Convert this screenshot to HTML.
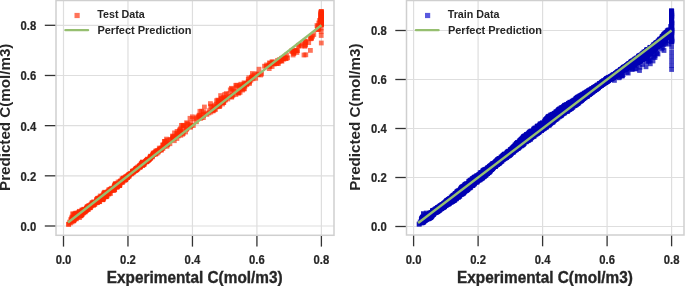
<!DOCTYPE html>
<html><head><meta charset="utf-8"><style>
html,body{margin:0;padding:0;background:#fff;width:685px;height:286px;overflow:hidden}
svg{display:block;will-change:transform}
text{font-family:"Liberation Sans", sans-serif;font-weight:bold;fill:#262626}
.tk{font-size:12.2px;stroke:#262626;stroke-width:0.2px}
.al{font-size:15.4px}
.lg{font-size:11px}
.sc rect{width:4.8px;height:4.8px}
</style></head><body>
<svg width="685" height="286" viewBox="0 0 685 286">
<rect width="685" height="286" fill="#fff"/>
<line x1="63.50" y1="0.50" x2="63.50" y2="235.30" stroke="#dedede" stroke-width="1.2"/>
<line x1="56.00" y1="226.00" x2="334.00" y2="226.00" stroke="#dedede" stroke-width="1.2"/>
<line x1="127.97" y1="0.50" x2="127.97" y2="235.30" stroke="#dedede" stroke-width="1.2"/>
<line x1="56.00" y1="175.82" x2="334.00" y2="175.82" stroke="#dedede" stroke-width="1.2"/>
<line x1="192.45" y1="0.50" x2="192.45" y2="235.30" stroke="#dedede" stroke-width="1.2"/>
<line x1="56.00" y1="125.65" x2="334.00" y2="125.65" stroke="#dedede" stroke-width="1.2"/>
<line x1="256.92" y1="0.50" x2="256.92" y2="235.30" stroke="#dedede" stroke-width="1.2"/>
<line x1="56.00" y1="75.48" x2="334.00" y2="75.48" stroke="#dedede" stroke-width="1.2"/>
<line x1="321.40" y1="0.50" x2="321.40" y2="235.30" stroke="#dedede" stroke-width="1.2"/>
<line x1="56.00" y1="25.30" x2="334.00" y2="25.30" stroke="#dedede" stroke-width="1.2"/>
<line x1="413.60" y1="0.50" x2="413.60" y2="235.00" stroke="#dedede" stroke-width="1.2"/>
<line x1="406.50" y1="226.50" x2="684.00" y2="226.50" stroke="#dedede" stroke-width="1.2"/>
<line x1="478.10" y1="0.50" x2="478.10" y2="235.00" stroke="#dedede" stroke-width="1.2"/>
<line x1="406.50" y1="177.50" x2="684.00" y2="177.50" stroke="#dedede" stroke-width="1.2"/>
<line x1="542.60" y1="0.50" x2="542.60" y2="235.00" stroke="#dedede" stroke-width="1.2"/>
<line x1="406.50" y1="128.50" x2="684.00" y2="128.50" stroke="#dedede" stroke-width="1.2"/>
<line x1="607.10" y1="0.50" x2="607.10" y2="235.00" stroke="#dedede" stroke-width="1.2"/>
<line x1="406.50" y1="79.50" x2="684.00" y2="79.50" stroke="#dedede" stroke-width="1.2"/>
<line x1="671.60" y1="0.50" x2="671.60" y2="235.00" stroke="#dedede" stroke-width="1.2"/>
<line x1="406.50" y1="30.50" x2="684.00" y2="30.50" stroke="#dedede" stroke-width="1.2"/>
<g class="sc" fill="rgb(255,40,0)" fill-opacity="0.65"><rect x="122.1" y="177.8" width="4.8" height="4.8"/><rect x="146.3" y="157.4" width="4.8" height="4.8"/><rect x="135.4" y="164.6" width="4.8" height="4.8"/><rect x="87.8" y="205.3" width="4.8" height="4.8"/><rect x="94.1" y="199.0" width="4.8" height="4.8"/><rect x="144.1" y="159.5" width="4.8" height="4.8"/><rect x="69.5" y="218.5" width="4.8" height="4.8"/><rect x="139.4" y="161.4" width="4.8" height="4.8"/><rect x="137.3" y="163.4" width="4.8" height="4.8"/><rect x="108.4" y="187.9" width="4.8" height="4.8"/><rect x="94.3" y="196.9" width="4.8" height="4.8"/><rect x="92.2" y="201.9" width="4.8" height="4.8"/><rect x="90.2" y="200.2" width="4.8" height="4.8"/><rect x="106.4" y="187.4" width="4.8" height="4.8"/><rect x="111.6" y="187.2" width="4.8" height="4.8"/><rect x="115.8" y="182.6" width="4.8" height="4.8"/><rect x="156.9" y="145.7" width="4.8" height="4.8"/><rect x="136.9" y="164.1" width="4.8" height="4.8"/><rect x="121.8" y="176.9" width="4.8" height="4.8"/><rect x="156.0" y="149.6" width="4.8" height="4.8"/><rect x="86.9" y="203.3" width="4.8" height="4.8"/><rect x="82.3" y="209.1" width="4.8" height="4.8"/><rect x="121.0" y="175.8" width="4.8" height="4.8"/><rect x="72.7" y="213.3" width="4.8" height="4.8"/><rect x="72.0" y="217.0" width="4.8" height="4.8"/><rect x="112.4" y="182.9" width="4.8" height="4.8"/><rect x="108.2" y="187.6" width="4.8" height="4.8"/><rect x="148.1" y="154.8" width="4.8" height="4.8"/><rect x="122.4" y="177.5" width="4.8" height="4.8"/><rect x="112.4" y="184.1" width="4.8" height="4.8"/><rect x="110.9" y="185.9" width="4.8" height="4.8"/><rect x="89.6" y="201.6" width="4.8" height="4.8"/><rect x="70.0" y="217.1" width="4.8" height="4.8"/><rect x="85.0" y="205.4" width="4.8" height="4.8"/><rect x="127.9" y="171.6" width="4.8" height="4.8"/><rect x="85.7" y="206.9" width="4.8" height="4.8"/><rect x="100.0" y="194.5" width="4.8" height="4.8"/><rect x="69.4" y="215.8" width="4.8" height="4.8"/><rect x="140.2" y="159.7" width="4.8" height="4.8"/><rect x="81.8" y="207.5" width="4.8" height="4.8"/><rect x="91.3" y="199.3" width="4.8" height="4.8"/><rect x="144.8" y="157.1" width="4.8" height="4.8"/><rect x="112.0" y="187.3" width="4.8" height="4.8"/><rect x="141.8" y="160.4" width="4.8" height="4.8"/><rect x="123.3" y="174.4" width="4.8" height="4.8"/><rect x="132.3" y="168.5" width="4.8" height="4.8"/><rect x="76.6" y="209.7" width="4.8" height="4.8"/><rect x="114.7" y="184.1" width="4.8" height="4.8"/><rect x="111.8" y="184.2" width="4.8" height="4.8"/><rect x="143.9" y="159.0" width="4.8" height="4.8"/><rect x="99.3" y="194.0" width="4.8" height="4.8"/><rect x="119.7" y="179.6" width="4.8" height="4.8"/><rect x="73.9" y="211.5" width="4.8" height="4.8"/><rect x="101.5" y="193.0" width="4.8" height="4.8"/><rect x="96.0" y="199.1" width="4.8" height="4.8"/><rect x="81.5" y="207.2" width="4.8" height="4.8"/><rect x="139.0" y="162.0" width="4.8" height="4.8"/><rect x="100.8" y="194.9" width="4.8" height="4.8"/><rect x="154.7" y="149.2" width="4.8" height="4.8"/><rect x="119.0" y="179.0" width="4.8" height="4.8"/><rect x="120.3" y="178.4" width="4.8" height="4.8"/><rect x="123.2" y="176.9" width="4.8" height="4.8"/><rect x="126.6" y="172.2" width="4.8" height="4.8"/><rect x="81.5" y="206.8" width="4.8" height="4.8"/><rect x="106.0" y="191.1" width="4.8" height="4.8"/><rect x="89.0" y="202.7" width="4.8" height="4.8"/><rect x="102.8" y="190.5" width="4.8" height="4.8"/><rect x="77.0" y="210.7" width="4.8" height="4.8"/><rect x="153.3" y="148.8" width="4.8" height="4.8"/><rect x="86.9" y="204.5" width="4.8" height="4.8"/><rect x="126.2" y="172.5" width="4.8" height="4.8"/><rect x="94.1" y="197.7" width="4.8" height="4.8"/><rect x="144.2" y="159.0" width="4.8" height="4.8"/><rect x="125.3" y="174.9" width="4.8" height="4.8"/><rect x="79.9" y="208.4" width="4.8" height="4.8"/><rect x="141.6" y="161.9" width="4.8" height="4.8"/><rect x="150.8" y="152.0" width="4.8" height="4.8"/><rect x="146.9" y="157.0" width="4.8" height="4.8"/><rect x="117.2" y="183.1" width="4.8" height="4.8"/><rect x="81.1" y="209.3" width="4.8" height="4.8"/><rect x="85.0" y="205.0" width="4.8" height="4.8"/><rect x="149.1" y="154.2" width="4.8" height="4.8"/><rect x="115.7" y="179.6" width="4.8" height="4.8"/><rect x="84.0" y="205.7" width="4.8" height="4.8"/><rect x="145.1" y="157.6" width="4.8" height="4.8"/><rect x="123.5" y="176.5" width="4.8" height="4.8"/><rect x="117.2" y="183.0" width="4.8" height="4.8"/><rect x="100.5" y="193.4" width="4.8" height="4.8"/><rect x="103.5" y="194.1" width="4.8" height="4.8"/><rect x="89.0" y="203.0" width="4.8" height="4.8"/><rect x="72.2" y="215.7" width="4.8" height="4.8"/><rect x="144.4" y="158.9" width="4.8" height="4.8"/><rect x="108.4" y="186.8" width="4.8" height="4.8"/><rect x="115.3" y="183.0" width="4.8" height="4.8"/><rect x="95.9" y="196.8" width="4.8" height="4.8"/><rect x="133.2" y="168.1" width="4.8" height="4.8"/><rect x="71.1" y="218.2" width="4.8" height="4.8"/><rect x="100.2" y="197.4" width="4.8" height="4.8"/><rect x="71.6" y="215.0" width="4.8" height="4.8"/><rect x="79.2" y="211.1" width="4.8" height="4.8"/><rect x="153.3" y="151.8" width="4.8" height="4.8"/><rect x="124.9" y="175.1" width="4.8" height="4.8"/><rect x="105.0" y="189.6" width="4.8" height="4.8"/><rect x="113.2" y="181.5" width="4.8" height="4.8"/><rect x="144.1" y="158.1" width="4.8" height="4.8"/><rect x="97.8" y="193.6" width="4.8" height="4.8"/><rect x="119.0" y="179.5" width="4.8" height="4.8"/><rect x="127.2" y="171.9" width="4.8" height="4.8"/><rect x="98.8" y="193.9" width="4.8" height="4.8"/><rect x="112.8" y="181.9" width="4.8" height="4.8"/><rect x="134.4" y="166.5" width="4.8" height="4.8"/><rect x="147.4" y="156.1" width="4.8" height="4.8"/><rect x="81.5" y="209.9" width="4.8" height="4.8"/><rect x="149.6" y="154.2" width="4.8" height="4.8"/><rect x="69.5" y="216.7" width="4.8" height="4.8"/><rect x="133.3" y="167.7" width="4.8" height="4.8"/><rect x="138.5" y="163.1" width="4.8" height="4.8"/><rect x="80.4" y="208.6" width="4.8" height="4.8"/><rect x="104.2" y="192.4" width="4.8" height="4.8"/><rect x="138.9" y="161.3" width="4.8" height="4.8"/><rect x="70.2" y="216.3" width="4.8" height="4.8"/><rect x="122.3" y="177.1" width="4.8" height="4.8"/><rect x="136.9" y="164.6" width="4.8" height="4.8"/><rect x="112.3" y="187.1" width="4.8" height="4.8"/><rect x="130.9" y="168.9" width="4.8" height="4.8"/><rect x="87.9" y="205.2" width="4.8" height="4.8"/><rect x="85.5" y="205.7" width="4.8" height="4.8"/><rect x="99.4" y="196.1" width="4.8" height="4.8"/><rect x="83.9" y="205.9" width="4.8" height="4.8"/><rect x="98.0" y="195.2" width="4.8" height="4.8"/><rect x="151.1" y="151.3" width="4.8" height="4.8"/><rect x="117.5" y="179.7" width="4.8" height="4.8"/><rect x="97.5" y="195.4" width="4.8" height="4.8"/><rect x="91.7" y="200.5" width="4.8" height="4.8"/><rect x="151.6" y="152.1" width="4.8" height="4.8"/><rect x="106.4" y="188.5" width="4.8" height="4.8"/><rect x="154.9" y="148.1" width="4.8" height="4.8"/><rect x="112.5" y="184.7" width="4.8" height="4.8"/><rect x="113.0" y="183.6" width="4.8" height="4.8"/><rect x="146.2" y="157.0" width="4.8" height="4.8"/><rect x="132.4" y="167.7" width="4.8" height="4.8"/><rect x="118.2" y="178.4" width="4.8" height="4.8"/><rect x="104.8" y="193.5" width="4.8" height="4.8"/><rect x="144.6" y="158.5" width="4.8" height="4.8"/><rect x="103.6" y="194.4" width="4.8" height="4.8"/><rect x="148.6" y="154.2" width="4.8" height="4.8"/><rect x="74.7" y="211.9" width="4.8" height="4.8"/><rect x="105.1" y="190.9" width="4.8" height="4.8"/><rect x="112.9" y="182.4" width="4.8" height="4.8"/><rect x="151.4" y="152.1" width="4.8" height="4.8"/><rect x="89.9" y="200.8" width="4.8" height="4.8"/><rect x="138.1" y="164.5" width="4.8" height="4.8"/><rect x="126.6" y="173.7" width="4.8" height="4.8"/><rect x="130.2" y="169.1" width="4.8" height="4.8"/><rect x="122.4" y="175.4" width="4.8" height="4.8"/><rect x="153.8" y="148.6" width="4.8" height="4.8"/><rect x="96.8" y="199.2" width="4.8" height="4.8"/><rect x="102.4" y="189.8" width="4.8" height="4.8"/><rect x="85.9" y="206.9" width="4.8" height="4.8"/><rect x="73.2" y="216.3" width="4.8" height="4.8"/><rect x="86.7" y="203.9" width="4.8" height="4.8"/><rect x="147.9" y="155.9" width="4.8" height="4.8"/><rect x="141.1" y="161.5" width="4.8" height="4.8"/><rect x="78.3" y="213.5" width="4.8" height="4.8"/><rect x="120.2" y="176.7" width="4.8" height="4.8"/><rect x="109.4" y="185.8" width="4.8" height="4.8"/><rect x="119.4" y="178.4" width="4.8" height="4.8"/><rect x="125.1" y="173.7" width="4.8" height="4.8"/><rect x="94.6" y="199.1" width="4.8" height="4.8"/><rect x="152.6" y="150.4" width="4.8" height="4.8"/><rect x="108.2" y="187.9" width="4.8" height="4.8"/><rect x="122.3" y="176.6" width="4.8" height="4.8"/><rect x="122.9" y="175.1" width="4.8" height="4.8"/><rect x="84.3" y="207.7" width="4.8" height="4.8"/><rect x="74.1" y="214.7" width="4.8" height="4.8"/><rect x="103.5" y="194.2" width="4.8" height="4.8"/><rect x="134.3" y="167.1" width="4.8" height="4.8"/><rect x="138.9" y="161.5" width="4.8" height="4.8"/><rect x="131.3" y="168.5" width="4.8" height="4.8"/><rect x="78.4" y="213.2" width="4.8" height="4.8"/><rect x="147.7" y="154.9" width="4.8" height="4.8"/><rect x="137.7" y="162.9" width="4.8" height="4.8"/><rect x="144.5" y="159.1" width="4.8" height="4.8"/><rect x="113.2" y="181.4" width="4.8" height="4.8"/><rect x="147.9" y="154.8" width="4.8" height="4.8"/><rect x="72.9" y="212.3" width="4.8" height="4.8"/><rect x="71.5" y="215.3" width="4.8" height="4.8"/><rect x="70.7" y="218.0" width="4.8" height="4.8"/><rect x="90.1" y="202.3" width="4.8" height="4.8"/><rect x="89.7" y="202.3" width="4.8" height="4.8"/><rect x="84.6" y="204.6" width="4.8" height="4.8"/><rect x="117.0" y="182.4" width="4.8" height="4.8"/><rect x="72.3" y="212.4" width="4.8" height="4.8"/><rect x="119.0" y="179.2" width="4.8" height="4.8"/><rect x="82.8" y="209.5" width="4.8" height="4.8"/><rect x="126.7" y="173.6" width="4.8" height="4.8"/><rect x="70.8" y="214.7" width="4.8" height="4.8"/><rect x="95.0" y="198.8" width="4.8" height="4.8"/><rect x="150.1" y="153.2" width="4.8" height="4.8"/><rect x="114.5" y="181.3" width="4.8" height="4.8"/><rect x="138.6" y="162.2" width="4.8" height="4.8"/><rect x="124.9" y="173.7" width="4.8" height="4.8"/><rect x="120.8" y="175.9" width="4.8" height="4.8"/><rect x="84.9" y="204.2" width="4.8" height="4.8"/><rect x="117.6" y="182.6" width="4.8" height="4.8"/><rect x="72.3" y="215.3" width="4.8" height="4.8"/><rect x="137.7" y="164.1" width="4.8" height="4.8"/><rect x="152.4" y="150.1" width="4.8" height="4.8"/><rect x="142.4" y="160.5" width="4.8" height="4.8"/><rect x="73.2" y="214.1" width="4.8" height="4.8"/><rect x="97.3" y="199.3" width="4.8" height="4.8"/><rect x="95.6" y="196.3" width="4.8" height="4.8"/><rect x="78.4" y="210.3" width="4.8" height="4.8"/><rect x="122.2" y="176.2" width="4.8" height="4.8"/><rect x="137.3" y="165.0" width="4.8" height="4.8"/><rect x="95.2" y="195.9" width="4.8" height="4.8"/><rect x="143.2" y="159.0" width="4.8" height="4.8"/><rect x="137.3" y="164.1" width="4.8" height="4.8"/><rect x="79.7" y="212.2" width="4.8" height="4.8"/><rect x="134.6" y="166.8" width="4.8" height="4.8"/><rect x="145.0" y="158.1" width="4.8" height="4.8"/><rect x="85.4" y="204.8" width="4.8" height="4.8"/><rect x="117.6" y="179.2" width="4.8" height="4.8"/><rect x="123.2" y="177.2" width="4.8" height="4.8"/><rect x="120.7" y="179.0" width="4.8" height="4.8"/><rect x="77.0" y="208.9" width="4.8" height="4.8"/><rect x="125.2" y="174.8" width="4.8" height="4.8"/><rect x="122.7" y="177.5" width="4.8" height="4.8"/><rect x="139.7" y="162.9" width="4.8" height="4.8"/><rect x="137.8" y="163.3" width="4.8" height="4.8"/><rect x="96.4" y="196.8" width="4.8" height="4.8"/><rect x="130.6" y="168.8" width="4.8" height="4.8"/><rect x="143.6" y="158.6" width="4.8" height="4.8"/><rect x="145.9" y="158.2" width="4.8" height="4.8"/><rect x="82.4" y="209.1" width="4.8" height="4.8"/><rect x="71.3" y="218.6" width="4.8" height="4.8"/><rect x="124.3" y="173.9" width="4.8" height="4.8"/><rect x="86.9" y="204.3" width="4.8" height="4.8"/><rect x="116.7" y="183.0" width="4.8" height="4.8"/><rect x="150.8" y="150.6" width="4.8" height="4.8"/><rect x="100.8" y="196.5" width="4.8" height="4.8"/><rect x="90.1" y="202.5" width="4.8" height="4.8"/><rect x="107.4" y="188.5" width="4.8" height="4.8"/><rect x="124.9" y="175.0" width="4.8" height="4.8"/><rect x="77.4" y="210.3" width="4.8" height="4.8"/><rect x="100.9" y="191.8" width="4.8" height="4.8"/><rect x="80.1" y="207.7" width="4.8" height="4.8"/><rect x="125.3" y="173.6" width="4.8" height="4.8"/><rect x="140.3" y="162.8" width="4.8" height="4.8"/><rect x="100.6" y="196.8" width="4.8" height="4.8"/><rect x="100.1" y="193.6" width="4.8" height="4.8"/><rect x="114.6" y="185.0" width="4.8" height="4.8"/><rect x="86.9" y="203.7" width="4.8" height="4.8"/><rect x="89.6" y="202.4" width="4.8" height="4.8"/><rect x="96.6" y="195.5" width="4.8" height="4.8"/><rect x="107.5" y="187.0" width="4.8" height="4.8"/><rect x="75.8" y="214.8" width="4.8" height="4.8"/><rect x="133.3" y="166.6" width="4.8" height="4.8"/><rect x="118.0" y="179.1" width="4.8" height="4.8"/><rect x="94.0" y="200.4" width="4.8" height="4.8"/><rect x="75.4" y="212.2" width="4.8" height="4.8"/><rect x="134.2" y="165.8" width="4.8" height="4.8"/><rect x="79.9" y="210.6" width="4.8" height="4.8"/><rect x="80.1" y="210.5" width="4.8" height="4.8"/><rect x="79.9" y="208.8" width="4.8" height="4.8"/><rect x="75.8" y="210.8" width="4.8" height="4.8"/><rect x="147.1" y="156.8" width="4.8" height="4.8"/><rect x="91.5" y="200.4" width="4.8" height="4.8"/><rect x="94.6" y="197.4" width="4.8" height="4.8"/><rect x="140.5" y="161.4" width="4.8" height="4.8"/><rect x="121.6" y="175.9" width="4.8" height="4.8"/><rect x="84.6" y="206.3" width="4.8" height="4.8"/><rect x="105.5" y="191.1" width="4.8" height="4.8"/><rect x="145.1" y="156.7" width="4.8" height="4.8"/><rect x="100.5" y="197.1" width="4.8" height="4.8"/><rect x="129.6" y="170.7" width="4.8" height="4.8"/><rect x="77.0" y="209.5" width="4.8" height="4.8"/><rect x="131.1" y="169.7" width="4.8" height="4.8"/><rect x="135.4" y="166.1" width="4.8" height="4.8"/><rect x="139.8" y="160.0" width="4.8" height="4.8"/><rect x="126.4" y="172.9" width="4.8" height="4.8"/><rect x="100.1" y="197.2" width="4.8" height="4.8"/><rect x="74.3" y="213.8" width="4.8" height="4.8"/><rect x="112.8" y="181.8" width="4.8" height="4.8"/><rect x="133.7" y="166.2" width="4.8" height="4.8"/><rect x="84.9" y="206.0" width="4.8" height="4.8"/><rect x="91.2" y="202.6" width="4.8" height="4.8"/><rect x="114.3" y="182.4" width="4.8" height="4.8"/><rect x="132.9" y="167.5" width="4.8" height="4.8"/><rect x="146.2" y="157.2" width="4.8" height="4.8"/><rect x="79.4" y="207.7" width="4.8" height="4.8"/><rect x="84.3" y="206.7" width="4.8" height="4.8"/><rect x="137.5" y="164.5" width="4.8" height="4.8"/><rect x="123.8" y="175.9" width="4.8" height="4.8"/><rect x="130.5" y="168.8" width="4.8" height="4.8"/><rect x="157.1" y="146.9" width="4.8" height="4.8"/><rect x="150.2" y="152.8" width="4.8" height="4.8"/><rect x="141.4" y="161.9" width="4.8" height="4.8"/><rect x="135.5" y="166.4" width="4.8" height="4.8"/><rect x="102.1" y="192.9" width="4.8" height="4.8"/><rect x="123.5" y="176.7" width="4.8" height="4.8"/><rect x="84.3" y="207.1" width="4.8" height="4.8"/><rect x="133.9" y="167.2" width="4.8" height="4.8"/><rect x="133.8" y="166.9" width="4.8" height="4.8"/><rect x="130.5" y="168.8" width="4.8" height="4.8"/><rect x="106.4" y="191.7" width="4.8" height="4.8"/><rect x="100.7" y="196.4" width="4.8" height="4.8"/><rect x="104.3" y="190.4" width="4.8" height="4.8"/><rect x="71.8" y="213.0" width="4.8" height="4.8"/><rect x="141.5" y="161.7" width="4.8" height="4.8"/><rect x="114.8" y="182.9" width="4.8" height="4.8"/><rect x="101.5" y="195.4" width="4.8" height="4.8"/><rect x="115.3" y="184.2" width="4.8" height="4.8"/><rect x="130.6" y="169.6" width="4.8" height="4.8"/><rect x="101.0" y="194.7" width="4.8" height="4.8"/><rect x="140.3" y="163.0" width="4.8" height="4.8"/><rect x="148.3" y="154.6" width="4.8" height="4.8"/><rect x="101.5" y="190.7" width="4.8" height="4.8"/><rect x="80.4" y="210.0" width="4.8" height="4.8"/><rect x="134.0" y="167.5" width="4.8" height="4.8"/><rect x="156.6" y="147.8" width="4.8" height="4.8"/><rect x="81.3" y="210.5" width="4.8" height="4.8"/><rect x="129.8" y="169.8" width="4.8" height="4.8"/><rect x="139.8" y="161.9" width="4.8" height="4.8"/><rect x="148.4" y="155.5" width="4.8" height="4.8"/><rect x="79.2" y="212.6" width="4.8" height="4.8"/><rect x="76.6" y="210.4" width="4.8" height="4.8"/><rect x="155.9" y="148.6" width="4.8" height="4.8"/><rect x="78.7" y="212.2" width="4.8" height="4.8"/><rect x="83.7" y="208.2" width="4.8" height="4.8"/><rect x="117.7" y="179.8" width="4.8" height="4.8"/><rect x="106.5" y="188.9" width="4.8" height="4.8"/><rect x="133.1" y="166.9" width="4.8" height="4.8"/><rect x="84.8" y="207.0" width="4.8" height="4.8"/><rect x="147.8" y="155.7" width="4.8" height="4.8"/><rect x="87.1" y="205.4" width="4.8" height="4.8"/><rect x="134.8" y="165.4" width="4.8" height="4.8"/><rect x="74.6" y="210.7" width="4.8" height="4.8"/><rect x="108.9" y="186.3" width="4.8" height="4.8"/><rect x="71.7" y="216.8" width="4.8" height="4.8"/><rect x="95.2" y="199.8" width="4.8" height="4.8"/><rect x="95.1" y="200.2" width="4.8" height="4.8"/><rect x="130.4" y="169.8" width="4.8" height="4.8"/><rect x="107.3" y="190.6" width="4.8" height="4.8"/><rect x="73.7" y="213.4" width="4.8" height="4.8"/><rect x="156.9" y="147.9" width="4.8" height="4.8"/><rect x="145.5" y="157.7" width="4.8" height="4.8"/><rect x="148.0" y="155.0" width="4.8" height="4.8"/><rect x="89.5" y="200.6" width="4.8" height="4.8"/><rect x="102.1" y="191.1" width="4.8" height="4.8"/><rect x="87.9" y="204.8" width="4.8" height="4.8"/><rect x="79.4" y="211.9" width="4.8" height="4.8"/><rect x="71.8" y="215.7" width="4.8" height="4.8"/><rect x="111.5" y="188.1" width="4.8" height="4.8"/><rect x="79.2" y="208.9" width="4.8" height="4.8"/><rect x="83.7" y="207.6" width="4.8" height="4.8"/><rect x="143.0" y="159.3" width="4.8" height="4.8"/><rect x="109.8" y="188.1" width="4.8" height="4.8"/><rect x="84.3" y="206.4" width="4.8" height="4.8"/><rect x="126.0" y="174.0" width="4.8" height="4.8"/><rect x="91.2" y="202.6" width="4.8" height="4.8"/><rect x="113.5" y="184.5" width="4.8" height="4.8"/><rect x="92.6" y="200.2" width="4.8" height="4.8"/><rect x="112.6" y="183.1" width="4.8" height="4.8"/><rect x="122.4" y="177.0" width="4.8" height="4.8"/><rect x="114.3" y="184.4" width="4.8" height="4.8"/><rect x="102.2" y="190.4" width="4.8" height="4.8"/><rect x="136.7" y="164.0" width="4.8" height="4.8"/><rect x="144.1" y="158.0" width="4.8" height="4.8"/><rect x="83.9" y="206.7" width="4.8" height="4.8"/><rect x="80.3" y="210.4" width="4.8" height="4.8"/><rect x="78.4" y="213.2" width="4.8" height="4.8"/><rect x="154.8" y="150.7" width="4.8" height="4.8"/><rect x="150.5" y="152.0" width="4.8" height="4.8"/><rect x="88.2" y="202.3" width="4.8" height="4.8"/><rect x="153.6" y="150.9" width="4.8" height="4.8"/><rect x="86.3" y="203.3" width="4.8" height="4.8"/><rect x="111.7" y="184.7" width="4.8" height="4.8"/><rect x="110.9" y="187.7" width="4.8" height="4.8"/><rect x="147.9" y="154.5" width="4.8" height="4.8"/><rect x="72.4" y="211.5" width="4.8" height="4.8"/><rect x="95.4" y="196.2" width="4.8" height="4.8"/><rect x="119.9" y="180.2" width="4.8" height="4.8"/><rect x="74.5" y="214.2" width="4.8" height="4.8"/><rect x="88.7" y="203.9" width="4.8" height="4.8"/><rect x="108.1" y="191.1" width="4.8" height="4.8"/><rect x="144.8" y="158.5" width="4.8" height="4.8"/><rect x="134.1" y="166.3" width="4.8" height="4.8"/><rect x="140.1" y="159.8" width="4.8" height="4.8"/><rect x="134.1" y="166.2" width="4.8" height="4.8"/><rect x="129.3" y="171.0" width="4.8" height="4.8"/><rect x="142.0" y="160.1" width="4.8" height="4.8"/><rect x="127.0" y="172.3" width="4.8" height="4.8"/><rect x="131.8" y="168.8" width="4.8" height="4.8"/><rect x="94.2" y="199.4" width="4.8" height="4.8"/><rect x="82.9" y="208.2" width="4.8" height="4.8"/><rect x="133.7" y="167.4" width="4.8" height="4.8"/><rect x="82.8" y="208.7" width="4.8" height="4.8"/><rect x="148.3" y="153.7" width="4.8" height="4.8"/><rect x="119.6" y="176.5" width="4.8" height="4.8"/><rect x="96.6" y="199.1" width="4.8" height="4.8"/><rect x="150.0" y="154.5" width="4.8" height="4.8"/><rect x="81.9" y="207.5" width="4.8" height="4.8"/><rect x="112.4" y="183.3" width="4.8" height="4.8"/><rect x="76.6" y="212.4" width="4.8" height="4.8"/><rect x="153.1" y="151.1" width="4.8" height="4.8"/><rect x="117.7" y="181.0" width="4.8" height="4.8"/><rect x="137.9" y="163.9" width="4.8" height="4.8"/><rect x="92.5" y="201.8" width="4.8" height="4.8"/><rect x="137.7" y="163.6" width="4.8" height="4.8"/><rect x="128.9" y="171.5" width="4.8" height="4.8"/><rect x="123.7" y="174.6" width="4.8" height="4.8"/><rect x="151.4" y="151.0" width="4.8" height="4.8"/><rect x="105.4" y="189.8" width="4.8" height="4.8"/><rect x="103.9" y="194.1" width="4.8" height="4.8"/><rect x="127.9" y="171.0" width="4.8" height="4.8"/><rect x="140.7" y="160.3" width="4.8" height="4.8"/><rect x="97.0" y="197.6" width="4.8" height="4.8"/><rect x="126.0" y="172.9" width="4.8" height="4.8"/><rect x="86.4" y="204.0" width="4.8" height="4.8"/><rect x="183.2" y="129.6" width="4.8" height="4.8"/><rect x="222.4" y="96.1" width="4.8" height="4.8"/><rect x="158.8" y="146.9" width="4.8" height="4.8"/><rect x="196.7" y="112.8" width="4.8" height="4.8"/><rect x="207.2" y="108.2" width="4.8" height="4.8"/><rect x="160.6" y="145.9" width="4.8" height="4.8"/><rect x="180.6" y="129.1" width="4.8" height="4.8"/><rect x="234.4" y="82.9" width="4.8" height="4.8"/><rect x="243.0" y="81.3" width="4.8" height="4.8"/><rect x="229.3" y="94.8" width="4.8" height="4.8"/><rect x="170.2" y="133.6" width="4.8" height="4.8"/><rect x="221.5" y="97.0" width="4.8" height="4.8"/><rect x="194.0" y="119.4" width="4.8" height="4.8"/><rect x="170.3" y="135.9" width="4.8" height="4.8"/><rect x="196.6" y="114.8" width="4.8" height="4.8"/><rect x="235.9" y="89.6" width="4.8" height="4.8"/><rect x="231.7" y="88.8" width="4.8" height="4.8"/><rect x="188.9" y="123.0" width="4.8" height="4.8"/><rect x="161.5" y="143.5" width="4.8" height="4.8"/><rect x="233.9" y="84.7" width="4.8" height="4.8"/><rect x="242.1" y="83.0" width="4.8" height="4.8"/><rect x="199.2" y="108.8" width="4.8" height="4.8"/><rect x="174.9" y="132.9" width="4.8" height="4.8"/><rect x="202.0" y="104.6" width="4.8" height="4.8"/><rect x="215.4" y="97.7" width="4.8" height="4.8"/><rect x="196.7" y="113.8" width="4.8" height="4.8"/><rect x="185.6" y="122.0" width="4.8" height="4.8"/><rect x="176.8" y="128.8" width="4.8" height="4.8"/><rect x="180.9" y="124.5" width="4.8" height="4.8"/><rect x="160.6" y="142.7" width="4.8" height="4.8"/><rect x="177.4" y="127.3" width="4.8" height="4.8"/><rect x="238.7" y="85.0" width="4.8" height="4.8"/><rect x="158.0" y="146.6" width="4.8" height="4.8"/><rect x="218.2" y="93.2" width="4.8" height="4.8"/><rect x="223.7" y="95.4" width="4.8" height="4.8"/><rect x="190.0" y="114.4" width="4.8" height="4.8"/><rect x="206.5" y="110.6" width="4.8" height="4.8"/><rect x="174.5" y="136.1" width="4.8" height="4.8"/><rect x="212.9" y="107.2" width="4.8" height="4.8"/><rect x="216.5" y="98.1" width="4.8" height="4.8"/><rect x="218.9" y="96.6" width="4.8" height="4.8"/><rect x="197.5" y="108.9" width="4.8" height="4.8"/><rect x="240.4" y="86.6" width="4.8" height="4.8"/><rect x="230.7" y="92.6" width="4.8" height="4.8"/><rect x="204.5" y="112.0" width="4.8" height="4.8"/><rect x="214.2" y="101.7" width="4.8" height="4.8"/><rect x="179.0" y="123.0" width="4.8" height="4.8"/><rect x="237.8" y="82.7" width="4.8" height="4.8"/><rect x="210.9" y="108.4" width="4.8" height="4.8"/><rect x="233.4" y="82.9" width="4.8" height="4.8"/><rect x="180.2" y="131.8" width="4.8" height="4.8"/><rect x="241.7" y="80.4" width="4.8" height="4.8"/><rect x="164.9" y="142.5" width="4.8" height="4.8"/><rect x="200.9" y="115.2" width="4.8" height="4.8"/><rect x="165.4" y="141.9" width="4.8" height="4.8"/><rect x="171.9" y="138.3" width="4.8" height="4.8"/><rect x="221.5" y="98.3" width="4.8" height="4.8"/><rect x="161.7" y="143.9" width="4.8" height="4.8"/><rect x="188.1" y="124.9" width="4.8" height="4.8"/><rect x="172.1" y="130.5" width="4.8" height="4.8"/><rect x="229.3" y="94.1" width="4.8" height="4.8"/><rect x="163.0" y="139.4" width="4.8" height="4.8"/><rect x="184.2" y="120.3" width="4.8" height="4.8"/><rect x="229.8" y="93.0" width="4.8" height="4.8"/><rect x="214.6" y="104.5" width="4.8" height="4.8"/><rect x="216.1" y="98.8" width="4.8" height="4.8"/><rect x="242.6" y="83.8" width="4.8" height="4.8"/><rect x="158.9" y="147.9" width="4.8" height="4.8"/><rect x="212.6" y="106.3" width="4.8" height="4.8"/><rect x="219.8" y="99.5" width="4.8" height="4.8"/><rect x="220.1" y="100.0" width="4.8" height="4.8"/><rect x="217.0" y="101.5" width="4.8" height="4.8"/><rect x="162.2" y="139.1" width="4.8" height="4.8"/><rect x="163.2" y="141.1" width="4.8" height="4.8"/><rect x="222.3" y="92.1" width="4.8" height="4.8"/><rect x="208.0" y="101.2" width="4.8" height="4.8"/><rect x="178.0" y="126.4" width="4.8" height="4.8"/><rect x="158.1" y="146.8" width="4.8" height="4.8"/><rect x="201.1" y="109.4" width="4.8" height="4.8"/><rect x="163.7" y="140.5" width="4.8" height="4.8"/><rect x="220.1" y="101.6" width="4.8" height="4.8"/><rect x="184.6" y="126.1" width="4.8" height="4.8"/><rect x="225.4" y="96.6" width="4.8" height="4.8"/><rect x="164.1" y="136.7" width="4.8" height="4.8"/><rect x="197.7" y="113.0" width="4.8" height="4.8"/><rect x="164.5" y="143.9" width="4.8" height="4.8"/><rect x="223.0" y="97.7" width="4.8" height="4.8"/><rect x="203.4" y="110.7" width="4.8" height="4.8"/><rect x="175.7" y="132.7" width="4.8" height="4.8"/><rect x="239.7" y="83.9" width="4.8" height="4.8"/><rect x="214.2" y="98.3" width="4.8" height="4.8"/><rect x="184.2" y="126.9" width="4.8" height="4.8"/><rect x="229.7" y="86.6" width="4.8" height="4.8"/><rect x="187.9" y="124.0" width="4.8" height="4.8"/><rect x="237.7" y="89.9" width="4.8" height="4.8"/><rect x="180.9" y="131.0" width="4.8" height="4.8"/><rect x="241.9" y="86.4" width="4.8" height="4.8"/><rect x="161.5" y="143.0" width="4.8" height="4.8"/><rect x="218.9" y="96.1" width="4.8" height="4.8"/><rect x="180.4" y="122.9" width="4.8" height="4.8"/><rect x="191.7" y="116.3" width="4.8" height="4.8"/><rect x="210.1" y="108.4" width="4.8" height="4.8"/><rect x="160.3" y="142.6" width="4.8" height="4.8"/><rect x="174.7" y="129.0" width="4.8" height="4.8"/><rect x="164.8" y="137.9" width="4.8" height="4.8"/><rect x="219.3" y="99.4" width="4.8" height="4.8"/><rect x="174.5" y="131.0" width="4.8" height="4.8"/><rect x="198.1" y="116.0" width="4.8" height="4.8"/><rect x="183.5" y="125.3" width="4.8" height="4.8"/><rect x="175.8" y="133.6" width="4.8" height="4.8"/><rect x="237.1" y="84.0" width="4.8" height="4.8"/><rect x="198.9" y="115.3" width="4.8" height="4.8"/><rect x="211.4" y="104.2" width="4.8" height="4.8"/><rect x="216.2" y="100.7" width="4.8" height="4.8"/><rect x="226.6" y="91.5" width="4.8" height="4.8"/><rect x="178.0" y="128.6" width="4.8" height="4.8"/><rect x="162.7" y="142.7" width="4.8" height="4.8"/><rect x="195.4" y="114.4" width="4.8" height="4.8"/><rect x="170.3" y="134.4" width="4.8" height="4.8"/><rect x="158.7" y="145.6" width="4.8" height="4.8"/><rect x="235.6" y="90.5" width="4.8" height="4.8"/><rect x="209.3" y="104.7" width="4.8" height="4.8"/><rect x="190.9" y="123.1" width="4.8" height="4.8"/><rect x="167.5" y="137.4" width="4.8" height="4.8"/><rect x="221.2" y="100.0" width="4.8" height="4.8"/><rect x="201.1" y="113.3" width="4.8" height="4.8"/><rect x="170.6" y="136.5" width="4.8" height="4.8"/><rect x="241.7" y="81.7" width="4.8" height="4.8"/><rect x="238.5" y="81.8" width="4.8" height="4.8"/><rect x="236.3" y="90.7" width="4.8" height="4.8"/><rect x="227.1" y="94.3" width="4.8" height="4.8"/><rect x="201.0" y="112.0" width="4.8" height="4.8"/><rect x="181.2" y="123.2" width="4.8" height="4.8"/><rect x="211.5" y="107.6" width="4.8" height="4.8"/><rect x="168.7" y="137.1" width="4.8" height="4.8"/><rect x="208.4" y="109.7" width="4.8" height="4.8"/><rect x="161.7" y="141.8" width="4.8" height="4.8"/><rect x="158.3" y="147.0" width="4.8" height="4.8"/><rect x="217.1" y="104.1" width="4.8" height="4.8"/><rect x="184.8" y="121.2" width="4.8" height="4.8"/><rect x="215.5" y="103.1" width="4.8" height="4.8"/><rect x="222.9" y="96.5" width="4.8" height="4.8"/><rect x="227.9" y="87.5" width="4.8" height="4.8"/><rect x="208.3" y="103.9" width="4.8" height="4.8"/><rect x="229.0" y="85.9" width="4.8" height="4.8"/><rect x="212.1" y="102.7" width="4.8" height="4.8"/><rect x="236.3" y="89.9" width="4.8" height="4.8"/><rect x="233.5" y="92.1" width="4.8" height="4.8"/><rect x="160.1" y="145.7" width="4.8" height="4.8"/><rect x="178.4" y="132.9" width="4.8" height="4.8"/><rect x="188.7" y="120.2" width="4.8" height="4.8"/><rect x="177.1" y="128.5" width="4.8" height="4.8"/><rect x="170.8" y="134.5" width="4.8" height="4.8"/><rect x="231.4" y="88.5" width="4.8" height="4.8"/><rect x="159.0" y="146.4" width="4.8" height="4.8"/><rect x="171.3" y="134.8" width="4.8" height="4.8"/><rect x="221.2" y="95.0" width="4.8" height="4.8"/><rect x="174.7" y="132.2" width="4.8" height="4.8"/><rect x="177.6" y="130.1" width="4.8" height="4.8"/><rect x="240.1" y="87.7" width="4.8" height="4.8"/><rect x="221.4" y="100.1" width="4.8" height="4.8"/><rect x="193.8" y="115.4" width="4.8" height="4.8"/><rect x="167.5" y="141.3" width="4.8" height="4.8"/><rect x="178.5" y="129.2" width="4.8" height="4.8"/><rect x="241.5" y="86.4" width="4.8" height="4.8"/><rect x="223.9" y="91.2" width="4.8" height="4.8"/><rect x="162.0" y="139.0" width="4.8" height="4.8"/><rect x="216.4" y="103.9" width="4.8" height="4.8"/><rect x="187.6" y="115.9" width="4.8" height="4.8"/><rect x="217.5" y="103.4" width="4.8" height="4.8"/><rect x="271.5" y="61.3" width="4.8" height="4.8"/><rect x="267.6" y="60.9" width="4.8" height="4.8"/><rect x="316.3" y="26.0" width="4.8" height="4.8"/><rect x="291.7" y="48.6" width="4.8" height="4.8"/><rect x="269.7" y="64.1" width="4.8" height="4.8"/><rect x="266.8" y="63.7" width="4.8" height="4.8"/><rect x="298.7" y="41.7" width="4.8" height="4.8"/><rect x="249.1" y="75.1" width="4.8" height="4.8"/><rect x="302.6" y="43.6" width="4.8" height="4.8"/><rect x="290.9" y="49.4" width="4.8" height="4.8"/><rect x="271.9" y="61.6" width="4.8" height="4.8"/><rect x="294.1" y="47.9" width="4.8" height="4.8"/><rect x="269.2" y="61.4" width="4.8" height="4.8"/><rect x="252.0" y="72.3" width="4.8" height="4.8"/><rect x="270.6" y="60.2" width="4.8" height="4.8"/><rect x="246.4" y="75.4" width="4.8" height="4.8"/><rect x="248.5" y="77.9" width="4.8" height="4.8"/><rect x="272.2" y="60.6" width="4.8" height="4.8"/><rect x="303.2" y="42.3" width="4.8" height="4.8"/><rect x="255.9" y="72.2" width="4.8" height="4.8"/><rect x="276.9" y="57.3" width="4.8" height="4.8"/><rect x="315.0" y="27.2" width="4.8" height="4.8"/><rect x="303.4" y="38.8" width="4.8" height="4.8"/><rect x="309.2" y="35.8" width="4.8" height="4.8"/><rect x="291.2" y="50.8" width="4.8" height="4.8"/><rect x="284.1" y="52.7" width="4.8" height="4.8"/><rect x="283.5" y="56.2" width="4.8" height="4.8"/><rect x="285.2" y="55.4" width="4.8" height="4.8"/><rect x="274.2" y="61.2" width="4.8" height="4.8"/><rect x="266.5" y="63.0" width="4.8" height="4.8"/><rect x="258.2" y="72.6" width="4.8" height="4.8"/><rect x="247.2" y="81.0" width="4.8" height="4.8"/><rect x="267.1" y="63.5" width="4.8" height="4.8"/><rect x="298.9" y="43.5" width="4.8" height="4.8"/><rect x="281.1" y="56.1" width="4.8" height="4.8"/><rect x="253.3" y="75.9" width="4.8" height="4.8"/><rect x="302.4" y="43.6" width="4.8" height="4.8"/><rect x="245.8" y="79.3" width="4.8" height="4.8"/><rect x="311.4" y="32.1" width="4.8" height="4.8"/><rect x="289.3" y="48.4" width="4.8" height="4.8"/><rect x="281.4" y="56.8" width="4.8" height="4.8"/><rect x="270.3" y="59.5" width="4.8" height="4.8"/><rect x="303.2" y="40.1" width="4.8" height="4.8"/><rect x="243.9" y="81.3" width="4.8" height="4.8"/><rect x="244.4" y="82.3" width="4.8" height="4.8"/><rect x="278.5" y="58.3" width="4.8" height="4.8"/><rect x="262.1" y="63.8" width="4.8" height="4.8"/><rect x="269.5" y="59.5" width="4.8" height="4.8"/><rect x="279.8" y="56.2" width="4.8" height="4.8"/><rect x="245.9" y="77.0" width="4.8" height="4.8"/><rect x="315.3" y="24.3" width="4.8" height="4.8"/><rect x="291.5" y="51.0" width="4.8" height="4.8"/><rect x="249.2" y="74.7" width="4.8" height="4.8"/><rect x="296.4" y="43.6" width="4.8" height="4.8"/><rect x="279.5" y="58.8" width="4.8" height="4.8"/><rect x="292.2" y="48.3" width="4.8" height="4.8"/><rect x="296.3" y="42.9" width="4.8" height="4.8"/><rect x="316.0" y="27.2" width="4.8" height="4.8"/><rect x="250.5" y="73.4" width="4.8" height="4.8"/><rect x="316.3" y="23.2" width="4.8" height="4.8"/><rect x="275.1" y="58.1" width="4.8" height="4.8"/><rect x="255.7" y="71.8" width="4.8" height="4.8"/><rect x="267.5" y="63.9" width="4.8" height="4.8"/><rect x="266.8" y="66.2" width="4.8" height="4.8"/><rect x="308.7" y="36.0" width="4.8" height="4.8"/><rect x="278.8" y="58.2" width="4.8" height="4.8"/><rect x="247.3" y="79.4" width="4.8" height="4.8"/><rect x="294.5" y="50.1" width="4.8" height="4.8"/><rect x="276.7" y="59.1" width="4.8" height="4.8"/><rect x="302.4" y="38.9" width="4.8" height="4.8"/><rect x="246.1" y="79.3" width="4.8" height="4.8"/><rect x="306.3" y="40.2" width="4.8" height="4.8"/><rect x="308.5" y="35.2" width="4.8" height="4.8"/><rect x="244.0" y="81.4" width="4.8" height="4.8"/><rect x="275.1" y="60.9" width="4.8" height="4.8"/><rect x="250.7" y="76.4" width="4.8" height="4.8"/><rect x="279.2" y="55.9" width="4.8" height="4.8"/><rect x="248.6" y="76.3" width="4.8" height="4.8"/><rect x="308.0" y="36.4" width="4.8" height="4.8"/><rect x="254.6" y="71.3" width="4.8" height="4.8"/><rect x="290.7" y="52.6" width="4.8" height="4.8"/><rect x="289.5" y="49.1" width="4.8" height="4.8"/><rect x="263.7" y="63.9" width="4.8" height="4.8"/><rect x="256.6" y="66.8" width="4.8" height="4.8"/><rect x="310.2" y="33.8" width="4.8" height="4.8"/><rect x="245.7" y="80.8" width="4.8" height="4.8"/><rect x="259.2" y="71.6" width="4.8" height="4.8"/><rect x="264.2" y="62.5" width="4.8" height="4.8"/><rect x="283.7" y="56.0" width="4.8" height="4.8"/><rect x="267.1" y="60.5" width="4.8" height="4.8"/><rect x="250.0" y="71.1" width="4.8" height="4.8"/><rect x="282.6" y="54.7" width="4.8" height="4.8"/><rect x="295.2" y="48.2" width="4.8" height="4.8"/><rect x="293.7" y="48.4" width="4.8" height="4.8"/><rect x="276.1" y="61.0" width="4.8" height="4.8"/><rect x="318.9" y="9.0" width="4.8" height="4.8"/><rect x="318.9" y="9.3" width="4.8" height="4.8"/><rect x="318.8" y="9.6" width="4.8" height="4.8"/><rect x="318.7" y="9.9" width="4.8" height="4.8"/><rect x="318.8" y="10.2" width="4.8" height="4.8"/><rect x="318.7" y="10.5" width="4.8" height="4.8"/><rect x="318.9" y="10.8" width="4.8" height="4.8"/><rect x="318.8" y="11.1" width="4.8" height="4.8"/><rect x="318.7" y="11.4" width="4.8" height="4.8"/><rect x="318.9" y="11.7" width="4.8" height="4.8"/><rect x="318.8" y="12.0" width="4.8" height="4.8"/><rect x="318.7" y="12.3" width="4.8" height="4.8"/><rect x="318.8" y="12.6" width="4.8" height="4.8"/><rect x="318.8" y="12.9" width="4.8" height="4.8"/><rect x="319.0" y="13.2" width="4.8" height="4.8"/><rect x="318.7" y="13.5" width="4.8" height="4.8"/><rect x="318.8" y="13.8" width="4.8" height="4.8"/><rect x="319.0" y="14.1" width="4.8" height="4.8"/><rect x="318.8" y="14.4" width="4.8" height="4.8"/><rect x="318.9" y="14.7" width="4.8" height="4.8"/><rect x="318.6" y="15.0" width="4.8" height="4.8"/><rect x="318.8" y="15.3" width="4.8" height="4.8"/><rect x="318.7" y="15.6" width="4.8" height="4.8"/><rect x="319.0" y="15.9" width="4.8" height="4.8"/><rect x="318.8" y="16.2" width="4.8" height="4.8"/><rect x="318.7" y="16.5" width="4.8" height="4.8"/><rect x="318.6" y="16.8" width="4.8" height="4.8"/><rect x="318.8" y="17.1" width="4.8" height="4.8"/><rect x="318.6" y="17.4" width="4.8" height="4.8"/><rect x="318.8" y="17.7" width="4.8" height="4.8"/><rect x="318.9" y="18.0" width="4.8" height="4.8"/><rect x="318.7" y="18.3" width="4.8" height="4.8"/><rect x="318.7" y="18.6" width="4.8" height="4.8"/><rect x="318.7" y="18.9" width="4.8" height="4.8"/><rect x="318.7" y="19.2" width="4.8" height="4.8"/><rect x="318.9" y="19.5" width="4.8" height="4.8"/><rect x="318.6" y="19.8" width="4.8" height="4.8"/><rect x="318.9" y="20.1" width="4.8" height="4.8"/><rect x="318.7" y="20.4" width="4.8" height="4.8"/><rect x="318.9" y="20.7" width="4.8" height="4.8"/><rect x="318.9" y="21.0" width="4.8" height="4.8"/><rect x="318.7" y="21.3" width="4.8" height="4.8"/><rect x="318.9" y="21.6" width="4.8" height="4.8"/><rect x="319.0" y="21.9" width="4.8" height="4.8"/><rect x="318.8" y="22.2" width="4.8" height="4.8"/><rect x="318.9" y="22.5" width="4.8" height="4.8"/><rect x="316.4" y="20.6" width="4.8" height="4.8"/><rect x="314.6" y="23.1" width="4.8" height="4.8"/><rect x="317.1" y="18.1" width="4.8" height="4.8"/><rect x="318.8" y="25.6" width="4.8" height="4.8"/><rect x="318.8" y="29.1" width="4.8" height="4.8"/><rect x="318.8" y="33.1" width="4.8" height="4.8"/><rect x="318.9" y="40.6" width="4.8" height="4.8"/><rect x="303.4" y="52.4" width="4.8" height="4.8"/><rect x="308.0" y="48.0" width="4.8" height="4.8"/><rect x="301.6" y="52.6" width="4.8" height="4.8"/><rect x="66.1" y="221.9" width="4.8" height="4.8"/><rect x="66.3" y="221.9" width="4.8" height="4.8"/><rect x="67.2" y="219.7" width="4.8" height="4.8"/><rect x="68.3" y="217.2" width="4.8" height="4.8"/><rect x="69.5" y="214.7" width="4.8" height="4.8"/><rect x="70.4" y="211.3" width="4.8" height="4.8"/><rect x="70.6" y="212.2" width="4.8" height="4.8"/><rect x="68.1" y="220.6" width="4.8" height="4.8"/><rect x="69.6" y="219.6" width="4.8" height="4.8"/><rect x="71.7" y="217.8" width="4.8" height="4.8"/><rect x="74.1" y="216.4" width="4.8" height="4.8"/><rect x="77.2" y="215.1" width="4.8" height="4.8"/><rect x="69.1" y="218.1" width="4.8" height="4.8"/><rect x="71.1" y="215.6" width="4.8" height="4.8"/><rect x="73.2" y="210.8" width="4.8" height="4.8"/><rect x="74.6" y="212.1" width="4.8" height="4.8"/><rect x="72.6" y="213.6" width="4.8" height="4.8"/></g>
<g class="sc" fill="rgb(0,0,180)" fill-opacity="0.72"><rect x="499.0" y="158.4" width="4.8" height="4.8"/><rect x="462.4" y="184.7" width="4.8" height="4.8"/><rect x="603.4" y="79.5" width="4.8" height="4.8"/><rect x="622.2" y="64.6" width="4.8" height="4.8"/><rect x="470.2" y="178.4" width="4.8" height="4.8"/><rect x="447.3" y="196.3" width="4.8" height="4.8"/><rect x="506.4" y="149.9" width="4.8" height="4.8"/><rect x="574.1" y="99.6" width="4.8" height="4.8"/><rect x="509.5" y="148.3" width="4.8" height="4.8"/><rect x="657.7" y="37.2" width="4.8" height="4.8"/><rect x="615.0" y="70.8" width="4.8" height="4.8"/><rect x="645.9" y="50.6" width="4.8" height="4.8"/><rect x="567.6" y="107.0" width="4.8" height="4.8"/><rect x="606.2" y="76.8" width="4.8" height="4.8"/><rect x="654.5" y="41.2" width="4.8" height="4.8"/><rect x="428.0" y="214.8" width="4.8" height="4.8"/><rect x="561.4" y="110.9" width="4.8" height="4.8"/><rect x="465.5" y="181.4" width="4.8" height="4.8"/><rect x="615.9" y="71.2" width="4.8" height="4.8"/><rect x="476.8" y="176.2" width="4.8" height="4.8"/><rect x="602.7" y="80.0" width="4.8" height="4.8"/><rect x="501.5" y="155.5" width="4.8" height="4.8"/><rect x="580.4" y="94.8" width="4.8" height="4.8"/><rect x="587.2" y="89.9" width="4.8" height="4.8"/><rect x="644.0" y="48.3" width="4.8" height="4.8"/><rect x="635.0" y="60.3" width="4.8" height="4.8"/><rect x="527.5" y="130.2" width="4.8" height="4.8"/><rect x="589.7" y="89.8" width="4.8" height="4.8"/><rect x="464.3" y="184.2" width="4.8" height="4.8"/><rect x="443.5" y="202.4" width="4.8" height="4.8"/><rect x="595.9" y="84.8" width="4.8" height="4.8"/><rect x="643.6" y="50.4" width="4.8" height="4.8"/><rect x="603.9" y="78.0" width="4.8" height="4.8"/><rect x="547.0" y="119.4" width="4.8" height="4.8"/><rect x="575.0" y="99.3" width="4.8" height="4.8"/><rect x="599.8" y="79.4" width="4.8" height="4.8"/><rect x="560.1" y="108.8" width="4.8" height="4.8"/><rect x="509.0" y="151.3" width="4.8" height="4.8"/><rect x="629.7" y="60.3" width="4.8" height="4.8"/><rect x="510.6" y="148.3" width="4.8" height="4.8"/><rect x="642.8" y="49.3" width="4.8" height="4.8"/><rect x="617.0" y="68.8" width="4.8" height="4.8"/><rect x="615.4" y="69.4" width="4.8" height="4.8"/><rect x="625.5" y="62.7" width="4.8" height="4.8"/><rect x="663.3" y="37.1" width="4.8" height="4.8"/><rect x="664.1" y="34.9" width="4.8" height="4.8"/><rect x="543.2" y="120.7" width="4.8" height="4.8"/><rect x="512.5" y="147.9" width="4.8" height="4.8"/><rect x="600.6" y="81.5" width="4.8" height="4.8"/><rect x="658.7" y="38.1" width="4.8" height="4.8"/><rect x="575.1" y="94.9" width="4.8" height="4.8"/><rect x="425.6" y="213.3" width="4.8" height="4.8"/><rect x="428.7" y="213.1" width="4.8" height="4.8"/><rect x="534.0" y="130.2" width="4.8" height="4.8"/><rect x="614.1" y="71.6" width="4.8" height="4.8"/><rect x="638.8" y="56.9" width="4.8" height="4.8"/><rect x="512.0" y="145.6" width="4.8" height="4.8"/><rect x="547.1" y="119.4" width="4.8" height="4.8"/><rect x="546.1" y="118.2" width="4.8" height="4.8"/><rect x="442.6" y="200.5" width="4.8" height="4.8"/><rect x="419.4" y="215.6" width="4.8" height="4.8"/><rect x="548.8" y="113.8" width="4.8" height="4.8"/><rect x="544.0" y="117.3" width="4.8" height="4.8"/><rect x="632.9" y="58.0" width="4.8" height="4.8"/><rect x="464.1" y="184.8" width="4.8" height="4.8"/><rect x="630.1" y="58.5" width="4.8" height="4.8"/><rect x="486.3" y="166.6" width="4.8" height="4.8"/><rect x="552.6" y="115.6" width="4.8" height="4.8"/><rect x="594.1" y="84.2" width="4.8" height="4.8"/><rect x="455.1" y="189.6" width="4.8" height="4.8"/><rect x="653.3" y="44.5" width="4.8" height="4.8"/><rect x="656.2" y="39.7" width="4.8" height="4.8"/><rect x="659.2" y="35.8" width="4.8" height="4.8"/><rect x="419.8" y="217.0" width="4.8" height="4.8"/><rect x="578.4" y="98.0" width="4.8" height="4.8"/><rect x="585.2" y="91.0" width="4.8" height="4.8"/><rect x="636.9" y="55.5" width="4.8" height="4.8"/><rect x="469.0" y="181.4" width="4.8" height="4.8"/><rect x="449.9" y="193.8" width="4.8" height="4.8"/><rect x="619.5" y="67.7" width="4.8" height="4.8"/><rect x="483.9" y="168.8" width="4.8" height="4.8"/><rect x="435.5" y="209.0" width="4.8" height="4.8"/><rect x="441.9" y="203.7" width="4.8" height="4.8"/><rect x="578.8" y="96.3" width="4.8" height="4.8"/><rect x="551.8" y="114.1" width="4.8" height="4.8"/><rect x="604.2" y="78.3" width="4.8" height="4.8"/><rect x="618.9" y="68.7" width="4.8" height="4.8"/><rect x="419.9" y="218.7" width="4.8" height="4.8"/><rect x="650.0" y="46.0" width="4.8" height="4.8"/><rect x="636.8" y="57.7" width="4.8" height="4.8"/><rect x="650.0" y="48.3" width="4.8" height="4.8"/><rect x="609.4" y="73.9" width="4.8" height="4.8"/><rect x="514.1" y="147.3" width="4.8" height="4.8"/><rect x="480.6" y="169.6" width="4.8" height="4.8"/><rect x="644.9" y="52.0" width="4.8" height="4.8"/><rect x="523.2" y="139.0" width="4.8" height="4.8"/><rect x="539.9" y="124.7" width="4.8" height="4.8"/><rect x="592.0" y="87.6" width="4.8" height="4.8"/><rect x="589.5" y="89.6" width="4.8" height="4.8"/><rect x="590.8" y="88.6" width="4.8" height="4.8"/><rect x="573.5" y="101.8" width="4.8" height="4.8"/><rect x="545.0" y="123.1" width="4.8" height="4.8"/><rect x="609.0" y="76.5" width="4.8" height="4.8"/><rect x="517.1" y="143.4" width="4.8" height="4.8"/><rect x="484.1" y="167.1" width="4.8" height="4.8"/><rect x="644.1" y="47.8" width="4.8" height="4.8"/><rect x="628.5" y="62.5" width="4.8" height="4.8"/><rect x="596.8" y="83.3" width="4.8" height="4.8"/><rect x="460.8" y="190.4" width="4.8" height="4.8"/><rect x="430.5" y="210.8" width="4.8" height="4.8"/><rect x="647.4" y="49.4" width="4.8" height="4.8"/><rect x="652.5" y="47.0" width="4.8" height="4.8"/><rect x="486.6" y="165.8" width="4.8" height="4.8"/><rect x="574.9" y="95.7" width="4.8" height="4.8"/><rect x="423.7" y="215.2" width="4.8" height="4.8"/><rect x="516.6" y="143.7" width="4.8" height="4.8"/><rect x="593.4" y="84.7" width="4.8" height="4.8"/><rect x="508.5" y="149.4" width="4.8" height="4.8"/><rect x="618.9" y="68.1" width="4.8" height="4.8"/><rect x="645.0" y="47.3" width="4.8" height="4.8"/><rect x="453.1" y="192.5" width="4.8" height="4.8"/><rect x="589.5" y="87.6" width="4.8" height="4.8"/><rect x="512.2" y="147.5" width="4.8" height="4.8"/><rect x="462.3" y="184.6" width="4.8" height="4.8"/><rect x="505.6" y="153.9" width="4.8" height="4.8"/><rect x="538.4" y="123.2" width="4.8" height="4.8"/><rect x="640.8" y="52.2" width="4.8" height="4.8"/><rect x="608.6" y="74.6" width="4.8" height="4.8"/><rect x="420.5" y="219.5" width="4.8" height="4.8"/><rect x="433.2" y="208.6" width="4.8" height="4.8"/><rect x="665.1" y="30.4" width="4.8" height="4.8"/><rect x="556.9" y="113.1" width="4.8" height="4.8"/><rect x="570.2" y="100.8" width="4.8" height="4.8"/><rect x="506.5" y="152.8" width="4.8" height="4.8"/><rect x="624.9" y="63.5" width="4.8" height="4.8"/><rect x="557.0" y="111.8" width="4.8" height="4.8"/><rect x="565.8" y="107.6" width="4.8" height="4.8"/><rect x="480.9" y="173.2" width="4.8" height="4.8"/><rect x="611.4" y="72.6" width="4.8" height="4.8"/><rect x="472.2" y="175.6" width="4.8" height="4.8"/><rect x="453.2" y="195.4" width="4.8" height="4.8"/><rect x="567.0" y="106.4" width="4.8" height="4.8"/><rect x="625.1" y="62.2" width="4.8" height="4.8"/><rect x="491.7" y="161.6" width="4.8" height="4.8"/><rect x="493.9" y="160.0" width="4.8" height="4.8"/><rect x="456.2" y="192.5" width="4.8" height="4.8"/><rect x="568.4" y="100.6" width="4.8" height="4.8"/><rect x="609.9" y="74.9" width="4.8" height="4.8"/><rect x="450.3" y="194.8" width="4.8" height="4.8"/><rect x="551.6" y="114.3" width="4.8" height="4.8"/><rect x="552.7" y="110.5" width="4.8" height="4.8"/><rect x="445.6" y="198.0" width="4.8" height="4.8"/><rect x="550.4" y="117.7" width="4.8" height="4.8"/><rect x="486.5" y="168.9" width="4.8" height="4.8"/><rect x="468.5" y="179.6" width="4.8" height="4.8"/><rect x="663.0" y="31.6" width="4.8" height="4.8"/><rect x="441.6" y="201.5" width="4.8" height="4.8"/><rect x="504.2" y="152.4" width="4.8" height="4.8"/><rect x="572.3" y="102.7" width="4.8" height="4.8"/><rect x="519.4" y="138.9" width="4.8" height="4.8"/><rect x="423.6" y="216.6" width="4.8" height="4.8"/><rect x="633.5" y="56.6" width="4.8" height="4.8"/><rect x="478.4" y="172.0" width="4.8" height="4.8"/><rect x="521.1" y="136.9" width="4.8" height="4.8"/><rect x="644.0" y="51.1" width="4.8" height="4.8"/><rect x="659.1" y="40.2" width="4.8" height="4.8"/><rect x="645.5" y="52.8" width="4.8" height="4.8"/><rect x="520.9" y="135.9" width="4.8" height="4.8"/><rect x="603.3" y="78.3" width="4.8" height="4.8"/><rect x="629.1" y="61.5" width="4.8" height="4.8"/><rect x="468.0" y="183.3" width="4.8" height="4.8"/><rect x="659.0" y="39.4" width="4.8" height="4.8"/><rect x="444.3" y="198.9" width="4.8" height="4.8"/><rect x="581.9" y="91.3" width="4.8" height="4.8"/><rect x="478.3" y="176.1" width="4.8" height="4.8"/><rect x="472.4" y="177.7" width="4.8" height="4.8"/><rect x="453.2" y="191.8" width="4.8" height="4.8"/><rect x="652.3" y="43.8" width="4.8" height="4.8"/><rect x="450.9" y="196.0" width="4.8" height="4.8"/><rect x="644.9" y="51.4" width="4.8" height="4.8"/><rect x="460.2" y="186.3" width="4.8" height="4.8"/><rect x="500.7" y="153.7" width="4.8" height="4.8"/><rect x="471.5" y="178.5" width="4.8" height="4.8"/><rect x="663.6" y="30.0" width="4.8" height="4.8"/><rect x="442.2" y="203.7" width="4.8" height="4.8"/><rect x="632.3" y="58.0" width="4.8" height="4.8"/><rect x="493.5" y="162.8" width="4.8" height="4.8"/><rect x="654.8" y="40.0" width="4.8" height="4.8"/><rect x="604.8" y="78.0" width="4.8" height="4.8"/><rect x="484.5" y="168.2" width="4.8" height="4.8"/><rect x="545.4" y="115.7" width="4.8" height="4.8"/><rect x="459.1" y="188.5" width="4.8" height="4.8"/><rect x="519.9" y="141.5" width="4.8" height="4.8"/><rect x="425.7" y="213.2" width="4.8" height="4.8"/><rect x="587.8" y="89.2" width="4.8" height="4.8"/><rect x="566.0" y="105.5" width="4.8" height="4.8"/><rect x="486.4" y="169.8" width="4.8" height="4.8"/><rect x="422.5" y="214.8" width="4.8" height="4.8"/><rect x="651.5" y="45.4" width="4.8" height="4.8"/><rect x="450.1" y="198.5" width="4.8" height="4.8"/><rect x="500.3" y="155.3" width="4.8" height="4.8"/><rect x="425.5" y="214.5" width="4.8" height="4.8"/><rect x="514.0" y="145.5" width="4.8" height="4.8"/><rect x="518.6" y="137.4" width="4.8" height="4.8"/><rect x="551.2" y="118.7" width="4.8" height="4.8"/><rect x="499.3" y="155.1" width="4.8" height="4.8"/><rect x="481.0" y="171.1" width="4.8" height="4.8"/><rect x="613.6" y="72.5" width="4.8" height="4.8"/><rect x="488.2" y="163.8" width="4.8" height="4.8"/><rect x="501.4" y="153.2" width="4.8" height="4.8"/><rect x="540.7" y="123.7" width="4.8" height="4.8"/><rect x="486.9" y="168.4" width="4.8" height="4.8"/><rect x="599.0" y="82.4" width="4.8" height="4.8"/><rect x="440.0" y="204.5" width="4.8" height="4.8"/><rect x="499.1" y="156.6" width="4.8" height="4.8"/><rect x="523.3" y="134.6" width="4.8" height="4.8"/><rect x="483.0" y="168.1" width="4.8" height="4.8"/><rect x="627.0" y="61.2" width="4.8" height="4.8"/><rect x="506.8" y="152.8" width="4.8" height="4.8"/><rect x="523.3" y="138.6" width="4.8" height="4.8"/><rect x="535.2" y="128.2" width="4.8" height="4.8"/><rect x="624.6" y="64.3" width="4.8" height="4.8"/><rect x="473.3" y="179.3" width="4.8" height="4.8"/><rect x="624.2" y="63.2" width="4.8" height="4.8"/><rect x="653.8" y="41.5" width="4.8" height="4.8"/><rect x="485.0" y="166.7" width="4.8" height="4.8"/><rect x="461.1" y="189.3" width="4.8" height="4.8"/><rect x="614.3" y="70.8" width="4.8" height="4.8"/><rect x="496.6" y="158.9" width="4.8" height="4.8"/><rect x="475.5" y="175.7" width="4.8" height="4.8"/><rect x="438.5" y="203.8" width="4.8" height="4.8"/><rect x="571.1" y="100.4" width="4.8" height="4.8"/><rect x="651.0" y="42.4" width="4.8" height="4.8"/><rect x="637.2" y="55.0" width="4.8" height="4.8"/><rect x="564.9" y="105.5" width="4.8" height="4.8"/><rect x="527.7" y="134.6" width="4.8" height="4.8"/><rect x="660.8" y="36.5" width="4.8" height="4.8"/><rect x="582.6" y="92.0" width="4.8" height="4.8"/><rect x="655.8" y="42.2" width="4.8" height="4.8"/><rect x="589.5" y="87.0" width="4.8" height="4.8"/><rect x="591.6" y="85.5" width="4.8" height="4.8"/><rect x="592.6" y="86.9" width="4.8" height="4.8"/><rect x="450.3" y="196.5" width="4.8" height="4.8"/><rect x="481.7" y="174.3" width="4.8" height="4.8"/><rect x="435.5" y="205.0" width="4.8" height="4.8"/><rect x="649.9" y="45.5" width="4.8" height="4.8"/><rect x="665.2" y="32.4" width="4.8" height="4.8"/><rect x="568.9" y="104.6" width="4.8" height="4.8"/><rect x="457.8" y="190.4" width="4.8" height="4.8"/><rect x="450.0" y="199.1" width="4.8" height="4.8"/><rect x="529.6" y="133.2" width="4.8" height="4.8"/><rect x="515.9" y="145.3" width="4.8" height="4.8"/><rect x="467.6" y="179.5" width="4.8" height="4.8"/><rect x="441.3" y="204.6" width="4.8" height="4.8"/><rect x="579.4" y="95.4" width="4.8" height="4.8"/><rect x="615.2" y="72.1" width="4.8" height="4.8"/><rect x="434.8" y="206.2" width="4.8" height="4.8"/><rect x="495.8" y="159.0" width="4.8" height="4.8"/><rect x="493.5" y="161.3" width="4.8" height="4.8"/><rect x="553.3" y="112.3" width="4.8" height="4.8"/><rect x="568.8" y="103.7" width="4.8" height="4.8"/><rect x="520.8" y="141.0" width="4.8" height="4.8"/><rect x="633.4" y="57.5" width="4.8" height="4.8"/><rect x="515.9" y="141.7" width="4.8" height="4.8"/><rect x="494.3" y="162.2" width="4.8" height="4.8"/><rect x="608.9" y="74.5" width="4.8" height="4.8"/><rect x="627.5" y="63.2" width="4.8" height="4.8"/><rect x="636.3" y="57.1" width="4.8" height="4.8"/><rect x="461.1" y="184.5" width="4.8" height="4.8"/><rect x="467.9" y="177.9" width="4.8" height="4.8"/><rect x="533.6" y="126.2" width="4.8" height="4.8"/><rect x="658.6" y="37.1" width="4.8" height="4.8"/><rect x="572.7" y="99.4" width="4.8" height="4.8"/><rect x="573.4" y="102.0" width="4.8" height="4.8"/><rect x="500.0" y="153.6" width="4.8" height="4.8"/><rect x="664.2" y="31.5" width="4.8" height="4.8"/><rect x="464.4" y="184.3" width="4.8" height="4.8"/><rect x="557.6" y="109.2" width="4.8" height="4.8"/><rect x="586.2" y="89.7" width="4.8" height="4.8"/><rect x="619.6" y="66.9" width="4.8" height="4.8"/><rect x="620.5" y="67.9" width="4.8" height="4.8"/><rect x="514.8" y="143.1" width="4.8" height="4.8"/><rect x="486.2" y="168.8" width="4.8" height="4.8"/><rect x="661.6" y="36.5" width="4.8" height="4.8"/><rect x="556.0" y="107.3" width="4.8" height="4.8"/><rect x="489.0" y="167.2" width="4.8" height="4.8"/><rect x="453.4" y="192.8" width="4.8" height="4.8"/><rect x="617.9" y="68.9" width="4.8" height="4.8"/><rect x="629.1" y="61.2" width="4.8" height="4.8"/><rect x="560.2" y="104.9" width="4.8" height="4.8"/><rect x="514.2" y="141.7" width="4.8" height="4.8"/><rect x="582.4" y="94.0" width="4.8" height="4.8"/><rect x="661.7" y="38.0" width="4.8" height="4.8"/><rect x="562.3" y="109.5" width="4.8" height="4.8"/><rect x="613.9" y="72.6" width="4.8" height="4.8"/><rect x="637.4" y="53.3" width="4.8" height="4.8"/><rect x="606.4" y="77.1" width="4.8" height="4.8"/><rect x="539.6" y="126.1" width="4.8" height="4.8"/><rect x="463.3" y="185.0" width="4.8" height="4.8"/><rect x="591.5" y="86.1" width="4.8" height="4.8"/><rect x="624.9" y="64.5" width="4.8" height="4.8"/><rect x="657.4" y="37.8" width="4.8" height="4.8"/><rect x="456.9" y="194.0" width="4.8" height="4.8"/><rect x="447.3" y="197.3" width="4.8" height="4.8"/><rect x="576.6" y="98.9" width="4.8" height="4.8"/><rect x="623.8" y="66.6" width="4.8" height="4.8"/><rect x="438.1" y="205.9" width="4.8" height="4.8"/><rect x="571.1" y="99.1" width="4.8" height="4.8"/><rect x="485.1" y="169.6" width="4.8" height="4.8"/><rect x="666.4" y="30.3" width="4.8" height="4.8"/><rect x="508.6" y="150.6" width="4.8" height="4.8"/><rect x="439.5" y="202.9" width="4.8" height="4.8"/><rect x="612.8" y="73.6" width="4.8" height="4.8"/><rect x="493.6" y="162.7" width="4.8" height="4.8"/><rect x="522.9" y="134.5" width="4.8" height="4.8"/><rect x="451.5" y="193.4" width="4.8" height="4.8"/><rect x="501.1" y="156.4" width="4.8" height="4.8"/><rect x="452.2" y="193.0" width="4.8" height="4.8"/><rect x="482.9" y="170.0" width="4.8" height="4.8"/><rect x="562.4" y="107.7" width="4.8" height="4.8"/><rect x="493.2" y="162.3" width="4.8" height="4.8"/><rect x="584.3" y="93.0" width="4.8" height="4.8"/><rect x="642.1" y="51.4" width="4.8" height="4.8"/><rect x="561.8" y="110.8" width="4.8" height="4.8"/><rect x="426.3" y="211.4" width="4.8" height="4.8"/><rect x="656.7" y="37.9" width="4.8" height="4.8"/><rect x="468.1" y="181.0" width="4.8" height="4.8"/><rect x="504.8" y="153.4" width="4.8" height="4.8"/><rect x="549.5" y="115.6" width="4.8" height="4.8"/><rect x="572.3" y="102.8" width="4.8" height="4.8"/><rect x="503.8" y="152.8" width="4.8" height="4.8"/><rect x="528.2" y="132.9" width="4.8" height="4.8"/><rect x="574.3" y="95.6" width="4.8" height="4.8"/><rect x="532.3" y="127.1" width="4.8" height="4.8"/><rect x="489.3" y="164.9" width="4.8" height="4.8"/><rect x="520.8" y="135.6" width="4.8" height="4.8"/><rect x="514.4" y="145.7" width="4.8" height="4.8"/><rect x="491.4" y="161.7" width="4.8" height="4.8"/><rect x="567.8" y="105.4" width="4.8" height="4.8"/><rect x="545.9" y="116.8" width="4.8" height="4.8"/><rect x="521.0" y="138.2" width="4.8" height="4.8"/><rect x="594.7" y="85.1" width="4.8" height="4.8"/><rect x="620.2" y="66.8" width="4.8" height="4.8"/><rect x="579.7" y="95.1" width="4.8" height="4.8"/><rect x="503.6" y="153.8" width="4.8" height="4.8"/><rect x="650.9" y="46.5" width="4.8" height="4.8"/><rect x="445.0" y="197.9" width="4.8" height="4.8"/><rect x="618.5" y="67.2" width="4.8" height="4.8"/><rect x="523.4" y="137.5" width="4.8" height="4.8"/><rect x="517.4" y="144.6" width="4.8" height="4.8"/><rect x="627.8" y="61.3" width="4.8" height="4.8"/><rect x="581.3" y="95.2" width="4.8" height="4.8"/><rect x="660.1" y="34.7" width="4.8" height="4.8"/><rect x="636.4" y="53.9" width="4.8" height="4.8"/><rect x="448.0" y="199.3" width="4.8" height="4.8"/><rect x="543.7" y="121.7" width="4.8" height="4.8"/><rect x="609.1" y="75.1" width="4.8" height="4.8"/><rect x="439.6" y="203.5" width="4.8" height="4.8"/><rect x="553.4" y="113.9" width="4.8" height="4.8"/><rect x="664.8" y="33.6" width="4.8" height="4.8"/><rect x="478.3" y="175.3" width="4.8" height="4.8"/><rect x="448.1" y="198.2" width="4.8" height="4.8"/><rect x="490.8" y="165.0" width="4.8" height="4.8"/><rect x="504.4" y="151.0" width="4.8" height="4.8"/><rect x="489.9" y="164.7" width="4.8" height="4.8"/><rect x="526.1" y="130.8" width="4.8" height="4.8"/><rect x="625.4" y="65.3" width="4.8" height="4.8"/><rect x="547.2" y="119.5" width="4.8" height="4.8"/><rect x="565.0" y="105.4" width="4.8" height="4.8"/><rect x="446.2" y="197.1" width="4.8" height="4.8"/><rect x="435.2" y="207.2" width="4.8" height="4.8"/><rect x="654.5" y="40.4" width="4.8" height="4.8"/><rect x="505.1" y="151.0" width="4.8" height="4.8"/><rect x="653.6" y="41.0" width="4.8" height="4.8"/><rect x="502.2" y="151.8" width="4.8" height="4.8"/><rect x="577.4" y="98.6" width="4.8" height="4.8"/><rect x="582.9" y="93.9" width="4.8" height="4.8"/><rect x="441.5" y="203.5" width="4.8" height="4.8"/><rect x="436.8" y="205.4" width="4.8" height="4.8"/><rect x="528.5" y="135.0" width="4.8" height="4.8"/><rect x="450.7" y="193.4" width="4.8" height="4.8"/><rect x="492.4" y="162.2" width="4.8" height="4.8"/><rect x="467.7" y="182.6" width="4.8" height="4.8"/><rect x="496.6" y="157.5" width="4.8" height="4.8"/><rect x="532.0" y="127.9" width="4.8" height="4.8"/><rect x="496.2" y="156.6" width="4.8" height="4.8"/><rect x="502.2" y="154.7" width="4.8" height="4.8"/><rect x="539.4" y="121.8" width="4.8" height="4.8"/><rect x="588.1" y="91.2" width="4.8" height="4.8"/><rect x="429.6" y="211.3" width="4.8" height="4.8"/><rect x="666.0" y="33.2" width="4.8" height="4.8"/><rect x="525.8" y="138.0" width="4.8" height="4.8"/><rect x="647.6" y="47.2" width="4.8" height="4.8"/><rect x="421.0" y="216.3" width="4.8" height="4.8"/><rect x="433.4" y="207.8" width="4.8" height="4.8"/><rect x="443.7" y="201.3" width="4.8" height="4.8"/><rect x="645.0" y="50.2" width="4.8" height="4.8"/><rect x="521.1" y="138.4" width="4.8" height="4.8"/><rect x="628.6" y="59.7" width="4.8" height="4.8"/><rect x="591.1" y="85.6" width="4.8" height="4.8"/><rect x="440.9" y="201.7" width="4.8" height="4.8"/><rect x="508.7" y="147.2" width="4.8" height="4.8"/><rect x="501.2" y="153.2" width="4.8" height="4.8"/><rect x="531.3" y="129.4" width="4.8" height="4.8"/><rect x="605.7" y="77.1" width="4.8" height="4.8"/><rect x="439.9" y="202.9" width="4.8" height="4.8"/><rect x="648.4" y="47.3" width="4.8" height="4.8"/><rect x="537.1" y="122.7" width="4.8" height="4.8"/><rect x="509.7" y="149.3" width="4.8" height="4.8"/><rect x="591.8" y="86.2" width="4.8" height="4.8"/><rect x="487.6" y="168.9" width="4.8" height="4.8"/><rect x="595.5" y="84.7" width="4.8" height="4.8"/><rect x="522.1" y="138.1" width="4.8" height="4.8"/><rect x="537.5" y="125.0" width="4.8" height="4.8"/><rect x="466.0" y="184.0" width="4.8" height="4.8"/><rect x="469.5" y="182.8" width="4.8" height="4.8"/><rect x="632.3" y="61.1" width="4.8" height="4.8"/><rect x="561.8" y="104.4" width="4.8" height="4.8"/><rect x="523.7" y="136.2" width="4.8" height="4.8"/><rect x="610.9" y="73.3" width="4.8" height="4.8"/><rect x="644.9" y="51.9" width="4.8" height="4.8"/><rect x="458.5" y="188.3" width="4.8" height="4.8"/><rect x="666.1" y="33.1" width="4.8" height="4.8"/><rect x="422.7" y="218.1" width="4.8" height="4.8"/><rect x="571.1" y="100.3" width="4.8" height="4.8"/><rect x="484.4" y="167.9" width="4.8" height="4.8"/><rect x="481.6" y="168.2" width="4.8" height="4.8"/><rect x="541.6" y="123.1" width="4.8" height="4.8"/><rect x="568.7" y="101.3" width="4.8" height="4.8"/><rect x="527.3" y="133.5" width="4.8" height="4.8"/><rect x="595.8" y="84.8" width="4.8" height="4.8"/><rect x="654.3" y="40.8" width="4.8" height="4.8"/><rect x="461.0" y="191.0" width="4.8" height="4.8"/><rect x="478.0" y="173.4" width="4.8" height="4.8"/><rect x="570.0" y="103.4" width="4.8" height="4.8"/><rect x="520.7" y="135.8" width="4.8" height="4.8"/><rect x="497.2" y="159.8" width="4.8" height="4.8"/><rect x="544.0" y="116.3" width="4.8" height="4.8"/><rect x="591.6" y="86.8" width="4.8" height="4.8"/><rect x="644.0" y="49.0" width="4.8" height="4.8"/><rect x="652.0" y="44.1" width="4.8" height="4.8"/><rect x="622.0" y="66.4" width="4.8" height="4.8"/><rect x="505.0" y="149.9" width="4.8" height="4.8"/><rect x="637.9" y="56.4" width="4.8" height="4.8"/><rect x="594.8" y="86.0" width="4.8" height="4.8"/><rect x="462.4" y="183.4" width="4.8" height="4.8"/><rect x="655.0" y="42.7" width="4.8" height="4.8"/><rect x="480.4" y="174.3" width="4.8" height="4.8"/><rect x="588.0" y="87.6" width="4.8" height="4.8"/><rect x="591.0" y="88.1" width="4.8" height="4.8"/><rect x="643.9" y="50.9" width="4.8" height="4.8"/><rect x="584.1" y="94.1" width="4.8" height="4.8"/><rect x="662.4" y="36.3" width="4.8" height="4.8"/><rect x="434.0" y="208.3" width="4.8" height="4.8"/><rect x="428.5" y="213.1" width="4.8" height="4.8"/><rect x="467.6" y="185.4" width="4.8" height="4.8"/><rect x="561.5" y="104.6" width="4.8" height="4.8"/><rect x="524.1" y="137.3" width="4.8" height="4.8"/><rect x="439.6" y="204.5" width="4.8" height="4.8"/><rect x="469.2" y="178.3" width="4.8" height="4.8"/><rect x="562.5" y="105.0" width="4.8" height="4.8"/><rect x="518.8" y="138.7" width="4.8" height="4.8"/><rect x="608.1" y="75.9" width="4.8" height="4.8"/><rect x="534.7" y="126.7" width="4.8" height="4.8"/><rect x="636.4" y="58.7" width="4.8" height="4.8"/><rect x="606.9" y="75.8" width="4.8" height="4.8"/><rect x="541.5" y="125.0" width="4.8" height="4.8"/><rect x="507.8" y="147.5" width="4.8" height="4.8"/><rect x="472.1" y="175.1" width="4.8" height="4.8"/><rect x="491.5" y="162.6" width="4.8" height="4.8"/><rect x="507.0" y="152.4" width="4.8" height="4.8"/><rect x="508.6" y="147.4" width="4.8" height="4.8"/><rect x="463.5" y="183.7" width="4.8" height="4.8"/><rect x="536.3" y="127.1" width="4.8" height="4.8"/><rect x="446.9" y="198.9" width="4.8" height="4.8"/><rect x="634.1" y="58.4" width="4.8" height="4.8"/><rect x="555.4" y="110.4" width="4.8" height="4.8"/><rect x="442.7" y="202.9" width="4.8" height="4.8"/><rect x="500.3" y="155.6" width="4.8" height="4.8"/><rect x="482.3" y="167.8" width="4.8" height="4.8"/><rect x="457.8" y="191.4" width="4.8" height="4.8"/><rect x="538.1" y="121.5" width="4.8" height="4.8"/><rect x="464.5" y="182.2" width="4.8" height="4.8"/><rect x="456.7" y="193.0" width="4.8" height="4.8"/><rect x="592.9" y="87.6" width="4.8" height="4.8"/><rect x="525.5" y="134.6" width="4.8" height="4.8"/><rect x="585.5" y="91.8" width="4.8" height="4.8"/><rect x="535.5" y="130.0" width="4.8" height="4.8"/><rect x="543.9" y="124.6" width="4.8" height="4.8"/><rect x="496.1" y="156.7" width="4.8" height="4.8"/><rect x="524.7" y="132.5" width="4.8" height="4.8"/><rect x="538.2" y="128.1" width="4.8" height="4.8"/><rect x="503.9" y="154.7" width="4.8" height="4.8"/><rect x="623.6" y="64.1" width="4.8" height="4.8"/><rect x="480.1" y="175.3" width="4.8" height="4.8"/><rect x="473.8" y="179.6" width="4.8" height="4.8"/><rect x="504.4" y="153.6" width="4.8" height="4.8"/><rect x="613.5" y="71.3" width="4.8" height="4.8"/><rect x="628.9" y="62.8" width="4.8" height="4.8"/><rect x="559.0" y="112.5" width="4.8" height="4.8"/><rect x="508.4" y="149.4" width="4.8" height="4.8"/><rect x="579.7" y="92.9" width="4.8" height="4.8"/><rect x="623.7" y="65.2" width="4.8" height="4.8"/><rect x="479.3" y="174.0" width="4.8" height="4.8"/><rect x="584.4" y="89.6" width="4.8" height="4.8"/><rect x="594.8" y="82.9" width="4.8" height="4.8"/><rect x="515.7" y="142.8" width="4.8" height="4.8"/><rect x="455.0" y="193.7" width="4.8" height="4.8"/><rect x="569.5" y="104.0" width="4.8" height="4.8"/><rect x="471.2" y="180.2" width="4.8" height="4.8"/><rect x="510.2" y="147.9" width="4.8" height="4.8"/><rect x="553.9" y="113.1" width="4.8" height="4.8"/><rect x="657.4" y="42.0" width="4.8" height="4.8"/><rect x="455.4" y="191.5" width="4.8" height="4.8"/><rect x="437.4" y="206.0" width="4.8" height="4.8"/><rect x="552.5" y="115.9" width="4.8" height="4.8"/><rect x="652.5" y="42.3" width="4.8" height="4.8"/><rect x="430.6" y="208.3" width="4.8" height="4.8"/><rect x="578.1" y="98.3" width="4.8" height="4.8"/><rect x="426.0" y="213.2" width="4.8" height="4.8"/><rect x="555.5" y="109.6" width="4.8" height="4.8"/><rect x="448.7" y="197.7" width="4.8" height="4.8"/><rect x="582.3" y="93.4" width="4.8" height="4.8"/><rect x="508.5" y="148.1" width="4.8" height="4.8"/><rect x="581.1" y="94.1" width="4.8" height="4.8"/><rect x="483.1" y="170.2" width="4.8" height="4.8"/><rect x="437.7" y="204.9" width="4.8" height="4.8"/><rect x="464.2" y="184.8" width="4.8" height="4.8"/><rect x="487.0" y="166.3" width="4.8" height="4.8"/><rect x="460.0" y="186.4" width="4.8" height="4.8"/><rect x="468.3" y="184.9" width="4.8" height="4.8"/><rect x="553.8" y="109.7" width="4.8" height="4.8"/><rect x="527.5" y="134.1" width="4.8" height="4.8"/><rect x="623.4" y="64.9" width="4.8" height="4.8"/><rect x="542.3" y="122.4" width="4.8" height="4.8"/><rect x="552.7" y="114.3" width="4.8" height="4.8"/><rect x="594.9" y="84.1" width="4.8" height="4.8"/><rect x="630.3" y="61.1" width="4.8" height="4.8"/><rect x="563.9" y="102.3" width="4.8" height="4.8"/><rect x="428.3" y="212.8" width="4.8" height="4.8"/><rect x="532.8" y="125.5" width="4.8" height="4.8"/><rect x="427.2" y="214.4" width="4.8" height="4.8"/><rect x="568.8" y="104.5" width="4.8" height="4.8"/><rect x="435.3" y="206.2" width="4.8" height="4.8"/><rect x="552.7" y="114.4" width="4.8" height="4.8"/><rect x="456.3" y="189.2" width="4.8" height="4.8"/><rect x="630.9" y="59.4" width="4.8" height="4.8"/><rect x="442.5" y="201.8" width="4.8" height="4.8"/><rect x="582.3" y="95.2" width="4.8" height="4.8"/><rect x="593.3" y="85.1" width="4.8" height="4.8"/><rect x="487.3" y="166.4" width="4.8" height="4.8"/><rect x="565.9" y="100.9" width="4.8" height="4.8"/><rect x="500.8" y="154.3" width="4.8" height="4.8"/><rect x="483.3" y="169.2" width="4.8" height="4.8"/><rect x="483.4" y="167.0" width="4.8" height="4.8"/><rect x="423.1" y="214.0" width="4.8" height="4.8"/><rect x="585.7" y="92.2" width="4.8" height="4.8"/><rect x="437.0" y="204.7" width="4.8" height="4.8"/><rect x="467.9" y="183.1" width="4.8" height="4.8"/><rect x="440.7" y="202.9" width="4.8" height="4.8"/><rect x="618.2" y="69.5" width="4.8" height="4.8"/><rect x="550.2" y="118.3" width="4.8" height="4.8"/><rect x="534.8" y="124.0" width="4.8" height="4.8"/><rect x="563.5" y="104.3" width="4.8" height="4.8"/><rect x="619.2" y="68.9" width="4.8" height="4.8"/><rect x="573.6" y="99.4" width="4.8" height="4.8"/><rect x="546.2" y="115.3" width="4.8" height="4.8"/><rect x="496.7" y="160.8" width="4.8" height="4.8"/><rect x="547.0" y="116.1" width="4.8" height="4.8"/><rect x="663.4" y="34.1" width="4.8" height="4.8"/><rect x="560.2" y="110.2" width="4.8" height="4.8"/><rect x="537.3" y="127.9" width="4.8" height="4.8"/><rect x="639.0" y="54.3" width="4.8" height="4.8"/><rect x="432.7" y="209.3" width="4.8" height="4.8"/><rect x="434.9" y="208.7" width="4.8" height="4.8"/><rect x="614.5" y="70.5" width="4.8" height="4.8"/><rect x="652.3" y="45.3" width="4.8" height="4.8"/><rect x="431.8" y="208.3" width="4.8" height="4.8"/><rect x="425.2" y="214.4" width="4.8" height="4.8"/><rect x="421.6" y="218.6" width="4.8" height="4.8"/><rect x="561.9" y="108.2" width="4.8" height="4.8"/><rect x="453.3" y="194.0" width="4.8" height="4.8"/><rect x="558.1" y="107.2" width="4.8" height="4.8"/><rect x="583.4" y="90.8" width="4.8" height="4.8"/><rect x="423.0" y="216.1" width="4.8" height="4.8"/><rect x="634.5" y="59.0" width="4.8" height="4.8"/><rect x="481.7" y="169.1" width="4.8" height="4.8"/><rect x="556.3" y="113.3" width="4.8" height="4.8"/><rect x="506.7" y="152.2" width="4.8" height="4.8"/><rect x="504.1" y="153.8" width="4.8" height="4.8"/><rect x="519.0" y="137.1" width="4.8" height="4.8"/><rect x="420.1" y="217.0" width="4.8" height="4.8"/><rect x="525.3" y="138.1" width="4.8" height="4.8"/><rect x="484.8" y="166.3" width="4.8" height="4.8"/><rect x="507.6" y="150.9" width="4.8" height="4.8"/><rect x="459.5" y="187.6" width="4.8" height="4.8"/><rect x="502.0" y="154.5" width="4.8" height="4.8"/><rect x="592.2" y="86.2" width="4.8" height="4.8"/><rect x="662.6" y="31.8" width="4.8" height="4.8"/><rect x="468.0" y="181.1" width="4.8" height="4.8"/><rect x="633.6" y="56.8" width="4.8" height="4.8"/><rect x="571.3" y="98.2" width="4.8" height="4.8"/><rect x="444.2" y="201.4" width="4.8" height="4.8"/><rect x="422.8" y="217.4" width="4.8" height="4.8"/><rect x="637.9" y="53.2" width="4.8" height="4.8"/><rect x="477.1" y="172.7" width="4.8" height="4.8"/><rect x="445.5" y="197.7" width="4.8" height="4.8"/><rect x="581.4" y="92.7" width="4.8" height="4.8"/><rect x="594.0" y="86.1" width="4.8" height="4.8"/><rect x="640.6" y="53.7" width="4.8" height="4.8"/><rect x="543.0" y="119.8" width="4.8" height="4.8"/><rect x="496.4" y="159.3" width="4.8" height="4.8"/><rect x="497.9" y="159.2" width="4.8" height="4.8"/><rect x="469.9" y="180.0" width="4.8" height="4.8"/><rect x="576.4" y="95.8" width="4.8" height="4.8"/><rect x="652.3" y="45.4" width="4.8" height="4.8"/><rect x="440.2" y="202.3" width="4.8" height="4.8"/><rect x="514.9" y="141.9" width="4.8" height="4.8"/><rect x="506.2" y="152.3" width="4.8" height="4.8"/><rect x="439.0" y="202.9" width="4.8" height="4.8"/><rect x="566.4" y="103.1" width="4.8" height="4.8"/><rect x="662.4" y="31.5" width="4.8" height="4.8"/><rect x="487.7" y="164.0" width="4.8" height="4.8"/><rect x="599.1" y="81.2" width="4.8" height="4.8"/><rect x="642.0" y="54.2" width="4.8" height="4.8"/><rect x="486.2" y="166.0" width="4.8" height="4.8"/><rect x="646.6" y="50.7" width="4.8" height="4.8"/><rect x="604.3" y="78.8" width="4.8" height="4.8"/><rect x="578.9" y="92.8" width="4.8" height="4.8"/><rect x="467.2" y="184.1" width="4.8" height="4.8"/><rect x="487.8" y="166.3" width="4.8" height="4.8"/><rect x="444.3" y="200.8" width="4.8" height="4.8"/><rect x="640.8" y="50.5" width="4.8" height="4.8"/><rect x="619.3" y="68.5" width="4.8" height="4.8"/><rect x="440.6" y="202.5" width="4.8" height="4.8"/><rect x="550.6" y="112.7" width="4.8" height="4.8"/><rect x="471.9" y="174.9" width="4.8" height="4.8"/><rect x="608.6" y="76.5" width="4.8" height="4.8"/><rect x="561.0" y="104.8" width="4.8" height="4.8"/><rect x="653.1" y="45.0" width="4.8" height="4.8"/><rect x="599.1" y="82.7" width="4.8" height="4.8"/><rect x="444.1" y="200.0" width="4.8" height="4.8"/><rect x="511.4" y="144.3" width="4.8" height="4.8"/><rect x="561.8" y="109.9" width="4.8" height="4.8"/><rect x="644.8" y="52.4" width="4.8" height="4.8"/><rect x="511.0" y="145.9" width="4.8" height="4.8"/><rect x="465.7" y="183.2" width="4.8" height="4.8"/><rect x="489.3" y="165.8" width="4.8" height="4.8"/><rect x="480.6" y="172.0" width="4.8" height="4.8"/><rect x="457.4" y="193.8" width="4.8" height="4.8"/><rect x="504.3" y="154.3" width="4.8" height="4.8"/><rect x="480.8" y="168.7" width="4.8" height="4.8"/><rect x="545.5" y="120.0" width="4.8" height="4.8"/><rect x="640.4" y="56.8" width="4.8" height="4.8"/><rect x="655.3" y="41.8" width="4.8" height="4.8"/><rect x="458.6" y="186.5" width="4.8" height="4.8"/><rect x="560.1" y="106.9" width="4.8" height="4.8"/><rect x="585.9" y="90.7" width="4.8" height="4.8"/><rect x="456.9" y="190.8" width="4.8" height="4.8"/><rect x="550.8" y="112.0" width="4.8" height="4.8"/><rect x="468.7" y="182.6" width="4.8" height="4.8"/><rect x="509.3" y="146.2" width="4.8" height="4.8"/><rect x="499.3" y="156.5" width="4.8" height="4.8"/><rect x="620.8" y="65.2" width="4.8" height="4.8"/><rect x="477.1" y="175.5" width="4.8" height="4.8"/><rect x="552.8" y="111.7" width="4.8" height="4.8"/><rect x="564.1" y="104.2" width="4.8" height="4.8"/><rect x="500.8" y="154.8" width="4.8" height="4.8"/><rect x="649.1" y="45.0" width="4.8" height="4.8"/><rect x="501.4" y="153.5" width="4.8" height="4.8"/><rect x="499.9" y="155.9" width="4.8" height="4.8"/><rect x="590.6" y="86.2" width="4.8" height="4.8"/><rect x="539.9" y="120.4" width="4.8" height="4.8"/><rect x="598.5" y="81.4" width="4.8" height="4.8"/><rect x="457.0" y="190.9" width="4.8" height="4.8"/><rect x="455.8" y="192.3" width="4.8" height="4.8"/><rect x="601.3" y="78.6" width="4.8" height="4.8"/><rect x="515.3" y="140.1" width="4.8" height="4.8"/><rect x="631.3" y="60.9" width="4.8" height="4.8"/><rect x="477.0" y="174.1" width="4.8" height="4.8"/><rect x="478.6" y="176.6" width="4.8" height="4.8"/><rect x="632.8" y="59.5" width="4.8" height="4.8"/><rect x="508.7" y="150.1" width="4.8" height="4.8"/><rect x="446.4" y="200.3" width="4.8" height="4.8"/><rect x="473.7" y="179.8" width="4.8" height="4.8"/><rect x="609.6" y="76.1" width="4.8" height="4.8"/><rect x="484.9" y="170.7" width="4.8" height="4.8"/><rect x="556.7" y="110.4" width="4.8" height="4.8"/><rect x="625.7" y="64.9" width="4.8" height="4.8"/><rect x="570.2" y="99.8" width="4.8" height="4.8"/><rect x="605.4" y="77.1" width="4.8" height="4.8"/><rect x="660.9" y="36.4" width="4.8" height="4.8"/><rect x="493.2" y="163.3" width="4.8" height="4.8"/><rect x="636.0" y="58.5" width="4.8" height="4.8"/><rect x="555.5" y="113.6" width="4.8" height="4.8"/><rect x="469.0" y="183.3" width="4.8" height="4.8"/><rect x="451.9" y="193.4" width="4.8" height="4.8"/><rect x="500.3" y="155.1" width="4.8" height="4.8"/><rect x="453.3" y="195.8" width="4.8" height="4.8"/><rect x="610.1" y="74.9" width="4.8" height="4.8"/><rect x="557.1" y="107.8" width="4.8" height="4.8"/><rect x="430.1" y="208.6" width="4.8" height="4.8"/><rect x="636.5" y="56.3" width="4.8" height="4.8"/><rect x="566.7" y="102.2" width="4.8" height="4.8"/><rect x="528.8" y="128.6" width="4.8" height="4.8"/><rect x="454.1" y="191.2" width="4.8" height="4.8"/><rect x="535.4" y="123.8" width="4.8" height="4.8"/><rect x="646.1" y="51.3" width="4.8" height="4.8"/><rect x="563.8" y="105.4" width="4.8" height="4.8"/><rect x="532.8" y="127.5" width="4.8" height="4.8"/><rect x="569.6" y="99.0" width="4.8" height="4.8"/><rect x="555.4" y="115.6" width="4.8" height="4.8"/><rect x="573.5" y="96.7" width="4.8" height="4.8"/><rect x="468.4" y="181.5" width="4.8" height="4.8"/><rect x="456.0" y="188.6" width="4.8" height="4.8"/><rect x="422.3" y="217.4" width="4.8" height="4.8"/><rect x="625.0" y="65.9" width="4.8" height="4.8"/><rect x="420.0" y="218.3" width="4.8" height="4.8"/><rect x="482.6" y="173.3" width="4.8" height="4.8"/><rect x="564.0" y="107.1" width="4.8" height="4.8"/><rect x="542.9" y="117.5" width="4.8" height="4.8"/><rect x="642.2" y="54.6" width="4.8" height="4.8"/><rect x="471.9" y="177.4" width="4.8" height="4.8"/><rect x="447.4" y="197.8" width="4.8" height="4.8"/><rect x="458.9" y="191.3" width="4.8" height="4.8"/><rect x="542.4" y="125.4" width="4.8" height="4.8"/><rect x="491.3" y="161.3" width="4.8" height="4.8"/><rect x="531.9" y="129.6" width="4.8" height="4.8"/><rect x="589.4" y="89.0" width="4.8" height="4.8"/><rect x="498.7" y="157.4" width="4.8" height="4.8"/><rect x="583.8" y="91.3" width="4.8" height="4.8"/><rect x="424.1" y="214.2" width="4.8" height="4.8"/><rect x="554.3" y="112.7" width="4.8" height="4.8"/><rect x="643.7" y="54.0" width="4.8" height="4.8"/><rect x="650.3" y="44.9" width="4.8" height="4.8"/><rect x="560.7" y="109.9" width="4.8" height="4.8"/><rect x="662.4" y="32.5" width="4.8" height="4.8"/><rect x="477.4" y="176.9" width="4.8" height="4.8"/><rect x="492.8" y="160.4" width="4.8" height="4.8"/><rect x="530.1" y="131.0" width="4.8" height="4.8"/><rect x="545.1" y="120.4" width="4.8" height="4.8"/><rect x="621.9" y="65.0" width="4.8" height="4.8"/><rect x="529.9" y="133.6" width="4.8" height="4.8"/><rect x="431.1" y="210.3" width="4.8" height="4.8"/><rect x="592.3" y="86.0" width="4.8" height="4.8"/><rect x="474.3" y="175.7" width="4.8" height="4.8"/><rect x="637.5" y="53.1" width="4.8" height="4.8"/><rect x="471.6" y="180.4" width="4.8" height="4.8"/><rect x="492.4" y="162.1" width="4.8" height="4.8"/><rect x="453.2" y="195.2" width="4.8" height="4.8"/><rect x="494.1" y="162.4" width="4.8" height="4.8"/><rect x="567.9" y="104.4" width="4.8" height="4.8"/><rect x="485.3" y="169.9" width="4.8" height="4.8"/><rect x="431.2" y="210.4" width="4.8" height="4.8"/><rect x="564.3" y="107.2" width="4.8" height="4.8"/><rect x="601.0" y="80.7" width="4.8" height="4.8"/><rect x="446.1" y="198.7" width="4.8" height="4.8"/><rect x="524.2" y="132.2" width="4.8" height="4.8"/><rect x="436.1" y="208.2" width="4.8" height="4.8"/><rect x="423.4" y="216.4" width="4.8" height="4.8"/><rect x="511.9" y="145.5" width="4.8" height="4.8"/><rect x="490.1" y="166.4" width="4.8" height="4.8"/><rect x="635.7" y="60.0" width="4.8" height="4.8"/><rect x="422.5" y="216.1" width="4.8" height="4.8"/><rect x="579.1" y="95.6" width="4.8" height="4.8"/><rect x="600.7" y="80.1" width="4.8" height="4.8"/><rect x="522.4" y="138.1" width="4.8" height="4.8"/><rect x="543.1" y="122.6" width="4.8" height="4.8"/><rect x="480.3" y="170.7" width="4.8" height="4.8"/><rect x="481.6" y="171.1" width="4.8" height="4.8"/><rect x="432.3" y="209.7" width="4.8" height="4.8"/><rect x="643.3" y="50.6" width="4.8" height="4.8"/><rect x="426.3" y="216.1" width="4.8" height="4.8"/><rect x="453.1" y="191.7" width="4.8" height="4.8"/><rect x="598.4" y="80.6" width="4.8" height="4.8"/><rect x="532.4" y="131.9" width="4.8" height="4.8"/><rect x="545.9" y="122.4" width="4.8" height="4.8"/><rect x="492.0" y="160.7" width="4.8" height="4.8"/><rect x="459.1" y="189.4" width="4.8" height="4.8"/><rect x="616.9" y="70.5" width="4.8" height="4.8"/><rect x="449.8" y="198.3" width="4.8" height="4.8"/><rect x="492.4" y="162.5" width="4.8" height="4.8"/><rect x="605.2" y="78.7" width="4.8" height="4.8"/><rect x="492.9" y="163.5" width="4.8" height="4.8"/><rect x="654.6" y="41.6" width="4.8" height="4.8"/><rect x="462.6" y="188.4" width="4.8" height="4.8"/><rect x="549.7" y="113.7" width="4.8" height="4.8"/><rect x="552.3" y="112.8" width="4.8" height="4.8"/><rect x="543.0" y="121.7" width="4.8" height="4.8"/><rect x="610.8" y="74.5" width="4.8" height="4.8"/><rect x="430.6" y="210.2" width="4.8" height="4.8"/><rect x="554.3" y="113.0" width="4.8" height="4.8"/><rect x="614.6" y="71.7" width="4.8" height="4.8"/><rect x="431.7" y="209.4" width="4.8" height="4.8"/><rect x="554.4" y="112.8" width="4.8" height="4.8"/><rect x="528.2" y="132.4" width="4.8" height="4.8"/><rect x="519.3" y="143.0" width="4.8" height="4.8"/><rect x="552.2" y="117.6" width="4.8" height="4.8"/><rect x="573.8" y="97.3" width="4.8" height="4.8"/><rect x="593.3" y="85.1" width="4.8" height="4.8"/><rect x="641.4" y="54.4" width="4.8" height="4.8"/><rect x="581.6" y="92.5" width="4.8" height="4.8"/><rect x="666.3" y="29.0" width="4.8" height="4.8"/><rect x="583.7" y="92.1" width="4.8" height="4.8"/><rect x="485.8" y="165.2" width="4.8" height="4.8"/><rect x="455.6" y="194.3" width="4.8" height="4.8"/><rect x="436.7" y="206.9" width="4.8" height="4.8"/><rect x="485.6" y="169.8" width="4.8" height="4.8"/><rect x="448.7" y="197.6" width="4.8" height="4.8"/><rect x="588.3" y="89.8" width="4.8" height="4.8"/><rect x="589.8" y="88.2" width="4.8" height="4.8"/><rect x="570.6" y="103.1" width="4.8" height="4.8"/><rect x="513.9" y="142.8" width="4.8" height="4.8"/><rect x="534.0" y="125.7" width="4.8" height="4.8"/><rect x="483.4" y="170.2" width="4.8" height="4.8"/><rect x="646.5" y="50.0" width="4.8" height="4.8"/><rect x="423.1" y="215.2" width="4.8" height="4.8"/><rect x="498.5" y="157.3" width="4.8" height="4.8"/><rect x="560.9" y="108.8" width="4.8" height="4.8"/><rect x="463.9" y="187.8" width="4.8" height="4.8"/><rect x="630.5" y="62.3" width="4.8" height="4.8"/><rect x="538.1" y="123.0" width="4.8" height="4.8"/><rect x="510.9" y="146.7" width="4.8" height="4.8"/><rect x="434.7" y="208.1" width="4.8" height="4.8"/><rect x="488.8" y="167.0" width="4.8" height="4.8"/><rect x="565.1" y="102.7" width="4.8" height="4.8"/><rect x="488.8" y="165.7" width="4.8" height="4.8"/><rect x="430.4" y="211.8" width="4.8" height="4.8"/><rect x="562.6" y="107.8" width="4.8" height="4.8"/><rect x="494.4" y="159.7" width="4.8" height="4.8"/><rect x="628.6" y="62.9" width="4.8" height="4.8"/><rect x="590.3" y="87.5" width="4.8" height="4.8"/><rect x="597.7" y="82.7" width="4.8" height="4.8"/><rect x="639.4" y="54.8" width="4.8" height="4.8"/><rect x="619.6" y="66.9" width="4.8" height="4.8"/><rect x="500.7" y="156.8" width="4.8" height="4.8"/><rect x="560.0" y="109.4" width="4.8" height="4.8"/><rect x="483.2" y="166.9" width="4.8" height="4.8"/><rect x="469.1" y="178.7" width="4.8" height="4.8"/><rect x="470.1" y="181.7" width="4.8" height="4.8"/><rect x="446.7" y="198.4" width="4.8" height="4.8"/><rect x="478.3" y="172.4" width="4.8" height="4.8"/><rect x="474.8" y="179.7" width="4.8" height="4.8"/><rect x="585.6" y="91.5" width="4.8" height="4.8"/><rect x="481.4" y="168.6" width="4.8" height="4.8"/><rect x="430.7" y="211.7" width="4.8" height="4.8"/><rect x="523.5" y="138.7" width="4.8" height="4.8"/><rect x="468.9" y="182.4" width="4.8" height="4.8"/><rect x="589.7" y="89.2" width="4.8" height="4.8"/><rect x="474.1" y="178.3" width="4.8" height="4.8"/><rect x="557.0" y="113.5" width="4.8" height="4.8"/><rect x="462.7" y="185.5" width="4.8" height="4.8"/><rect x="538.5" y="125.3" width="4.8" height="4.8"/><rect x="633.7" y="57.9" width="4.8" height="4.8"/><rect x="494.2" y="160.2" width="4.8" height="4.8"/><rect x="549.6" y="116.9" width="4.8" height="4.8"/><rect x="527.7" y="135.2" width="4.8" height="4.8"/><rect x="436.5" y="205.6" width="4.8" height="4.8"/><rect x="424.3" y="214.5" width="4.8" height="4.8"/><rect x="627.6" y="62.3" width="4.8" height="4.8"/><rect x="503.4" y="153.4" width="4.8" height="4.8"/><rect x="588.9" y="87.4" width="4.8" height="4.8"/><rect x="521.3" y="138.2" width="4.8" height="4.8"/><rect x="626.6" y="61.9" width="4.8" height="4.8"/><rect x="467.4" y="184.7" width="4.8" height="4.8"/><rect x="538.9" y="127.9" width="4.8" height="4.8"/><rect x="554.9" y="110.4" width="4.8" height="4.8"/><rect x="615.5" y="69.3" width="4.8" height="4.8"/><rect x="426.5" y="212.2" width="4.8" height="4.8"/><rect x="508.9" y="150.3" width="4.8" height="4.8"/><rect x="536.8" y="129.7" width="4.8" height="4.8"/><rect x="564.9" y="106.4" width="4.8" height="4.8"/><rect x="454.2" y="194.7" width="4.8" height="4.8"/><rect x="553.7" y="117.2" width="4.8" height="4.8"/><rect x="590.8" y="88.6" width="4.8" height="4.8"/><rect x="600.6" y="79.7" width="4.8" height="4.8"/><rect x="474.7" y="175.3" width="4.8" height="4.8"/><rect x="528.3" y="135.1" width="4.8" height="4.8"/><rect x="492.9" y="161.7" width="4.8" height="4.8"/><rect x="515.1" y="144.8" width="4.8" height="4.8"/><rect x="509.0" y="147.5" width="4.8" height="4.8"/><rect x="653.0" y="46.7" width="4.8" height="4.8"/><rect x="422.5" y="216.5" width="4.8" height="4.8"/><rect x="653.7" y="41.6" width="4.8" height="4.8"/><rect x="427.4" y="214.6" width="4.8" height="4.8"/><rect x="438.5" y="205.1" width="4.8" height="4.8"/><rect x="470.2" y="176.2" width="4.8" height="4.8"/><rect x="490.2" y="164.2" width="4.8" height="4.8"/><rect x="631.4" y="61.6" width="4.8" height="4.8"/><rect x="627.3" y="61.0" width="4.8" height="4.8"/><rect x="650.4" y="47.0" width="4.8" height="4.8"/><rect x="515.6" y="144.1" width="4.8" height="4.8"/><rect x="423.1" y="216.8" width="4.8" height="4.8"/><rect x="574.0" y="101.7" width="4.8" height="4.8"/><rect x="641.7" y="52.8" width="4.8" height="4.8"/><rect x="445.8" y="198.2" width="4.8" height="4.8"/><rect x="624.0" y="66.2" width="4.8" height="4.8"/><rect x="419.6" y="220.6" width="4.8" height="4.8"/><rect x="600.4" y="81.2" width="4.8" height="4.8"/><rect x="541.2" y="124.3" width="4.8" height="4.8"/><rect x="643.9" y="52.6" width="4.8" height="4.8"/><rect x="635.7" y="59.0" width="4.8" height="4.8"/><rect x="430.7" y="210.4" width="4.8" height="4.8"/><rect x="542.4" y="122.0" width="4.8" height="4.8"/><rect x="479.1" y="170.4" width="4.8" height="4.8"/><rect x="527.9" y="133.9" width="4.8" height="4.8"/><rect x="435.6" y="206.2" width="4.8" height="4.8"/><rect x="508.4" y="149.6" width="4.8" height="4.8"/><rect x="520.3" y="142.3" width="4.8" height="4.8"/><rect x="420.2" y="218.9" width="4.8" height="4.8"/><rect x="536.6" y="126.1" width="4.8" height="4.8"/><rect x="640.5" y="57.0" width="4.8" height="4.8"/><rect x="434.2" y="208.0" width="4.8" height="4.8"/><rect x="652.9" y="44.9" width="4.8" height="4.8"/><rect x="540.3" y="121.1" width="4.8" height="4.8"/><rect x="471.3" y="175.4" width="4.8" height="4.8"/><rect x="659.0" y="38.8" width="4.8" height="4.8"/><rect x="536.3" y="125.6" width="4.8" height="4.8"/><rect x="527.3" y="132.0" width="4.8" height="4.8"/><rect x="512.3" y="143.9" width="4.8" height="4.8"/><rect x="637.2" y="58.2" width="4.8" height="4.8"/><rect x="451.3" y="197.9" width="4.8" height="4.8"/><rect x="471.3" y="179.6" width="4.8" height="4.8"/><rect x="489.3" y="166.5" width="4.8" height="4.8"/><rect x="434.6" y="209.3" width="4.8" height="4.8"/><rect x="628.0" y="63.9" width="4.8" height="4.8"/><rect x="540.1" y="122.1" width="4.8" height="4.8"/><rect x="568.0" y="106.0" width="4.8" height="4.8"/><rect x="638.3" y="52.7" width="4.8" height="4.8"/><rect x="541.6" y="121.0" width="4.8" height="4.8"/><rect x="487.6" y="165.8" width="4.8" height="4.8"/><rect x="550.6" y="115.2" width="4.8" height="4.8"/><rect x="543.0" y="121.5" width="4.8" height="4.8"/><rect x="493.1" y="163.7" width="4.8" height="4.8"/><rect x="476.5" y="172.6" width="4.8" height="4.8"/><rect x="507.7" y="152.0" width="4.8" height="4.8"/><rect x="601.1" y="78.7" width="4.8" height="4.8"/><rect x="460.1" y="186.6" width="4.8" height="4.8"/><rect x="665.6" y="31.4" width="4.8" height="4.8"/><rect x="477.4" y="172.6" width="4.8" height="4.8"/><rect x="486.7" y="167.2" width="4.8" height="4.8"/><rect x="449.6" y="196.9" width="4.8" height="4.8"/><rect x="516.1" y="143.6" width="4.8" height="4.8"/><rect x="511.2" y="146.9" width="4.8" height="4.8"/><rect x="587.9" y="89.2" width="4.8" height="4.8"/><rect x="640.9" y="53.2" width="4.8" height="4.8"/><rect x="480.5" y="171.1" width="4.8" height="4.8"/><rect x="619.4" y="68.5" width="4.8" height="4.8"/><rect x="495.5" y="161.5" width="4.8" height="4.8"/><rect x="519.8" y="140.0" width="4.8" height="4.8"/><rect x="450.9" y="196.6" width="4.8" height="4.8"/><rect x="640.1" y="56.7" width="4.8" height="4.8"/><rect x="511.6" y="144.5" width="4.8" height="4.8"/><rect x="592.6" y="85.1" width="4.8" height="4.8"/><rect x="425.7" y="216.0" width="4.8" height="4.8"/><rect x="591.7" y="85.0" width="4.8" height="4.8"/><rect x="475.2" y="175.2" width="4.8" height="4.8"/><rect x="530.9" y="133.3" width="4.8" height="4.8"/><rect x="585.9" y="90.1" width="4.8" height="4.8"/><rect x="461.4" y="189.3" width="4.8" height="4.8"/><rect x="549.6" y="112.5" width="4.8" height="4.8"/><rect x="626.0" y="62.7" width="4.8" height="4.8"/><rect x="459.6" y="188.7" width="4.8" height="4.8"/><rect x="534.9" y="129.1" width="4.8" height="4.8"/><rect x="464.7" y="181.8" width="4.8" height="4.8"/><rect x="454.7" y="193.1" width="4.8" height="4.8"/><rect x="540.4" y="121.1" width="4.8" height="4.8"/><rect x="532.2" y="130.1" width="4.8" height="4.8"/><rect x="578.5" y="96.7" width="4.8" height="4.8"/><rect x="631.4" y="59.4" width="4.8" height="4.8"/><rect x="594.0" y="84.6" width="4.8" height="4.8"/><rect x="502.4" y="153.9" width="4.8" height="4.8"/><rect x="539.5" y="122.5" width="4.8" height="4.8"/><rect x="585.9" y="89.4" width="4.8" height="4.8"/><rect x="626.7" y="62.0" width="4.8" height="4.8"/><rect x="588.1" y="89.6" width="4.8" height="4.8"/><rect x="543.5" y="122.2" width="4.8" height="4.8"/><rect x="452.2" y="195.3" width="4.8" height="4.8"/><rect x="634.0" y="56.6" width="4.8" height="4.8"/><rect x="488.8" y="163.6" width="4.8" height="4.8"/><rect x="519.4" y="141.2" width="4.8" height="4.8"/><rect x="638.0" y="53.5" width="4.8" height="4.8"/><rect x="470.5" y="176.4" width="4.8" height="4.8"/><rect x="645.3" y="51.1" width="4.8" height="4.8"/><rect x="475.9" y="175.1" width="4.8" height="4.8"/><rect x="440.8" y="201.9" width="4.8" height="4.8"/><rect x="546.3" y="122.7" width="4.8" height="4.8"/><rect x="616.0" y="70.5" width="4.8" height="4.8"/><rect x="518.8" y="140.1" width="4.8" height="4.8"/><rect x="627.7" y="60.7" width="4.8" height="4.8"/><rect x="517.3" y="140.6" width="4.8" height="4.8"/><rect x="620.9" y="67.1" width="4.8" height="4.8"/><rect x="447.1" y="200.6" width="4.8" height="4.8"/><rect x="489.3" y="166.5" width="4.8" height="4.8"/><rect x="449.5" y="197.8" width="4.8" height="4.8"/><rect x="602.2" y="78.9" width="4.8" height="4.8"/><rect x="535.4" y="127.6" width="4.8" height="4.8"/><rect x="581.4" y="91.7" width="4.8" height="4.8"/><rect x="478.2" y="170.4" width="4.8" height="4.8"/><rect x="601.0" y="79.9" width="4.8" height="4.8"/><rect x="664.8" y="32.8" width="4.8" height="4.8"/><rect x="438.8" y="203.3" width="4.8" height="4.8"/><rect x="498.1" y="158.9" width="4.8" height="4.8"/><rect x="634.3" y="57.9" width="4.8" height="4.8"/><rect x="629.9" y="58.9" width="4.8" height="4.8"/><rect x="634.9" y="57.2" width="4.8" height="4.8"/><rect x="475.3" y="175.7" width="4.8" height="4.8"/><rect x="558.5" y="112.8" width="4.8" height="4.8"/><rect x="440.5" y="205.2" width="4.8" height="4.8"/><rect x="525.8" y="135.9" width="4.8" height="4.8"/><rect x="561.7" y="109.9" width="4.8" height="4.8"/><rect x="483.2" y="169.2" width="4.8" height="4.8"/><rect x="523.6" y="137.8" width="4.8" height="4.8"/><rect x="509.8" y="148.8" width="4.8" height="4.8"/><rect x="440.1" y="203.6" width="4.8" height="4.8"/><rect x="436.2" y="206.2" width="4.8" height="4.8"/><rect x="612.4" y="72.5" width="4.8" height="4.8"/><rect x="419.9" y="218.0" width="4.8" height="4.8"/><rect x="663.2" y="35.1" width="4.8" height="4.8"/><rect x="641.1" y="56.0" width="4.8" height="4.8"/><rect x="663.5" y="34.1" width="4.8" height="4.8"/><rect x="613.6" y="71.2" width="4.8" height="4.8"/><rect x="419.8" y="217.7" width="4.8" height="4.8"/><rect x="447.9" y="198.7" width="4.8" height="4.8"/><rect x="498.0" y="156.9" width="4.8" height="4.8"/><rect x="464.1" y="183.1" width="4.8" height="4.8"/><rect x="434.2" y="208.6" width="4.8" height="4.8"/><rect x="646.1" y="48.5" width="4.8" height="4.8"/><rect x="644.4" y="51.3" width="4.8" height="4.8"/><rect x="609.0" y="74.5" width="4.8" height="4.8"/><rect x="481.8" y="172.9" width="4.8" height="4.8"/><rect x="630.1" y="60.8" width="4.8" height="4.8"/><rect x="621.9" y="65.3" width="4.8" height="4.8"/><rect x="499.3" y="155.1" width="4.8" height="4.8"/><rect x="450.8" y="196.3" width="4.8" height="4.8"/><rect x="452.7" y="194.5" width="4.8" height="4.8"/><rect x="520.4" y="142.1" width="4.8" height="4.8"/><rect x="625.1" y="64.4" width="4.8" height="4.8"/><rect x="438.1" y="203.6" width="4.8" height="4.8"/><rect x="525.5" y="137.9" width="4.8" height="4.8"/><rect x="506.9" y="149.0" width="4.8" height="4.8"/><rect x="640.0" y="54.5" width="4.8" height="4.8"/><rect x="457.0" y="190.6" width="4.8" height="4.8"/><rect x="581.4" y="92.0" width="4.8" height="4.8"/><rect x="499.1" y="157.5" width="4.8" height="4.8"/><rect x="579.1" y="93.6" width="4.8" height="4.8"/><rect x="622.6" y="65.2" width="4.8" height="4.8"/><rect x="623.2" y="66.3" width="4.8" height="4.8"/><rect x="628.4" y="60.5" width="4.8" height="4.8"/><rect x="491.6" y="163.8" width="4.8" height="4.8"/><rect x="487.5" y="166.3" width="4.8" height="4.8"/><rect x="449.5" y="197.1" width="4.8" height="4.8"/><rect x="482.4" y="169.4" width="4.8" height="4.8"/><rect x="448.7" y="194.6" width="4.8" height="4.8"/><rect x="613.2" y="71.5" width="4.8" height="4.8"/><rect x="430.9" y="208.9" width="4.8" height="4.8"/><rect x="466.6" y="186.0" width="4.8" height="4.8"/><rect x="614.7" y="70.7" width="4.8" height="4.8"/><rect x="609.3" y="74.8" width="4.8" height="4.8"/><rect x="660.0" y="36.2" width="4.8" height="4.8"/><rect x="514.1" y="142.5" width="4.8" height="4.8"/><rect x="430.4" y="208.6" width="4.8" height="4.8"/><rect x="619.1" y="67.2" width="4.8" height="4.8"/><rect x="490.0" y="164.3" width="4.8" height="4.8"/><rect x="610.5" y="74.0" width="4.8" height="4.8"/><rect x="424.0" y="213.5" width="4.8" height="4.8"/><rect x="427.8" y="212.8" width="4.8" height="4.8"/><rect x="567.2" y="102.8" width="4.8" height="4.8"/><rect x="588.4" y="90.2" width="4.8" height="4.8"/><rect x="558.2" y="108.2" width="4.8" height="4.8"/><rect x="550.9" y="114.7" width="4.8" height="4.8"/><rect x="566.9" y="102.7" width="4.8" height="4.8"/><rect x="451.6" y="196.6" width="4.8" height="4.8"/><rect x="434.9" y="205.6" width="4.8" height="4.8"/><rect x="505.6" y="152.3" width="4.8" height="4.8"/><rect x="554.7" y="110.0" width="4.8" height="4.8"/><rect x="480.8" y="173.6" width="4.8" height="4.8"/><rect x="463.5" y="183.9" width="4.8" height="4.8"/><rect x="529.6" y="129.2" width="4.8" height="4.8"/><rect x="520.6" y="137.8" width="4.8" height="4.8"/><rect x="485.7" y="165.4" width="4.8" height="4.8"/><rect x="648.5" y="45.5" width="4.8" height="4.8"/><rect x="652.5" y="43.6" width="4.8" height="4.8"/><rect x="430.8" y="209.5" width="4.8" height="4.8"/><rect x="538.0" y="123.2" width="4.8" height="4.8"/><rect x="478.0" y="172.2" width="4.8" height="4.8"/><rect x="502.4" y="154.5" width="4.8" height="4.8"/><rect x="426.2" y="212.9" width="4.8" height="4.8"/><rect x="439.0" y="203.9" width="4.8" height="4.8"/><rect x="427.5" y="211.2" width="4.8" height="4.8"/><rect x="450.3" y="198.3" width="4.8" height="4.8"/><rect x="579.8" y="96.5" width="4.8" height="4.8"/><rect x="438.6" y="205.8" width="4.8" height="4.8"/><rect x="638.4" y="54.8" width="4.8" height="4.8"/><rect x="617.8" y="68.2" width="4.8" height="4.8"/><rect x="485.8" y="169.1" width="4.8" height="4.8"/><rect x="590.3" y="89.4" width="4.8" height="4.8"/><rect x="654.7" y="43.8" width="4.8" height="4.8"/><rect x="448.0" y="199.6" width="4.8" height="4.8"/><rect x="557.8" y="111.0" width="4.8" height="4.8"/><rect x="534.4" y="130.0" width="4.8" height="4.8"/><rect x="496.0" y="160.0" width="4.8" height="4.8"/><rect x="490.4" y="162.9" width="4.8" height="4.8"/><rect x="440.6" y="202.5" width="4.8" height="4.8"/><rect x="579.3" y="94.2" width="4.8" height="4.8"/><rect x="468.1" y="177.8" width="4.8" height="4.8"/><rect x="523.8" y="139.5" width="4.8" height="4.8"/><rect x="648.8" y="45.3" width="4.8" height="4.8"/><rect x="505.4" y="150.6" width="4.8" height="4.8"/><rect x="497.4" y="159.0" width="4.8" height="4.8"/><rect x="649.9" y="46.3" width="4.8" height="4.8"/><rect x="563.6" y="103.6" width="4.8" height="4.8"/><rect x="560.3" y="109.2" width="4.8" height="4.8"/><rect x="474.2" y="178.7" width="4.8" height="4.8"/><rect x="577.8" y="96.0" width="4.8" height="4.8"/><rect x="513.0" y="145.6" width="4.8" height="4.8"/><rect x="553.7" y="110.0" width="4.8" height="4.8"/><rect x="517.6" y="139.7" width="4.8" height="4.8"/><rect x="439.3" y="204.0" width="4.8" height="4.8"/><rect x="636.3" y="55.9" width="4.8" height="4.8"/><rect x="590.3" y="88.3" width="4.8" height="4.8"/><rect x="656.3" y="38.9" width="4.8" height="4.8"/><rect x="495.0" y="157.4" width="4.8" height="4.8"/><rect x="488.8" y="166.8" width="4.8" height="4.8"/><rect x="452.8" y="193.9" width="4.8" height="4.8"/><rect x="494.8" y="157.9" width="4.8" height="4.8"/><rect x="499.6" y="158.7" width="4.8" height="4.8"/><rect x="464.7" y="182.0" width="4.8" height="4.8"/><rect x="484.7" y="170.2" width="4.8" height="4.8"/><rect x="491.9" y="162.5" width="4.8" height="4.8"/><rect x="631.5" y="61.7" width="4.8" height="4.8"/><rect x="529.6" y="133.5" width="4.8" height="4.8"/><rect x="622.0" y="67.5" width="4.8" height="4.8"/><rect x="431.5" y="210.5" width="4.8" height="4.8"/><rect x="465.8" y="182.4" width="4.8" height="4.8"/><rect x="654.9" y="41.2" width="4.8" height="4.8"/><rect x="431.6" y="209.7" width="4.8" height="4.8"/><rect x="436.4" y="207.1" width="4.8" height="4.8"/><rect x="547.3" y="115.1" width="4.8" height="4.8"/><rect x="490.9" y="162.8" width="4.8" height="4.8"/><rect x="467.2" y="182.4" width="4.8" height="4.8"/><rect x="569.8" y="100.2" width="4.8" height="4.8"/><rect x="569.9" y="98.7" width="4.8" height="4.8"/><rect x="465.7" y="185.9" width="4.8" height="4.8"/><rect x="552.6" y="114.8" width="4.8" height="4.8"/><rect x="531.7" y="125.9" width="4.8" height="4.8"/><rect x="628.6" y="60.2" width="4.8" height="4.8"/><rect x="436.1" y="204.6" width="4.8" height="4.8"/><rect x="476.9" y="173.2" width="4.8" height="4.8"/><rect x="559.0" y="107.5" width="4.8" height="4.8"/><rect x="427.5" y="211.6" width="4.8" height="4.8"/><rect x="628.4" y="62.5" width="4.8" height="4.8"/><rect x="658.7" y="38.8" width="4.8" height="4.8"/><rect x="500.4" y="154.5" width="4.8" height="4.8"/><rect x="610.9" y="73.7" width="4.8" height="4.8"/><rect x="480.8" y="169.7" width="4.8" height="4.8"/><rect x="653.7" y="42.7" width="4.8" height="4.8"/><rect x="471.6" y="176.4" width="4.8" height="4.8"/><rect x="420.7" y="214.9" width="4.8" height="4.8"/><rect x="436.1" y="207.6" width="4.8" height="4.8"/><rect x="532.7" y="130.2" width="4.8" height="4.8"/><rect x="428.7" y="212.1" width="4.8" height="4.8"/><rect x="661.7" y="36.5" width="4.8" height="4.8"/><rect x="575.3" y="96.8" width="4.8" height="4.8"/><rect x="559.9" y="109.8" width="4.8" height="4.8"/><rect x="574.1" y="99.7" width="4.8" height="4.8"/><rect x="522.7" y="134.5" width="4.8" height="4.8"/><rect x="638.3" y="55.0" width="4.8" height="4.8"/><rect x="595.6" y="84.9" width="4.8" height="4.8"/><rect x="525.7" y="134.4" width="4.8" height="4.8"/><rect x="489.5" y="163.0" width="4.8" height="4.8"/><rect x="454.9" y="191.1" width="4.8" height="4.8"/><rect x="497.2" y="156.7" width="4.8" height="4.8"/><rect x="506.6" y="149.6" width="4.8" height="4.8"/><rect x="439.1" y="204.7" width="4.8" height="4.8"/><rect x="648.0" y="47.6" width="4.8" height="4.8"/><rect x="483.0" y="169.5" width="4.8" height="4.8"/><rect x="552.8" y="116.1" width="4.8" height="4.8"/><rect x="435.6" y="206.3" width="4.8" height="4.8"/><rect x="555.8" y="107.9" width="4.8" height="4.8"/><rect x="579.0" y="98.0" width="4.8" height="4.8"/><rect x="438.9" y="205.9" width="4.8" height="4.8"/><rect x="660.6" y="36.7" width="4.8" height="4.8"/><rect x="459.6" y="187.9" width="4.8" height="4.8"/><rect x="484.2" y="170.4" width="4.8" height="4.8"/><rect x="601.4" y="81.2" width="4.8" height="4.8"/><rect x="502.5" y="152.4" width="4.8" height="4.8"/><rect x="636.1" y="55.7" width="4.8" height="4.8"/><rect x="478.1" y="174.3" width="4.8" height="4.8"/><rect x="496.9" y="160.7" width="4.8" height="4.8"/><rect x="590.5" y="87.6" width="4.8" height="4.8"/><rect x="632.0" y="58.6" width="4.8" height="4.8"/><rect x="637.9" y="53.1" width="4.8" height="4.8"/><rect x="490.5" y="164.7" width="4.8" height="4.8"/><rect x="550.6" y="113.3" width="4.8" height="4.8"/><rect x="520.9" y="135.3" width="4.8" height="4.8"/><rect x="586.5" y="88.5" width="4.8" height="4.8"/><rect x="475.5" y="178.4" width="4.8" height="4.8"/><rect x="626.8" y="61.4" width="4.8" height="4.8"/><rect x="595.7" y="83.8" width="4.8" height="4.8"/><rect x="462.5" y="188.5" width="4.8" height="4.8"/><rect x="496.9" y="156.2" width="4.8" height="4.8"/><rect x="502.4" y="153.3" width="4.8" height="4.8"/><rect x="649.3" y="45.5" width="4.8" height="4.8"/><rect x="532.0" y="127.7" width="4.8" height="4.8"/><rect x="571.7" y="97.7" width="4.8" height="4.8"/><rect x="649.5" y="46.6" width="4.8" height="4.8"/><rect x="517.3" y="142.9" width="4.8" height="4.8"/><rect x="653.3" y="44.9" width="4.8" height="4.8"/><rect x="491.5" y="162.7" width="4.8" height="4.8"/><rect x="422.4" y="217.6" width="4.8" height="4.8"/><rect x="444.6" y="200.0" width="4.8" height="4.8"/><rect x="590.5" y="86.8" width="4.8" height="4.8"/><rect x="513.5" y="142.9" width="4.8" height="4.8"/><rect x="625.4" y="64.1" width="4.8" height="4.8"/><rect x="551.1" y="114.5" width="4.8" height="4.8"/><rect x="588.8" y="89.3" width="4.8" height="4.8"/><rect x="506.4" y="149.6" width="4.8" height="4.8"/><rect x="564.5" y="103.7" width="4.8" height="4.8"/><rect x="591.9" y="87.3" width="4.8" height="4.8"/><rect x="512.4" y="147.5" width="4.8" height="4.8"/><rect x="540.6" y="123.8" width="4.8" height="4.8"/><rect x="627.9" y="63.5" width="4.8" height="4.8"/><rect x="649.1" y="48.1" width="4.8" height="4.8"/><rect x="505.9" y="153.0" width="4.8" height="4.8"/><rect x="435.8" y="208.4" width="4.8" height="4.8"/><rect x="627.5" y="63.4" width="4.8" height="4.8"/><rect x="529.9" y="134.7" width="4.8" height="4.8"/><rect x="659.0" y="39.5" width="4.8" height="4.8"/><rect x="607.9" y="75.3" width="4.8" height="4.8"/><rect x="510.3" y="145.9" width="4.8" height="4.8"/><rect x="629.6" y="62.1" width="4.8" height="4.8"/><rect x="554.7" y="115.8" width="4.8" height="4.8"/><rect x="595.7" y="83.5" width="4.8" height="4.8"/><rect x="638.1" y="58.3" width="4.8" height="4.8"/><rect x="562.7" y="103.2" width="4.8" height="4.8"/><rect x="653.6" y="44.4" width="4.8" height="4.8"/><rect x="517.8" y="142.9" width="4.8" height="4.8"/><rect x="512.9" y="144.9" width="4.8" height="4.8"/><rect x="577.6" y="94.5" width="4.8" height="4.8"/><rect x="519.4" y="136.8" width="4.8" height="4.8"/><rect x="594.2" y="85.8" width="4.8" height="4.8"/><rect x="550.6" y="116.4" width="4.8" height="4.8"/><rect x="602.9" y="79.4" width="4.8" height="4.8"/><rect x="623.5" y="65.1" width="4.8" height="4.8"/><rect x="559.6" y="109.9" width="4.8" height="4.8"/><rect x="645.4" y="48.1" width="4.8" height="4.8"/><rect x="612.4" y="72.9" width="4.8" height="4.8"/><rect x="631.2" y="59.7" width="4.8" height="4.8"/><rect x="424.0" y="214.9" width="4.8" height="4.8"/><rect x="423.0" y="215.6" width="4.8" height="4.8"/><rect x="576.2" y="94.2" width="4.8" height="4.8"/><rect x="501.6" y="156.1" width="4.8" height="4.8"/><rect x="635.2" y="58.6" width="4.8" height="4.8"/><rect x="516.1" y="143.5" width="4.8" height="4.8"/><rect x="603.2" y="80.2" width="4.8" height="4.8"/><rect x="480.1" y="173.4" width="4.8" height="4.8"/><rect x="574.9" y="97.4" width="4.8" height="4.8"/><rect x="642.0" y="50.0" width="4.8" height="4.8"/><rect x="632.5" y="61.6" width="4.8" height="4.8"/><rect x="509.9" y="147.1" width="4.8" height="4.8"/><rect x="538.4" y="126.0" width="4.8" height="4.8"/><rect x="551.7" y="116.7" width="4.8" height="4.8"/><rect x="504.4" y="151.8" width="4.8" height="4.8"/><rect x="538.9" y="123.5" width="4.8" height="4.8"/><rect x="657.8" y="39.4" width="4.8" height="4.8"/><rect x="636.9" y="56.7" width="4.8" height="4.8"/><rect x="497.0" y="158.1" width="4.8" height="4.8"/><rect x="588.4" y="89.1" width="4.8" height="4.8"/><rect x="653.8" y="42.6" width="4.8" height="4.8"/><rect x="508.8" y="147.5" width="4.8" height="4.8"/><rect x="629.1" y="61.0" width="4.8" height="4.8"/><rect x="616.5" y="69.1" width="4.8" height="4.8"/><rect x="638.6" y="55.6" width="4.8" height="4.8"/><rect x="440.1" y="203.3" width="4.8" height="4.8"/><rect x="647.5" y="48.6" width="4.8" height="4.8"/><rect x="661.9" y="38.1" width="4.8" height="4.8"/><rect x="478.9" y="174.3" width="4.8" height="4.8"/><rect x="575.8" y="96.4" width="4.8" height="4.8"/><rect x="441.5" y="202.4" width="4.8" height="4.8"/><rect x="568.2" y="104.3" width="4.8" height="4.8"/><rect x="594.5" y="83.1" width="4.8" height="4.8"/><rect x="603.7" y="78.3" width="4.8" height="4.8"/><rect x="631.2" y="60.0" width="4.8" height="4.8"/><rect x="491.8" y="163.8" width="4.8" height="4.8"/><rect x="447.9" y="198.3" width="4.8" height="4.8"/><rect x="621.3" y="64.9" width="4.8" height="4.8"/><rect x="425.6" y="214.6" width="4.8" height="4.8"/><rect x="476.9" y="172.8" width="4.8" height="4.8"/><rect x="477.8" y="174.5" width="4.8" height="4.8"/><rect x="611.0" y="74.5" width="4.8" height="4.8"/><rect x="528.6" y="134.4" width="4.8" height="4.8"/><rect x="626.5" y="63.6" width="4.8" height="4.8"/><rect x="584.4" y="91.0" width="4.8" height="4.8"/><rect x="627.7" y="61.7" width="4.8" height="4.8"/><rect x="613.7" y="71.1" width="4.8" height="4.8"/><rect x="636.9" y="56.6" width="4.8" height="4.8"/><rect x="487.5" y="167.6" width="4.8" height="4.8"/><rect x="507.1" y="149.8" width="4.8" height="4.8"/><rect x="574.7" y="96.3" width="4.8" height="4.8"/><rect x="563.4" y="108.9" width="4.8" height="4.8"/><rect x="611.6" y="72.7" width="4.8" height="4.8"/><rect x="619.2" y="66.9" width="4.8" height="4.8"/><rect x="494.6" y="162.2" width="4.8" height="4.8"/><rect x="449.1" y="194.9" width="4.8" height="4.8"/><rect x="602.6" y="79.7" width="4.8" height="4.8"/><rect x="589.2" y="87.4" width="4.8" height="4.8"/><rect x="487.7" y="166.3" width="4.8" height="4.8"/><rect x="433.3" y="207.8" width="4.8" height="4.8"/><rect x="424.9" y="213.2" width="4.8" height="4.8"/><rect x="480.6" y="171.0" width="4.8" height="4.8"/><rect x="486.9" y="169.1" width="4.8" height="4.8"/><rect x="470.5" y="182.9" width="4.8" height="4.8"/><rect x="431.7" y="208.4" width="4.8" height="4.8"/><rect x="461.4" y="188.8" width="4.8" height="4.8"/><rect x="505.8" y="150.9" width="4.8" height="4.8"/><rect x="442.0" y="201.7" width="4.8" height="4.8"/><rect x="470.3" y="181.2" width="4.8" height="4.8"/><rect x="527.6" y="134.4" width="4.8" height="4.8"/><rect x="629.0" y="62.1" width="4.8" height="4.8"/><rect x="634.8" y="57.7" width="4.8" height="4.8"/><rect x="519.4" y="140.8" width="4.8" height="4.8"/><rect x="450.4" y="196.8" width="4.8" height="4.8"/><rect x="485.8" y="165.9" width="4.8" height="4.8"/><rect x="586.1" y="92.1" width="4.8" height="4.8"/><rect x="520.0" y="141.2" width="4.8" height="4.8"/><rect x="560.3" y="111.6" width="4.8" height="4.8"/><rect x="601.5" y="78.5" width="4.8" height="4.8"/><rect x="582.2" y="92.9" width="4.8" height="4.8"/><rect x="631.8" y="58.5" width="4.8" height="4.8"/><rect x="440.4" y="203.8" width="4.8" height="4.8"/><rect x="492.7" y="164.0" width="4.8" height="4.8"/><rect x="427.6" y="214.8" width="4.8" height="4.8"/><rect x="548.1" y="120.9" width="4.8" height="4.8"/><rect x="571.3" y="102.5" width="4.8" height="4.8"/><rect x="482.0" y="173.6" width="4.8" height="4.8"/><rect x="432.9" y="209.7" width="4.8" height="4.8"/><rect x="534.0" y="127.0" width="4.8" height="4.8"/><rect x="460.7" y="185.7" width="4.8" height="4.8"/><rect x="467.3" y="183.7" width="4.8" height="4.8"/><rect x="513.5" y="146.9" width="4.8" height="4.8"/><rect x="653.0" y="46.2" width="4.8" height="4.8"/><rect x="508.3" y="147.1" width="4.8" height="4.8"/><rect x="594.7" y="84.9" width="4.8" height="4.8"/><rect x="511.3" y="149.5" width="4.8" height="4.8"/><rect x="519.5" y="136.7" width="4.8" height="4.8"/><rect x="453.9" y="192.3" width="4.8" height="4.8"/><rect x="464.9" y="185.9" width="4.8" height="4.8"/><rect x="609.9" y="75.4" width="4.8" height="4.8"/><rect x="525.4" y="135.3" width="4.8" height="4.8"/><rect x="489.8" y="162.6" width="4.8" height="4.8"/><rect x="663.4" y="33.1" width="4.8" height="4.8"/><rect x="636.5" y="53.9" width="4.8" height="4.8"/><rect x="484.6" y="166.9" width="4.8" height="4.8"/><rect x="526.6" y="137.3" width="4.8" height="4.8"/><rect x="559.5" y="107.9" width="4.8" height="4.8"/><rect x="460.3" y="187.6" width="4.8" height="4.8"/><rect x="524.9" y="132.5" width="4.8" height="4.8"/><rect x="489.5" y="165.0" width="4.8" height="4.8"/><rect x="619.7" y="67.9" width="4.8" height="4.8"/><rect x="442.6" y="201.3" width="4.8" height="4.8"/><rect x="664.5" y="32.0" width="4.8" height="4.8"/><rect x="477.5" y="172.6" width="4.8" height="4.8"/><rect x="501.1" y="152.7" width="4.8" height="4.8"/><rect x="437.9" y="205.9" width="4.8" height="4.8"/><rect x="645.0" y="51.7" width="4.8" height="4.8"/><rect x="624.1" y="63.7" width="4.8" height="4.8"/><rect x="435.9" y="207.7" width="4.8" height="4.8"/><rect x="549.9" y="112.1" width="4.8" height="4.8"/><rect x="515.8" y="145.6" width="4.8" height="4.8"/><rect x="569.1" y="102.1" width="4.8" height="4.8"/><rect x="502.3" y="152.8" width="4.8" height="4.8"/><rect x="655.8" y="38.6" width="4.8" height="4.8"/><rect x="473.1" y="179.0" width="4.8" height="4.8"/><rect x="622.1" y="66.9" width="4.8" height="4.8"/><rect x="485.4" y="169.7" width="4.8" height="4.8"/><rect x="579.9" y="93.9" width="4.8" height="4.8"/><rect x="525.0" y="137.0" width="4.8" height="4.8"/><rect x="549.3" y="118.8" width="4.8" height="4.8"/><rect x="548.3" y="118.5" width="4.8" height="4.8"/><rect x="574.1" y="98.3" width="4.8" height="4.8"/><rect x="436.0" y="207.1" width="4.8" height="4.8"/><rect x="433.9" y="208.0" width="4.8" height="4.8"/><rect x="659.4" y="38.5" width="4.8" height="4.8"/><rect x="481.8" y="168.6" width="4.8" height="4.8"/><rect x="507.5" y="149.4" width="4.8" height="4.8"/><rect x="478.5" y="172.8" width="4.8" height="4.8"/><rect x="578.9" y="97.4" width="4.8" height="4.8"/><rect x="662.6" y="32.7" width="4.8" height="4.8"/><rect x="518.8" y="139.6" width="4.8" height="4.8"/><rect x="498.7" y="158.3" width="4.8" height="4.8"/><rect x="505.7" y="152.2" width="4.8" height="4.8"/><rect x="425.9" y="213.2" width="4.8" height="4.8"/><rect x="441.4" y="204.6" width="4.8" height="4.8"/><rect x="431.1" y="212.0" width="4.8" height="4.8"/><rect x="499.3" y="156.4" width="4.8" height="4.8"/><rect x="662.7" y="32.0" width="4.8" height="4.8"/><rect x="454.1" y="194.1" width="4.8" height="4.8"/><rect x="555.0" y="114.2" width="4.8" height="4.8"/><rect x="470.5" y="180.6" width="4.8" height="4.8"/><rect x="428.3" y="210.4" width="4.8" height="4.8"/><rect x="626.3" y="61.3" width="4.8" height="4.8"/><rect x="450.7" y="193.4" width="4.8" height="4.8"/><rect x="452.6" y="193.7" width="4.8" height="4.8"/><rect x="621.4" y="65.6" width="4.8" height="4.8"/><rect x="479.5" y="171.5" width="4.8" height="4.8"/><rect x="468.4" y="179.5" width="4.8" height="4.8"/><rect x="652.5" y="42.7" width="4.8" height="4.8"/><rect x="467.3" y="182.4" width="4.8" height="4.8"/><rect x="625.0" y="65.0" width="4.8" height="4.8"/><rect x="495.1" y="159.9" width="4.8" height="4.8"/><rect x="559.1" y="107.3" width="4.8" height="4.8"/><rect x="496.1" y="157.1" width="4.8" height="4.8"/><rect x="503.1" y="154.8" width="4.8" height="4.8"/><rect x="649.8" y="46.0" width="4.8" height="4.8"/><rect x="643.8" y="49.1" width="4.8" height="4.8"/><rect x="462.5" y="183.8" width="4.8" height="4.8"/><rect x="598.4" y="82.1" width="4.8" height="4.8"/><rect x="453.7" y="194.1" width="4.8" height="4.8"/><rect x="493.3" y="161.7" width="4.8" height="4.8"/><rect x="436.7" y="207.6" width="4.8" height="4.8"/><rect x="579.5" y="95.9" width="4.8" height="4.8"/><rect x="598.9" y="81.2" width="4.8" height="4.8"/><rect x="603.8" y="77.5" width="4.8" height="4.8"/><rect x="610.8" y="75.3" width="4.8" height="4.8"/><rect x="516.9" y="139.7" width="4.8" height="4.8"/><rect x="463.0" y="187.5" width="4.8" height="4.8"/><rect x="420.3" y="216.2" width="4.8" height="4.8"/><rect x="528.1" y="131.7" width="4.8" height="4.8"/><rect x="650.1" y="43.8" width="4.8" height="4.8"/><rect x="530.2" y="132.0" width="4.8" height="4.8"/><rect x="571.6" y="102.8" width="4.8" height="4.8"/><rect x="646.0" y="52.2" width="4.8" height="4.8"/><rect x="632.6" y="56.6" width="4.8" height="4.8"/><rect x="602.2" y="80.2" width="4.8" height="4.8"/><rect x="565.7" y="106.8" width="4.8" height="4.8"/><rect x="476.6" y="176.3" width="4.8" height="4.8"/><rect x="604.4" y="76.6" width="4.8" height="4.8"/><rect x="522.5" y="136.9" width="4.8" height="4.8"/><rect x="593.9" y="85.5" width="4.8" height="4.8"/><rect x="474.5" y="177.1" width="4.8" height="4.8"/><rect x="651.9" y="43.9" width="4.8" height="4.8"/><rect x="459.8" y="190.5" width="4.8" height="4.8"/><rect x="614.8" y="72.0" width="4.8" height="4.8"/><rect x="639.5" y="54.0" width="4.8" height="4.8"/><rect x="456.8" y="192.3" width="4.8" height="4.8"/><rect x="633.2" y="60.3" width="4.8" height="4.8"/><rect x="578.6" y="94.2" width="4.8" height="4.8"/><rect x="568.5" y="104.5" width="4.8" height="4.8"/><rect x="482.0" y="172.1" width="4.8" height="4.8"/><rect x="500.4" y="155.0" width="4.8" height="4.8"/><rect x="477.4" y="176.5" width="4.8" height="4.8"/><rect x="528.4" y="129.0" width="4.8" height="4.8"/><rect x="579.5" y="97.5" width="4.8" height="4.8"/><rect x="599.5" y="81.3" width="4.8" height="4.8"/><rect x="593.8" y="84.4" width="4.8" height="4.8"/><rect x="505.0" y="152.6" width="4.8" height="4.8"/><rect x="502.4" y="155.5" width="4.8" height="4.8"/><rect x="608.1" y="76.4" width="4.8" height="4.8"/><rect x="660.1" y="35.8" width="4.8" height="4.8"/><rect x="474.0" y="179.4" width="4.8" height="4.8"/><rect x="521.3" y="134.4" width="4.8" height="4.8"/><rect x="487.5" y="166.6" width="4.8" height="4.8"/><rect x="660.3" y="37.5" width="4.8" height="4.8"/><rect x="423.3" y="216.6" width="4.8" height="4.8"/><rect x="640.0" y="53.2" width="4.8" height="4.8"/><rect x="609.1" y="75.4" width="4.8" height="4.8"/><rect x="501.3" y="155.4" width="4.8" height="4.8"/><rect x="587.5" y="91.4" width="4.8" height="4.8"/><rect x="510.7" y="146.1" width="4.8" height="4.8"/><rect x="576.8" y="98.0" width="4.8" height="4.8"/><rect x="524.4" y="138.9" width="4.8" height="4.8"/><rect x="645.6" y="48.8" width="4.8" height="4.8"/><rect x="532.4" y="127.4" width="4.8" height="4.8"/><rect x="620.2" y="68.0" width="4.8" height="4.8"/><rect x="561.8" y="109.6" width="4.8" height="4.8"/><rect x="511.3" y="146.1" width="4.8" height="4.8"/><rect x="658.4" y="39.2" width="4.8" height="4.8"/><rect x="467.5" y="182.7" width="4.8" height="4.8"/><rect x="643.9" y="49.0" width="4.8" height="4.8"/><rect x="662.0" y="32.5" width="4.8" height="4.8"/><rect x="629.3" y="60.3" width="4.8" height="4.8"/><rect x="570.2" y="104.8" width="4.8" height="4.8"/><rect x="573.2" y="99.3" width="4.8" height="4.8"/><rect x="648.9" y="45.3" width="4.8" height="4.8"/><rect x="526.4" y="132.6" width="4.8" height="4.8"/><rect x="623.1" y="65.2" width="4.8" height="4.8"/><rect x="610.8" y="75.2" width="4.8" height="4.8"/><rect x="631.6" y="57.4" width="4.8" height="4.8"/><rect x="528.2" y="130.2" width="4.8" height="4.8"/><rect x="580.6" y="94.2" width="4.8" height="4.8"/><rect x="442.0" y="201.1" width="4.8" height="4.8"/><rect x="437.0" y="206.8" width="4.8" height="4.8"/><rect x="445.8" y="198.6" width="4.8" height="4.8"/><rect x="601.1" y="78.8" width="4.8" height="4.8"/><rect x="507.1" y="152.4" width="4.8" height="4.8"/><rect x="643.9" y="50.1" width="4.8" height="4.8"/><rect x="438.8" y="204.4" width="4.8" height="4.8"/><rect x="461.9" y="189.7" width="4.8" height="4.8"/><rect x="626.1" y="64.1" width="4.8" height="4.8"/><rect x="522.7" y="133.5" width="4.8" height="4.8"/><rect x="473.7" y="177.8" width="4.8" height="4.8"/><rect x="612.4" y="72.6" width="4.8" height="4.8"/><rect x="477.2" y="172.9" width="4.8" height="4.8"/><rect x="660.0" y="37.1" width="4.8" height="4.8"/><rect x="487.2" y="164.8" width="4.8" height="4.8"/><rect x="631.6" y="62.2" width="4.8" height="4.8"/><rect x="537.9" y="124.9" width="4.8" height="4.8"/><rect x="650.6" y="47.6" width="4.8" height="4.8"/><rect x="492.5" y="161.3" width="4.8" height="4.8"/><rect x="648.1" y="46.2" width="4.8" height="4.8"/><rect x="494.1" y="159.5" width="4.8" height="4.8"/><rect x="530.1" y="132.9" width="4.8" height="4.8"/><rect x="575.7" y="100.0" width="4.8" height="4.8"/><rect x="556.4" y="110.8" width="4.8" height="4.8"/><rect x="585.2" y="91.2" width="4.8" height="4.8"/><rect x="591.4" y="87.9" width="4.8" height="4.8"/><rect x="485.5" y="166.7" width="4.8" height="4.8"/><rect x="421.4" y="216.5" width="4.8" height="4.8"/><rect x="598.2" y="81.4" width="4.8" height="4.8"/><rect x="567.7" y="105.6" width="4.8" height="4.8"/><rect x="558.6" y="112.8" width="4.8" height="4.8"/><rect x="541.8" y="125.9" width="4.8" height="4.8"/><rect x="648.9" y="48.8" width="4.8" height="4.8"/><rect x="492.7" y="162.0" width="4.8" height="4.8"/><rect x="644.8" y="47.4" width="4.8" height="4.8"/><rect x="460.7" y="185.7" width="4.8" height="4.8"/><rect x="591.0" y="85.6" width="4.8" height="4.8"/><rect x="652.1" y="44.9" width="4.8" height="4.8"/><rect x="457.4" y="191.4" width="4.8" height="4.8"/><rect x="609.7" y="75.6" width="4.8" height="4.8"/><rect x="486.8" y="164.3" width="4.8" height="4.8"/><rect x="433.8" y="207.1" width="4.8" height="4.8"/><rect x="525.9" y="132.3" width="4.8" height="4.8"/><rect x="592.1" y="87.6" width="4.8" height="4.8"/><rect x="489.3" y="166.7" width="4.8" height="4.8"/><rect x="654.3" y="42.6" width="4.8" height="4.8"/><rect x="419.8" y="219.4" width="4.8" height="4.8"/><rect x="485.4" y="166.7" width="4.8" height="4.8"/><rect x="503.7" y="153.7" width="4.8" height="4.8"/><rect x="511.0" y="145.1" width="4.8" height="4.8"/><rect x="493.3" y="161.3" width="4.8" height="4.8"/><rect x="424.5" y="217.0" width="4.8" height="4.8"/><rect x="471.1" y="177.2" width="4.8" height="4.8"/><rect x="483.9" y="168.5" width="4.8" height="4.8"/><rect x="585.6" y="91.2" width="4.8" height="4.8"/><rect x="512.5" y="142.6" width="4.8" height="4.8"/><rect x="597.9" y="83.5" width="4.8" height="4.8"/><rect x="528.7" y="131.6" width="4.8" height="4.8"/><rect x="503.5" y="154.3" width="4.8" height="4.8"/><rect x="458.5" y="188.3" width="4.8" height="4.8"/><rect x="475.7" y="176.8" width="4.8" height="4.8"/><rect x="642.2" y="52.0" width="4.8" height="4.8"/><rect x="531.8" y="128.4" width="4.8" height="4.8"/><rect x="496.8" y="159.2" width="4.8" height="4.8"/><rect x="473.2" y="178.5" width="4.8" height="4.8"/><rect x="636.1" y="54.4" width="4.8" height="4.8"/><rect x="593.4" y="86.0" width="4.8" height="4.8"/><rect x="591.0" y="87.3" width="4.8" height="4.8"/><rect x="618.3" y="67.1" width="4.8" height="4.8"/><rect x="478.9" y="174.3" width="4.8" height="4.8"/><rect x="600.1" y="80.2" width="4.8" height="4.8"/><rect x="436.9" y="206.2" width="4.8" height="4.8"/><rect x="583.7" y="93.4" width="4.8" height="4.8"/><rect x="498.9" y="157.8" width="4.8" height="4.8"/><rect x="582.9" y="94.1" width="4.8" height="4.8"/><rect x="475.3" y="176.8" width="4.8" height="4.8"/><rect x="506.7" y="152.8" width="4.8" height="4.8"/><rect x="585.0" y="91.1" width="4.8" height="4.8"/><rect x="651.6" y="42.9" width="4.8" height="4.8"/><rect x="503.5" y="152.4" width="4.8" height="4.8"/><rect x="461.0" y="188.8" width="4.8" height="4.8"/><rect x="450.0" y="194.6" width="4.8" height="4.8"/><rect x="585.3" y="91.5" width="4.8" height="4.8"/><rect x="640.5" y="55.9" width="4.8" height="4.8"/><rect x="423.4" y="217.3" width="4.8" height="4.8"/><rect x="504.5" y="153.1" width="4.8" height="4.8"/><rect x="461.0" y="189.4" width="4.8" height="4.8"/><rect x="655.4" y="41.6" width="4.8" height="4.8"/><rect x="451.9" y="194.8" width="4.8" height="4.8"/><rect x="436.2" y="205.0" width="4.8" height="4.8"/><rect x="609.2" y="75.1" width="4.8" height="4.8"/><rect x="666.3" y="33.8" width="4.8" height="4.8"/><rect x="610.6" y="74.8" width="4.8" height="4.8"/><rect x="447.6" y="198.5" width="4.8" height="4.8"/><rect x="520.1" y="138.4" width="4.8" height="4.8"/><rect x="547.9" y="117.5" width="4.8" height="4.8"/><rect x="641.5" y="53.1" width="4.8" height="4.8"/><rect x="605.6" y="75.4" width="4.8" height="4.8"/><rect x="434.0" y="208.5" width="4.8" height="4.8"/><rect x="531.3" y="133.3" width="4.8" height="4.8"/><rect x="611.8" y="73.6" width="4.8" height="4.8"/><rect x="553.6" y="113.4" width="4.8" height="4.8"/><rect x="584.2" y="92.0" width="4.8" height="4.8"/><rect x="658.5" y="37.7" width="4.8" height="4.8"/><rect x="661.3" y="36.6" width="4.8" height="4.8"/><rect x="626.2" y="64.7" width="4.8" height="4.8"/><rect x="560.7" y="108.2" width="4.8" height="4.8"/><rect x="495.3" y="159.8" width="4.8" height="4.8"/><rect x="458.7" y="189.2" width="4.8" height="4.8"/><rect x="460.6" y="188.8" width="4.8" height="4.8"/><rect x="577.7" y="98.5" width="4.8" height="4.8"/><rect x="610.4" y="74.7" width="4.8" height="4.8"/><rect x="631.6" y="61.4" width="4.8" height="4.8"/><rect x="645.3" y="49.7" width="4.8" height="4.8"/><rect x="490.4" y="161.3" width="4.8" height="4.8"/><rect x="501.9" y="155.1" width="4.8" height="4.8"/><rect x="467.7" y="182.1" width="4.8" height="4.8"/><rect x="553.8" y="111.5" width="4.8" height="4.8"/><rect x="653.4" y="45.3" width="4.8" height="4.8"/><rect x="606.6" y="76.2" width="4.8" height="4.8"/><rect x="527.3" y="131.2" width="4.8" height="4.8"/><rect x="458.5" y="190.7" width="4.8" height="4.8"/><rect x="627.7" y="61.5" width="4.8" height="4.8"/><rect x="640.9" y="54.6" width="4.8" height="4.8"/><rect x="609.2" y="75.1" width="4.8" height="4.8"/><rect x="491.5" y="163.8" width="4.8" height="4.8"/><rect x="515.7" y="143.5" width="4.8" height="4.8"/><rect x="563.6" y="103.7" width="4.8" height="4.8"/><rect x="646.3" y="47.0" width="4.8" height="4.8"/><rect x="479.3" y="170.1" width="4.8" height="4.8"/><rect x="523.0" y="136.7" width="4.8" height="4.8"/><rect x="434.1" y="207.0" width="4.8" height="4.8"/><rect x="420.0" y="217.2" width="4.8" height="4.8"/><rect x="479.4" y="174.1" width="4.8" height="4.8"/><rect x="619.3" y="66.7" width="4.8" height="4.8"/><rect x="586.3" y="90.5" width="4.8" height="4.8"/><rect x="537.1" y="128.9" width="4.8" height="4.8"/><rect x="520.5" y="141.9" width="4.8" height="4.8"/><rect x="484.7" y="171.0" width="4.8" height="4.8"/><rect x="608.7" y="74.8" width="4.8" height="4.8"/><rect x="539.9" y="126.3" width="4.8" height="4.8"/><rect x="436.5" y="206.7" width="4.8" height="4.8"/><rect x="574.4" y="98.9" width="4.8" height="4.8"/><rect x="664.9" y="31.6" width="4.8" height="4.8"/><rect x="437.2" y="206.9" width="4.8" height="4.8"/><rect x="665.9" y="33.8" width="4.8" height="4.8"/><rect x="443.8" y="201.2" width="4.8" height="4.8"/><rect x="495.3" y="160.6" width="4.8" height="4.8"/><rect x="660.8" y="34.8" width="4.8" height="4.8"/><rect x="659.7" y="36.7" width="4.8" height="4.8"/><rect x="464.9" y="184.8" width="4.8" height="4.8"/><rect x="597.4" y="81.6" width="4.8" height="4.8"/><rect x="570.8" y="102.0" width="4.8" height="4.8"/><rect x="517.7" y="143.2" width="4.8" height="4.8"/><rect x="613.1" y="73.6" width="4.8" height="4.8"/><rect x="576.2" y="96.2" width="4.8" height="4.8"/><rect x="474.9" y="175.6" width="4.8" height="4.8"/><rect x="540.5" y="121.1" width="4.8" height="4.8"/><rect x="594.7" y="85.7" width="4.8" height="4.8"/><rect x="573.0" y="101.1" width="4.8" height="4.8"/><rect x="553.5" y="116.1" width="4.8" height="4.8"/><rect x="601.7" y="79.0" width="4.8" height="4.8"/><rect x="452.5" y="192.3" width="4.8" height="4.8"/><rect x="429.8" y="209.9" width="4.8" height="4.8"/><rect x="427.3" y="213.8" width="4.8" height="4.8"/><rect x="572.7" y="103.2" width="4.8" height="4.8"/><rect x="526.7" y="136.3" width="4.8" height="4.8"/><rect x="626.0" y="65.4" width="4.8" height="4.8"/><rect x="659.6" y="36.6" width="4.8" height="4.8"/><rect x="446.9" y="201.3" width="4.8" height="4.8"/><rect x="512.9" y="143.5" width="4.8" height="4.8"/><rect x="523.0" y="138.9" width="4.8" height="4.8"/><rect x="554.4" y="110.4" width="4.8" height="4.8"/><rect x="644.2" y="53.7" width="4.8" height="4.8"/><rect x="567.6" y="100.9" width="4.8" height="4.8"/><rect x="494.6" y="160.2" width="4.8" height="4.8"/><rect x="583.2" y="91.3" width="4.8" height="4.8"/><rect x="500.6" y="157.4" width="4.8" height="4.8"/><rect x="556.6" y="109.5" width="4.8" height="4.8"/><rect x="443.6" y="203.3" width="4.8" height="4.8"/><rect x="558.7" y="111.2" width="4.8" height="4.8"/><rect x="537.6" y="121.6" width="4.8" height="4.8"/><rect x="578.9" y="98.0" width="4.8" height="4.8"/><rect x="559.4" y="111.0" width="4.8" height="4.8"/><rect x="560.9" y="106.2" width="4.8" height="4.8"/><rect x="601.6" y="79.3" width="4.8" height="4.8"/><rect x="452.2" y="193.1" width="4.8" height="4.8"/><rect x="605.1" y="76.7" width="4.8" height="4.8"/><rect x="573.5" y="96.4" width="4.8" height="4.8"/><rect x="589.6" y="87.2" width="4.8" height="4.8"/><rect x="518.1" y="137.7" width="4.8" height="4.8"/><rect x="440.3" y="202.4" width="4.8" height="4.8"/><rect x="647.3" y="47.5" width="4.8" height="4.8"/><rect x="623.8" y="64.8" width="4.8" height="4.8"/><rect x="660.7" y="34.3" width="4.8" height="4.8"/><rect x="533.1" y="131.2" width="4.8" height="4.8"/><rect x="638.1" y="54.9" width="4.8" height="4.8"/><rect x="634.8" y="57.6" width="4.8" height="4.8"/><rect x="555.2" y="114.5" width="4.8" height="4.8"/><rect x="642.0" y="50.4" width="4.8" height="4.8"/><rect x="620.7" y="65.8" width="4.8" height="4.8"/><rect x="444.6" y="201.5" width="4.8" height="4.8"/><rect x="452.3" y="193.8" width="4.8" height="4.8"/><rect x="520.0" y="139.8" width="4.8" height="4.8"/><rect x="551.0" y="115.6" width="4.8" height="4.8"/><rect x="580.7" y="92.1" width="4.8" height="4.8"/><rect x="558.8" y="109.2" width="4.8" height="4.8"/><rect x="635.9" y="56.5" width="4.8" height="4.8"/><rect x="617.3" y="70.0" width="4.8" height="4.8"/><rect x="444.6" y="200.8" width="4.8" height="4.8"/><rect x="503.1" y="155.7" width="4.8" height="4.8"/><rect x="638.9" y="57.1" width="4.8" height="4.8"/><rect x="606.0" y="78.3" width="4.8" height="4.8"/><rect x="423.1" y="214.3" width="4.8" height="4.8"/><rect x="574.3" y="98.4" width="4.8" height="4.8"/><rect x="450.5" y="194.0" width="4.8" height="4.8"/><rect x="543.7" y="124.6" width="4.8" height="4.8"/><rect x="665.2" y="30.9" width="4.8" height="4.8"/><rect x="437.8" y="205.6" width="4.8" height="4.8"/><rect x="623.0" y="64.3" width="4.8" height="4.8"/><rect x="538.9" y="127.4" width="4.8" height="4.8"/><rect x="661.4" y="32.5" width="4.8" height="4.8"/><rect x="631.9" y="58.0" width="4.8" height="4.8"/><rect x="435.3" y="208.3" width="4.8" height="4.8"/><rect x="578.4" y="97.4" width="4.8" height="4.8"/><rect x="632.0" y="57.5" width="4.8" height="4.8"/><rect x="488.3" y="168.0" width="4.8" height="4.8"/><rect x="593.6" y="86.7" width="4.8" height="4.8"/><rect x="482.1" y="170.6" width="4.8" height="4.8"/><rect x="470.0" y="178.8" width="4.8" height="4.8"/><rect x="501.4" y="152.9" width="4.8" height="4.8"/><rect x="491.7" y="164.0" width="4.8" height="4.8"/><rect x="657.3" y="42.8" width="4.8" height="4.8"/><rect x="477.3" y="175.4" width="4.8" height="4.8"/><rect x="524.2" y="132.2" width="4.8" height="4.8"/><rect x="539.4" y="124.7" width="4.8" height="4.8"/><rect x="590.2" y="88.9" width="4.8" height="4.8"/><rect x="659.2" y="36.2" width="4.8" height="4.8"/><rect x="571.1" y="101.6" width="4.8" height="4.8"/><rect x="632.1" y="59.0" width="4.8" height="4.8"/><rect x="451.7" y="194.8" width="4.8" height="4.8"/><rect x="582.8" y="91.4" width="4.8" height="4.8"/><rect x="461.9" y="186.5" width="4.8" height="4.8"/><rect x="634.8" y="56.6" width="4.8" height="4.8"/><rect x="566.5" y="102.6" width="4.8" height="4.8"/><rect x="452.9" y="191.2" width="4.8" height="4.8"/><rect x="629.5" y="63.7" width="4.8" height="4.8"/><rect x="549.1" y="113.1" width="4.8" height="4.8"/><rect x="539.3" y="125.0" width="4.8" height="4.8"/><rect x="439.3" y="205.1" width="4.8" height="4.8"/><rect x="643.6" y="51.6" width="4.8" height="4.8"/><rect x="546.3" y="122.0" width="4.8" height="4.8"/><rect x="633.1" y="58.0" width="4.8" height="4.8"/><rect x="437.8" y="207.3" width="4.8" height="4.8"/><rect x="587.4" y="90.7" width="4.8" height="4.8"/><rect x="512.1" y="144.8" width="4.8" height="4.8"/><rect x="552.0" y="112.4" width="4.8" height="4.8"/><rect x="573.7" y="96.7" width="4.8" height="4.8"/><rect x="623.5" y="64.3" width="4.8" height="4.8"/><rect x="647.6" y="47.9" width="4.8" height="4.8"/><rect x="460.4" y="185.6" width="4.8" height="4.8"/><rect x="631.9" y="61.4" width="4.8" height="4.8"/><rect x="448.1" y="198.6" width="4.8" height="4.8"/><rect x="421.9" y="216.8" width="4.8" height="4.8"/><rect x="493.7" y="158.9" width="4.8" height="4.8"/><rect x="489.6" y="165.9" width="4.8" height="4.8"/><rect x="610.0" y="75.5" width="4.8" height="4.8"/><rect x="557.8" y="112.9" width="4.8" height="4.8"/><rect x="515.2" y="141.3" width="4.8" height="4.8"/><rect x="614.8" y="70.3" width="4.8" height="4.8"/><rect x="650.7" y="46.7" width="4.8" height="4.8"/><rect x="577.9" y="94.0" width="4.8" height="4.8"/><rect x="580.8" y="94.5" width="4.8" height="4.8"/><rect x="632.4" y="58.0" width="4.8" height="4.8"/><rect x="491.6" y="162.7" width="4.8" height="4.8"/><rect x="665.6" y="30.7" width="4.8" height="4.8"/><rect x="462.8" y="183.4" width="4.8" height="4.8"/><rect x="430.4" y="211.8" width="4.8" height="4.8"/><rect x="622.8" y="65.2" width="4.8" height="4.8"/><rect x="462.3" y="185.0" width="4.8" height="4.8"/><rect x="502.2" y="155.6" width="4.8" height="4.8"/><rect x="546.1" y="116.3" width="4.8" height="4.8"/><rect x="446.7" y="197.1" width="4.8" height="4.8"/><rect x="524.0" y="134.8" width="4.8" height="4.8"/><rect x="506.7" y="149.2" width="4.8" height="4.8"/><rect x="440.4" y="203.3" width="4.8" height="4.8"/><rect x="568.4" y="103.1" width="4.8" height="4.8"/><rect x="530.8" y="129.4" width="4.8" height="4.8"/><rect x="458.7" y="190.3" width="4.8" height="4.8"/><rect x="614.2" y="71.0" width="4.8" height="4.8"/><rect x="520.6" y="142.1" width="4.8" height="4.8"/><rect x="425.6" y="216.1" width="4.8" height="4.8"/><rect x="636.8" y="58.9" width="4.8" height="4.8"/><rect x="520.4" y="142.4" width="4.8" height="4.8"/><rect x="441.9" y="201.9" width="4.8" height="4.8"/><rect x="490.7" y="165.3" width="4.8" height="4.8"/><rect x="482.3" y="170.1" width="4.8" height="4.8"/><rect x="430.1" y="211.8" width="4.8" height="4.8"/><rect x="501.1" y="155.6" width="4.8" height="4.8"/><rect x="460.9" y="189.1" width="4.8" height="4.8"/><rect x="472.0" y="180.1" width="4.8" height="4.8"/><rect x="586.0" y="88.7" width="4.8" height="4.8"/><rect x="458.4" y="189.5" width="4.8" height="4.8"/><rect x="424.5" y="216.0" width="4.8" height="4.8"/><rect x="463.4" y="187.7" width="4.8" height="4.8"/><rect x="492.3" y="163.4" width="4.8" height="4.8"/><rect x="460.0" y="185.3" width="4.8" height="4.8"/><rect x="567.0" y="104.7" width="4.8" height="4.8"/><rect x="636.8" y="55.6" width="4.8" height="4.8"/><rect x="624.7" y="63.6" width="4.8" height="4.8"/><rect x="535.6" y="127.6" width="4.8" height="4.8"/><rect x="613.5" y="73.0" width="4.8" height="4.8"/><rect x="614.8" y="71.7" width="4.8" height="4.8"/><rect x="576.2" y="96.8" width="4.8" height="4.8"/><rect x="617.8" y="67.7" width="4.8" height="4.8"/><rect x="512.9" y="143.6" width="4.8" height="4.8"/><rect x="604.2" y="78.9" width="4.8" height="4.8"/><rect x="548.5" y="117.5" width="4.8" height="4.8"/><rect x="601.9" y="79.9" width="4.8" height="4.8"/><rect x="602.1" y="78.4" width="4.8" height="4.8"/><rect x="435.5" y="208.8" width="4.8" height="4.8"/><rect x="625.4" y="64.9" width="4.8" height="4.8"/><rect x="428.1" y="214.4" width="4.8" height="4.8"/><rect x="524.9" y="134.3" width="4.8" height="4.8"/><rect x="565.4" y="102.4" width="4.8" height="4.8"/><rect x="622.9" y="64.9" width="4.8" height="4.8"/><rect x="433.4" y="208.6" width="4.8" height="4.8"/><rect x="585.3" y="90.8" width="4.8" height="4.8"/><rect x="504.5" y="150.1" width="4.8" height="4.8"/><rect x="429.3" y="213.8" width="4.8" height="4.8"/><rect x="501.4" y="156.8" width="4.8" height="4.8"/><rect x="577.7" y="95.4" width="4.8" height="4.8"/><rect x="439.7" y="203.0" width="4.8" height="4.8"/><rect x="629.1" y="63.0" width="4.8" height="4.8"/><rect x="429.8" y="210.2" width="4.8" height="4.8"/><rect x="478.4" y="172.9" width="4.8" height="4.8"/><rect x="500.7" y="155.1" width="4.8" height="4.8"/><rect x="435.1" y="208.3" width="4.8" height="4.8"/><rect x="648.2" y="50.9" width="4.8" height="4.8"/><rect x="658.3" y="36.8" width="4.8" height="4.8"/><rect x="643.1" y="50.0" width="4.8" height="4.8"/><rect x="468.4" y="181.2" width="4.8" height="4.8"/><rect x="625.3" y="65.2" width="4.8" height="4.8"/><rect x="502.8" y="153.6" width="4.8" height="4.8"/><rect x="490.6" y="164.8" width="4.8" height="4.8"/><rect x="589.9" y="87.1" width="4.8" height="4.8"/><rect x="440.3" y="205.4" width="4.8" height="4.8"/><rect x="420.5" y="215.0" width="4.8" height="4.8"/><rect x="649.5" y="49.4" width="4.8" height="4.8"/><rect x="506.8" y="152.3" width="4.8" height="4.8"/><rect x="615.9" y="69.7" width="4.8" height="4.8"/><rect x="524.5" y="136.8" width="4.8" height="4.8"/><rect x="442.1" y="204.2" width="4.8" height="4.8"/><rect x="536.6" y="123.7" width="4.8" height="4.8"/><rect x="461.5" y="183.7" width="4.8" height="4.8"/><rect x="439.2" y="204.4" width="4.8" height="4.8"/><rect x="423.9" y="213.5" width="4.8" height="4.8"/><rect x="518.4" y="141.8" width="4.8" height="4.8"/><rect x="483.2" y="171.0" width="4.8" height="4.8"/><rect x="502.3" y="151.9" width="4.8" height="4.8"/><rect x="657.1" y="39.5" width="4.8" height="4.8"/><rect x="624.3" y="63.3" width="4.8" height="4.8"/><rect x="593.8" y="86.3" width="4.8" height="4.8"/><rect x="479.6" y="171.5" width="4.8" height="4.8"/><rect x="604.7" y="76.6" width="4.8" height="4.8"/><rect x="591.9" y="86.1" width="4.8" height="4.8"/><rect x="549.8" y="115.5" width="4.8" height="4.8"/><rect x="478.3" y="172.9" width="4.8" height="4.8"/><rect x="470.6" y="176.8" width="4.8" height="4.8"/><rect x="523.0" y="138.7" width="4.8" height="4.8"/><rect x="487.6" y="165.8" width="4.8" height="4.8"/><rect x="638.1" y="54.9" width="4.8" height="4.8"/><rect x="534.4" y="128.3" width="4.8" height="4.8"/><rect x="586.9" y="90.4" width="4.8" height="4.8"/><rect x="641.1" y="53.0" width="4.8" height="4.8"/><rect x="572.9" y="101.3" width="4.8" height="4.8"/><rect x="459.0" y="191.9" width="4.8" height="4.8"/><rect x="498.2" y="157.0" width="4.8" height="4.8"/><rect x="647.5" y="48.8" width="4.8" height="4.8"/><rect x="430.6" y="210.4" width="4.8" height="4.8"/><rect x="474.0" y="179.1" width="4.8" height="4.8"/><rect x="572.1" y="100.3" width="4.8" height="4.8"/><rect x="630.5" y="58.7" width="4.8" height="4.8"/><rect x="622.2" y="65.8" width="4.8" height="4.8"/><rect x="600.0" y="82.0" width="4.8" height="4.8"/><rect x="592.9" y="85.1" width="4.8" height="4.8"/><rect x="511.6" y="145.2" width="4.8" height="4.8"/><rect x="434.4" y="206.5" width="4.8" height="4.8"/><rect x="576.5" y="100.4" width="4.8" height="4.8"/><rect x="437.2" y="206.9" width="4.8" height="4.8"/><rect x="616.7" y="70.9" width="4.8" height="4.8"/><rect x="451.6" y="197.3" width="4.8" height="4.8"/><rect x="425.3" y="213.3" width="4.8" height="4.8"/><rect x="666.4" y="29.1" width="4.8" height="4.8"/><rect x="460.6" y="188.2" width="4.8" height="4.8"/><rect x="563.2" y="107.3" width="4.8" height="4.8"/><rect x="434.4" y="209.5" width="4.8" height="4.8"/><rect x="661.8" y="31.9" width="4.8" height="4.8"/><rect x="423.3" y="216.5" width="4.8" height="4.8"/><rect x="589.4" y="86.4" width="4.8" height="4.8"/><rect x="627.9" y="62.9" width="4.8" height="4.8"/><rect x="492.5" y="161.5" width="4.8" height="4.8"/><rect x="421.2" y="218.6" width="4.8" height="4.8"/><rect x="428.4" y="212.0" width="4.8" height="4.8"/><rect x="434.3" y="209.3" width="4.8" height="4.8"/><rect x="605.8" y="78.0" width="4.8" height="4.8"/><rect x="549.9" y="114.9" width="4.8" height="4.8"/><rect x="641.0" y="54.9" width="4.8" height="4.8"/><rect x="575.7" y="98.8" width="4.8" height="4.8"/><rect x="566.2" y="101.8" width="4.8" height="4.8"/><rect x="469.1" y="182.9" width="4.8" height="4.8"/><rect x="474.5" y="174.5" width="4.8" height="4.8"/><rect x="661.3" y="33.3" width="4.8" height="4.8"/><rect x="654.8" y="41.7" width="4.8" height="4.8"/><rect x="527.5" y="133.6" width="4.8" height="4.8"/><rect x="615.9" y="70.3" width="4.8" height="4.8"/><rect x="597.4" y="83.9" width="4.8" height="4.8"/><rect x="487.9" y="166.5" width="4.8" height="4.8"/><rect x="468.7" y="183.4" width="4.8" height="4.8"/><rect x="604.5" y="76.8" width="4.8" height="4.8"/><rect x="657.4" y="42.2" width="4.8" height="4.8"/><rect x="662.6" y="31.3" width="4.8" height="4.8"/><rect x="507.6" y="151.5" width="4.8" height="4.8"/><rect x="435.4" y="205.4" width="4.8" height="4.8"/><rect x="498.2" y="156.7" width="4.8" height="4.8"/><rect x="436.5" y="205.3" width="4.8" height="4.8"/><rect x="663.6" y="30.4" width="4.8" height="4.8"/><rect x="495.2" y="160.1" width="4.8" height="4.8"/><rect x="628.9" y="61.6" width="4.8" height="4.8"/><rect x="480.2" y="175.5" width="4.8" height="4.8"/><rect x="656.7" y="39.8" width="4.8" height="4.8"/><rect x="540.2" y="124.8" width="4.8" height="4.8"/><rect x="625.5" y="62.5" width="4.8" height="4.8"/><rect x="567.5" y="104.1" width="4.8" height="4.8"/><rect x="608.7" y="75.8" width="4.8" height="4.8"/><rect x="437.2" y="206.8" width="4.8" height="4.8"/><rect x="440.9" y="203.6" width="4.8" height="4.8"/><rect x="507.6" y="152.4" width="4.8" height="4.8"/><rect x="636.3" y="55.2" width="4.8" height="4.8"/><rect x="644.2" y="49.3" width="4.8" height="4.8"/><rect x="595.0" y="83.1" width="4.8" height="4.8"/><rect x="567.3" y="102.0" width="4.8" height="4.8"/><rect x="431.4" y="211.6" width="4.8" height="4.8"/><rect x="648.8" y="46.8" width="4.8" height="4.8"/><rect x="582.5" y="93.1" width="4.8" height="4.8"/><rect x="571.6" y="101.6" width="4.8" height="4.8"/><rect x="627.5" y="61.8" width="4.8" height="4.8"/><rect x="477.7" y="170.5" width="4.8" height="4.8"/><rect x="572.6" y="102.1" width="4.8" height="4.8"/><rect x="588.1" y="89.9" width="4.8" height="4.8"/><rect x="606.3" y="77.5" width="4.8" height="4.8"/><rect x="442.6" y="201.4" width="4.8" height="4.8"/><rect x="599.4" y="80.1" width="4.8" height="4.8"/><rect x="642.5" y="50.8" width="4.8" height="4.8"/><rect x="574.7" y="97.3" width="4.8" height="4.8"/><rect x="461.2" y="185.0" width="4.8" height="4.8"/><rect x="646.5" y="49.3" width="4.8" height="4.8"/><rect x="444.5" y="202.4" width="4.8" height="4.8"/><rect x="476.2" y="173.8" width="4.8" height="4.8"/><rect x="630.7" y="61.3" width="4.8" height="4.8"/><rect x="564.9" y="108.5" width="4.8" height="4.8"/><rect x="502.2" y="154.6" width="4.8" height="4.8"/><rect x="618.0" y="68.9" width="4.8" height="4.8"/><rect x="579.4" y="93.6" width="4.8" height="4.8"/><rect x="448.4" y="198.8" width="4.8" height="4.8"/><rect x="476.6" y="177.2" width="4.8" height="4.8"/><rect x="619.7" y="67.7" width="4.8" height="4.8"/><rect x="619.9" y="66.4" width="4.8" height="4.8"/><rect x="437.6" y="205.7" width="4.8" height="4.8"/><rect x="548.2" y="121.4" width="4.8" height="4.8"/><rect x="595.6" y="84.6" width="4.8" height="4.8"/><rect x="499.7" y="155.7" width="4.8" height="4.8"/><rect x="434.7" y="207.3" width="4.8" height="4.8"/><rect x="522.4" y="134.6" width="4.8" height="4.8"/><rect x="650.5" y="46.7" width="4.8" height="4.8"/><rect x="599.9" y="80.3" width="4.8" height="4.8"/><rect x="472.0" y="181.5" width="4.8" height="4.8"/><rect x="628.2" y="61.6" width="4.8" height="4.8"/><rect x="584.4" y="93.1" width="4.8" height="4.8"/><rect x="491.0" y="163.6" width="4.8" height="4.8"/><rect x="485.7" y="169.5" width="4.8" height="4.8"/><rect x="463.0" y="185.4" width="4.8" height="4.8"/><rect x="519.3" y="139.8" width="4.8" height="4.8"/><rect x="508.3" y="150.7" width="4.8" height="4.8"/><rect x="489.8" y="163.8" width="4.8" height="4.8"/><rect x="635.4" y="57.5" width="4.8" height="4.8"/><rect x="607.4" y="76.7" width="4.8" height="4.8"/><rect x="541.1" y="123.3" width="4.8" height="4.8"/><rect x="657.4" y="39.1" width="4.8" height="4.8"/><rect x="585.9" y="88.4" width="4.8" height="4.8"/><rect x="654.7" y="40.4" width="4.8" height="4.8"/><rect x="623.2" y="64.1" width="4.8" height="4.8"/><rect x="576.1" y="98.2" width="4.8" height="4.8"/><rect x="590.8" y="86.6" width="4.8" height="4.8"/><rect x="610.9" y="75.0" width="4.8" height="4.8"/><rect x="606.5" y="77.3" width="4.8" height="4.8"/><rect x="635.3" y="57.9" width="4.8" height="4.8"/><rect x="503.3" y="151.9" width="4.8" height="4.8"/><rect x="509.1" y="149.3" width="4.8" height="4.8"/><rect x="480.3" y="174.8" width="4.8" height="4.8"/><rect x="647.3" y="45.3" width="4.8" height="4.8"/><rect x="642.8" y="50.6" width="4.8" height="4.8"/><rect x="528.6" y="135.0" width="4.8" height="4.8"/><rect x="518.5" y="139.1" width="4.8" height="4.8"/><rect x="452.0" y="192.7" width="4.8" height="4.8"/><rect x="660.5" y="37.3" width="4.8" height="4.8"/><rect x="585.4" y="91.0" width="4.8" height="4.8"/><rect x="657.6" y="38.0" width="4.8" height="4.8"/><rect x="575.6" y="100.8" width="4.8" height="4.8"/><rect x="546.3" y="114.5" width="4.8" height="4.8"/><rect x="604.5" y="77.7" width="4.8" height="4.8"/><rect x="638.6" y="55.4" width="4.8" height="4.8"/><rect x="628.2" y="62.3" width="4.8" height="4.8"/><rect x="504.8" y="152.7" width="4.8" height="4.8"/><rect x="544.6" y="123.4" width="4.8" height="4.8"/><rect x="652.9" y="44.4" width="4.8" height="4.8"/><rect x="544.5" y="118.8" width="4.8" height="4.8"/><rect x="617.6" y="70.0" width="4.8" height="4.8"/><rect x="549.0" y="114.9" width="4.8" height="4.8"/><rect x="625.2" y="64.5" width="4.8" height="4.8"/><rect x="436.1" y="207.7" width="4.8" height="4.8"/><rect x="419.5" y="216.2" width="4.8" height="4.8"/><rect x="441.6" y="203.3" width="4.8" height="4.8"/><rect x="527.1" y="135.7" width="4.8" height="4.8"/><rect x="510.1" y="147.8" width="4.8" height="4.8"/><rect x="656.5" y="39.9" width="4.8" height="4.8"/><rect x="665.9" y="27.6" width="4.8" height="4.8"/><rect x="452.5" y="192.6" width="4.8" height="4.8"/><rect x="625.6" y="65.0" width="4.8" height="4.8"/><rect x="545.2" y="118.1" width="4.8" height="4.8"/><rect x="627.3" y="64.6" width="4.8" height="4.8"/><rect x="510.5" y="149.7" width="4.8" height="4.8"/><rect x="610.4" y="74.8" width="4.8" height="4.8"/><rect x="420.3" y="219.5" width="4.8" height="4.8"/><rect x="534.9" y="123.7" width="4.8" height="4.8"/><rect x="501.5" y="153.9" width="4.8" height="4.8"/><rect x="481.5" y="170.4" width="4.8" height="4.8"/><rect x="493.5" y="161.9" width="4.8" height="4.8"/><rect x="522.9" y="136.1" width="4.8" height="4.8"/><rect x="541.9" y="118.9" width="4.8" height="4.8"/><rect x="549.1" y="116.7" width="4.8" height="4.8"/><rect x="600.9" y="79.9" width="4.8" height="4.8"/><rect x="623.8" y="65.7" width="4.8" height="4.8"/><rect x="657.1" y="37.9" width="4.8" height="4.8"/><rect x="584.7" y="91.6" width="4.8" height="4.8"/><rect x="482.7" y="173.1" width="4.8" height="4.8"/><rect x="562.4" y="108.9" width="4.8" height="4.8"/><rect x="527.7" y="135.9" width="4.8" height="4.8"/><rect x="477.4" y="173.2" width="4.8" height="4.8"/><rect x="501.4" y="154.1" width="4.8" height="4.8"/><rect x="475.9" y="174.7" width="4.8" height="4.8"/><rect x="552.5" y="114.2" width="4.8" height="4.8"/><rect x="435.6" y="207.6" width="4.8" height="4.8"/><rect x="553.6" y="115.3" width="4.8" height="4.8"/><rect x="521.1" y="140.6" width="4.8" height="4.8"/><rect x="420.8" y="219.6" width="4.8" height="4.8"/><rect x="487.4" y="164.8" width="4.8" height="4.8"/><rect x="659.4" y="38.5" width="4.8" height="4.8"/><rect x="562.6" y="102.8" width="4.8" height="4.8"/><rect x="435.2" y="206.3" width="4.8" height="4.8"/><rect x="562.1" y="108.1" width="4.8" height="4.8"/><rect x="593.4" y="84.3" width="4.8" height="4.8"/><rect x="452.5" y="197.5" width="4.8" height="4.8"/><rect x="518.8" y="141.1" width="4.8" height="4.8"/><rect x="472.1" y="180.7" width="4.8" height="4.8"/><rect x="553.4" y="115.3" width="4.8" height="4.8"/><rect x="622.7" y="65.6" width="4.8" height="4.8"/><rect x="478.5" y="170.9" width="4.8" height="4.8"/><rect x="453.7" y="194.9" width="4.8" height="4.8"/><rect x="453.6" y="191.5" width="4.8" height="4.8"/><rect x="571.2" y="100.1" width="4.8" height="4.8"/><rect x="436.4" y="207.9" width="4.8" height="4.8"/><rect x="549.4" y="119.8" width="4.8" height="4.8"/><rect x="619.6" y="68.3" width="4.8" height="4.8"/><rect x="608.8" y="73.9" width="4.8" height="4.8"/><rect x="585.0" y="93.4" width="4.8" height="4.8"/><rect x="421.9" y="218.4" width="4.8" height="4.8"/><rect x="526.0" y="133.8" width="4.8" height="4.8"/><rect x="479.4" y="176.1" width="4.8" height="4.8"/><rect x="546.7" y="119.1" width="4.8" height="4.8"/><rect x="456.8" y="193.2" width="4.8" height="4.8"/><rect x="452.7" y="193.9" width="4.8" height="4.8"/><rect x="654.6" y="43.2" width="4.8" height="4.8"/><rect x="637.1" y="55.2" width="4.8" height="4.8"/><rect x="443.4" y="202.6" width="4.8" height="4.8"/><rect x="624.0" y="65.6" width="4.8" height="4.8"/><rect x="435.5" y="206.1" width="4.8" height="4.8"/><rect x="503.1" y="153.0" width="4.8" height="4.8"/><rect x="665.1" y="30.4" width="4.8" height="4.8"/><rect x="651.9" y="46.3" width="4.8" height="4.8"/><rect x="534.9" y="131.2" width="4.8" height="4.8"/><rect x="592.9" y="86.8" width="4.8" height="4.8"/><rect x="513.9" y="143.5" width="4.8" height="4.8"/><rect x="629.2" y="62.4" width="4.8" height="4.8"/><rect x="497.4" y="157.8" width="4.8" height="4.8"/><rect x="470.2" y="183.1" width="4.8" height="4.8"/><rect x="454.9" y="193.4" width="4.8" height="4.8"/><rect x="575.2" y="97.9" width="4.8" height="4.8"/><rect x="557.2" y="111.9" width="4.8" height="4.8"/><rect x="642.5" y="50.8" width="4.8" height="4.8"/><rect x="455.5" y="190.3" width="4.8" height="4.8"/><rect x="618.2" y="67.6" width="4.8" height="4.8"/><rect x="652.7" y="45.2" width="4.8" height="4.8"/><rect x="604.0" y="77.7" width="4.8" height="4.8"/><rect x="447.7" y="200.2" width="4.8" height="4.8"/><rect x="457.2" y="190.7" width="4.8" height="4.8"/><rect x="440.9" y="202.4" width="4.8" height="4.8"/><rect x="501.8" y="155.5" width="4.8" height="4.8"/><rect x="607.0" y="77.4" width="4.8" height="4.8"/><rect x="455.0" y="192.8" width="4.8" height="4.8"/><rect x="530.3" y="132.2" width="4.8" height="4.8"/><rect x="430.2" y="212.4" width="4.8" height="4.8"/><rect x="587.0" y="91.8" width="4.8" height="4.8"/><rect x="443.6" y="200.3" width="4.8" height="4.8"/><rect x="615.4" y="71.4" width="4.8" height="4.8"/><rect x="570.8" y="103.2" width="4.8" height="4.8"/><rect x="466.3" y="183.2" width="4.8" height="4.8"/><rect x="592.0" y="87.1" width="4.8" height="4.8"/><rect x="505.6" y="153.5" width="4.8" height="4.8"/><rect x="548.8" y="117.8" width="4.8" height="4.8"/><rect x="556.9" y="107.0" width="4.8" height="4.8"/><rect x="486.4" y="167.3" width="4.8" height="4.8"/><rect x="522.4" y="137.3" width="4.8" height="4.8"/><rect x="613.7" y="72.5" width="4.8" height="4.8"/><rect x="633.1" y="57.1" width="4.8" height="4.8"/><rect x="629.2" y="59.5" width="4.8" height="4.8"/><rect x="559.8" y="108.4" width="4.8" height="4.8"/><rect x="635.0" y="60.5" width="4.8" height="4.8"/><rect x="453.9" y="195.4" width="4.8" height="4.8"/><rect x="662.6" y="31.9" width="4.8" height="4.8"/><rect x="430.3" y="210.0" width="4.8" height="4.8"/><rect x="641.7" y="55.8" width="4.8" height="4.8"/><rect x="615.1" y="70.1" width="4.8" height="4.8"/><rect x="515.7" y="143.4" width="4.8" height="4.8"/><rect x="614.7" y="71.6" width="4.8" height="4.8"/><rect x="656.1" y="41.7" width="4.8" height="4.8"/><rect x="459.8" y="191.6" width="4.8" height="4.8"/><rect x="579.9" y="97.0" width="4.8" height="4.8"/><rect x="420.3" y="216.1" width="4.8" height="4.8"/><rect x="583.6" y="93.2" width="4.8" height="4.8"/><rect x="434.4" y="206.7" width="4.8" height="4.8"/><rect x="584.4" y="93.0" width="4.8" height="4.8"/><rect x="425.9" y="212.2" width="4.8" height="4.8"/><rect x="519.0" y="140.5" width="4.8" height="4.8"/><rect x="633.6" y="59.8" width="4.8" height="4.8"/><rect x="495.0" y="159.6" width="4.8" height="4.8"/><rect x="659.0" y="39.3" width="4.8" height="4.8"/><rect x="535.8" y="127.2" width="4.8" height="4.8"/><rect x="464.2" y="186.3" width="4.8" height="4.8"/><rect x="650.8" y="45.0" width="4.8" height="4.8"/><rect x="457.7" y="187.2" width="4.8" height="4.8"/><rect x="566.2" y="103.9" width="4.8" height="4.8"/><rect x="652.4" y="43.6" width="4.8" height="4.8"/><rect x="651.9" y="42.5" width="4.8" height="4.8"/><rect x="556.7" y="108.1" width="4.8" height="4.8"/><rect x="471.7" y="181.2" width="4.8" height="4.8"/><rect x="543.0" y="118.8" width="4.8" height="4.8"/><rect x="491.4" y="163.0" width="4.8" height="4.8"/><rect x="497.0" y="158.4" width="4.8" height="4.8"/><rect x="497.8" y="159.2" width="4.8" height="4.8"/><rect x="469.1" y="180.6" width="4.8" height="4.8"/><rect x="428.8" y="212.3" width="4.8" height="4.8"/><rect x="604.9" y="79.0" width="4.8" height="4.8"/><rect x="422.4" y="216.3" width="4.8" height="4.8"/><rect x="561.0" y="109.2" width="4.8" height="4.8"/><rect x="510.0" y="146.2" width="4.8" height="4.8"/><rect x="580.0" y="93.8" width="4.8" height="4.8"/><rect x="562.8" y="104.0" width="4.8" height="4.8"/><rect x="537.7" y="125.5" width="4.8" height="4.8"/><rect x="611.5" y="72.1" width="4.8" height="4.8"/><rect x="560.7" y="106.5" width="4.8" height="4.8"/><rect x="641.5" y="53.4" width="4.8" height="4.8"/><rect x="564.0" y="108.9" width="4.8" height="4.8"/><rect x="636.0" y="54.9" width="4.8" height="4.8"/><rect x="633.0" y="59.3" width="4.8" height="4.8"/><rect x="594.0" y="85.2" width="4.8" height="4.8"/><rect x="500.7" y="155.3" width="4.8" height="4.8"/><rect x="539.6" y="122.9" width="4.8" height="4.8"/><rect x="438.7" y="205.1" width="4.8" height="4.8"/><rect x="598.6" y="82.9" width="4.8" height="4.8"/><rect x="579.1" y="96.8" width="4.8" height="4.8"/><rect x="621.7" y="66.2" width="4.8" height="4.8"/><rect x="440.1" y="204.0" width="4.8" height="4.8"/><rect x="451.0" y="198.2" width="4.8" height="4.8"/><rect x="579.1" y="97.2" width="4.8" height="4.8"/><rect x="600.3" y="81.9" width="4.8" height="4.8"/><rect x="437.4" y="203.9" width="4.8" height="4.8"/><rect x="426.8" y="215.7" width="4.8" height="4.8"/><rect x="499.5" y="157.6" width="4.8" height="4.8"/><rect x="503.2" y="153.1" width="4.8" height="4.8"/><rect x="432.1" y="208.6" width="4.8" height="4.8"/><rect x="443.3" y="200.3" width="4.8" height="4.8"/><rect x="469.7" y="181.0" width="4.8" height="4.8"/><rect x="422.7" y="216.6" width="4.8" height="4.8"/><rect x="455.8" y="189.6" width="4.8" height="4.8"/><rect x="425.5" y="215.5" width="4.8" height="4.8"/><rect x="510.7" y="146.4" width="4.8" height="4.8"/><rect x="604.4" y="78.0" width="4.8" height="4.8"/><rect x="582.8" y="91.0" width="4.8" height="4.8"/><rect x="568.7" y="101.7" width="4.8" height="4.8"/><rect x="534.9" y="124.0" width="4.8" height="4.8"/><rect x="465.6" y="182.1" width="4.8" height="4.8"/><rect x="431.1" y="209.5" width="4.8" height="4.8"/><rect x="465.1" y="187.1" width="4.8" height="4.8"/><rect x="653.5" y="40.6" width="4.8" height="4.8"/><rect x="620.6" y="67.0" width="4.8" height="4.8"/><rect x="560.2" y="108.8" width="4.8" height="4.8"/><rect x="570.9" y="103.0" width="4.8" height="4.8"/><rect x="603.6" y="79.0" width="4.8" height="4.8"/><rect x="622.5" y="65.7" width="4.8" height="4.8"/><rect x="478.9" y="173.6" width="4.8" height="4.8"/><rect x="617.7" y="68.6" width="4.8" height="4.8"/><rect x="579.6" y="92.6" width="4.8" height="4.8"/><rect x="488.0" y="164.2" width="4.8" height="4.8"/><rect x="490.4" y="161.5" width="4.8" height="4.8"/><rect x="461.6" y="188.7" width="4.8" height="4.8"/><rect x="554.6" y="111.8" width="4.8" height="4.8"/><rect x="658.8" y="38.1" width="4.8" height="4.8"/><rect x="614.6" y="71.7" width="4.8" height="4.8"/><rect x="460.4" y="191.3" width="4.8" height="4.8"/><rect x="448.8" y="197.5" width="4.8" height="4.8"/><rect x="488.9" y="163.1" width="4.8" height="4.8"/><rect x="459.9" y="189.7" width="4.8" height="4.8"/><rect x="454.4" y="195.3" width="4.8" height="4.8"/><rect x="600.3" y="81.4" width="4.8" height="4.8"/><rect x="497.0" y="156.3" width="4.8" height="4.8"/><rect x="559.1" y="110.8" width="4.8" height="4.8"/><rect x="497.2" y="159.3" width="4.8" height="4.8"/><rect x="662.8" y="32.9" width="4.8" height="4.8"/><rect x="565.7" y="105.6" width="4.8" height="4.8"/><rect x="453.7" y="193.8" width="4.8" height="4.8"/><rect x="611.5" y="72.4" width="4.8" height="4.8"/><rect x="490.9" y="161.9" width="4.8" height="4.8"/><rect x="531.8" y="131.7" width="4.8" height="4.8"/><rect x="490.3" y="163.3" width="4.8" height="4.8"/><rect x="540.3" y="124.5" width="4.8" height="4.8"/><rect x="495.2" y="158.8" width="4.8" height="4.8"/><rect x="498.5" y="157.4" width="4.8" height="4.8"/><rect x="458.2" y="188.5" width="4.8" height="4.8"/><rect x="656.7" y="42.0" width="4.8" height="4.8"/><rect x="470.5" y="176.3" width="4.8" height="4.8"/><rect x="489.1" y="162.3" width="4.8" height="4.8"/><rect x="520.7" y="135.4" width="4.8" height="4.8"/><rect x="448.4" y="196.0" width="4.8" height="4.8"/><rect x="475.9" y="173.7" width="4.8" height="4.8"/><rect x="520.0" y="136.4" width="4.8" height="4.8"/><rect x="563.6" y="103.2" width="4.8" height="4.8"/><rect x="551.9" y="111.1" width="4.8" height="4.8"/><rect x="510.4" y="147.7" width="4.8" height="4.8"/><rect x="586.6" y="88.7" width="4.8" height="4.8"/><rect x="603.7" y="77.3" width="4.8" height="4.8"/><rect x="484.8" y="170.8" width="4.8" height="4.8"/><rect x="478.5" y="171.3" width="4.8" height="4.8"/><rect x="573.9" y="96.7" width="4.8" height="4.8"/><rect x="521.0" y="141.4" width="4.8" height="4.8"/><rect x="624.6" y="65.5" width="4.8" height="4.8"/><rect x="421.6" y="217.7" width="4.8" height="4.8"/><rect x="553.2" y="113.4" width="4.8" height="4.8"/><rect x="505.5" y="150.6" width="4.8" height="4.8"/><rect x="471.7" y="177.6" width="4.8" height="4.8"/><rect x="633.9" y="55.7" width="4.8" height="4.8"/><rect x="472.9" y="177.6" width="4.8" height="4.8"/><rect x="614.3" y="70.4" width="4.8" height="4.8"/><rect x="630.5" y="62.4" width="4.8" height="4.8"/><rect x="658.5" y="39.6" width="4.8" height="4.8"/><rect x="448.0" y="198.0" width="4.8" height="4.8"/><rect x="457.8" y="188.3" width="4.8" height="4.8"/><rect x="440.0" y="204.4" width="4.8" height="4.8"/><rect x="498.5" y="157.0" width="4.8" height="4.8"/><rect x="643.5" y="49.4" width="4.8" height="4.8"/><rect x="578.4" y="93.2" width="4.8" height="4.8"/><rect x="457.5" y="190.4" width="4.8" height="4.8"/><rect x="445.3" y="200.4" width="4.8" height="4.8"/><rect x="604.6" y="78.6" width="4.8" height="4.8"/><rect x="573.4" y="101.0" width="4.8" height="4.8"/><rect x="419.8" y="216.5" width="4.8" height="4.8"/><rect x="564.5" y="107.8" width="4.8" height="4.8"/><rect x="466.2" y="179.2" width="4.8" height="4.8"/><rect x="491.8" y="161.2" width="4.8" height="4.8"/><rect x="444.2" y="198.4" width="4.8" height="4.8"/><rect x="664.5" y="33.1" width="4.8" height="4.8"/><rect x="532.2" y="128.4" width="4.8" height="4.8"/><rect x="571.8" y="102.2" width="4.8" height="4.8"/><rect x="469.7" y="181.3" width="4.8" height="4.8"/><rect x="512.0" y="145.5" width="4.8" height="4.8"/><rect x="579.3" y="95.6" width="4.8" height="4.8"/><rect x="603.9" y="77.1" width="4.8" height="4.8"/><rect x="643.6" y="49.5" width="4.8" height="4.8"/><rect x="480.5" y="174.4" width="4.8" height="4.8"/><rect x="478.5" y="175.5" width="4.8" height="4.8"/><rect x="518.9" y="140.7" width="4.8" height="4.8"/><rect x="495.5" y="159.9" width="4.8" height="4.8"/><rect x="621.9" y="66.8" width="4.8" height="4.8"/><rect x="511.1" y="148.9" width="4.8" height="4.8"/><rect x="511.6" y="147.2" width="4.8" height="4.8"/><rect x="543.5" y="117.7" width="4.8" height="4.8"/><rect x="558.7" y="111.7" width="4.8" height="4.8"/><rect x="506.6" y="151.3" width="4.8" height="4.8"/><rect x="421.4" y="219.3" width="4.8" height="4.8"/><rect x="601.1" y="78.8" width="4.8" height="4.8"/><rect x="447.6" y="197.5" width="4.8" height="4.8"/><rect x="630.5" y="61.8" width="4.8" height="4.8"/><rect x="480.3" y="174.8" width="4.8" height="4.8"/><rect x="482.4" y="169.4" width="4.8" height="4.8"/><rect x="551.6" y="115.6" width="4.8" height="4.8"/><rect x="643.7" y="51.4" width="4.8" height="4.8"/><rect x="513.4" y="142.6" width="4.8" height="4.8"/><rect x="538.1" y="122.0" width="4.8" height="4.8"/><rect x="521.8" y="134.8" width="4.8" height="4.8"/><rect x="446.9" y="196.4" width="4.8" height="4.8"/><rect x="490.5" y="161.2" width="4.8" height="4.8"/><rect x="646.0" y="47.1" width="4.8" height="4.8"/><rect x="651.6" y="44.3" width="4.8" height="4.8"/><rect x="482.3" y="169.1" width="4.8" height="4.8"/><rect x="646.8" y="48.4" width="4.8" height="4.8"/><rect x="423.1" y="213.4" width="4.8" height="4.8"/><rect x="597.0" y="81.7" width="4.8" height="4.8"/><rect x="425.5" y="214.1" width="4.8" height="4.8"/><rect x="524.6" y="136.7" width="4.8" height="4.8"/><rect x="521.3" y="137.7" width="4.8" height="4.8"/><rect x="526.8" y="130.4" width="4.8" height="4.8"/><rect x="652.0" y="43.3" width="4.8" height="4.8"/><rect x="506.3" y="150.2" width="4.8" height="4.8"/><rect x="423.7" y="214.1" width="4.8" height="4.8"/><rect x="446.5" y="198.1" width="4.8" height="4.8"/><rect x="604.6" y="76.2" width="4.8" height="4.8"/><rect x="451.0" y="195.1" width="4.8" height="4.8"/><rect x="433.7" y="206.5" width="4.8" height="4.8"/><rect x="467.5" y="180.1" width="4.8" height="4.8"/><rect x="661.1" y="35.7" width="4.8" height="4.8"/><rect x="529.2" y="130.8" width="4.8" height="4.8"/><rect x="455.8" y="190.0" width="4.8" height="4.8"/><rect x="582.1" y="94.5" width="4.8" height="4.8"/><rect x="512.6" y="144.2" width="4.8" height="4.8"/><rect x="556.0" y="108.2" width="4.8" height="4.8"/><rect x="665.6" y="28.3" width="4.8" height="4.8"/><rect x="592.2" y="87.6" width="4.8" height="4.8"/><rect x="551.5" y="117.5" width="4.8" height="4.8"/><rect x="666.2" y="28.2" width="4.8" height="4.8"/><rect x="544.3" y="123.9" width="4.8" height="4.8"/><rect x="531.2" y="127.0" width="4.8" height="4.8"/><rect x="629.6" y="60.6" width="4.8" height="4.8"/><rect x="656.2" y="43.6" width="4.8" height="4.8"/><rect x="597.2" y="83.2" width="4.8" height="4.8"/><rect x="509.6" y="147.7" width="4.8" height="4.8"/><rect x="518.8" y="138.1" width="4.8" height="4.8"/><rect x="421.4" y="217.0" width="4.8" height="4.8"/><rect x="478.5" y="173.3" width="4.8" height="4.8"/><rect x="611.4" y="74.1" width="4.8" height="4.8"/><rect x="540.2" y="126.1" width="4.8" height="4.8"/><rect x="631.1" y="60.3" width="4.8" height="4.8"/><rect x="585.0" y="90.4" width="4.8" height="4.8"/><rect x="559.3" y="108.6" width="4.8" height="4.8"/><rect x="618.6" y="68.5" width="4.8" height="4.8"/><rect x="542.4" y="118.7" width="4.8" height="4.8"/><rect x="584.3" y="89.7" width="4.8" height="4.8"/><rect x="540.4" y="126.9" width="4.8" height="4.8"/><rect x="506.4" y="151.8" width="4.8" height="4.8"/><rect x="608.5" y="74.0" width="4.8" height="4.8"/><rect x="436.8" y="205.1" width="4.8" height="4.8"/><rect x="661.0" y="37.4" width="4.8" height="4.8"/><rect x="656.9" y="39.7" width="4.8" height="4.8"/><rect x="624.6" y="65.5" width="4.8" height="4.8"/><rect x="534.9" y="129.5" width="4.8" height="4.8"/><rect x="530.5" y="131.1" width="4.8" height="4.8"/><rect x="518.8" y="137.6" width="4.8" height="4.8"/><rect x="532.8" y="129.2" width="4.8" height="4.8"/><rect x="474.1" y="178.7" width="4.8" height="4.8"/><rect x="616.9" y="70.6" width="4.8" height="4.8"/><rect x="637.2" y="55.6" width="4.8" height="4.8"/><rect x="543.1" y="124.9" width="4.8" height="4.8"/><rect x="630.2" y="62.9" width="4.8" height="4.8"/><rect x="491.4" y="163.4" width="4.8" height="4.8"/><rect x="631.9" y="61.7" width="4.8" height="4.8"/><rect x="660.0" y="34.5" width="4.8" height="4.8"/><rect x="585.1" y="91.5" width="4.8" height="4.8"/><rect x="657.4" y="38.4" width="4.8" height="4.8"/><rect x="598.8" y="80.9" width="4.8" height="4.8"/><rect x="590.8" y="86.9" width="4.8" height="4.8"/><rect x="536.2" y="125.1" width="4.8" height="4.8"/><rect x="434.0" y="207.0" width="4.8" height="4.8"/><rect x="450.2" y="197.2" width="4.8" height="4.8"/><rect x="624.0" y="63.4" width="4.8" height="4.8"/><rect x="464.1" y="182.8" width="4.8" height="4.8"/><rect x="589.0" y="87.3" width="4.8" height="4.8"/><rect x="458.8" y="191.7" width="4.8" height="4.8"/><rect x="606.0" y="78.0" width="4.8" height="4.8"/><rect x="655.6" y="40.3" width="4.8" height="4.8"/><rect x="572.2" y="102.0" width="4.8" height="4.8"/><rect x="428.8" y="211.6" width="4.8" height="4.8"/><rect x="601.5" y="80.1" width="4.8" height="4.8"/><rect x="536.9" y="129.3" width="4.8" height="4.8"/><rect x="633.4" y="57.8" width="4.8" height="4.8"/><rect x="456.1" y="194.0" width="4.8" height="4.8"/><rect x="488.6" y="165.2" width="4.8" height="4.8"/><rect x="646.6" y="49.8" width="4.8" height="4.8"/><rect x="626.3" y="63.7" width="4.8" height="4.8"/><rect x="644.1" y="49.7" width="4.8" height="4.8"/><rect x="548.0" y="116.2" width="4.8" height="4.8"/><rect x="586.0" y="91.4" width="4.8" height="4.8"/><rect x="650.0" y="45.1" width="4.8" height="4.8"/><rect x="582.5" y="92.3" width="4.8" height="4.8"/><rect x="440.8" y="204.4" width="4.8" height="4.8"/><rect x="457.5" y="189.0" width="4.8" height="4.8"/><rect x="419.9" y="218.9" width="4.8" height="4.8"/><rect x="446.8" y="198.6" width="4.8" height="4.8"/><rect x="425.9" y="215.7" width="4.8" height="4.8"/><rect x="514.4" y="142.4" width="4.8" height="4.8"/><rect x="571.8" y="100.9" width="4.8" height="4.8"/><rect x="632.2" y="61.5" width="4.8" height="4.8"/><rect x="520.3" y="137.6" width="4.8" height="4.8"/><rect x="459.0" y="185.4" width="4.8" height="4.8"/><rect x="644.1" y="53.3" width="4.8" height="4.8"/><rect x="646.0" y="49.5" width="4.8" height="4.8"/><rect x="661.0" y="36.2" width="4.8" height="4.8"/><rect x="425.0" y="213.9" width="4.8" height="4.8"/><rect x="565.4" y="103.6" width="4.8" height="4.8"/><rect x="575.2" y="101.0" width="4.8" height="4.8"/><rect x="551.4" y="113.7" width="4.8" height="4.8"/><rect x="465.7" y="180.8" width="4.8" height="4.8"/><rect x="647.0" y="46.7" width="4.8" height="4.8"/><rect x="552.0" y="116.2" width="4.8" height="4.8"/><rect x="428.4" y="210.5" width="4.8" height="4.8"/><rect x="504.9" y="149.8" width="4.8" height="4.8"/><rect x="599.1" y="82.6" width="4.8" height="4.8"/><rect x="469.4" y="182.8" width="4.8" height="4.8"/><rect x="611.3" y="74.1" width="4.8" height="4.8"/><rect x="471.2" y="177.7" width="4.8" height="4.8"/><rect x="526.2" y="136.4" width="4.8" height="4.8"/><rect x="491.5" y="161.6" width="4.8" height="4.8"/><rect x="450.8" y="195.9" width="4.8" height="4.8"/><rect x="637.9" y="57.0" width="4.8" height="4.8"/><rect x="503.4" y="155.2" width="4.8" height="4.8"/><rect x="605.1" y="77.0" width="4.8" height="4.8"/><rect x="639.7" y="52.0" width="4.8" height="4.8"/><rect x="489.2" y="165.3" width="4.8" height="4.8"/><rect x="420.6" y="215.4" width="4.8" height="4.8"/><rect x="549.1" y="114.2" width="4.8" height="4.8"/><rect x="477.5" y="171.8" width="4.8" height="4.8"/><rect x="635.4" y="57.7" width="4.8" height="4.8"/><rect x="460.0" y="184.4" width="4.8" height="4.8"/><rect x="597.7" y="83.3" width="4.8" height="4.8"/><rect x="425.6" y="212.3" width="4.8" height="4.8"/><rect x="486.3" y="169.7" width="4.8" height="4.8"/><rect x="467.9" y="183.6" width="4.8" height="4.8"/><rect x="630.0" y="61.3" width="4.8" height="4.8"/><rect x="567.4" y="100.8" width="4.8" height="4.8"/><rect x="582.4" y="90.6" width="4.8" height="4.8"/><rect x="439.6" y="204.4" width="4.8" height="4.8"/><rect x="495.6" y="157.5" width="4.8" height="4.8"/><rect x="640.0" y="52.8" width="4.8" height="4.8"/><rect x="570.9" y="99.6" width="4.8" height="4.8"/><rect x="606.6" y="76.6" width="4.8" height="4.8"/><rect x="543.3" y="119.8" width="4.8" height="4.8"/><rect x="470.0" y="179.5" width="4.8" height="4.8"/><rect x="645.3" y="47.3" width="4.8" height="4.8"/><rect x="484.5" y="166.7" width="4.8" height="4.8"/><rect x="461.3" y="184.0" width="4.8" height="4.8"/><rect x="579.7" y="93.4" width="4.8" height="4.8"/><rect x="440.5" y="204.8" width="4.8" height="4.8"/><rect x="608.4" y="76.3" width="4.8" height="4.8"/><rect x="595.4" y="85.0" width="4.8" height="4.8"/><rect x="514.0" y="141.8" width="4.8" height="4.8"/><rect x="546.6" y="119.7" width="4.8" height="4.8"/><rect x="539.7" y="125.7" width="4.8" height="4.8"/><rect x="437.7" y="203.4" width="4.8" height="4.8"/><rect x="438.9" y="203.8" width="4.8" height="4.8"/><rect x="506.4" y="148.7" width="4.8" height="4.8"/><rect x="420.8" y="217.0" width="4.8" height="4.8"/><rect x="465.1" y="183.1" width="4.8" height="4.8"/><rect x="509.6" y="149.1" width="4.8" height="4.8"/><rect x="574.4" y="96.7" width="4.8" height="4.8"/><rect x="546.8" y="122.9" width="4.8" height="4.8"/><rect x="462.2" y="184.8" width="4.8" height="4.8"/><rect x="607.1" y="75.2" width="4.8" height="4.8"/><rect x="615.7" y="70.7" width="4.8" height="4.8"/><rect x="583.2" y="93.5" width="4.8" height="4.8"/><rect x="589.4" y="89.6" width="4.8" height="4.8"/><rect x="481.9" y="167.4" width="4.8" height="4.8"/><rect x="626.6" y="62.7" width="4.8" height="4.8"/><rect x="564.0" y="105.6" width="4.8" height="4.8"/><rect x="463.1" y="182.0" width="4.8" height="4.8"/><rect x="588.5" y="88.4" width="4.8" height="4.8"/><rect x="574.4" y="97.4" width="4.8" height="4.8"/><rect x="559.9" y="109.7" width="4.8" height="4.8"/><rect x="535.7" y="123.8" width="4.8" height="4.8"/><rect x="608.9" y="75.0" width="4.8" height="4.8"/><rect x="599.8" y="80.1" width="4.8" height="4.8"/><rect x="564.9" y="103.3" width="4.8" height="4.8"/><rect x="435.8" y="207.9" width="4.8" height="4.8"/><rect x="476.6" y="176.5" width="4.8" height="4.8"/><rect x="661.4" y="36.4" width="4.8" height="4.8"/><rect x="518.8" y="140.6" width="4.8" height="4.8"/><rect x="575.8" y="100.1" width="4.8" height="4.8"/><rect x="451.8" y="194.3" width="4.8" height="4.8"/><rect x="560.6" y="107.9" width="4.8" height="4.8"/><rect x="569.8" y="100.6" width="4.8" height="4.8"/><rect x="607.7" y="75.2" width="4.8" height="4.8"/><rect x="658.9" y="38.7" width="4.8" height="4.8"/><rect x="532.0" y="132.0" width="4.8" height="4.8"/><rect x="496.6" y="157.0" width="4.8" height="4.8"/><rect x="458.7" y="188.9" width="4.8" height="4.8"/><rect x="501.9" y="152.2" width="4.8" height="4.8"/><rect x="528.9" y="131.1" width="4.8" height="4.8"/><rect x="657.7" y="38.7" width="4.8" height="4.8"/><rect x="545.7" y="118.1" width="4.8" height="4.8"/><rect x="586.2" y="89.6" width="4.8" height="4.8"/><rect x="600.7" y="80.2" width="4.8" height="4.8"/><rect x="422.6" y="216.9" width="4.8" height="4.8"/><rect x="476.8" y="172.9" width="4.8" height="4.8"/><rect x="552.9" y="111.1" width="4.8" height="4.8"/><rect x="433.4" y="207.6" width="4.8" height="4.8"/><rect x="456.5" y="188.3" width="4.8" height="4.8"/><rect x="605.4" y="78.4" width="4.8" height="4.8"/><rect x="586.0" y="90.1" width="4.8" height="4.8"/><rect x="453.5" y="193.3" width="4.8" height="4.8"/><rect x="448.4" y="198.3" width="4.8" height="4.8"/><rect x="627.8" y="61.9" width="4.8" height="4.8"/><rect x="536.1" y="126.4" width="4.8" height="4.8"/><rect x="497.4" y="156.1" width="4.8" height="4.8"/><rect x="597.1" y="82.1" width="4.8" height="4.8"/><rect x="584.7" y="91.5" width="4.8" height="4.8"/><rect x="665.2" y="29.3" width="4.8" height="4.8"/><rect x="444.8" y="201.8" width="4.8" height="4.8"/><rect x="609.3" y="74.1" width="4.8" height="4.8"/><rect x="533.0" y="130.4" width="4.8" height="4.8"/><rect x="480.6" y="170.5" width="4.8" height="4.8"/><rect x="542.5" y="124.1" width="4.8" height="4.8"/><rect x="424.3" y="213.6" width="4.8" height="4.8"/><rect x="450.0" y="195.5" width="4.8" height="4.8"/><rect x="446.1" y="201.4" width="4.8" height="4.8"/><rect x="590.5" y="87.1" width="4.8" height="4.8"/><rect x="594.4" y="83.9" width="4.8" height="4.8"/><rect x="479.5" y="171.7" width="4.8" height="4.8"/><rect x="495.2" y="161.2" width="4.8" height="4.8"/><rect x="610.3" y="72.8" width="4.8" height="4.8"/><rect x="515.1" y="140.4" width="4.8" height="4.8"/><rect x="505.4" y="150.6" width="4.8" height="4.8"/><rect x="653.1" y="41.1" width="4.8" height="4.8"/><rect x="553.9" y="115.9" width="4.8" height="4.8"/><rect x="552.3" y="111.0" width="4.8" height="4.8"/><rect x="570.3" y="102.3" width="4.8" height="4.8"/><rect x="429.4" y="210.3" width="4.8" height="4.8"/><rect x="517.9" y="142.8" width="4.8" height="4.8"/><rect x="614.3" y="72.5" width="4.8" height="4.8"/><rect x="580.3" y="96.7" width="4.8" height="4.8"/><rect x="639.4" y="55.8" width="4.8" height="4.8"/><rect x="496.0" y="160.0" width="4.8" height="4.8"/><rect x="536.9" y="127.3" width="4.8" height="4.8"/><rect x="477.3" y="172.4" width="4.8" height="4.8"/><rect x="465.1" y="185.0" width="4.8" height="4.8"/><rect x="441.7" y="203.3" width="4.8" height="4.8"/><rect x="468.4" y="182.4" width="4.8" height="4.8"/><rect x="459.7" y="188.3" width="4.8" height="4.8"/><rect x="527.8" y="129.8" width="4.8" height="4.8"/><rect x="520.9" y="139.2" width="4.8" height="4.8"/><rect x="608.2" y="74.0" width="4.8" height="4.8"/><rect x="611.7" y="73.2" width="4.8" height="4.8"/><rect x="553.0" y="115.2" width="4.8" height="4.8"/><rect x="581.7" y="92.8" width="4.8" height="4.8"/><rect x="535.1" y="126.9" width="4.8" height="4.8"/><rect x="496.0" y="160.8" width="4.8" height="4.8"/><rect x="543.8" y="118.5" width="4.8" height="4.8"/><rect x="575.3" y="99.9" width="4.8" height="4.8"/><rect x="655.4" y="41.9" width="4.8" height="4.8"/><rect x="621.2" y="66.5" width="4.8" height="4.8"/><rect x="435.7" y="205.4" width="4.8" height="4.8"/><rect x="577.5" y="94.8" width="4.8" height="4.8"/><rect x="441.7" y="202.9" width="4.8" height="4.8"/><rect x="573.1" y="100.8" width="4.8" height="4.8"/><rect x="629.3" y="60.9" width="4.8" height="4.8"/><rect x="592.2" y="88.0" width="4.8" height="4.8"/><rect x="448.8" y="196.5" width="4.8" height="4.8"/><rect x="524.0" y="135.9" width="4.8" height="4.8"/><rect x="467.5" y="179.9" width="4.8" height="4.8"/><rect x="582.7" y="94.3" width="4.8" height="4.8"/><rect x="595.0" y="86.1" width="4.8" height="4.8"/><rect x="601.5" y="79.6" width="4.8" height="4.8"/><rect x="507.4" y="150.2" width="4.8" height="4.8"/><rect x="567.1" y="106.9" width="4.8" height="4.8"/><rect x="470.7" y="181.5" width="4.8" height="4.8"/><rect x="649.2" y="47.2" width="4.8" height="4.8"/><rect x="651.3" y="45.4" width="4.8" height="4.8"/><rect x="426.7" y="213.0" width="4.8" height="4.8"/><rect x="558.7" y="108.6" width="4.8" height="4.8"/><rect x="596.8" y="82.9" width="4.8" height="4.8"/><rect x="476.3" y="174.8" width="4.8" height="4.8"/><rect x="427.4" y="212.0" width="4.8" height="4.8"/><rect x="419.7" y="216.0" width="4.8" height="4.8"/><rect x="594.1" y="85.9" width="4.8" height="4.8"/><rect x="422.2" y="216.6" width="4.8" height="4.8"/><rect x="514.8" y="143.9" width="4.8" height="4.8"/><rect x="616.7" y="69.1" width="4.8" height="4.8"/><rect x="432.2" y="207.6" width="4.8" height="4.8"/><rect x="594.0" y="86.6" width="4.8" height="4.8"/><rect x="525.9" y="131.5" width="4.8" height="4.8"/><rect x="515.6" y="144.0" width="4.8" height="4.8"/><rect x="538.9" y="122.6" width="4.8" height="4.8"/><rect x="506.3" y="152.1" width="4.8" height="4.8"/><rect x="632.4" y="58.3" width="4.8" height="4.8"/><rect x="585.0" y="93.6" width="4.8" height="4.8"/><rect x="515.1" y="141.3" width="4.8" height="4.8"/><rect x="449.0" y="197.4" width="4.8" height="4.8"/><rect x="544.0" y="122.5" width="4.8" height="4.8"/><rect x="666.4" y="28.8" width="4.8" height="4.8"/><rect x="639.8" y="57.4" width="4.8" height="4.8"/><rect x="436.0" y="207.9" width="4.8" height="4.8"/><rect x="507.3" y="149.8" width="4.8" height="4.8"/><rect x="535.4" y="130.6" width="4.8" height="4.8"/><rect x="519.5" y="141.7" width="4.8" height="4.8"/><rect x="446.9" y="196.8" width="4.8" height="4.8"/><rect x="465.3" y="186.7" width="4.8" height="4.8"/><rect x="551.5" y="111.5" width="4.8" height="4.8"/><rect x="597.6" y="81.2" width="4.8" height="4.8"/><rect x="596.4" y="83.8" width="4.8" height="4.8"/><rect x="585.5" y="92.7" width="4.8" height="4.8"/><rect x="585.9" y="90.4" width="4.8" height="4.8"/><rect x="421.3" y="217.5" width="4.8" height="4.8"/><rect x="473.2" y="177.2" width="4.8" height="4.8"/><rect x="502.5" y="154.8" width="4.8" height="4.8"/><rect x="482.6" y="172.6" width="4.8" height="4.8"/><rect x="515.2" y="145.5" width="4.8" height="4.8"/><rect x="518.0" y="139.9" width="4.8" height="4.8"/><rect x="503.3" y="155.4" width="4.8" height="4.8"/><rect x="421.8" y="215.0" width="4.8" height="4.8"/><rect x="633.2" y="60.1" width="4.8" height="4.8"/><rect x="655.9" y="40.3" width="4.8" height="4.8"/><rect x="571.5" y="103.0" width="4.8" height="4.8"/><rect x="486.7" y="170.2" width="4.8" height="4.8"/><rect x="530.6" y="130.4" width="4.8" height="4.8"/><rect x="644.9" y="52.3" width="4.8" height="4.8"/><rect x="567.6" y="105.9" width="4.8" height="4.8"/><rect x="591.6" y="87.2" width="4.8" height="4.8"/><rect x="592.4" y="86.5" width="4.8" height="4.8"/><rect x="661.9" y="34.4" width="4.8" height="4.8"/><rect x="581.3" y="93.9" width="4.8" height="4.8"/><rect x="446.0" y="197.6" width="4.8" height="4.8"/><rect x="544.3" y="117.5" width="4.8" height="4.8"/><rect x="647.4" y="49.5" width="4.8" height="4.8"/><rect x="451.2" y="197.9" width="4.8" height="4.8"/><rect x="431.8" y="209.5" width="4.8" height="4.8"/><rect x="431.7" y="208.1" width="4.8" height="4.8"/><rect x="436.5" y="208.0" width="4.8" height="4.8"/><rect x="459.7" y="184.6" width="4.8" height="4.8"/><rect x="609.9" y="75.0" width="4.8" height="4.8"/><rect x="567.5" y="99.9" width="4.8" height="4.8"/><rect x="600.2" y="79.7" width="4.8" height="4.8"/><rect x="556.9" y="112.6" width="4.8" height="4.8"/><rect x="506.8" y="149.6" width="4.8" height="4.8"/><rect x="613.8" y="72.4" width="4.8" height="4.8"/><rect x="461.2" y="188.6" width="4.8" height="4.8"/><rect x="508.2" y="150.1" width="4.8" height="4.8"/><rect x="522.0" y="133.7" width="4.8" height="4.8"/><rect x="587.5" y="89.6" width="4.8" height="4.8"/><rect x="607.5" y="75.7" width="4.8" height="4.8"/><rect x="559.4" y="107.5" width="4.8" height="4.8"/><rect x="569.6" y="102.1" width="4.8" height="4.8"/><rect x="488.7" y="166.6" width="4.8" height="4.8"/><rect x="566.0" y="107.8" width="4.8" height="4.8"/><rect x="627.8" y="62.4" width="4.8" height="4.8"/><rect x="527.9" y="130.3" width="4.8" height="4.8"/><rect x="605.2" y="76.6" width="4.8" height="4.8"/><rect x="544.9" y="116.0" width="4.8" height="4.8"/><rect x="546.1" y="116.2" width="4.8" height="4.8"/><rect x="569.6" y="103.0" width="4.8" height="4.8"/><rect x="453.8" y="192.1" width="4.8" height="4.8"/><rect x="472.5" y="176.8" width="4.8" height="4.8"/><rect x="462.6" y="183.3" width="4.8" height="4.8"/><rect x="551.6" y="117.5" width="4.8" height="4.8"/><rect x="584.8" y="89.7" width="4.8" height="4.8"/><rect x="594.2" y="86.2" width="4.8" height="4.8"/><rect x="470.8" y="182.6" width="4.8" height="4.8"/><rect x="501.8" y="152.9" width="4.8" height="4.8"/><rect x="455.3" y="194.4" width="4.8" height="4.8"/><rect x="581.0" y="93.6" width="4.8" height="4.8"/><rect x="523.2" y="136.5" width="4.8" height="4.8"/><rect x="486.7" y="167.8" width="4.8" height="4.8"/><rect x="474.8" y="175.5" width="4.8" height="4.8"/><rect x="654.0" y="44.0" width="4.8" height="4.8"/><rect x="538.4" y="124.9" width="4.8" height="4.8"/><rect x="664.4" y="29.8" width="4.8" height="4.8"/><rect x="498.7" y="154.5" width="4.8" height="4.8"/><rect x="472.5" y="178.1" width="4.8" height="4.8"/><rect x="596.3" y="84.6" width="4.8" height="4.8"/><rect x="644.9" y="49.8" width="4.8" height="4.8"/><rect x="459.7" y="189.7" width="4.8" height="4.8"/><rect x="632.4" y="59.2" width="4.8" height="4.8"/><rect x="564.5" y="104.5" width="4.8" height="4.8"/><rect x="642.9" y="53.8" width="4.8" height="4.8"/><rect x="653.3" y="43.2" width="4.8" height="4.8"/><rect x="524.8" y="138.3" width="4.8" height="4.8"/><rect x="652.0" y="43.6" width="4.8" height="4.8"/><rect x="463.8" y="187.7" width="4.8" height="4.8"/><rect x="529.0" y="130.3" width="4.8" height="4.8"/><rect x="528.9" y="133.6" width="4.8" height="4.8"/><rect x="479.8" y="172.2" width="4.8" height="4.8"/><rect x="538.9" y="121.4" width="4.8" height="4.8"/><rect x="605.4" y="75.6" width="4.8" height="4.8"/><rect x="446.0" y="201.0" width="4.8" height="4.8"/><rect x="538.2" y="126.6" width="4.8" height="4.8"/><rect x="549.2" y="113.6" width="4.8" height="4.8"/><rect x="467.8" y="179.1" width="4.8" height="4.8"/><rect x="578.1" y="97.5" width="4.8" height="4.8"/><rect x="481.7" y="173.6" width="4.8" height="4.8"/><rect x="560.4" y="108.6" width="4.8" height="4.8"/><rect x="560.6" y="106.3" width="4.8" height="4.8"/><rect x="604.5" y="76.2" width="4.8" height="4.8"/><rect x="650.5" y="44.1" width="4.8" height="4.8"/><rect x="648.3" y="47.3" width="4.8" height="4.8"/><rect x="543.4" y="118.5" width="4.8" height="4.8"/><rect x="484.2" y="168.2" width="4.8" height="4.8"/><rect x="479.1" y="170.2" width="4.8" height="4.8"/><rect x="613.8" y="71.7" width="4.8" height="4.8"/><rect x="607.3" y="76.0" width="4.8" height="4.8"/><rect x="615.6" y="70.3" width="4.8" height="4.8"/><rect x="625.4" y="62.8" width="4.8" height="4.8"/><rect x="559.0" y="112.5" width="4.8" height="4.8"/><rect x="641.2" y="55.9" width="4.8" height="4.8"/><rect x="581.8" y="93.8" width="4.8" height="4.8"/><rect x="575.4" y="101.2" width="4.8" height="4.8"/><rect x="626.3" y="64.5" width="4.8" height="4.8"/><rect x="580.5" y="93.6" width="4.8" height="4.8"/><rect x="609.2" y="75.0" width="4.8" height="4.8"/><rect x="649.2" y="45.3" width="4.8" height="4.8"/><rect x="517.0" y="144.1" width="4.8" height="4.8"/><rect x="605.0" y="78.0" width="4.8" height="4.8"/><rect x="493.0" y="163.6" width="4.8" height="4.8"/><rect x="539.6" y="122.3" width="4.8" height="4.8"/><rect x="635.3" y="58.3" width="4.8" height="4.8"/><rect x="660.1" y="35.5" width="4.8" height="4.8"/><rect x="653.6" y="43.7" width="4.8" height="4.8"/><rect x="606.6" y="75.5" width="4.8" height="4.8"/><rect x="629.1" y="59.5" width="4.8" height="4.8"/><rect x="638.0" y="55.6" width="4.8" height="4.8"/><rect x="570.1" y="103.6" width="4.8" height="4.8"/><rect x="479.4" y="174.9" width="4.8" height="4.8"/><rect x="423.6" y="216.6" width="4.8" height="4.8"/><rect x="607.5" y="75.3" width="4.8" height="4.8"/><rect x="607.3" y="75.0" width="4.8" height="4.8"/><rect x="600.1" y="81.3" width="4.8" height="4.8"/><rect x="562.7" y="109.6" width="4.8" height="4.8"/><rect x="582.0" y="94.7" width="4.8" height="4.8"/><rect x="596.9" y="83.8" width="4.8" height="4.8"/><rect x="550.7" y="115.4" width="4.8" height="4.8"/><rect x="582.1" y="94.5" width="4.8" height="4.8"/><rect x="474.7" y="173.4" width="4.8" height="4.8"/><rect x="551.4" y="117.8" width="4.8" height="4.8"/><rect x="574.7" y="100.0" width="4.8" height="4.8"/><rect x="559.9" y="109.3" width="4.8" height="4.8"/><rect x="482.8" y="171.7" width="4.8" height="4.8"/><rect x="450.6" y="198.8" width="4.8" height="4.8"/><rect x="581.1" y="94.6" width="4.8" height="4.8"/><rect x="447.1" y="198.6" width="4.8" height="4.8"/><rect x="615.7" y="69.6" width="4.8" height="4.8"/><rect x="464.2" y="185.4" width="4.8" height="4.8"/><rect x="610.2" y="74.1" width="4.8" height="4.8"/><rect x="507.2" y="151.3" width="4.8" height="4.8"/><rect x="642.2" y="52.4" width="4.8" height="4.8"/><rect x="475.0" y="179.0" width="4.8" height="4.8"/><rect x="458.2" y="187.2" width="4.8" height="4.8"/><rect x="586.2" y="90.6" width="4.8" height="4.8"/><rect x="610.6" y="73.6" width="4.8" height="4.8"/><rect x="505.7" y="153.4" width="4.8" height="4.8"/><rect x="536.0" y="124.5" width="4.8" height="4.8"/><rect x="582.9" y="93.0" width="4.8" height="4.8"/><rect x="492.2" y="163.5" width="4.8" height="4.8"/><rect x="515.4" y="141.5" width="4.8" height="4.8"/><rect x="559.2" y="106.7" width="4.8" height="4.8"/><rect x="494.1" y="158.5" width="4.8" height="4.8"/><rect x="455.3" y="191.3" width="4.8" height="4.8"/><rect x="644.0" y="50.8" width="4.8" height="4.8"/><rect x="449.5" y="199.0" width="4.8" height="4.8"/><rect x="663.4" y="31.8" width="4.8" height="4.8"/><rect x="628.1" y="64.2" width="4.8" height="4.8"/><rect x="529.8" y="128.9" width="4.8" height="4.8"/><rect x="632.1" y="60.1" width="4.8" height="4.8"/><rect x="435.1" y="205.6" width="4.8" height="4.8"/><rect x="558.4" y="110.1" width="4.8" height="4.8"/><rect x="506.7" y="150.9" width="4.8" height="4.8"/><rect x="493.6" y="161.1" width="4.8" height="4.8"/><rect x="640.6" y="56.3" width="4.8" height="4.8"/><rect x="428.7" y="210.7" width="4.8" height="4.8"/><rect x="632.5" y="57.5" width="4.8" height="4.8"/><rect x="438.7" y="205.0" width="4.8" height="4.8"/><rect x="586.8" y="89.5" width="4.8" height="4.8"/><rect x="489.9" y="163.8" width="4.8" height="4.8"/><rect x="549.6" y="115.6" width="4.8" height="4.8"/><rect x="648.1" y="50.3" width="4.8" height="4.8"/><rect x="616.5" y="68.8" width="4.8" height="4.8"/><rect x="443.7" y="202.3" width="4.8" height="4.8"/><rect x="494.7" y="161.6" width="4.8" height="4.8"/><rect x="539.9" y="122.1" width="4.8" height="4.8"/><rect x="596.5" y="83.4" width="4.8" height="4.8"/><rect x="420.6" y="219.8" width="4.8" height="4.8"/><rect x="632.9" y="59.3" width="4.8" height="4.8"/><rect x="627.5" y="61.5" width="4.8" height="4.8"/><rect x="655.8" y="38.9" width="4.8" height="4.8"/><rect x="469.3" y="178.3" width="4.8" height="4.8"/><rect x="472.0" y="179.7" width="4.8" height="4.8"/><rect x="625.2" y="65.2" width="4.8" height="4.8"/><rect x="546.5" y="119.4" width="4.8" height="4.8"/><rect x="479.9" y="175.3" width="4.8" height="4.8"/><rect x="423.4" y="215.9" width="4.8" height="4.8"/><rect x="472.8" y="174.5" width="4.8" height="4.8"/><rect x="586.2" y="89.9" width="4.8" height="4.8"/><rect x="600.5" y="79.9" width="4.8" height="4.8"/><rect x="506.8" y="149.6" width="4.8" height="4.8"/><rect x="646.2" y="47.1" width="4.8" height="4.8"/><rect x="545.3" y="117.7" width="4.8" height="4.8"/><rect x="547.2" y="122.1" width="4.8" height="4.8"/><rect x="516.8" y="143.7" width="4.8" height="4.8"/><rect x="519.0" y="141.4" width="4.8" height="4.8"/><rect x="508.0" y="152.1" width="4.8" height="4.8"/><rect x="623.2" y="66.6" width="4.8" height="4.8"/><rect x="528.1" y="130.7" width="4.8" height="4.8"/><rect x="476.4" y="172.2" width="4.8" height="4.8"/><rect x="526.9" y="130.7" width="4.8" height="4.8"/><rect x="648.2" y="45.4" width="4.8" height="4.8"/><rect x="577.3" y="98.3" width="4.8" height="4.8"/><rect x="445.2" y="199.6" width="4.8" height="4.8"/><rect x="522.9" y="133.8" width="4.8" height="4.8"/><rect x="534.6" y="131.1" width="4.8" height="4.8"/><rect x="422.6" y="216.4" width="4.8" height="4.8"/><rect x="657.1" y="38.6" width="4.8" height="4.8"/><rect x="645.9" y="48.5" width="4.8" height="4.8"/><rect x="444.3" y="200.3" width="4.8" height="4.8"/><rect x="555.8" y="108.1" width="4.8" height="4.8"/><rect x="496.5" y="159.6" width="4.8" height="4.8"/><rect x="471.6" y="177.6" width="4.8" height="4.8"/><rect x="487.0" y="163.9" width="4.8" height="4.8"/><rect x="432.4" y="209.3" width="4.8" height="4.8"/><rect x="589.5" y="88.4" width="4.8" height="4.8"/><rect x="509.9" y="147.9" width="4.8" height="4.8"/><rect x="592.3" y="86.7" width="4.8" height="4.8"/><rect x="620.9" y="66.1" width="4.8" height="4.8"/><rect x="560.9" y="107.4" width="4.8" height="4.8"/><rect x="504.2" y="154.7" width="4.8" height="4.8"/><rect x="453.8" y="192.7" width="4.8" height="4.8"/><rect x="580.4" y="96.0" width="4.8" height="4.8"/><rect x="586.1" y="91.9" width="4.8" height="4.8"/><rect x="612.5" y="72.1" width="4.8" height="4.8"/><rect x="453.3" y="193.3" width="4.8" height="4.8"/><rect x="430.6" y="211.3" width="4.8" height="4.8"/><rect x="636.7" y="56.9" width="4.8" height="4.8"/><rect x="569.2" y="101.1" width="4.8" height="4.8"/><rect x="442.5" y="202.4" width="4.8" height="4.8"/><rect x="594.6" y="86.3" width="4.8" height="4.8"/><rect x="433.1" y="210.3" width="4.8" height="4.8"/><rect x="575.6" y="98.8" width="4.8" height="4.8"/><rect x="556.5" y="110.6" width="4.8" height="4.8"/><rect x="596.2" y="82.6" width="4.8" height="4.8"/><rect x="442.5" y="201.7" width="4.8" height="4.8"/><rect x="644.0" y="54.1" width="4.8" height="4.8"/><rect x="651.8" y="45.8" width="4.8" height="4.8"/><rect x="662.8" y="37.8" width="4.8" height="4.8"/><rect x="608.7" y="74.8" width="4.8" height="4.8"/><rect x="496.3" y="161.0" width="4.8" height="4.8"/><rect x="661.3" y="36.1" width="4.8" height="4.8"/><rect x="571.2" y="101.3" width="4.8" height="4.8"/><rect x="596.9" y="83.5" width="4.8" height="4.8"/><rect x="582.8" y="92.0" width="4.8" height="4.8"/><rect x="470.3" y="178.4" width="4.8" height="4.8"/><rect x="630.3" y="59.2" width="4.8" height="4.8"/><rect x="579.2" y="95.6" width="4.8" height="4.8"/><rect x="473.8" y="176.3" width="4.8" height="4.8"/><rect x="512.7" y="145.2" width="4.8" height="4.8"/><rect x="454.7" y="189.2" width="4.8" height="4.8"/><rect x="526.3" y="133.0" width="4.8" height="4.8"/><rect x="664.0" y="31.0" width="4.8" height="4.8"/><rect x="514.1" y="144.6" width="4.8" height="4.8"/><rect x="517.0" y="142.5" width="4.8" height="4.8"/><rect x="617.9" y="69.9" width="4.8" height="4.8"/><rect x="439.7" y="203.0" width="4.8" height="4.8"/><rect x="448.8" y="196.9" width="4.8" height="4.8"/><rect x="603.7" y="78.4" width="4.8" height="4.8"/><rect x="451.4" y="196.7" width="4.8" height="4.8"/><rect x="570.4" y="100.7" width="4.8" height="4.8"/><rect x="621.3" y="66.6" width="4.8" height="4.8"/><rect x="558.5" y="111.6" width="4.8" height="4.8"/><rect x="439.0" y="203.6" width="4.8" height="4.8"/><rect x="470.3" y="177.7" width="4.8" height="4.8"/><rect x="552.9" y="111.6" width="4.8" height="4.8"/><rect x="655.2" y="44.0" width="4.8" height="4.8"/><rect x="581.0" y="92.8" width="4.8" height="4.8"/><rect x="591.6" y="88.3" width="4.8" height="4.8"/><rect x="566.5" y="101.2" width="4.8" height="4.8"/><rect x="499.8" y="155.9" width="4.8" height="4.8"/><rect x="569.5" y="102.3" width="4.8" height="4.8"/><rect x="421.6" y="214.9" width="4.8" height="4.8"/><rect x="521.7" y="138.1" width="4.8" height="4.8"/><rect x="620.1" y="67.1" width="4.8" height="4.8"/><rect x="469.8" y="178.4" width="4.8" height="4.8"/><rect x="579.6" y="92.9" width="4.8" height="4.8"/><rect x="597.4" y="82.0" width="4.8" height="4.8"/><rect x="457.9" y="192.3" width="4.8" height="4.8"/><rect x="631.4" y="61.9" width="4.8" height="4.8"/><rect x="479.5" y="173.5" width="4.8" height="4.8"/><rect x="657.4" y="42.6" width="4.8" height="4.8"/><rect x="504.4" y="151.7" width="4.8" height="4.8"/><rect x="570.5" y="102.3" width="4.8" height="4.8"/><rect x="653.9" y="42.1" width="4.8" height="4.8"/><rect x="622.1" y="66.1" width="4.8" height="4.8"/><rect x="539.4" y="123.8" width="4.8" height="4.8"/><rect x="467.3" y="183.5" width="4.8" height="4.8"/><rect x="571.3" y="101.9" width="4.8" height="4.8"/><rect x="564.6" y="105.7" width="4.8" height="4.8"/><rect x="435.0" y="207.3" width="4.8" height="4.8"/><rect x="513.8" y="143.1" width="4.8" height="4.8"/><rect x="647.0" y="47.6" width="4.8" height="4.8"/><rect x="549.3" y="115.6" width="4.8" height="4.8"/><rect x="464.0" y="185.2" width="4.8" height="4.8"/><rect x="578.5" y="97.5" width="4.8" height="4.8"/><rect x="531.5" y="132.6" width="4.8" height="4.8"/><rect x="645.3" y="48.5" width="4.8" height="4.8"/><rect x="540.4" y="126.9" width="4.8" height="4.8"/><rect x="425.7" y="216.5" width="4.8" height="4.8"/><rect x="459.1" y="185.9" width="4.8" height="4.8"/><rect x="462.6" y="184.0" width="4.8" height="4.8"/><rect x="654.5" y="43.7" width="4.8" height="4.8"/><rect x="508.1" y="149.3" width="4.8" height="4.8"/><rect x="505.5" y="149.3" width="4.8" height="4.8"/><rect x="660.7" y="34.5" width="4.8" height="4.8"/><rect x="470.2" y="180.2" width="4.8" height="4.8"/><rect x="573.1" y="100.8" width="4.8" height="4.8"/><rect x="653.7" y="42.3" width="4.8" height="4.8"/><rect x="644.3" y="50.5" width="4.8" height="4.8"/><rect x="458.9" y="187.3" width="4.8" height="4.8"/><rect x="535.7" y="128.0" width="4.8" height="4.8"/><rect x="481.6" y="167.6" width="4.8" height="4.8"/><rect x="592.4" y="87.0" width="4.8" height="4.8"/><rect x="480.1" y="173.1" width="4.8" height="4.8"/><rect x="463.0" y="184.2" width="4.8" height="4.8"/><rect x="486.5" y="167.3" width="4.8" height="4.8"/><rect x="451.5" y="194.7" width="4.8" height="4.8"/><rect x="596.4" y="83.9" width="4.8" height="4.8"/><rect x="488.3" y="167.1" width="4.8" height="4.8"/><rect x="518.2" y="143.2" width="4.8" height="4.8"/><rect x="487.3" y="166.6" width="4.8" height="4.8"/><rect x="513.3" y="143.9" width="4.8" height="4.8"/><rect x="494.7" y="160.9" width="4.8" height="4.8"/><rect x="506.7" y="152.0" width="4.8" height="4.8"/><rect x="594.6" y="85.0" width="4.8" height="4.8"/><rect x="462.2" y="186.4" width="4.8" height="4.8"/><rect x="589.1" y="90.5" width="4.8" height="4.8"/><rect x="505.1" y="153.2" width="4.8" height="4.8"/><rect x="442.3" y="201.9" width="4.8" height="4.8"/><rect x="448.8" y="198.1" width="4.8" height="4.8"/><rect x="642.0" y="51.1" width="4.8" height="4.8"/><rect x="429.6" y="212.8" width="4.8" height="4.8"/><rect x="487.5" y="166.8" width="4.8" height="4.8"/><rect x="632.8" y="60.9" width="4.8" height="4.8"/><rect x="438.9" y="203.6" width="4.8" height="4.8"/><rect x="471.4" y="177.9" width="4.8" height="4.8"/><rect x="485.7" y="166.5" width="4.8" height="4.8"/><rect x="626.0" y="65.0" width="4.8" height="4.8"/><rect x="447.8" y="196.2" width="4.8" height="4.8"/><rect x="653.1" y="43.6" width="4.8" height="4.8"/><rect x="448.9" y="199.7" width="4.8" height="4.8"/><rect x="559.1" y="111.9" width="4.8" height="4.8"/><rect x="610.5" y="74.3" width="4.8" height="4.8"/><rect x="557.4" y="107.9" width="4.8" height="4.8"/><rect x="544.7" y="117.7" width="4.8" height="4.8"/><rect x="527.5" y="136.8" width="4.8" height="4.8"/><rect x="481.7" y="168.8" width="4.8" height="4.8"/><rect x="664.8" y="28.6" width="4.8" height="4.8"/><rect x="519.1" y="140.6" width="4.8" height="4.8"/><rect x="577.4" y="95.2" width="4.8" height="4.8"/><rect x="563.3" y="106.0" width="4.8" height="4.8"/><rect x="657.2" y="39.6" width="4.8" height="4.8"/><rect x="479.6" y="170.4" width="4.8" height="4.8"/><rect x="457.5" y="190.2" width="4.8" height="4.8"/><rect x="641.6" y="49.5" width="4.8" height="4.8"/><rect x="545.1" y="118.0" width="4.8" height="4.8"/><rect x="577.8" y="98.7" width="4.8" height="4.8"/><rect x="573.9" y="96.9" width="4.8" height="4.8"/><rect x="612.8" y="72.3" width="4.8" height="4.8"/><rect x="626.5" y="64.6" width="4.8" height="4.8"/><rect x="592.7" y="86.7" width="4.8" height="4.8"/><rect x="420.4" y="215.1" width="4.8" height="4.8"/><rect x="626.3" y="61.6" width="4.8" height="4.8"/><rect x="429.7" y="210.4" width="4.8" height="4.8"/><rect x="631.4" y="60.9" width="4.8" height="4.8"/><rect x="419.5" y="220.1" width="4.8" height="4.8"/><rect x="610.8" y="74.9" width="4.8" height="4.8"/><rect x="577.2" y="96.7" width="4.8" height="4.8"/><rect x="425.6" y="213.3" width="4.8" height="4.8"/><rect x="605.7" y="77.6" width="4.8" height="4.8"/><rect x="562.6" y="107.1" width="4.8" height="4.8"/><rect x="449.1" y="198.8" width="4.8" height="4.8"/><rect x="636.1" y="54.8" width="4.8" height="4.8"/><rect x="565.5" y="104.9" width="4.8" height="4.8"/><rect x="533.7" y="128.3" width="4.8" height="4.8"/><rect x="653.1" y="43.4" width="4.8" height="4.8"/><rect x="469.5" y="182.2" width="4.8" height="4.8"/><rect x="462.8" y="188.4" width="4.8" height="4.8"/><rect x="640.0" y="55.8" width="4.8" height="4.8"/><rect x="458.9" y="185.4" width="4.8" height="4.8"/><rect x="621.5" y="64.8" width="4.8" height="4.8"/><rect x="471.1" y="179.9" width="4.8" height="4.8"/><rect x="620.6" y="65.8" width="4.8" height="4.8"/><rect x="520.2" y="141.4" width="4.8" height="4.8"/><rect x="571.9" y="98.4" width="4.8" height="4.8"/><rect x="569.4" y="104.5" width="4.8" height="4.8"/><rect x="516.9" y="140.3" width="4.8" height="4.8"/><rect x="547.5" y="115.2" width="4.8" height="4.8"/><rect x="579.9" y="94.5" width="4.8" height="4.8"/><rect x="452.9" y="195.8" width="4.8" height="4.8"/><rect x="645.8" y="49.8" width="4.8" height="4.8"/><rect x="622.9" y="65.1" width="4.8" height="4.8"/><rect x="470.7" y="179.1" width="4.8" height="4.8"/><rect x="474.9" y="176.0" width="4.8" height="4.8"/><rect x="516.8" y="144.6" width="4.8" height="4.8"/><rect x="610.1" y="73.6" width="4.8" height="4.8"/><rect x="547.1" y="118.6" width="4.8" height="4.8"/><rect x="497.1" y="157.8" width="4.8" height="4.8"/><rect x="609.3" y="74.6" width="4.8" height="4.8"/><rect x="467.6" y="180.8" width="4.8" height="4.8"/><rect x="594.5" y="85.2" width="4.8" height="4.8"/><rect x="605.6" y="77.1" width="4.8" height="4.8"/><rect x="444.4" y="201.2" width="4.8" height="4.8"/><rect x="560.2" y="108.4" width="4.8" height="4.8"/><rect x="566.1" y="101.4" width="4.8" height="4.8"/><rect x="659.5" y="37.1" width="4.8" height="4.8"/><rect x="493.1" y="160.8" width="4.8" height="4.8"/><rect x="533.0" y="131.5" width="4.8" height="4.8"/><rect x="650.8" y="47.5" width="4.8" height="4.8"/><rect x="451.5" y="196.7" width="4.8" height="4.8"/><rect x="641.1" y="54.5" width="4.8" height="4.8"/><rect x="509.6" y="148.6" width="4.8" height="4.8"/><rect x="504.2" y="152.2" width="4.8" height="4.8"/><rect x="665.4" y="28.5" width="4.8" height="4.8"/><rect x="515.8" y="144.0" width="4.8" height="4.8"/><rect x="480.4" y="171.1" width="4.8" height="4.8"/><rect x="470.5" y="177.7" width="4.8" height="4.8"/><rect x="591.3" y="87.9" width="4.8" height="4.8"/><rect x="576.5" y="97.4" width="4.8" height="4.8"/><rect x="478.3" y="173.5" width="4.8" height="4.8"/><rect x="541.7" y="126.3" width="4.8" height="4.8"/><rect x="490.1" y="164.0" width="4.8" height="4.8"/><rect x="626.3" y="64.1" width="4.8" height="4.8"/><rect x="507.7" y="148.7" width="4.8" height="4.8"/><rect x="571.5" y="100.4" width="4.8" height="4.8"/><rect x="645.2" y="48.3" width="4.8" height="4.8"/><rect x="478.3" y="174.8" width="4.8" height="4.8"/><rect x="654.8" y="41.3" width="4.8" height="4.8"/><rect x="539.3" y="127.9" width="4.8" height="4.8"/><rect x="577.6" y="95.8" width="4.8" height="4.8"/><rect x="486.5" y="169.2" width="4.8" height="4.8"/><rect x="591.0" y="86.9" width="4.8" height="4.8"/><rect x="598.3" y="82.1" width="4.8" height="4.8"/><rect x="565.7" y="102.3" width="4.8" height="4.8"/><rect x="632.6" y="58.2" width="4.8" height="4.8"/><rect x="535.9" y="125.5" width="4.8" height="4.8"/><rect x="422.9" y="217.1" width="4.8" height="4.8"/><rect x="645.2" y="51.4" width="4.8" height="4.8"/><rect x="559.7" y="110.4" width="4.8" height="4.8"/><rect x="571.4" y="98.4" width="4.8" height="4.8"/><rect x="567.3" y="105.2" width="4.8" height="4.8"/><rect x="429.4" y="212.1" width="4.8" height="4.8"/><rect x="490.3" y="166.0" width="4.8" height="4.8"/><rect x="441.4" y="204.1" width="4.8" height="4.8"/><rect x="580.0" y="95.1" width="4.8" height="4.8"/><rect x="630.7" y="59.5" width="4.8" height="4.8"/><rect x="582.6" y="91.5" width="4.8" height="4.8"/><rect x="620.5" y="66.3" width="4.8" height="4.8"/><rect x="501.5" y="153.2" width="4.8" height="4.8"/><rect x="427.0" y="212.4" width="4.8" height="4.8"/><rect x="520.5" y="140.2" width="4.8" height="4.8"/><rect x="461.0" y="186.8" width="4.8" height="4.8"/><rect x="494.7" y="160.0" width="4.8" height="4.8"/><rect x="478.3" y="175.6" width="4.8" height="4.8"/><rect x="463.9" y="183.4" width="4.8" height="4.8"/><rect x="589.3" y="88.6" width="4.8" height="4.8"/><rect x="567.1" y="106.1" width="4.8" height="4.8"/><rect x="622.7" y="65.7" width="4.8" height="4.8"/><rect x="662.7" y="31.8" width="4.8" height="4.8"/><rect x="478.0" y="174.7" width="4.8" height="4.8"/><rect x="651.3" y="47.1" width="4.8" height="4.8"/><rect x="609.1" y="76.1" width="4.8" height="4.8"/><rect x="558.4" y="105.8" width="4.8" height="4.8"/><rect x="659.8" y="38.9" width="4.8" height="4.8"/><rect x="546.0" y="117.6" width="4.8" height="4.8"/><rect x="426.2" y="213.0" width="4.8" height="4.8"/><rect x="450.1" y="195.2" width="4.8" height="4.8"/><rect x="496.6" y="159.6" width="4.8" height="4.8"/><rect x="591.5" y="86.6" width="4.8" height="4.8"/><rect x="559.3" y="106.4" width="4.8" height="4.8"/><rect x="588.2" y="88.9" width="4.8" height="4.8"/><rect x="423.8" y="215.9" width="4.8" height="4.8"/><rect x="480.5" y="168.5" width="4.8" height="4.8"/><rect x="556.4" y="110.1" width="4.8" height="4.8"/><rect x="581.1" y="95.9" width="4.8" height="4.8"/><rect x="526.1" y="136.7" width="4.8" height="4.8"/><rect x="473.2" y="176.4" width="4.8" height="4.8"/><rect x="495.8" y="161.2" width="4.8" height="4.8"/><rect x="607.5" y="76.3" width="4.8" height="4.8"/><rect x="596.7" y="81.6" width="4.8" height="4.8"/><rect x="480.4" y="174.7" width="4.8" height="4.8"/><rect x="654.4" y="42.1" width="4.8" height="4.8"/><rect x="430.1" y="212.0" width="4.8" height="4.8"/><rect x="477.2" y="173.0" width="4.8" height="4.8"/><rect x="527.6" y="130.8" width="4.8" height="4.8"/><rect x="618.2" y="68.5" width="4.8" height="4.8"/><rect x="559.0" y="110.4" width="4.8" height="4.8"/><rect x="586.3" y="92.2" width="4.8" height="4.8"/><rect x="654.5" y="42.2" width="4.8" height="4.8"/><rect x="510.0" y="147.2" width="4.8" height="4.8"/><rect x="464.1" y="186.1" width="4.8" height="4.8"/><rect x="520.5" y="138.6" width="4.8" height="4.8"/><rect x="558.6" y="110.0" width="4.8" height="4.8"/><rect x="452.5" y="193.7" width="4.8" height="4.8"/><rect x="428.8" y="214.2" width="4.8" height="4.8"/><rect x="598.8" y="81.3" width="4.8" height="4.8"/><rect x="663.8" y="32.6" width="4.8" height="4.8"/><rect x="649.6" y="48.3" width="4.8" height="4.8"/><rect x="512.3" y="145.3" width="4.8" height="4.8"/><rect x="531.6" y="134.2" width="4.8" height="4.8"/><rect x="624.3" y="64.5" width="4.8" height="4.8"/><rect x="662.9" y="35.9" width="4.8" height="4.8"/><rect x="507.3" y="150.6" width="4.8" height="4.8"/><rect x="654.7" y="44.8" width="4.8" height="4.8"/><rect x="592.1" y="85.3" width="4.8" height="4.8"/><rect x="455.6" y="194.8" width="4.8" height="4.8"/><rect x="530.6" y="133.5" width="4.8" height="4.8"/><rect x="420.0" y="218.1" width="4.8" height="4.8"/><rect x="520.0" y="142.5" width="4.8" height="4.8"/><rect x="548.6" y="118.2" width="4.8" height="4.8"/><rect x="616.6" y="70.8" width="4.8" height="4.8"/><rect x="501.0" y="154.4" width="4.8" height="4.8"/><rect x="579.9" y="96.2" width="4.8" height="4.8"/><rect x="583.3" y="93.2" width="4.8" height="4.8"/><rect x="548.8" y="115.0" width="4.8" height="4.8"/><rect x="570.9" y="99.4" width="4.8" height="4.8"/><rect x="533.0" y="130.9" width="4.8" height="4.8"/><rect x="570.2" y="101.8" width="4.8" height="4.8"/><rect x="533.2" y="126.9" width="4.8" height="4.8"/><rect x="644.8" y="52.8" width="4.8" height="4.8"/><rect x="447.2" y="198.5" width="4.8" height="4.8"/><rect x="632.9" y="59.2" width="4.8" height="4.8"/><rect x="603.5" y="77.1" width="4.8" height="4.8"/><rect x="422.0" y="218.0" width="4.8" height="4.8"/><rect x="597.1" y="81.4" width="4.8" height="4.8"/><rect x="509.0" y="147.6" width="4.8" height="4.8"/><rect x="544.7" y="116.3" width="4.8" height="4.8"/><rect x="547.3" y="114.9" width="4.8" height="4.8"/><rect x="601.1" y="80.1" width="4.8" height="4.8"/><rect x="539.5" y="125.7" width="4.8" height="4.8"/><rect x="576.5" y="96.5" width="4.8" height="4.8"/><rect x="473.4" y="178.0" width="4.8" height="4.8"/><rect x="436.7" y="207.5" width="4.8" height="4.8"/><rect x="584.5" y="90.4" width="4.8" height="4.8"/><rect x="663.8" y="35.0" width="4.8" height="4.8"/><rect x="438.4" y="203.7" width="4.8" height="4.8"/><rect x="644.5" y="48.4" width="4.8" height="4.8"/><rect x="514.3" y="144.3" width="4.8" height="4.8"/><rect x="580.8" y="93.3" width="4.8" height="4.8"/><rect x="485.0" y="165.7" width="4.8" height="4.8"/><rect x="590.2" y="87.5" width="4.8" height="4.8"/><rect x="527.0" y="131.6" width="4.8" height="4.8"/><rect x="615.9" y="70.0" width="4.8" height="4.8"/><rect x="487.7" y="164.3" width="4.8" height="4.8"/><rect x="501.6" y="152.7" width="4.8" height="4.8"/><rect x="573.9" y="98.2" width="4.8" height="4.8"/><rect x="445.3" y="199.4" width="4.8" height="4.8"/><rect x="660.5" y="37.6" width="4.8" height="4.8"/><rect x="569.5" y="103.9" width="4.8" height="4.8"/><rect x="659.8" y="35.7" width="4.8" height="4.8"/><rect x="463.3" y="185.7" width="4.8" height="4.8"/><rect x="594.6" y="83.4" width="4.8" height="4.8"/><rect x="469.1" y="178.2" width="4.8" height="4.8"/><rect x="439.7" y="203.4" width="4.8" height="4.8"/><rect x="528.8" y="130.9" width="4.8" height="4.8"/><rect x="535.8" y="126.9" width="4.8" height="4.8"/><rect x="557.3" y="111.3" width="4.8" height="4.8"/><rect x="534.6" y="127.6" width="4.8" height="4.8"/><rect x="467.6" y="181.4" width="4.8" height="4.8"/><rect x="588.0" y="90.1" width="4.8" height="4.8"/><rect x="485.0" y="165.9" width="4.8" height="4.8"/><rect x="491.0" y="164.4" width="4.8" height="4.8"/><rect x="612.5" y="73.8" width="4.8" height="4.8"/><rect x="587.9" y="89.0" width="4.8" height="4.8"/><rect x="599.1" y="81.8" width="4.8" height="4.8"/><rect x="647.3" y="50.3" width="4.8" height="4.8"/><rect x="630.1" y="61.4" width="4.8" height="4.8"/><rect x="473.5" y="176.2" width="4.8" height="4.8"/><rect x="660.7" y="37.0" width="4.8" height="4.8"/><rect x="547.8" y="114.5" width="4.8" height="4.8"/><rect x="557.4" y="109.1" width="4.8" height="4.8"/><rect x="488.1" y="165.1" width="4.8" height="4.8"/><rect x="515.1" y="142.7" width="4.8" height="4.8"/><rect x="557.1" y="106.4" width="4.8" height="4.8"/><rect x="427.5" y="213.1" width="4.8" height="4.8"/><rect x="597.4" y="82.5" width="4.8" height="4.8"/><rect x="505.5" y="150.1" width="4.8" height="4.8"/><rect x="590.4" y="89.1" width="4.8" height="4.8"/><rect x="600.3" y="79.2" width="4.8" height="4.8"/><rect x="572.2" y="100.3" width="4.8" height="4.8"/><rect x="437.7" y="206.9" width="4.8" height="4.8"/><rect x="558.5" y="113.3" width="4.8" height="4.8"/><rect x="506.9" y="152.4" width="4.8" height="4.8"/><rect x="596.0" y="83.2" width="4.8" height="4.8"/><rect x="595.1" y="82.7" width="4.8" height="4.8"/><rect x="543.5" y="117.0" width="4.8" height="4.8"/><rect x="600.1" y="81.3" width="4.8" height="4.8"/><rect x="454.7" y="191.8" width="4.8" height="4.8"/><rect x="621.1" y="65.2" width="4.8" height="4.8"/><rect x="659.0" y="40.6" width="4.8" height="4.8"/><rect x="642.0" y="53.2" width="4.8" height="4.8"/><rect x="620.1" y="67.5" width="4.8" height="4.8"/><rect x="519.4" y="142.0" width="4.8" height="4.8"/><rect x="649.9" y="48.4" width="4.8" height="4.8"/><rect x="558.3" y="108.8" width="4.8" height="4.8"/><rect x="472.4" y="175.5" width="4.8" height="4.8"/><rect x="553.4" y="115.0" width="4.8" height="4.8"/><rect x="629.7" y="59.2" width="4.8" height="4.8"/><rect x="587.0" y="91.8" width="4.8" height="4.8"/><rect x="625.3" y="64.4" width="4.8" height="4.8"/><rect x="427.9" y="214.4" width="4.8" height="4.8"/><rect x="659.1" y="37.7" width="4.8" height="4.8"/><rect x="647.5" y="50.2" width="4.8" height="4.8"/><rect x="543.6" y="122.9" width="4.8" height="4.8"/><rect x="647.6" y="49.5" width="4.8" height="4.8"/><rect x="464.2" y="183.4" width="4.8" height="4.8"/><rect x="509.5" y="146.9" width="4.8" height="4.8"/><rect x="461.0" y="190.2" width="4.8" height="4.8"/><rect x="584.9" y="90.0" width="4.8" height="4.8"/><rect x="646.2" y="47.9" width="4.8" height="4.8"/><rect x="649.6" y="46.9" width="4.8" height="4.8"/><rect x="439.0" y="204.1" width="4.8" height="4.8"/><rect x="609.3" y="75.0" width="4.8" height="4.8"/><rect x="557.5" y="114.0" width="4.8" height="4.8"/><rect x="473.9" y="174.7" width="4.8" height="4.8"/><rect x="640.6" y="51.2" width="4.8" height="4.8"/><rect x="550.0" y="114.4" width="4.8" height="4.8"/><rect x="429.6" y="213.6" width="4.8" height="4.8"/><rect x="512.2" y="147.5" width="4.8" height="4.8"/><rect x="588.0" y="90.0" width="4.8" height="4.8"/><rect x="629.7" y="58.8" width="4.8" height="4.8"/><rect x="468.4" y="180.1" width="4.8" height="4.8"/><rect x="565.6" y="105.4" width="4.8" height="4.8"/><rect x="440.6" y="204.6" width="4.8" height="4.8"/><rect x="644.8" y="49.8" width="4.8" height="4.8"/><rect x="421.6" y="217.4" width="4.8" height="4.8"/><rect x="659.4" y="37.2" width="4.8" height="4.8"/><rect x="559.1" y="107.9" width="4.8" height="4.8"/><rect x="605.2" y="76.2" width="4.8" height="4.8"/><rect x="584.8" y="93.1" width="4.8" height="4.8"/><rect x="544.3" y="119.4" width="4.8" height="4.8"/><rect x="527.6" y="136.1" width="4.8" height="4.8"/><rect x="470.6" y="180.4" width="4.8" height="4.8"/><rect x="490.1" y="165.4" width="4.8" height="4.8"/><rect x="442.5" y="202.5" width="4.8" height="4.8"/><rect x="485.6" y="170.5" width="4.8" height="4.8"/><rect x="581.0" y="95.9" width="4.8" height="4.8"/><rect x="555.7" y="111.5" width="4.8" height="4.8"/><rect x="559.6" y="105.0" width="4.8" height="4.8"/><rect x="550.0" y="114.1" width="4.8" height="4.8"/><rect x="653.2" y="44.5" width="4.8" height="4.8"/><rect x="629.5" y="60.6" width="4.8" height="4.8"/><rect x="484.5" y="170.0" width="4.8" height="4.8"/><rect x="557.0" y="109.2" width="4.8" height="4.8"/><rect x="658.9" y="36.9" width="4.8" height="4.8"/><rect x="485.4" y="167.8" width="4.8" height="4.8"/><rect x="592.7" y="85.9" width="4.8" height="4.8"/><rect x="579.4" y="95.3" width="4.8" height="4.8"/><rect x="584.8" y="90.5" width="4.8" height="4.8"/><rect x="556.8" y="113.4" width="4.8" height="4.8"/><rect x="602.4" y="80.3" width="4.8" height="4.8"/><rect x="512.1" y="144.5" width="4.8" height="4.8"/><rect x="651.0" y="45.4" width="4.8" height="4.8"/><rect x="559.5" y="111.6" width="4.8" height="4.8"/><rect x="502.8" y="154.1" width="4.8" height="4.8"/><rect x="577.3" y="97.8" width="4.8" height="4.8"/><rect x="588.8" y="87.5" width="4.8" height="4.8"/><rect x="646.6" y="49.2" width="4.8" height="4.8"/><rect x="576.5" y="97.5" width="4.8" height="4.8"/><rect x="548.5" y="119.3" width="4.8" height="4.8"/><rect x="506.5" y="153.1" width="4.8" height="4.8"/><rect x="524.5" y="133.1" width="4.8" height="4.8"/><rect x="490.1" y="162.1" width="4.8" height="4.8"/><rect x="572.6" y="97.6" width="4.8" height="4.8"/><rect x="632.3" y="61.2" width="4.8" height="4.8"/><rect x="565.9" y="106.4" width="4.8" height="4.8"/><rect x="469.4" y="183.1" width="4.8" height="4.8"/><rect x="428.2" y="213.9" width="4.8" height="4.8"/><rect x="636.4" y="54.6" width="4.8" height="4.8"/><rect x="492.2" y="163.4" width="4.8" height="4.8"/><rect x="589.6" y="89.2" width="4.8" height="4.8"/><rect x="653.1" y="46.1" width="4.8" height="4.8"/><rect x="651.7" y="45.3" width="4.8" height="4.8"/><rect x="556.5" y="114.6" width="4.8" height="4.8"/><rect x="645.1" y="51.2" width="4.8" height="4.8"/><rect x="518.8" y="143.2" width="4.8" height="4.8"/><rect x="651.9" y="43.9" width="4.8" height="4.8"/><rect x="587.1" y="91.2" width="4.8" height="4.8"/><rect x="439.1" y="202.8" width="4.8" height="4.8"/><rect x="620.1" y="66.6" width="4.8" height="4.8"/><rect x="458.9" y="188.3" width="4.8" height="4.8"/><rect x="665.9" y="31.0" width="4.8" height="4.8"/><rect x="431.4" y="209.4" width="4.8" height="4.8"/><rect x="606.5" y="77.0" width="4.8" height="4.8"/><rect x="456.9" y="188.4" width="4.8" height="4.8"/><rect x="552.8" y="117.0" width="4.8" height="4.8"/><rect x="511.3" y="145.2" width="4.8" height="4.8"/><rect x="635.7" y="55.4" width="4.8" height="4.8"/><rect x="487.0" y="168.3" width="4.8" height="4.8"/><rect x="597.3" y="83.0" width="4.8" height="4.8"/><rect x="651.8" y="47.6" width="4.8" height="4.8"/><rect x="435.1" y="207.0" width="4.8" height="4.8"/><rect x="595.9" y="84.4" width="4.8" height="4.8"/><rect x="440.0" y="204.0" width="4.8" height="4.8"/><rect x="611.9" y="72.4" width="4.8" height="4.8"/><rect x="631.2" y="60.7" width="4.8" height="4.8"/><rect x="453.6" y="196.7" width="4.8" height="4.8"/><rect x="638.0" y="55.7" width="4.8" height="4.8"/><rect x="527.6" y="131.5" width="4.8" height="4.8"/><rect x="495.5" y="161.5" width="4.8" height="4.8"/><rect x="658.1" y="40.7" width="4.8" height="4.8"/><rect x="514.3" y="142.4" width="4.8" height="4.8"/><rect x="471.1" y="178.7" width="4.8" height="4.8"/><rect x="500.8" y="154.1" width="4.8" height="4.8"/><rect x="643.0" y="52.8" width="4.8" height="4.8"/><rect x="662.7" y="35.0" width="4.8" height="4.8"/><rect x="531.8" y="131.9" width="4.8" height="4.8"/><rect x="541.4" y="122.8" width="4.8" height="4.8"/><rect x="567.2" y="103.6" width="4.8" height="4.8"/><rect x="626.9" y="64.4" width="4.8" height="4.8"/><rect x="421.4" y="216.1" width="4.8" height="4.8"/><rect x="616.0" y="71.1" width="4.8" height="4.8"/><rect x="659.8" y="35.6" width="4.8" height="4.8"/><rect x="519.5" y="140.3" width="4.8" height="4.8"/><rect x="527.5" y="134.6" width="4.8" height="4.8"/><rect x="656.1" y="40.1" width="4.8" height="4.8"/><rect x="519.9" y="137.6" width="4.8" height="4.8"/><rect x="512.4" y="147.7" width="4.8" height="4.8"/><rect x="631.8" y="60.6" width="4.8" height="4.8"/><rect x="536.3" y="127.8" width="4.8" height="4.8"/><rect x="579.3" y="94.3" width="4.8" height="4.8"/><rect x="490.1" y="164.2" width="4.8" height="4.8"/><rect x="587.5" y="87.7" width="4.8" height="4.8"/><rect x="510.2" y="148.9" width="4.8" height="4.8"/><rect x="613.0" y="71.8" width="4.8" height="4.8"/><rect x="541.1" y="125.7" width="4.8" height="4.8"/><rect x="646.6" y="47.8" width="4.8" height="4.8"/><rect x="554.6" y="113.0" width="4.8" height="4.8"/><rect x="631.3" y="59.6" width="4.8" height="4.8"/><rect x="528.2" y="136.9" width="4.8" height="4.8"/><rect x="584.8" y="93.3" width="4.8" height="4.8"/><rect x="485.3" y="165.9" width="4.8" height="4.8"/><rect x="564.3" y="106.7" width="4.8" height="4.8"/><rect x="583.2" y="92.2" width="4.8" height="4.8"/><rect x="466.4" y="181.4" width="4.8" height="4.8"/><rect x="553.7" y="109.2" width="4.8" height="4.8"/><rect x="647.2" y="48.9" width="4.8" height="4.8"/><rect x="469.1" y="179.0" width="4.8" height="4.8"/><rect x="540.0" y="124.7" width="4.8" height="4.8"/><rect x="626.4" y="65.3" width="4.8" height="4.8"/><rect x="524.6" y="135.1" width="4.8" height="4.8"/><rect x="426.6" y="213.7" width="4.8" height="4.8"/><rect x="549.2" y="113.9" width="4.8" height="4.8"/><rect x="533.6" y="130.9" width="4.8" height="4.8"/><rect x="648.7" y="49.7" width="4.8" height="4.8"/><rect x="583.5" y="92.8" width="4.8" height="4.8"/><rect x="611.3" y="72.9" width="4.8" height="4.8"/><rect x="510.2" y="148.0" width="4.8" height="4.8"/><rect x="640.9" y="53.1" width="4.8" height="4.8"/><rect x="624.2" y="63.4" width="4.8" height="4.8"/><rect x="441.7" y="204.3" width="4.8" height="4.8"/><rect x="582.7" y="95.3" width="4.8" height="4.8"/><rect x="643.0" y="51.2" width="4.8" height="4.8"/><rect x="580.1" y="95.9" width="4.8" height="4.8"/><rect x="659.5" y="38.8" width="4.8" height="4.8"/><rect x="483.8" y="166.8" width="4.8" height="4.8"/><rect x="564.6" y="107.0" width="4.8" height="4.8"/><rect x="551.2" y="115.2" width="4.8" height="4.8"/><rect x="492.3" y="161.7" width="4.8" height="4.8"/><rect x="612.5" y="73.3" width="4.8" height="4.8"/><rect x="525.9" y="131.8" width="4.8" height="4.8"/><rect x="579.9" y="95.5" width="4.8" height="4.8"/><rect x="612.7" y="72.5" width="4.8" height="4.8"/><rect x="599.1" y="82.4" width="4.8" height="4.8"/><rect x="444.0" y="198.6" width="4.8" height="4.8"/><rect x="432.9" y="209.9" width="4.8" height="4.8"/><rect x="622.1" y="67.2" width="4.8" height="4.8"/><rect x="580.1" y="94.9" width="4.8" height="4.8"/><rect x="455.8" y="192.4" width="4.8" height="4.8"/><rect x="451.4" y="193.0" width="4.8" height="4.8"/><rect x="542.3" y="122.6" width="4.8" height="4.8"/><rect x="463.2" y="182.1" width="4.8" height="4.8"/><rect x="649.4" y="48.4" width="4.8" height="4.8"/><rect x="474.6" y="177.4" width="4.8" height="4.8"/><rect x="652.7" y="44.1" width="4.8" height="4.8"/><rect x="596.3" y="83.2" width="4.8" height="4.8"/><rect x="556.7" y="111.3" width="4.8" height="4.8"/><rect x="585.2" y="91.6" width="4.8" height="4.8"/><rect x="590.4" y="89.1" width="4.8" height="4.8"/><rect x="489.8" y="164.1" width="4.8" height="4.8"/><rect x="540.0" y="125.2" width="4.8" height="4.8"/><rect x="435.6" y="208.0" width="4.8" height="4.8"/><rect x="431.1" y="208.5" width="4.8" height="4.8"/><rect x="652.6" y="43.4" width="4.8" height="4.8"/><rect x="629.6" y="62.2" width="4.8" height="4.8"/><rect x="605.6" y="76.3" width="4.8" height="4.8"/><rect x="444.9" y="198.6" width="4.8" height="4.8"/><rect x="573.5" y="101.3" width="4.8" height="4.8"/><rect x="596.1" y="84.6" width="4.8" height="4.8"/><rect x="525.7" y="136.8" width="4.8" height="4.8"/><rect x="512.7" y="147.1" width="4.8" height="4.8"/><rect x="598.9" y="81.3" width="4.8" height="4.8"/><rect x="421.8" y="216.8" width="4.8" height="4.8"/><rect x="535.6" y="125.0" width="4.8" height="4.8"/><rect x="482.7" y="168.1" width="4.8" height="4.8"/><rect x="529.0" y="132.0" width="4.8" height="4.8"/><rect x="555.9" y="111.1" width="4.8" height="4.8"/><rect x="523.2" y="133.4" width="4.8" height="4.8"/><rect x="636.1" y="59.0" width="4.8" height="4.8"/><rect x="637.4" y="58.4" width="4.8" height="4.8"/><rect x="607.1" y="76.4" width="4.8" height="4.8"/><rect x="615.8" y="69.8" width="4.8" height="4.8"/><rect x="543.1" y="118.8" width="4.8" height="4.8"/><rect x="486.3" y="166.9" width="4.8" height="4.8"/><rect x="621.0" y="67.2" width="4.8" height="4.8"/><rect x="448.0" y="197.2" width="4.8" height="4.8"/><rect x="566.2" y="107.2" width="4.8" height="4.8"/><rect x="575.9" y="97.4" width="4.8" height="4.8"/><rect x="446.2" y="200.0" width="4.8" height="4.8"/><rect x="469.7" y="178.2" width="4.8" height="4.8"/><rect x="585.5" y="91.2" width="4.8" height="4.8"/><rect x="631.4" y="58.4" width="4.8" height="4.8"/><rect x="515.9" y="144.7" width="4.8" height="4.8"/><rect x="550.6" y="114.0" width="4.8" height="4.8"/><rect x="594.4" y="85.7" width="4.8" height="4.8"/><rect x="563.1" y="108.4" width="4.8" height="4.8"/><rect x="533.7" y="132.3" width="4.8" height="4.8"/><rect x="577.1" y="98.6" width="4.8" height="4.8"/><rect x="594.9" y="83.2" width="4.8" height="4.8"/><rect x="617.4" y="69.2" width="4.8" height="4.8"/><rect x="558.0" y="111.7" width="4.8" height="4.8"/><rect x="582.7" y="90.9" width="4.8" height="4.8"/><rect x="467.5" y="180.3" width="4.8" height="4.8"/><rect x="459.2" y="185.6" width="4.8" height="4.8"/><rect x="619.5" y="68.2" width="4.8" height="4.8"/><rect x="474.5" y="174.7" width="4.8" height="4.8"/><rect x="527.3" y="132.3" width="4.8" height="4.8"/><rect x="638.1" y="58.5" width="4.8" height="4.8"/><rect x="455.5" y="192.9" width="4.8" height="4.8"/><rect x="587.1" y="91.6" width="4.8" height="4.8"/><rect x="480.7" y="173.3" width="4.8" height="4.8"/><rect x="574.1" y="97.4" width="4.8" height="4.8"/><rect x="621.2" y="66.1" width="4.8" height="4.8"/><rect x="622.2" y="65.7" width="4.8" height="4.8"/><rect x="611.6" y="72.0" width="4.8" height="4.8"/><rect x="547.3" y="121.5" width="4.8" height="4.8"/><rect x="553.7" y="112.4" width="4.8" height="4.8"/><rect x="461.7" y="187.8" width="4.8" height="4.8"/><rect x="448.1" y="198.7" width="4.8" height="4.8"/><rect x="604.2" y="78.7" width="4.8" height="4.8"/><rect x="432.1" y="209.8" width="4.8" height="4.8"/><rect x="650.0" y="45.9" width="4.8" height="4.8"/><rect x="465.2" y="186.4" width="4.8" height="4.8"/><rect x="597.3" y="82.6" width="4.8" height="4.8"/><rect x="529.9" y="128.9" width="4.8" height="4.8"/><rect x="570.8" y="103.1" width="4.8" height="4.8"/><rect x="606.4" y="74.8" width="4.8" height="4.8"/><rect x="492.5" y="164.0" width="4.8" height="4.8"/><rect x="623.4" y="64.3" width="4.8" height="4.8"/><rect x="606.1" y="76.2" width="4.8" height="4.8"/><rect x="562.8" y="108.1" width="4.8" height="4.8"/><rect x="561.3" y="108.8" width="4.8" height="4.8"/><rect x="514.2" y="141.5" width="4.8" height="4.8"/><rect x="659.0" y="39.6" width="4.8" height="4.8"/><rect x="515.1" y="143.8" width="4.8" height="4.8"/><rect x="478.8" y="171.5" width="4.8" height="4.8"/><rect x="557.3" y="111.9" width="4.8" height="4.8"/><rect x="647.1" y="51.8" width="4.8" height="4.8"/><rect x="648.3" y="50.0" width="4.8" height="4.8"/><rect x="562.2" y="104.6" width="4.8" height="4.8"/><rect x="516.2" y="143.6" width="4.8" height="4.8"/><rect x="604.0" y="77.0" width="4.8" height="4.8"/><rect x="557.5" y="107.7" width="4.8" height="4.8"/><rect x="622.8" y="64.3" width="4.8" height="4.8"/><rect x="625.3" y="65.0" width="4.8" height="4.8"/><rect x="593.0" y="86.5" width="4.8" height="4.8"/><rect x="659.9" y="34.1" width="4.8" height="4.8"/><rect x="579.7" y="96.8" width="4.8" height="4.8"/><rect x="660.4" y="35.9" width="4.8" height="4.8"/><rect x="580.5" y="95.9" width="4.8" height="4.8"/><rect x="473.2" y="175.2" width="4.8" height="4.8"/><rect x="574.5" y="99.2" width="4.8" height="4.8"/><rect x="609.1" y="75.4" width="4.8" height="4.8"/><rect x="523.9" y="134.9" width="4.8" height="4.8"/><rect x="460.7" y="187.6" width="4.8" height="4.8"/><rect x="506.2" y="152.0" width="4.8" height="4.8"/><rect x="612.6" y="72.1" width="4.8" height="4.8"/><rect x="470.6" y="180.0" width="4.8" height="4.8"/><rect x="422.0" y="217.9" width="4.8" height="4.8"/><rect x="636.7" y="56.3" width="4.8" height="4.8"/><rect x="659.6" y="35.9" width="4.8" height="4.8"/><rect x="634.2" y="59.9" width="4.8" height="4.8"/><rect x="617.4" y="69.2" width="4.8" height="4.8"/><rect x="599.7" y="80.5" width="4.8" height="4.8"/><rect x="555.6" y="112.5" width="4.8" height="4.8"/><rect x="580.5" y="91.7" width="4.8" height="4.8"/><rect x="603.9" y="76.6" width="4.8" height="4.8"/><rect x="500.5" y="154.7" width="4.8" height="4.8"/><rect x="470.0" y="177.3" width="4.8" height="4.8"/><rect x="590.9" y="87.5" width="4.8" height="4.8"/><rect x="568.5" y="100.0" width="4.8" height="4.8"/><rect x="664.2" y="30.3" width="4.8" height="4.8"/><rect x="521.8" y="137.5" width="4.8" height="4.8"/><rect x="521.6" y="134.0" width="4.8" height="4.8"/><rect x="449.4" y="197.6" width="4.8" height="4.8"/><rect x="422.9" y="217.7" width="4.8" height="4.8"/><rect x="453.7" y="195.3" width="4.8" height="4.8"/><rect x="565.7" y="105.5" width="4.8" height="4.8"/><rect x="657.6" y="42.6" width="4.8" height="4.8"/><rect x="447.2" y="197.9" width="4.8" height="4.8"/><rect x="458.8" y="191.3" width="4.8" height="4.8"/><rect x="587.9" y="90.6" width="4.8" height="4.8"/><rect x="493.9" y="159.2" width="4.8" height="4.8"/><rect x="430.5" y="208.2" width="4.8" height="4.8"/><rect x="638.8" y="56.6" width="4.8" height="4.8"/><rect x="456.1" y="194.9" width="4.8" height="4.8"/><rect x="527.2" y="135.0" width="4.8" height="4.8"/><rect x="605.9" y="78.1" width="4.8" height="4.8"/><rect x="612.2" y="72.2" width="4.8" height="4.8"/><rect x="655.7" y="42.6" width="4.8" height="4.8"/><rect x="565.8" y="105.0" width="4.8" height="4.8"/><rect x="455.8" y="191.4" width="4.8" height="4.8"/><rect x="439.1" y="205.5" width="4.8" height="4.8"/><rect x="578.3" y="96.7" width="4.8" height="4.8"/><rect x="551.6" y="114.7" width="4.8" height="4.8"/><rect x="480.9" y="169.6" width="4.8" height="4.8"/><rect x="460.0" y="187.7" width="4.8" height="4.8"/><rect x="505.9" y="152.3" width="4.8" height="4.8"/><rect x="490.4" y="165.5" width="4.8" height="4.8"/><rect x="506.9" y="149.8" width="4.8" height="4.8"/><rect x="506.1" y="152.5" width="4.8" height="4.8"/><rect x="605.4" y="77.9" width="4.8" height="4.8"/><rect x="533.4" y="126.0" width="4.8" height="4.8"/><rect x="629.0" y="63.9" width="4.8" height="4.8"/><rect x="543.4" y="120.3" width="4.8" height="4.8"/><rect x="491.1" y="162.1" width="4.8" height="4.8"/><rect x="647.9" y="46.0" width="4.8" height="4.8"/><rect x="580.4" y="93.2" width="4.8" height="4.8"/><rect x="627.8" y="62.1" width="4.8" height="4.8"/><rect x="476.8" y="175.8" width="4.8" height="4.8"/><rect x="660.0" y="38.8" width="4.8" height="4.8"/><rect x="576.3" y="95.2" width="4.8" height="4.8"/><rect x="511.9" y="146.6" width="4.8" height="4.8"/><rect x="481.3" y="172.3" width="4.8" height="4.8"/><rect x="443.7" y="199.4" width="4.8" height="4.8"/><rect x="427.3" y="214.3" width="4.8" height="4.8"/><rect x="467.7" y="179.2" width="4.8" height="4.8"/><rect x="495.9" y="157.9" width="4.8" height="4.8"/><rect x="550.5" y="111.8" width="4.8" height="4.8"/><rect x="517.7" y="138.7" width="4.8" height="4.8"/><rect x="430.4" y="212.2" width="4.8" height="4.8"/><rect x="454.9" y="192.8" width="4.8" height="4.8"/><rect x="423.8" y="215.3" width="4.8" height="4.8"/><rect x="429.2" y="212.1" width="4.8" height="4.8"/><rect x="492.8" y="160.3" width="4.8" height="4.8"/><rect x="577.2" y="96.1" width="4.8" height="4.8"/><rect x="457.1" y="188.8" width="4.8" height="4.8"/><rect x="637.8" y="57.6" width="4.8" height="4.8"/><rect x="663.5" y="36.8" width="4.8" height="4.8"/><rect x="571.4" y="103.7" width="4.8" height="4.8"/><rect x="431.2" y="210.8" width="4.8" height="4.8"/><rect x="464.1" y="184.6" width="4.8" height="4.8"/><rect x="545.6" y="122.5" width="4.8" height="4.8"/><rect x="650.5" y="48.3" width="4.8" height="4.8"/><rect x="662.1" y="37.3" width="4.8" height="4.8"/><rect x="601.5" y="80.4" width="4.8" height="4.8"/><rect x="639.5" y="52.6" width="4.8" height="4.8"/><rect x="443.2" y="202.2" width="4.8" height="4.8"/><rect x="544.7" y="118.1" width="4.8" height="4.8"/><rect x="537.5" y="124.3" width="4.8" height="4.8"/><rect x="472.8" y="178.0" width="4.8" height="4.8"/><rect x="558.8" y="105.7" width="4.8" height="4.8"/><rect x="558.5" y="108.6" width="4.8" height="4.8"/><rect x="659.6" y="35.9" width="4.8" height="4.8"/><rect x="435.8" y="207.6" width="4.8" height="4.8"/><rect x="493.2" y="159.1" width="4.8" height="4.8"/><rect x="461.5" y="188.5" width="4.8" height="4.8"/><rect x="474.4" y="173.1" width="4.8" height="4.8"/><rect x="498.0" y="158.9" width="4.8" height="4.8"/><rect x="510.5" y="146.1" width="4.8" height="4.8"/><rect x="656.1" y="40.1" width="4.8" height="4.8"/><rect x="500.4" y="155.9" width="4.8" height="4.8"/><rect x="538.9" y="128.2" width="4.8" height="4.8"/><rect x="460.2" y="188.5" width="4.8" height="4.8"/><rect x="473.8" y="176.3" width="4.8" height="4.8"/><rect x="472.8" y="176.4" width="4.8" height="4.8"/><rect x="559.9" y="108.2" width="4.8" height="4.8"/><rect x="493.6" y="162.7" width="4.8" height="4.8"/><rect x="487.9" y="163.6" width="4.8" height="4.8"/><rect x="548.7" y="113.2" width="4.8" height="4.8"/><rect x="423.3" y="214.6" width="4.8" height="4.8"/><rect x="632.8" y="60.2" width="4.8" height="4.8"/><rect x="431.9" y="211.0" width="4.8" height="4.8"/><rect x="521.0" y="135.2" width="4.8" height="4.8"/><rect x="663.8" y="32.7" width="4.8" height="4.8"/><rect x="460.8" y="186.5" width="4.8" height="4.8"/><rect x="430.3" y="212.8" width="4.8" height="4.8"/><rect x="539.4" y="125.6" width="4.8" height="4.8"/><rect x="575.2" y="99.6" width="4.8" height="4.8"/><rect x="513.8" y="146.7" width="4.8" height="4.8"/><rect x="473.7" y="174.5" width="4.8" height="4.8"/><rect x="590.2" y="88.6" width="4.8" height="4.8"/><rect x="565.1" y="102.8" width="4.8" height="4.8"/><rect x="505.1" y="150.8" width="4.8" height="4.8"/><rect x="571.5" y="100.5" width="4.8" height="4.8"/><rect x="627.0" y="64.0" width="4.8" height="4.8"/><rect x="546.5" y="118.9" width="4.8" height="4.8"/><rect x="515.1" y="145.1" width="4.8" height="4.8"/><rect x="571.5" y="102.0" width="4.8" height="4.8"/><rect x="544.1" y="121.8" width="4.8" height="4.8"/><rect x="443.6" y="200.8" width="4.8" height="4.8"/><rect x="642.6" y="50.6" width="4.8" height="4.8"/><rect x="449.9" y="196.7" width="4.8" height="4.8"/><rect x="602.9" y="77.5" width="4.8" height="4.8"/><rect x="526.4" y="136.3" width="4.8" height="4.8"/><rect x="613.0" y="73.6" width="4.8" height="4.8"/><rect x="548.6" y="115.6" width="4.8" height="4.8"/><rect x="622.2" y="65.0" width="4.8" height="4.8"/><rect x="535.5" y="124.7" width="4.8" height="4.8"/><rect x="480.3" y="174.5" width="4.8" height="4.8"/><rect x="609.8" y="74.5" width="4.8" height="4.8"/><rect x="623.9" y="66.3" width="4.8" height="4.8"/><rect x="543.5" y="120.9" width="4.8" height="4.8"/><rect x="649.1" y="48.4" width="4.8" height="4.8"/><rect x="594.2" y="86.5" width="4.8" height="4.8"/><rect x="649.9" y="45.7" width="4.8" height="4.8"/><rect x="467.6" y="183.5" width="4.8" height="4.8"/><rect x="652.6" y="43.4" width="4.8" height="4.8"/><rect x="609.1" y="75.2" width="4.8" height="4.8"/><rect x="652.4" y="41.7" width="4.8" height="4.8"/><rect x="505.8" y="152.1" width="4.8" height="4.8"/><rect x="556.8" y="108.6" width="4.8" height="4.8"/><rect x="640.5" y="52.5" width="4.8" height="4.8"/><rect x="585.6" y="92.9" width="4.8" height="4.8"/><rect x="490.7" y="163.6" width="4.8" height="4.8"/><rect x="490.7" y="163.8" width="4.8" height="4.8"/><rect x="653.3" y="43.2" width="4.8" height="4.8"/><rect x="585.3" y="89.7" width="4.8" height="4.8"/><rect x="432.3" y="208.1" width="4.8" height="4.8"/><rect x="483.2" y="170.6" width="4.8" height="4.8"/><rect x="557.0" y="109.3" width="4.8" height="4.8"/><rect x="466.1" y="181.0" width="4.8" height="4.8"/><rect x="534.4" y="126.2" width="4.8" height="4.8"/><rect x="584.4" y="91.6" width="4.8" height="4.8"/><rect x="440.0" y="202.5" width="4.8" height="4.8"/><rect x="482.0" y="173.5" width="4.8" height="4.8"/><rect x="637.1" y="57.3" width="4.8" height="4.8"/><rect x="429.3" y="212.2" width="4.8" height="4.8"/><rect x="446.8" y="198.5" width="4.8" height="4.8"/><rect x="622.1" y="66.8" width="4.8" height="4.8"/><rect x="586.5" y="91.1" width="4.8" height="4.8"/><rect x="535.8" y="130.2" width="4.8" height="4.8"/><rect x="631.7" y="58.5" width="4.8" height="4.8"/><rect x="470.8" y="178.5" width="4.8" height="4.8"/><rect x="420.6" y="219.3" width="4.8" height="4.8"/><rect x="620.2" y="67.4" width="4.8" height="4.8"/><rect x="577.0" y="97.2" width="4.8" height="4.8"/><rect x="502.5" y="153.6" width="4.8" height="4.8"/><rect x="562.5" y="103.7" width="4.8" height="4.8"/><rect x="439.3" y="204.2" width="4.8" height="4.8"/><rect x="496.6" y="159.1" width="4.8" height="4.8"/><rect x="559.8" y="106.0" width="4.8" height="4.8"/><rect x="628.1" y="63.8" width="4.8" height="4.8"/><rect x="497.5" y="157.0" width="4.8" height="4.8"/><rect x="434.3" y="209.7" width="4.8" height="4.8"/><rect x="441.0" y="204.5" width="4.8" height="4.8"/><rect x="495.0" y="161.9" width="4.8" height="4.8"/><rect x="574.1" y="96.7" width="4.8" height="4.8"/><rect x="593.7" y="84.1" width="4.8" height="4.8"/><rect x="591.1" y="87.4" width="4.8" height="4.8"/><rect x="635.7" y="60.1" width="4.8" height="4.8"/><rect x="587.9" y="90.5" width="4.8" height="4.8"/><rect x="585.1" y="92.4" width="4.8" height="4.8"/><rect x="566.2" y="105.2" width="4.8" height="4.8"/><rect x="584.1" y="93.4" width="4.8" height="4.8"/><rect x="599.9" y="81.2" width="4.8" height="4.8"/><rect x="660.7" y="36.3" width="4.8" height="4.8"/><rect x="463.6" y="188.3" width="4.8" height="4.8"/><rect x="578.3" y="96.2" width="4.8" height="4.8"/><rect x="450.0" y="197.2" width="4.8" height="4.8"/><rect x="470.2" y="182.5" width="4.8" height="4.8"/><rect x="648.5" y="45.7" width="4.8" height="4.8"/><rect x="519.3" y="140.8" width="4.8" height="4.8"/><rect x="559.5" y="109.9" width="4.8" height="4.8"/><rect x="471.6" y="177.1" width="4.8" height="4.8"/><rect x="545.4" y="116.8" width="4.8" height="4.8"/><rect x="425.2" y="213.0" width="4.8" height="4.8"/><rect x="562.9" y="103.0" width="4.8" height="4.8"/><rect x="655.3" y="39.6" width="4.8" height="4.8"/><rect x="589.2" y="86.4" width="4.8" height="4.8"/><rect x="583.8" y="90.8" width="4.8" height="4.8"/><rect x="556.5" y="108.5" width="4.8" height="4.8"/><rect x="498.5" y="159.1" width="4.8" height="4.8"/><rect x="610.6" y="74.1" width="4.8" height="4.8"/><rect x="515.3" y="143.8" width="4.8" height="4.8"/><rect x="502.5" y="152.0" width="4.8" height="4.8"/><rect x="554.6" y="114.0" width="4.8" height="4.8"/><rect x="660.4" y="35.1" width="4.8" height="4.8"/><rect x="600.8" y="81.4" width="4.8" height="4.8"/><rect x="586.1" y="91.3" width="4.8" height="4.8"/><rect x="450.9" y="193.0" width="4.8" height="4.8"/><rect x="619.1" y="68.9" width="4.8" height="4.8"/><rect x="523.8" y="134.4" width="4.8" height="4.8"/><rect x="574.7" y="97.4" width="4.8" height="4.8"/><rect x="558.0" y="112.7" width="4.8" height="4.8"/><rect x="613.5" y="71.4" width="4.8" height="4.8"/><rect x="427.1" y="216.0" width="4.8" height="4.8"/><rect x="443.3" y="203.0" width="4.8" height="4.8"/><rect x="488.8" y="163.5" width="4.8" height="4.8"/><rect x="469.3" y="176.8" width="4.8" height="4.8"/><rect x="587.8" y="91.0" width="4.8" height="4.8"/><rect x="448.1" y="199.1" width="4.8" height="4.8"/><rect x="442.1" y="202.1" width="4.8" height="4.8"/><rect x="550.3" y="114.2" width="4.8" height="4.8"/><rect x="435.6" y="207.0" width="4.8" height="4.8"/><rect x="615.7" y="69.7" width="4.8" height="4.8"/><rect x="500.8" y="155.5" width="4.8" height="4.8"/><rect x="494.0" y="162.5" width="4.8" height="4.8"/><rect x="567.0" y="106.9" width="4.8" height="4.8"/><rect x="660.7" y="35.5" width="4.8" height="4.8"/><rect x="489.2" y="162.6" width="4.8" height="4.8"/><rect x="475.1" y="177.9" width="4.8" height="4.8"/><rect x="510.3" y="147.5" width="4.8" height="4.8"/><rect x="612.0" y="73.2" width="4.8" height="4.8"/><rect x="650.1" y="46.5" width="4.8" height="4.8"/><rect x="457.3" y="189.9" width="4.8" height="4.8"/><rect x="426.6" y="215.0" width="4.8" height="4.8"/><rect x="494.8" y="158.0" width="4.8" height="4.8"/><rect x="498.6" y="158.6" width="4.8" height="4.8"/><rect x="604.1" y="79.1" width="4.8" height="4.8"/><rect x="587.6" y="89.2" width="4.8" height="4.8"/><rect x="604.1" y="77.8" width="4.8" height="4.8"/><rect x="516.4" y="143.1" width="4.8" height="4.8"/><rect x="525.2" y="131.7" width="4.8" height="4.8"/><rect x="652.2" y="46.4" width="4.8" height="4.8"/><rect x="431.2" y="209.7" width="4.8" height="4.8"/><rect x="424.5" y="215.3" width="4.8" height="4.8"/><rect x="423.4" y="216.3" width="4.8" height="4.8"/><rect x="621.3" y="67.4" width="4.8" height="4.8"/><rect x="547.3" y="118.1" width="4.8" height="4.8"/><rect x="591.1" y="86.7" width="4.8" height="4.8"/><rect x="580.9" y="92.1" width="4.8" height="4.8"/><rect x="620.3" y="66.9" width="4.8" height="4.8"/><rect x="550.3" y="119.8" width="4.8" height="4.8"/><rect x="500.5" y="154.4" width="4.8" height="4.8"/><rect x="446.9" y="199.2" width="4.8" height="4.8"/><rect x="520.9" y="139.2" width="4.8" height="4.8"/><rect x="467.5" y="183.9" width="4.8" height="4.8"/><rect x="648.4" y="49.5" width="4.8" height="4.8"/><rect x="608.0" y="76.1" width="4.8" height="4.8"/><rect x="489.6" y="166.2" width="4.8" height="4.8"/><rect x="545.7" y="120.9" width="4.8" height="4.8"/><rect x="535.3" y="126.3" width="4.8" height="4.8"/><rect x="568.7" y="103.6" width="4.8" height="4.8"/><rect x="653.5" y="45.1" width="4.8" height="4.8"/><rect x="487.4" y="166.9" width="4.8" height="4.8"/><rect x="571.2" y="100.3" width="4.8" height="4.8"/><rect x="544.0" y="119.1" width="4.8" height="4.8"/><rect x="655.4" y="43.1" width="4.8" height="4.8"/><rect x="473.2" y="179.7" width="4.8" height="4.8"/><rect x="579.5" y="97.0" width="4.8" height="4.8"/><rect x="441.7" y="202.8" width="4.8" height="4.8"/><rect x="553.7" y="115.6" width="4.8" height="4.8"/><rect x="656.6" y="43.0" width="4.8" height="4.8"/><rect x="597.2" y="82.7" width="4.8" height="4.8"/><rect x="427.0" y="211.0" width="4.8" height="4.8"/><rect x="662.6" y="35.3" width="4.8" height="4.8"/><rect x="552.7" y="111.8" width="4.8" height="4.8"/><rect x="562.6" y="103.4" width="4.8" height="4.8"/><rect x="653.1" y="43.4" width="4.8" height="4.8"/><rect x="563.9" y="107.7" width="4.8" height="4.8"/><rect x="473.8" y="176.4" width="4.8" height="4.8"/><rect x="525.4" y="134.0" width="4.8" height="4.8"/><rect x="604.6" y="76.5" width="4.8" height="4.8"/><rect x="517.3" y="141.4" width="4.8" height="4.8"/><rect x="460.9" y="187.1" width="4.8" height="4.8"/><rect x="515.5" y="142.4" width="4.8" height="4.8"/><rect x="444.7" y="200.9" width="4.8" height="4.8"/><rect x="443.9" y="199.6" width="4.8" height="4.8"/><rect x="449.2" y="196.5" width="4.8" height="4.8"/><rect x="545.2" y="119.6" width="4.8" height="4.8"/><rect x="498.7" y="156.8" width="4.8" height="4.8"/><rect x="463.7" y="184.7" width="4.8" height="4.8"/><rect x="602.0" y="79.9" width="4.8" height="4.8"/><rect x="570.5" y="100.1" width="4.8" height="4.8"/><rect x="622.0" y="67.0" width="4.8" height="4.8"/><rect x="459.0" y="186.2" width="4.8" height="4.8"/><rect x="572.7" y="101.7" width="4.8" height="4.8"/><rect x="484.3" y="170.1" width="4.8" height="4.8"/><rect x="541.7" y="123.7" width="4.8" height="4.8"/><rect x="529.6" y="133.3" width="4.8" height="4.8"/><rect x="563.5" y="108.0" width="4.8" height="4.8"/><rect x="560.3" y="106.2" width="4.8" height="4.8"/><rect x="646.4" y="47.8" width="4.8" height="4.8"/><rect x="573.7" y="102.4" width="4.8" height="4.8"/><rect x="506.2" y="153.2" width="4.8" height="4.8"/><rect x="615.7" y="71.0" width="4.8" height="4.8"/><rect x="459.1" y="191.3" width="4.8" height="4.8"/><rect x="611.0" y="73.6" width="4.8" height="4.8"/><rect x="561.9" y="105.5" width="4.8" height="4.8"/><rect x="483.6" y="172.7" width="4.8" height="4.8"/><rect x="605.3" y="78.3" width="4.8" height="4.8"/><rect x="447.4" y="196.7" width="4.8" height="4.8"/><rect x="428.0" y="213.2" width="4.8" height="4.8"/><rect x="486.4" y="168.2" width="4.8" height="4.8"/><rect x="544.1" y="123.9" width="4.8" height="4.8"/><rect x="575.3" y="98.1" width="4.8" height="4.8"/><rect x="497.0" y="158.2" width="4.8" height="4.8"/><rect x="562.4" y="103.0" width="4.8" height="4.8"/><rect x="661.8" y="35.7" width="4.8" height="4.8"/><rect x="666.2" y="33.6" width="4.8" height="4.8"/><rect x="597.6" y="81.4" width="4.8" height="4.8"/><rect x="494.0" y="161.5" width="4.8" height="4.8"/><rect x="537.1" y="124.9" width="4.8" height="4.8"/><rect x="619.1" y="67.1" width="4.8" height="4.8"/><rect x="638.7" y="54.7" width="4.8" height="4.8"/><rect x="654.6" y="40.3" width="4.8" height="4.8"/><rect x="515.1" y="145.1" width="4.8" height="4.8"/><rect x="502.8" y="152.3" width="4.8" height="4.8"/><rect x="502.3" y="154.4" width="4.8" height="4.8"/><rect x="613.4" y="71.7" width="4.8" height="4.8"/><rect x="656.0" y="40.9" width="4.8" height="4.8"/><rect x="558.5" y="111.4" width="4.8" height="4.8"/><rect x="528.8" y="128.9" width="4.8" height="4.8"/><rect x="584.0" y="90.4" width="4.8" height="4.8"/><rect x="523.5" y="135.8" width="4.8" height="4.8"/><rect x="560.2" y="111.1" width="4.8" height="4.8"/><rect x="465.7" y="186.8" width="4.8" height="4.8"/><rect x="443.7" y="199.5" width="4.8" height="4.8"/><rect x="519.5" y="138.0" width="4.8" height="4.8"/><rect x="485.6" y="167.2" width="4.8" height="4.8"/><rect x="456.8" y="190.5" width="4.8" height="4.8"/><rect x="657.9" y="37.6" width="4.8" height="4.8"/><rect x="591.5" y="86.4" width="4.8" height="4.8"/><rect x="515.2" y="145.7" width="4.8" height="4.8"/><rect x="664.5" y="30.6" width="4.8" height="4.8"/><rect x="445.7" y="198.8" width="4.8" height="4.8"/><rect x="505.5" y="151.6" width="4.8" height="4.8"/><rect x="637.9" y="56.2" width="4.8" height="4.8"/><rect x="658.7" y="38.8" width="4.8" height="4.8"/><rect x="615.3" y="69.9" width="4.8" height="4.8"/><rect x="465.3" y="183.2" width="4.8" height="4.8"/><rect x="559.3" y="105.4" width="4.8" height="4.8"/><rect x="436.8" y="208.0" width="4.8" height="4.8"/><rect x="434.9" y="208.3" width="4.8" height="4.8"/><rect x="632.8" y="60.5" width="4.8" height="4.8"/><rect x="419.8" y="219.7" width="4.8" height="4.8"/><rect x="443.2" y="199.4" width="4.8" height="4.8"/><rect x="445.4" y="201.6" width="4.8" height="4.8"/><rect x="595.2" y="84.6" width="4.8" height="4.8"/><rect x="574.7" y="95.6" width="4.8" height="4.8"/><rect x="472.6" y="178.7" width="4.8" height="4.8"/><rect x="520.7" y="139.3" width="4.8" height="4.8"/><rect x="654.6" y="41.6" width="4.8" height="4.8"/><rect x="471.3" y="179.5" width="4.8" height="4.8"/><rect x="436.0" y="205.2" width="4.8" height="4.8"/><rect x="579.2" y="95.0" width="4.8" height="4.8"/><rect x="445.9" y="199.0" width="4.8" height="4.8"/><rect x="556.9" y="111.1" width="4.8" height="4.8"/><rect x="482.3" y="171.4" width="4.8" height="4.8"/><rect x="427.3" y="211.4" width="4.8" height="4.8"/><rect x="582.1" y="92.0" width="4.8" height="4.8"/><rect x="605.2" y="76.5" width="4.8" height="4.8"/><rect x="496.9" y="158.8" width="4.8" height="4.8"/><rect x="458.4" y="187.0" width="4.8" height="4.8"/><rect x="660.8" y="35.6" width="4.8" height="4.8"/><rect x="479.8" y="174.3" width="4.8" height="4.8"/><rect x="480.1" y="172.4" width="4.8" height="4.8"/><rect x="509.7" y="147.5" width="4.8" height="4.8"/><rect x="478.6" y="173.1" width="4.8" height="4.8"/><rect x="480.0" y="172.4" width="4.8" height="4.8"/><rect x="647.9" y="46.9" width="4.8" height="4.8"/><rect x="439.5" y="205.9" width="4.8" height="4.8"/><rect x="625.7" y="62.9" width="4.8" height="4.8"/><rect x="551.5" y="117.2" width="4.8" height="4.8"/><rect x="427.9" y="215.4" width="4.8" height="4.8"/><rect x="456.6" y="192.2" width="4.8" height="4.8"/><rect x="581.4" y="93.8" width="4.8" height="4.8"/><rect x="557.8" y="111.2" width="4.8" height="4.8"/><rect x="479.1" y="173.9" width="4.8" height="4.8"/><rect x="491.3" y="162.5" width="4.8" height="4.8"/><rect x="648.6" y="50.4" width="4.8" height="4.8"/><rect x="601.6" y="79.9" width="4.8" height="4.8"/><rect x="583.0" y="93.7" width="4.8" height="4.8"/><rect x="647.8" y="44.9" width="4.8" height="4.8"/><rect x="476.5" y="177.9" width="4.8" height="4.8"/><rect x="500.8" y="154.4" width="4.8" height="4.8"/><rect x="626.6" y="64.3" width="4.8" height="4.8"/><rect x="528.1" y="129.8" width="4.8" height="4.8"/><rect x="529.7" y="128.8" width="4.8" height="4.8"/><rect x="619.4" y="67.7" width="4.8" height="4.8"/><rect x="666.5" y="30.3" width="4.8" height="4.8"/><rect x="638.8" y="57.0" width="4.8" height="4.8"/><rect x="610.0" y="75.3" width="4.8" height="4.8"/><rect x="529.7" y="132.1" width="4.8" height="4.8"/><rect x="593.9" y="86.3" width="4.8" height="4.8"/><rect x="475.0" y="174.7" width="4.8" height="4.8"/><rect x="482.0" y="169.3" width="4.8" height="4.8"/><rect x="469.7" y="177.7" width="4.8" height="4.8"/><rect x="587.9" y="90.5" width="4.8" height="4.8"/><rect x="653.7" y="44.2" width="4.8" height="4.8"/><rect x="606.1" y="77.2" width="4.8" height="4.8"/><rect x="485.2" y="171.3" width="4.8" height="4.8"/><rect x="582.6" y="93.9" width="4.8" height="4.8"/><rect x="505.9" y="149.4" width="4.8" height="4.8"/><rect x="623.1" y="66.4" width="4.8" height="4.8"/><rect x="539.3" y="125.0" width="4.8" height="4.8"/><rect x="481.0" y="170.7" width="4.8" height="4.8"/><rect x="491.1" y="162.3" width="4.8" height="4.8"/><rect x="440.3" y="203.3" width="4.8" height="4.8"/><rect x="508.6" y="147.9" width="4.8" height="4.8"/><rect x="503.2" y="152.0" width="4.8" height="4.8"/><rect x="532.5" y="127.0" width="4.8" height="4.8"/><rect x="581.9" y="95.3" width="4.8" height="4.8"/><rect x="648.9" y="48.9" width="4.8" height="4.8"/><rect x="621.4" y="66.7" width="4.8" height="4.8"/><rect x="561.1" y="104.0" width="4.8" height="4.8"/><rect x="508.6" y="150.7" width="4.8" height="4.8"/><rect x="461.4" y="185.3" width="4.8" height="4.8"/><rect x="565.4" y="103.8" width="4.8" height="4.8"/><rect x="435.0" y="208.9" width="4.8" height="4.8"/><rect x="432.4" y="209.7" width="4.8" height="4.8"/><rect x="578.1" y="98.5" width="4.8" height="4.8"/><rect x="459.8" y="184.8" width="4.8" height="4.8"/><rect x="629.1" y="63.7" width="4.8" height="4.8"/><rect x="584.9" y="89.4" width="4.8" height="4.8"/><rect x="549.0" y="120.5" width="4.8" height="4.8"/><rect x="650.8" y="45.1" width="4.8" height="4.8"/><rect x="451.8" y="196.6" width="4.8" height="4.8"/><rect x="495.9" y="157.3" width="4.8" height="4.8"/><rect x="544.8" y="121.0" width="4.8" height="4.8"/><rect x="658.0" y="38.5" width="4.8" height="4.8"/><rect x="438.7" y="203.0" width="4.8" height="4.8"/><rect x="568.1" y="100.3" width="4.8" height="4.8"/><rect x="646.7" y="50.1" width="4.8" height="4.8"/><rect x="455.0" y="191.7" width="4.8" height="4.8"/><rect x="593.4" y="85.2" width="4.8" height="4.8"/><rect x="590.1" y="88.7" width="4.8" height="4.8"/><rect x="508.3" y="151.3" width="4.8" height="4.8"/><rect x="551.7" y="118.2" width="4.8" height="4.8"/><rect x="650.6" y="44.2" width="4.8" height="4.8"/><rect x="535.0" y="126.6" width="4.8" height="4.8"/><rect x="532.1" y="128.4" width="4.8" height="4.8"/><rect x="558.8" y="112.1" width="4.8" height="4.8"/><rect x="427.1" y="211.4" width="4.8" height="4.8"/><rect x="619.5" y="67.5" width="4.8" height="4.8"/><rect x="431.9" y="207.9" width="4.8" height="4.8"/><rect x="661.3" y="35.5" width="4.8" height="4.8"/><rect x="659.3" y="39.8" width="4.8" height="4.8"/><rect x="621.7" y="66.3" width="4.8" height="4.8"/><rect x="640.7" y="54.4" width="4.8" height="4.8"/><rect x="571.5" y="101.9" width="4.8" height="4.8"/><rect x="494.8" y="162.1" width="4.8" height="4.8"/><rect x="568.6" y="105.6" width="4.8" height="4.8"/><rect x="587.1" y="91.8" width="4.8" height="4.8"/><rect x="454.2" y="190.2" width="4.8" height="4.8"/><rect x="610.9" y="73.0" width="4.8" height="4.8"/><rect x="494.4" y="160.3" width="4.8" height="4.8"/><rect x="546.0" y="121.3" width="4.8" height="4.8"/><rect x="485.1" y="169.2" width="4.8" height="4.8"/><rect x="489.0" y="163.6" width="4.8" height="4.8"/><rect x="636.1" y="59.6" width="4.8" height="4.8"/><rect x="609.7" y="74.1" width="4.8" height="4.8"/><rect x="434.7" y="207.9" width="4.8" height="4.8"/><rect x="610.0" y="72.9" width="4.8" height="4.8"/><rect x="648.0" y="50.3" width="4.8" height="4.8"/><rect x="593.3" y="86.0" width="4.8" height="4.8"/><rect x="590.5" y="89.2" width="4.8" height="4.8"/><rect x="484.5" y="169.1" width="4.8" height="4.8"/><rect x="592.1" y="87.1" width="4.8" height="4.8"/><rect x="513.0" y="147.6" width="4.8" height="4.8"/><rect x="647.5" y="50.6" width="4.8" height="4.8"/><rect x="593.5" y="86.8" width="4.8" height="4.8"/><rect x="499.0" y="155.8" width="4.8" height="4.8"/><rect x="637.8" y="58.8" width="4.8" height="4.8"/><rect x="610.7" y="74.2" width="4.8" height="4.8"/><rect x="468.9" y="178.0" width="4.8" height="4.8"/><rect x="472.3" y="174.9" width="4.8" height="4.8"/><rect x="422.4" y="216.7" width="4.8" height="4.8"/><rect x="609.7" y="73.6" width="4.8" height="4.8"/><rect x="440.5" y="202.4" width="4.8" height="4.8"/><rect x="487.3" y="168.5" width="4.8" height="4.8"/><rect x="601.4" y="80.7" width="4.8" height="4.8"/><rect x="494.8" y="161.3" width="4.8" height="4.8"/><rect x="489.9" y="164.4" width="4.8" height="4.8"/><rect x="435.6" y="207.6" width="4.8" height="4.8"/><rect x="431.7" y="209.3" width="4.8" height="4.8"/><rect x="560.7" y="106.6" width="4.8" height="4.8"/><rect x="453.5" y="194.4" width="4.8" height="4.8"/><rect x="657.6" y="38.7" width="4.8" height="4.8"/><rect x="425.6" y="213.1" width="4.8" height="4.8"/><rect x="497.3" y="158.2" width="4.8" height="4.8"/><rect x="464.7" y="185.2" width="4.8" height="4.8"/><rect x="641.7" y="55.4" width="4.8" height="4.8"/><rect x="604.9" y="77.0" width="4.8" height="4.8"/><rect x="446.8" y="199.7" width="4.8" height="4.8"/><rect x="433.0" y="209.7" width="4.8" height="4.8"/><rect x="439.8" y="205.2" width="4.8" height="4.8"/><rect x="602.2" y="80.4" width="4.8" height="4.8"/><rect x="604.1" y="78.2" width="4.8" height="4.8"/><rect x="575.7" y="97.3" width="4.8" height="4.8"/><rect x="540.2" y="126.4" width="4.8" height="4.8"/><rect x="533.8" y="129.0" width="4.8" height="4.8"/><rect x="566.5" y="102.1" width="4.8" height="4.8"/><rect x="446.0" y="197.1" width="4.8" height="4.8"/><rect x="615.8" y="69.4" width="4.8" height="4.8"/><rect x="611.6" y="73.7" width="4.8" height="4.8"/><rect x="587.6" y="89.9" width="4.8" height="4.8"/><rect x="477.5" y="177.6" width="4.8" height="4.8"/><rect x="472.3" y="174.9" width="4.8" height="4.8"/><rect x="661.7" y="37.6" width="4.8" height="4.8"/><rect x="653.9" y="44.7" width="4.8" height="4.8"/><rect x="604.3" y="77.6" width="4.8" height="4.8"/><rect x="613.5" y="73.2" width="4.8" height="4.8"/><rect x="532.5" y="132.7" width="4.8" height="4.8"/><rect x="636.2" y="54.5" width="4.8" height="4.8"/><rect x="590.0" y="87.6" width="4.8" height="4.8"/><rect x="527.5" y="130.0" width="4.8" height="4.8"/><rect x="587.8" y="88.1" width="4.8" height="4.8"/><rect x="438.9" y="204.5" width="4.8" height="4.8"/><rect x="516.8" y="138.9" width="4.8" height="4.8"/><rect x="628.0" y="62.9" width="4.8" height="4.8"/><rect x="537.9" y="123.4" width="4.8" height="4.8"/><rect x="556.8" y="107.2" width="4.8" height="4.8"/><rect x="557.9" y="110.4" width="4.8" height="4.8"/><rect x="652.5" y="42.2" width="4.8" height="4.8"/><rect x="468.9" y="181.2" width="4.8" height="4.8"/><rect x="587.8" y="90.9" width="4.8" height="4.8"/><rect x="530.3" y="133.8" width="4.8" height="4.8"/><rect x="477.4" y="175.0" width="4.8" height="4.8"/><rect x="431.2" y="211.3" width="4.8" height="4.8"/><rect x="570.2" y="100.7" width="4.8" height="4.8"/><rect x="464.6" y="187.8" width="4.8" height="4.8"/><rect x="563.3" y="106.6" width="4.8" height="4.8"/><rect x="525.6" y="134.0" width="4.8" height="4.8"/><rect x="519.5" y="139.6" width="4.8" height="4.8"/><rect x="638.9" y="52.5" width="4.8" height="4.8"/><rect x="441.5" y="201.5" width="4.8" height="4.8"/><rect x="558.0" y="113.2" width="4.8" height="4.8"/><rect x="521.7" y="138.9" width="4.8" height="4.8"/><rect x="456.7" y="192.5" width="4.8" height="4.8"/><rect x="517.0" y="141.5" width="4.8" height="4.8"/><rect x="633.6" y="57.5" width="4.8" height="4.8"/><rect x="468.2" y="180.9" width="4.8" height="4.8"/><rect x="587.3" y="87.6" width="4.8" height="4.8"/><rect x="485.6" y="168.4" width="4.8" height="4.8"/><rect x="547.7" y="118.8" width="4.8" height="4.8"/><rect x="555.5" y="108.2" width="4.8" height="4.8"/><rect x="436.9" y="204.1" width="4.8" height="4.8"/><rect x="619.1" y="67.4" width="4.8" height="4.8"/><rect x="512.9" y="143.1" width="4.8" height="4.8"/><rect x="471.1" y="178.8" width="4.8" height="4.8"/><rect x="470.6" y="180.7" width="4.8" height="4.8"/><rect x="662.9" y="34.5" width="4.8" height="4.8"/><rect x="652.5" y="45.3" width="4.8" height="4.8"/><rect x="535.3" y="125.5" width="4.8" height="4.8"/><rect x="486.2" y="169.7" width="4.8" height="4.8"/><rect x="594.4" y="84.3" width="4.8" height="4.8"/><rect x="432.3" y="207.8" width="4.8" height="4.8"/><rect x="631.7" y="58.7" width="4.8" height="4.8"/><rect x="420.6" y="219.3" width="4.8" height="4.8"/><rect x="431.4" y="209.0" width="4.8" height="4.8"/><rect x="501.9" y="155.8" width="4.8" height="4.8"/><rect x="532.0" y="130.4" width="4.8" height="4.8"/><rect x="420.5" y="217.3" width="4.8" height="4.8"/><rect x="489.9" y="165.9" width="4.8" height="4.8"/><rect x="662.6" y="32.8" width="4.8" height="4.8"/><rect x="610.6" y="74.9" width="4.8" height="4.8"/><rect x="433.7" y="207.6" width="4.8" height="4.8"/><rect x="636.1" y="59.1" width="4.8" height="4.8"/><rect x="534.4" y="127.1" width="4.8" height="4.8"/><rect x="664.0" y="31.6" width="4.8" height="4.8"/><rect x="498.6" y="156.8" width="4.8" height="4.8"/><rect x="495.8" y="157.7" width="4.8" height="4.8"/><rect x="587.2" y="91.3" width="4.8" height="4.8"/><rect x="540.0" y="120.7" width="4.8" height="4.8"/><rect x="487.6" y="167.1" width="4.8" height="4.8"/><rect x="549.0" y="118.5" width="4.8" height="4.8"/><rect x="576.8" y="94.5" width="4.8" height="4.8"/><rect x="496.5" y="160.5" width="4.8" height="4.8"/><rect x="623.1" y="67.0" width="4.8" height="4.8"/><rect x="604.4" y="76.7" width="4.8" height="4.8"/><rect x="605.5" y="76.2" width="4.8" height="4.8"/><rect x="582.5" y="91.5" width="4.8" height="4.8"/><rect x="476.1" y="173.9" width="4.8" height="4.8"/><rect x="593.8" y="84.4" width="4.8" height="4.8"/><rect x="462.4" y="188.8" width="4.8" height="4.8"/><rect x="454.3" y="190.8" width="4.8" height="4.8"/><rect x="543.8" y="119.9" width="4.8" height="4.8"/><rect x="461.8" y="189.4" width="4.8" height="4.8"/><rect x="450.7" y="198.2" width="4.8" height="4.8"/><rect x="565.7" y="101.9" width="4.8" height="4.8"/><rect x="660.5" y="33.9" width="4.8" height="4.8"/><rect x="432.9" y="207.8" width="4.8" height="4.8"/><rect x="529.1" y="133.8" width="4.8" height="4.8"/><rect x="441.5" y="200.9" width="4.8" height="4.8"/><rect x="552.5" y="115.8" width="4.8" height="4.8"/><rect x="561.4" y="105.3" width="4.8" height="4.8"/><rect x="540.6" y="122.8" width="4.8" height="4.8"/><rect x="428.9" y="213.0" width="4.8" height="4.8"/><rect x="592.6" y="86.6" width="4.8" height="4.8"/><rect x="544.9" y="120.9" width="4.8" height="4.8"/><rect x="561.0" y="107.4" width="4.8" height="4.8"/><rect x="584.5" y="93.5" width="4.8" height="4.8"/><rect x="643.4" y="52.6" width="4.8" height="4.8"/><rect x="526.7" y="132.7" width="4.8" height="4.8"/><rect x="645.1" y="48.0" width="4.8" height="4.8"/><rect x="462.7" y="184.9" width="4.8" height="4.8"/><rect x="531.5" y="128.0" width="4.8" height="4.8"/><rect x="463.0" y="187.3" width="4.8" height="4.8"/><rect x="511.3" y="146.3" width="4.8" height="4.8"/><rect x="642.7" y="49.9" width="4.8" height="4.8"/><rect x="660.4" y="39.1" width="4.8" height="4.8"/><rect x="536.1" y="130.1" width="4.8" height="4.8"/><rect x="487.6" y="164.7" width="4.8" height="4.8"/><rect x="499.0" y="158.6" width="4.8" height="4.8"/><rect x="642.3" y="50.8" width="4.8" height="4.8"/><rect x="527.7" y="132.0" width="4.8" height="4.8"/><rect x="468.3" y="183.5" width="4.8" height="4.8"/><rect x="625.8" y="64.0" width="4.8" height="4.8"/><rect x="545.4" y="120.3" width="4.8" height="4.8"/><rect x="524.9" y="135.9" width="4.8" height="4.8"/><rect x="642.7" y="52.9" width="4.8" height="4.8"/><rect x="603.8" y="79.8" width="4.8" height="4.8"/><rect x="422.7" y="213.5" width="4.8" height="4.8"/><rect x="658.3" y="38.8" width="4.8" height="4.8"/><rect x="531.7" y="132.3" width="4.8" height="4.8"/><rect x="463.7" y="188.0" width="4.8" height="4.8"/><rect x="644.4" y="51.7" width="4.8" height="4.8"/><rect x="523.0" y="137.7" width="4.8" height="4.8"/><rect x="588.6" y="90.1" width="4.8" height="4.8"/><rect x="604.9" y="77.6" width="4.8" height="4.8"/><rect x="467.3" y="180.6" width="4.8" height="4.8"/><rect x="662.5" y="31.7" width="4.8" height="4.8"/><rect x="558.5" y="110.1" width="4.8" height="4.8"/><rect x="433.3" y="208.7" width="4.8" height="4.8"/><rect x="552.0" y="111.3" width="4.8" height="4.8"/><rect x="423.8" y="215.2" width="4.8" height="4.8"/><rect x="661.5" y="35.9" width="4.8" height="4.8"/><rect x="584.0" y="90.0" width="4.8" height="4.8"/><rect x="513.1" y="146.4" width="4.8" height="4.8"/><rect x="616.9" y="69.4" width="4.8" height="4.8"/><rect x="615.7" y="71.3" width="4.8" height="4.8"/><rect x="592.5" y="84.7" width="4.8" height="4.8"/><rect x="477.4" y="173.5" width="4.8" height="4.8"/><rect x="442.3" y="201.2" width="4.8" height="4.8"/><rect x="631.0" y="61.8" width="4.8" height="4.8"/><rect x="639.0" y="54.9" width="4.8" height="4.8"/><rect x="504.7" y="151.2" width="4.8" height="4.8"/><rect x="514.8" y="140.6" width="4.8" height="4.8"/><rect x="518.9" y="136.8" width="4.8" height="4.8"/><rect x="487.7" y="166.3" width="4.8" height="4.8"/><rect x="651.3" y="43.8" width="4.8" height="4.8"/><rect x="550.7" y="118.8" width="4.8" height="4.8"/><rect x="594.7" y="83.9" width="4.8" height="4.8"/><rect x="568.9" y="104.5" width="4.8" height="4.8"/><rect x="441.4" y="201.5" width="4.8" height="4.8"/><rect x="437.1" y="205.5" width="4.8" height="4.8"/><rect x="455.7" y="188.8" width="4.8" height="4.8"/><rect x="542.1" y="124.8" width="4.8" height="4.8"/><rect x="574.5" y="99.4" width="4.8" height="4.8"/><rect x="665.6" y="31.6" width="4.8" height="4.8"/><rect x="642.0" y="53.8" width="4.8" height="4.8"/><rect x="602.0" y="79.5" width="4.8" height="4.8"/><rect x="514.1" y="144.7" width="4.8" height="4.8"/><rect x="504.5" y="153.7" width="4.8" height="4.8"/><rect x="591.7" y="86.0" width="4.8" height="4.8"/><rect x="504.7" y="153.7" width="4.8" height="4.8"/><rect x="608.6" y="76.8" width="4.8" height="4.8"/><rect x="599.4" y="80.8" width="4.8" height="4.8"/><rect x="448.9" y="195.9" width="4.8" height="4.8"/><rect x="618.1" y="69.3" width="4.8" height="4.8"/><rect x="442.3" y="200.8" width="4.8" height="4.8"/><rect x="497.8" y="160.0" width="4.8" height="4.8"/><rect x="660.4" y="34.8" width="4.8" height="4.8"/><rect x="580.3" y="95.0" width="4.8" height="4.8"/><rect x="631.1" y="59.5" width="4.8" height="4.8"/><rect x="648.5" y="47.9" width="4.8" height="4.8"/><rect x="484.7" y="169.5" width="4.8" height="4.8"/><rect x="616.1" y="69.7" width="4.8" height="4.8"/><rect x="511.3" y="144.6" width="4.8" height="4.8"/><rect x="435.2" y="206.0" width="4.8" height="4.8"/><rect x="445.6" y="198.2" width="4.8" height="4.8"/><rect x="450.4" y="195.1" width="4.8" height="4.8"/><rect x="575.4" y="99.4" width="4.8" height="4.8"/><rect x="577.9" y="95.0" width="4.8" height="4.8"/><rect x="628.9" y="63.7" width="4.8" height="4.8"/><rect x="492.2" y="162.4" width="4.8" height="4.8"/><rect x="607.9" y="76.1" width="4.8" height="4.8"/><rect x="485.2" y="168.5" width="4.8" height="4.8"/><rect x="496.8" y="158.8" width="4.8" height="4.8"/><rect x="581.4" y="95.4" width="4.8" height="4.8"/><rect x="516.3" y="144.8" width="4.8" height="4.8"/><rect x="666.1" y="30.2" width="4.8" height="4.8"/><rect x="497.5" y="159.0" width="4.8" height="4.8"/><rect x="477.9" y="172.3" width="4.8" height="4.8"/><rect x="636.7" y="59.4" width="4.8" height="4.8"/><rect x="635.2" y="59.9" width="4.8" height="4.8"/><rect x="459.5" y="190.9" width="4.8" height="4.8"/><rect x="502.7" y="152.9" width="4.8" height="4.8"/><rect x="545.4" y="119.4" width="4.8" height="4.8"/><rect x="435.6" y="205.1" width="4.8" height="4.8"/><rect x="510.9" y="145.2" width="4.8" height="4.8"/><rect x="609.8" y="74.6" width="4.8" height="4.8"/><rect x="609.3" y="74.7" width="4.8" height="4.8"/><rect x="456.0" y="193.1" width="4.8" height="4.8"/><rect x="494.3" y="161.0" width="4.8" height="4.8"/><rect x="485.6" y="168.6" width="4.8" height="4.8"/><rect x="588.6" y="88.5" width="4.8" height="4.8"/><rect x="451.8" y="193.4" width="4.8" height="4.8"/><rect x="663.1" y="34.0" width="4.8" height="4.8"/><rect x="447.9" y="199.5" width="4.8" height="4.8"/><rect x="550.0" y="118.5" width="4.8" height="4.8"/><rect x="593.2" y="86.6" width="4.8" height="4.8"/><rect x="653.8" y="40.5" width="4.8" height="4.8"/><rect x="571.1" y="102.5" width="4.8" height="4.8"/><rect x="630.8" y="59.7" width="4.8" height="4.8"/><rect x="550.6" y="119.6" width="4.8" height="4.8"/><rect x="473.9" y="179.0" width="4.8" height="4.8"/><rect x="523.3" y="137.5" width="4.8" height="4.8"/><rect x="569.4" y="103.5" width="4.8" height="4.8"/><rect x="550.6" y="112.7" width="4.8" height="4.8"/><rect x="612.8" y="71.6" width="4.8" height="4.8"/><rect x="552.7" y="113.5" width="4.8" height="4.8"/><rect x="514.0" y="141.2" width="4.8" height="4.8"/><rect x="546.7" y="113.8" width="4.8" height="4.8"/><rect x="547.7" y="113.6" width="4.8" height="4.8"/><rect x="421.7" y="214.2" width="4.8" height="4.8"/><rect x="500.4" y="155.4" width="4.8" height="4.8"/><rect x="560.9" y="105.6" width="4.8" height="4.8"/><rect x="595.5" y="84.2" width="4.8" height="4.8"/><rect x="525.0" y="136.9" width="4.8" height="4.8"/><rect x="603.8" y="77.8" width="4.8" height="4.8"/><rect x="543.7" y="117.6" width="4.8" height="4.8"/><rect x="510.6" y="148.0" width="4.8" height="4.8"/><rect x="479.2" y="172.7" width="4.8" height="4.8"/><rect x="616.5" y="69.5" width="4.8" height="4.8"/><rect x="647.3" y="49.9" width="4.8" height="4.8"/><rect x="599.6" y="79.7" width="4.8" height="4.8"/><rect x="473.8" y="176.7" width="4.8" height="4.8"/><rect x="593.8" y="84.5" width="4.8" height="4.8"/><rect x="544.2" y="120.2" width="4.8" height="4.8"/><rect x="648.0" y="48.4" width="4.8" height="4.8"/><rect x="420.7" y="215.6" width="4.8" height="4.8"/><rect x="610.4" y="74.6" width="4.8" height="4.8"/><rect x="534.6" y="130.6" width="4.8" height="4.8"/><rect x="630.9" y="61.5" width="4.8" height="4.8"/><rect x="569.1" y="104.5" width="4.8" height="4.8"/><rect x="421.1" y="215.8" width="4.8" height="4.8"/><rect x="590.3" y="87.7" width="4.8" height="4.8"/><rect x="551.1" y="112.3" width="4.8" height="4.8"/><rect x="478.4" y="175.2" width="4.8" height="4.8"/><rect x="449.4" y="198.4" width="4.8" height="4.8"/><rect x="517.7" y="140.2" width="4.8" height="4.8"/><rect x="558.0" y="108.5" width="4.8" height="4.8"/><rect x="537.5" y="125.6" width="4.8" height="4.8"/><rect x="423.4" y="216.7" width="4.8" height="4.8"/><rect x="455.8" y="190.8" width="4.8" height="4.8"/><rect x="587.6" y="88.9" width="4.8" height="4.8"/><rect x="554.2" y="114.2" width="4.8" height="4.8"/><rect x="603.0" y="78.2" width="4.8" height="4.8"/><rect x="521.8" y="141.1" width="4.8" height="4.8"/><rect x="482.8" y="172.7" width="4.8" height="4.8"/><rect x="616.7" y="70.4" width="4.8" height="4.8"/><rect x="473.2" y="175.6" width="4.8" height="4.8"/><rect x="434.2" y="209.1" width="4.8" height="4.8"/><rect x="510.4" y="150.1" width="4.8" height="4.8"/><rect x="530.8" y="132.7" width="4.8" height="4.8"/><rect x="470.9" y="180.0" width="4.8" height="4.8"/><rect x="655.6" y="43.5" width="4.8" height="4.8"/><rect x="476.5" y="172.7" width="4.8" height="4.8"/><rect x="449.4" y="195.4" width="4.8" height="4.8"/><rect x="582.9" y="90.5" width="4.8" height="4.8"/><rect x="454.6" y="192.2" width="4.8" height="4.8"/><rect x="488.4" y="164.8" width="4.8" height="4.8"/><rect x="521.6" y="136.3" width="4.8" height="4.8"/><rect x="487.0" y="167.3" width="4.8" height="4.8"/><rect x="580.9" y="95.6" width="4.8" height="4.8"/><rect x="453.8" y="195.9" width="4.8" height="4.8"/><rect x="578.6" y="98.4" width="4.8" height="4.8"/><rect x="447.9" y="196.7" width="4.8" height="4.8"/><rect x="562.7" y="103.1" width="4.8" height="4.8"/><rect x="661.3" y="37.7" width="4.8" height="4.8"/><rect x="613.9" y="71.4" width="4.8" height="4.8"/><rect x="653.3" y="44.6" width="4.8" height="4.8"/><rect x="554.3" y="110.3" width="4.8" height="4.8"/><rect x="458.4" y="192.0" width="4.8" height="4.8"/><rect x="510.8" y="146.3" width="4.8" height="4.8"/><rect x="611.3" y="72.8" width="4.8" height="4.8"/><rect x="451.8" y="194.9" width="4.8" height="4.8"/><rect x="583.5" y="91.8" width="4.8" height="4.8"/><rect x="499.0" y="158.2" width="4.8" height="4.8"/><rect x="646.2" y="49.1" width="4.8" height="4.8"/><rect x="505.9" y="152.7" width="4.8" height="4.8"/><rect x="499.0" y="157.8" width="4.8" height="4.8"/><rect x="486.5" y="166.9" width="4.8" height="4.8"/><rect x="552.8" y="112.5" width="4.8" height="4.8"/><rect x="654.9" y="43.9" width="4.8" height="4.8"/><rect x="552.9" y="115.0" width="4.8" height="4.8"/><rect x="602.6" y="80.1" width="4.8" height="4.8"/><rect x="548.0" y="114.0" width="4.8" height="4.8"/><rect x="439.7" y="203.0" width="4.8" height="4.8"/><rect x="564.3" y="102.2" width="4.8" height="4.8"/><rect x="566.2" y="106.1" width="4.8" height="4.8"/><rect x="566.7" y="101.8" width="4.8" height="4.8"/><rect x="493.0" y="163.0" width="4.8" height="4.8"/><rect x="485.2" y="170.6" width="4.8" height="4.8"/><rect x="500.7" y="153.2" width="4.8" height="4.8"/><rect x="426.8" y="214.7" width="4.8" height="4.8"/><rect x="459.1" y="191.1" width="4.8" height="4.8"/><rect x="490.2" y="163.4" width="4.8" height="4.8"/><rect x="545.9" y="114.2" width="4.8" height="4.8"/><rect x="644.7" y="51.6" width="4.8" height="4.8"/><rect x="592.6" y="84.4" width="4.8" height="4.8"/><rect x="546.9" y="116.1" width="4.8" height="4.8"/><rect x="596.5" y="83.4" width="4.8" height="4.8"/><rect x="529.2" y="135.4" width="4.8" height="4.8"/><rect x="430.9" y="209.1" width="4.8" height="4.8"/><rect x="589.0" y="88.0" width="4.8" height="4.8"/><rect x="593.7" y="86.3" width="4.8" height="4.8"/><rect x="581.3" y="96.1" width="4.8" height="4.8"/><rect x="630.1" y="63.4" width="4.8" height="4.8"/><rect x="612.6" y="71.9" width="4.8" height="4.8"/><rect x="624.3" y="64.0" width="4.8" height="4.8"/><rect x="430.6" y="208.4" width="4.8" height="4.8"/><rect x="666.6" y="31.6" width="4.8" height="4.8"/><rect x="564.7" y="105.2" width="4.8" height="4.8"/><rect x="565.9" y="102.1" width="4.8" height="4.8"/><rect x="570.9" y="101.4" width="4.8" height="4.8"/><rect x="486.0" y="166.7" width="4.8" height="4.8"/><rect x="494.2" y="159.5" width="4.8" height="4.8"/><rect x="636.1" y="56.2" width="4.8" height="4.8"/><rect x="567.7" y="99.9" width="4.8" height="4.8"/><rect x="656.8" y="43.3" width="4.8" height="4.8"/><rect x="470.8" y="181.0" width="4.8" height="4.8"/><rect x="564.0" y="104.7" width="4.8" height="4.8"/><rect x="567.6" y="104.4" width="4.8" height="4.8"/><rect x="428.4" y="214.3" width="4.8" height="4.8"/><rect x="574.1" y="98.6" width="4.8" height="4.8"/><rect x="514.3" y="144.8" width="4.8" height="4.8"/><rect x="525.6" y="134.7" width="4.8" height="4.8"/><rect x="465.1" y="182.5" width="4.8" height="4.8"/><rect x="566.3" y="101.2" width="4.8" height="4.8"/><rect x="585.8" y="91.0" width="4.8" height="4.8"/><rect x="639.9" y="53.4" width="4.8" height="4.8"/><rect x="627.5" y="64.1" width="4.8" height="4.8"/><rect x="661.7" y="32.5" width="4.8" height="4.8"/><rect x="660.6" y="36.6" width="4.8" height="4.8"/><rect x="592.5" y="86.8" width="4.8" height="4.8"/><rect x="488.7" y="164.0" width="4.8" height="4.8"/><rect x="552.8" y="114.4" width="4.8" height="4.8"/><rect x="439.9" y="204.1" width="4.8" height="4.8"/><rect x="559.3" y="106.5" width="4.8" height="4.8"/><rect x="494.8" y="162.1" width="4.8" height="4.8"/><rect x="551.9" y="113.9" width="4.8" height="4.8"/><rect x="604.8" y="76.3" width="4.8" height="4.8"/><rect x="434.2" y="206.2" width="4.8" height="4.8"/><rect x="635.9" y="55.7" width="4.8" height="4.8"/><rect x="428.6" y="213.0" width="4.8" height="4.8"/><rect x="540.4" y="124.1" width="4.8" height="4.8"/><rect x="473.2" y="178.1" width="4.8" height="4.8"/><rect x="428.9" y="214.5" width="4.8" height="4.8"/><rect x="537.9" y="123.6" width="4.8" height="4.8"/><rect x="484.0" y="172.1" width="4.8" height="4.8"/><rect x="439.0" y="204.7" width="4.8" height="4.8"/><rect x="623.2" y="65.9" width="4.8" height="4.8"/><rect x="479.9" y="170.6" width="4.8" height="4.8"/><rect x="651.3" y="46.9" width="4.8" height="4.8"/><rect x="569.8" y="101.4" width="4.8" height="4.8"/><rect x="507.1" y="150.9" width="4.8" height="4.8"/><rect x="434.2" y="207.2" width="4.8" height="4.8"/><rect x="630.8" y="60.7" width="4.8" height="4.8"/><rect x="446.1" y="199.9" width="4.8" height="4.8"/><rect x="611.2" y="74.3" width="4.8" height="4.8"/><rect x="550.0" y="118.0" width="4.8" height="4.8"/><rect x="531.9" y="126.8" width="4.8" height="4.8"/><rect x="439.1" y="202.5" width="4.8" height="4.8"/><rect x="523.2" y="133.8" width="4.8" height="4.8"/><rect x="423.3" y="217.3" width="4.8" height="4.8"/><rect x="608.0" y="75.0" width="4.8" height="4.8"/><rect x="594.2" y="85.5" width="4.8" height="4.8"/><rect x="452.8" y="191.0" width="4.8" height="4.8"/><rect x="545.3" y="120.0" width="4.8" height="4.8"/><rect x="463.2" y="187.7" width="4.8" height="4.8"/><rect x="595.4" y="82.8" width="4.8" height="4.8"/><rect x="466.0" y="183.0" width="4.8" height="4.8"/><rect x="461.9" y="182.5" width="4.8" height="4.8"/><rect x="489.5" y="163.7" width="4.8" height="4.8"/><rect x="659.6" y="34.4" width="4.8" height="4.8"/><rect x="621.7" y="65.8" width="4.8" height="4.8"/><rect x="519.0" y="140.8" width="4.8" height="4.8"/><rect x="615.7" y="70.3" width="4.8" height="4.8"/><rect x="508.6" y="147.3" width="4.8" height="4.8"/><rect x="465.6" y="184.1" width="4.8" height="4.8"/><rect x="641.1" y="54.2" width="4.8" height="4.8"/><rect x="428.3" y="213.5" width="4.8" height="4.8"/><rect x="615.4" y="70.8" width="4.8" height="4.8"/><rect x="656.7" y="39.6" width="4.8" height="4.8"/><rect x="440.0" y="202.9" width="4.8" height="4.8"/><rect x="631.8" y="61.3" width="4.8" height="4.8"/><rect x="612.2" y="72.8" width="4.8" height="4.8"/><rect x="429.7" y="210.8" width="4.8" height="4.8"/><rect x="529.1" y="132.5" width="4.8" height="4.8"/><rect x="483.6" y="168.2" width="4.8" height="4.8"/><rect x="514.3" y="145.2" width="4.8" height="4.8"/><rect x="513.7" y="144.2" width="4.8" height="4.8"/><rect x="516.8" y="143.9" width="4.8" height="4.8"/><rect x="421.6" y="216.8" width="4.8" height="4.8"/><rect x="486.3" y="165.5" width="4.8" height="4.8"/><rect x="491.0" y="162.0" width="4.8" height="4.8"/><rect x="579.9" y="96.5" width="4.8" height="4.8"/><rect x="591.4" y="85.7" width="4.8" height="4.8"/><rect x="604.9" y="78.4" width="4.8" height="4.8"/><rect x="576.8" y="98.4" width="4.8" height="4.8"/><rect x="640.4" y="56.5" width="4.8" height="4.8"/><rect x="556.8" y="107.5" width="4.8" height="4.8"/><rect x="496.7" y="160.3" width="4.8" height="4.8"/><rect x="429.1" y="210.4" width="4.8" height="4.8"/><rect x="599.0" y="80.3" width="4.8" height="4.8"/><rect x="558.3" y="106.9" width="4.8" height="4.8"/><rect x="459.6" y="190.7" width="4.8" height="4.8"/><rect x="545.7" y="114.4" width="4.8" height="4.8"/><rect x="652.8" y="44.1" width="4.8" height="4.8"/><rect x="569.0" y="106.0" width="4.8" height="4.8"/><rect x="495.7" y="160.0" width="4.8" height="4.8"/><rect x="618.8" y="67.8" width="4.8" height="4.8"/><rect x="516.9" y="140.1" width="4.8" height="4.8"/><rect x="422.9" y="216.3" width="4.8" height="4.8"/><rect x="438.9" y="206.1" width="4.8" height="4.8"/><rect x="657.1" y="37.5" width="4.8" height="4.8"/><rect x="442.4" y="200.6" width="4.8" height="4.8"/><rect x="613.0" y="71.6" width="4.8" height="4.8"/><rect x="426.8" y="214.6" width="4.8" height="4.8"/><rect x="524.0" y="137.3" width="4.8" height="4.8"/><rect x="489.0" y="166.9" width="4.8" height="4.8"/><rect x="504.3" y="154.3" width="4.8" height="4.8"/><rect x="441.7" y="204.0" width="4.8" height="4.8"/><rect x="518.7" y="143.7" width="4.8" height="4.8"/><rect x="607.0" y="75.9" width="4.8" height="4.8"/><rect x="549.0" y="113.4" width="4.8" height="4.8"/><rect x="451.9" y="196.7" width="4.8" height="4.8"/><rect x="618.5" y="69.2" width="4.8" height="4.8"/><rect x="634.8" y="55.7" width="4.8" height="4.8"/><rect x="532.1" y="127.3" width="4.8" height="4.8"/><rect x="508.1" y="148.5" width="4.8" height="4.8"/><rect x="423.6" y="217.3" width="4.8" height="4.8"/><rect x="436.7" y="205.6" width="4.8" height="4.8"/><rect x="512.1" y="148.4" width="4.8" height="4.8"/><rect x="447.2" y="200.5" width="4.8" height="4.8"/><rect x="659.0" y="41.3" width="4.8" height="4.8"/><rect x="578.6" y="93.3" width="4.8" height="4.8"/><rect x="496.6" y="158.0" width="4.8" height="4.8"/><rect x="563.9" y="107.1" width="4.8" height="4.8"/><rect x="460.8" y="185.5" width="4.8" height="4.8"/><rect x="646.1" y="51.7" width="4.8" height="4.8"/><rect x="543.1" y="119.6" width="4.8" height="4.8"/><rect x="592.3" y="87.1" width="4.8" height="4.8"/><rect x="464.2" y="181.9" width="4.8" height="4.8"/><rect x="536.4" y="123.9" width="4.8" height="4.8"/><rect x="595.8" y="85.5" width="4.8" height="4.8"/><rect x="515.1" y="146.0" width="4.8" height="4.8"/><rect x="435.3" y="207.7" width="4.8" height="4.8"/><rect x="535.3" y="127.9" width="4.8" height="4.8"/><rect x="623.1" y="65.6" width="4.8" height="4.8"/><rect x="533.5" y="129.6" width="4.8" height="4.8"/><rect x="661.6" y="35.9" width="4.8" height="4.8"/><rect x="557.6" y="111.1" width="4.8" height="4.8"/><rect x="637.6" y="54.5" width="4.8" height="4.8"/><rect x="427.3" y="210.7" width="4.8" height="4.8"/><rect x="575.4" y="94.8" width="4.8" height="4.8"/><rect x="545.5" y="117.3" width="4.8" height="4.8"/><rect x="507.7" y="152.0" width="4.8" height="4.8"/><rect x="642.4" y="51.5" width="4.8" height="4.8"/><rect x="442.0" y="201.1" width="4.8" height="4.8"/><rect x="539.4" y="125.2" width="4.8" height="4.8"/><rect x="495.0" y="157.7" width="4.8" height="4.8"/><rect x="656.7" y="41.1" width="4.8" height="4.8"/><rect x="612.6" y="71.9" width="4.8" height="4.8"/><rect x="468.9" y="181.8" width="4.8" height="4.8"/><rect x="450.8" y="194.8" width="4.8" height="4.8"/><rect x="425.1" y="212.3" width="4.8" height="4.8"/><rect x="463.6" y="181.8" width="4.8" height="4.8"/><rect x="649.0" y="47.1" width="4.8" height="4.8"/><rect x="635.1" y="55.8" width="4.8" height="4.8"/><rect x="617.1" y="70.6" width="4.8" height="4.8"/><rect x="518.2" y="142.5" width="4.8" height="4.8"/><rect x="538.4" y="123.0" width="4.8" height="4.8"/><rect x="561.5" y="108.6" width="4.8" height="4.8"/><rect x="619.6" y="67.5" width="4.8" height="4.8"/><rect x="420.3" y="218.8" width="4.8" height="4.8"/><rect x="464.1" y="186.7" width="4.8" height="4.8"/><rect x="563.0" y="104.4" width="4.8" height="4.8"/><rect x="454.2" y="192.8" width="4.8" height="4.8"/><rect x="651.3" y="46.3" width="4.8" height="4.8"/><rect x="430.2" y="208.9" width="4.8" height="4.8"/><rect x="660.1" y="38.2" width="4.8" height="4.8"/><rect x="472.3" y="177.6" width="4.8" height="4.8"/><rect x="467.2" y="180.5" width="4.8" height="4.8"/><rect x="524.2" y="134.9" width="4.8" height="4.8"/><rect x="577.0" y="95.5" width="4.8" height="4.8"/><rect x="661.5" y="36.3" width="4.8" height="4.8"/><rect x="537.0" y="126.1" width="4.8" height="4.8"/><rect x="641.4" y="52.3" width="4.8" height="4.8"/><rect x="639.5" y="55.9" width="4.8" height="4.8"/><rect x="662.8" y="34.5" width="4.8" height="4.8"/><rect x="508.2" y="149.8" width="4.8" height="4.8"/><rect x="536.6" y="127.6" width="4.8" height="4.8"/><rect x="424.5" y="214.0" width="4.8" height="4.8"/><rect x="514.2" y="141.5" width="4.8" height="4.8"/><rect x="506.7" y="151.3" width="4.8" height="4.8"/><rect x="450.0" y="194.8" width="4.8" height="4.8"/><rect x="625.1" y="65.2" width="4.8" height="4.8"/><rect x="488.3" y="163.0" width="4.8" height="4.8"/><rect x="451.5" y="198.0" width="4.8" height="4.8"/><rect x="447.8" y="198.8" width="4.8" height="4.8"/><rect x="425.2" y="213.4" width="4.8" height="4.8"/><rect x="606.0" y="75.7" width="4.8" height="4.8"/><rect x="550.8" y="113.6" width="4.8" height="4.8"/><rect x="548.7" y="112.8" width="4.8" height="4.8"/><rect x="521.6" y="134.8" width="4.8" height="4.8"/><rect x="657.6" y="42.2" width="4.8" height="4.8"/><rect x="512.7" y="145.0" width="4.8" height="4.8"/><rect x="536.7" y="127.5" width="4.8" height="4.8"/><rect x="589.9" y="86.5" width="4.8" height="4.8"/><rect x="649.1" y="49.0" width="4.8" height="4.8"/><rect x="631.6" y="61.1" width="4.8" height="4.8"/><rect x="637.3" y="58.2" width="4.8" height="4.8"/><rect x="464.5" y="186.0" width="4.8" height="4.8"/><rect x="652.9" y="43.0" width="4.8" height="4.8"/><rect x="623.0" y="66.9" width="4.8" height="4.8"/><rect x="500.8" y="155.4" width="4.8" height="4.8"/><rect x="618.5" y="68.1" width="4.8" height="4.8"/><rect x="654.9" y="44.2" width="4.8" height="4.8"/><rect x="603.1" y="79.4" width="4.8" height="4.8"/><rect x="601.9" y="80.4" width="4.8" height="4.8"/><rect x="626.7" y="61.1" width="4.8" height="4.8"/><rect x="636.6" y="53.5" width="4.8" height="4.8"/><rect x="612.5" y="74.0" width="4.8" height="4.8"/><rect x="438.4" y="204.1" width="4.8" height="4.8"/><rect x="470.8" y="178.2" width="4.8" height="4.8"/><rect x="449.1" y="199.6" width="4.8" height="4.8"/><rect x="534.5" y="125.9" width="4.8" height="4.8"/><rect x="435.4" y="206.0" width="4.8" height="4.8"/><rect x="555.4" y="109.1" width="4.8" height="4.8"/><rect x="647.9" y="50.4" width="4.8" height="4.8"/><rect x="662.0" y="38.2" width="4.8" height="4.8"/><rect x="428.5" y="214.9" width="4.8" height="4.8"/><rect x="588.1" y="89.2" width="4.8" height="4.8"/><rect x="454.6" y="189.5" width="4.8" height="4.8"/><rect x="632.5" y="61.4" width="4.8" height="4.8"/><rect x="426.9" y="213.0" width="4.8" height="4.8"/><rect x="444.7" y="197.9" width="4.8" height="4.8"/><rect x="499.3" y="154.5" width="4.8" height="4.8"/><rect x="420.5" y="214.9" width="4.8" height="4.8"/><rect x="583.0" y="91.2" width="4.8" height="4.8"/><rect x="470.1" y="181.5" width="4.8" height="4.8"/><rect x="597.3" y="83.7" width="4.8" height="4.8"/><rect x="654.1" y="42.0" width="4.8" height="4.8"/><rect x="535.6" y="127.0" width="4.8" height="4.8"/><rect x="535.5" y="130.2" width="4.8" height="4.8"/><rect x="665.7" y="30.7" width="4.8" height="4.8"/><rect x="496.8" y="157.7" width="4.8" height="4.8"/><rect x="638.4" y="53.9" width="4.8" height="4.8"/><rect x="595.6" y="84.9" width="4.8" height="4.8"/><rect x="421.4" y="215.3" width="4.8" height="4.8"/><rect x="492.8" y="163.5" width="4.8" height="4.8"/><rect x="597.6" y="81.1" width="4.8" height="4.8"/><rect x="430.4" y="209.5" width="4.8" height="4.8"/><rect x="631.3" y="59.6" width="4.8" height="4.8"/><rect x="644.9" y="53.4" width="4.8" height="4.8"/><rect x="607.1" y="76.0" width="4.8" height="4.8"/><rect x="619.9" y="67.1" width="4.8" height="4.8"/><rect x="567.0" y="102.5" width="4.8" height="4.8"/><rect x="619.2" y="67.9" width="4.8" height="4.8"/><rect x="534.9" y="129.0" width="4.8" height="4.8"/><rect x="520.2" y="137.3" width="4.8" height="4.8"/><rect x="593.1" y="87.0" width="4.8" height="4.8"/><rect x="534.3" y="129.2" width="4.8" height="4.8"/><rect x="496.1" y="160.9" width="4.8" height="4.8"/><rect x="484.7" y="171.1" width="4.8" height="4.8"/><rect x="527.4" y="129.4" width="4.8" height="4.8"/><rect x="513.7" y="144.5" width="4.8" height="4.8"/><rect x="605.8" y="76.5" width="4.8" height="4.8"/><rect x="613.2" y="72.4" width="4.8" height="4.8"/><rect x="616.7" y="68.6" width="4.8" height="4.8"/><rect x="628.2" y="62.2" width="4.8" height="4.8"/><rect x="508.8" y="149.0" width="4.8" height="4.8"/><rect x="510.6" y="149.5" width="4.8" height="4.8"/><rect x="626.5" y="65.3" width="4.8" height="4.8"/><rect x="463.8" y="181.4" width="4.8" height="4.8"/><rect x="592.9" y="86.8" width="4.8" height="4.8"/><rect x="549.0" y="119.6" width="4.8" height="4.8"/><rect x="584.1" y="92.1" width="4.8" height="4.8"/><rect x="591.6" y="88.0" width="4.8" height="4.8"/><rect x="584.7" y="93.8" width="4.8" height="4.8"/><rect x="477.3" y="174.4" width="4.8" height="4.8"/><rect x="425.0" y="214.2" width="4.8" height="4.8"/><rect x="654.9" y="41.0" width="4.8" height="4.8"/><rect x="641.3" y="55.3" width="4.8" height="4.8"/><rect x="544.1" y="121.9" width="4.8" height="4.8"/><rect x="582.8" y="91.0" width="4.8" height="4.8"/><rect x="441.7" y="202.8" width="4.8" height="4.8"/><rect x="532.6" y="128.8" width="4.8" height="4.8"/><rect x="564.7" y="108.8" width="4.8" height="4.8"/><rect x="592.3" y="86.9" width="4.8" height="4.8"/><rect x="473.4" y="175.7" width="4.8" height="4.8"/><rect x="442.1" y="200.7" width="4.8" height="4.8"/><rect x="657.0" y="38.6" width="4.8" height="4.8"/><rect x="629.1" y="61.6" width="4.8" height="4.8"/><rect x="463.4" y="184.1" width="4.8" height="4.8"/><rect x="622.7" y="66.4" width="4.8" height="4.8"/><rect x="620.2" y="67.3" width="4.8" height="4.8"/><rect x="464.1" y="181.6" width="4.8" height="4.8"/><rect x="618.3" y="69.2" width="4.8" height="4.8"/><rect x="513.7" y="146.3" width="4.8" height="4.8"/><rect x="501.9" y="154.0" width="4.8" height="4.8"/><rect x="458.9" y="190.3" width="4.8" height="4.8"/><rect x="565.5" y="107.0" width="4.8" height="4.8"/><rect x="570.9" y="101.4" width="4.8" height="4.8"/><rect x="545.7" y="118.1" width="4.8" height="4.8"/><rect x="443.9" y="199.2" width="4.8" height="4.8"/><rect x="616.1" y="70.9" width="4.8" height="4.8"/><rect x="497.6" y="159.7" width="4.8" height="4.8"/><rect x="484.6" y="167.7" width="4.8" height="4.8"/><rect x="577.8" y="97.8" width="4.8" height="4.8"/><rect x="464.9" y="187.1" width="4.8" height="4.8"/><rect x="644.4" y="47.8" width="4.8" height="4.8"/><rect x="579.6" y="93.0" width="4.8" height="4.8"/><rect x="614.5" y="71.9" width="4.8" height="4.8"/><rect x="503.5" y="154.9" width="4.8" height="4.8"/><rect x="525.2" y="132.8" width="4.8" height="4.8"/><rect x="481.4" y="168.1" width="4.8" height="4.8"/><rect x="481.3" y="170.7" width="4.8" height="4.8"/><rect x="521.9" y="135.3" width="4.8" height="4.8"/><rect x="613.9" y="70.4" width="4.8" height="4.8"/><rect x="543.7" y="118.8" width="4.8" height="4.8"/><rect x="625.4" y="64.4" width="4.8" height="4.8"/><rect x="446.8" y="197.4" width="4.8" height="4.8"/><rect x="490.7" y="164.0" width="4.8" height="4.8"/><rect x="428.3" y="212.1" width="4.8" height="4.8"/><rect x="645.1" y="49.9" width="4.8" height="4.8"/><rect x="434.8" y="208.1" width="4.8" height="4.8"/><rect x="553.3" y="114.2" width="4.8" height="4.8"/><rect x="585.8" y="91.2" width="4.8" height="4.8"/><rect x="469.7" y="182.0" width="4.8" height="4.8"/><rect x="661.7" y="32.9" width="4.8" height="4.8"/><rect x="661.8" y="37.2" width="4.8" height="4.8"/><rect x="478.1" y="176.7" width="4.8" height="4.8"/><rect x="453.7" y="191.1" width="4.8" height="4.8"/><rect x="579.9" y="94.1" width="4.8" height="4.8"/><rect x="546.5" y="121.3" width="4.8" height="4.8"/><rect x="568.7" y="101.8" width="4.8" height="4.8"/><rect x="572.1" y="102.8" width="4.8" height="4.8"/><rect x="655.7" y="40.2" width="4.8" height="4.8"/><rect x="609.3" y="74.8" width="4.8" height="4.8"/><rect x="496.5" y="159.6" width="4.8" height="4.8"/><rect x="604.1" y="79.0" width="4.8" height="4.8"/><rect x="530.3" y="131.9" width="4.8" height="4.8"/><rect x="660.5" y="36.1" width="4.8" height="4.8"/><rect x="537.3" y="126.4" width="4.8" height="4.8"/><rect x="421.9" y="217.6" width="4.8" height="4.8"/><rect x="646.1" y="48.3" width="4.8" height="4.8"/><rect x="487.7" y="168.7" width="4.8" height="4.8"/><rect x="622.5" y="64.4" width="4.8" height="4.8"/><rect x="570.5" y="104.7" width="4.8" height="4.8"/><rect x="603.3" y="77.4" width="4.8" height="4.8"/><rect x="602.0" y="80.7" width="4.8" height="4.8"/><rect x="643.2" y="49.0" width="4.8" height="4.8"/><rect x="625.4" y="64.0" width="4.8" height="4.8"/><rect x="578.9" y="93.0" width="4.8" height="4.8"/><rect x="500.0" y="157.2" width="4.8" height="4.8"/><rect x="541.4" y="125.5" width="4.8" height="4.8"/><rect x="488.2" y="165.0" width="4.8" height="4.8"/><rect x="502.5" y="152.8" width="4.8" height="4.8"/><rect x="533.1" y="125.9" width="4.8" height="4.8"/><rect x="523.9" y="132.3" width="4.8" height="4.8"/><rect x="490.8" y="164.8" width="4.8" height="4.8"/><rect x="494.5" y="158.9" width="4.8" height="4.8"/><rect x="496.3" y="160.9" width="4.8" height="4.8"/><rect x="466.6" y="181.1" width="4.8" height="4.8"/><rect x="563.4" y="107.8" width="4.8" height="4.8"/><rect x="442.1" y="202.3" width="4.8" height="4.8"/><rect x="480.6" y="168.8" width="4.8" height="4.8"/><rect x="461.4" y="184.1" width="4.8" height="4.8"/><rect x="594.0" y="86.5" width="4.8" height="4.8"/><rect x="488.5" y="164.2" width="4.8" height="4.8"/><rect x="443.9" y="200.7" width="4.8" height="4.8"/><rect x="622.4" y="65.2" width="4.8" height="4.8"/><rect x="527.5" y="134.4" width="4.8" height="4.8"/><rect x="618.2" y="67.2" width="4.8" height="4.8"/><rect x="498.6" y="155.4" width="4.8" height="4.8"/><rect x="504.9" y="151.0" width="4.8" height="4.8"/><rect x="557.5" y="109.3" width="4.8" height="4.8"/><rect x="436.4" y="205.8" width="4.8" height="4.8"/><rect x="660.9" y="35.6" width="4.8" height="4.8"/><rect x="452.2" y="197.8" width="4.8" height="4.8"/><rect x="645.1" y="51.6" width="4.8" height="4.8"/><rect x="582.3" y="92.0" width="4.8" height="4.8"/><rect x="608.3" y="76.0" width="4.8" height="4.8"/><rect x="471.1" y="181.8" width="4.8" height="4.8"/><rect x="639.9" y="56.6" width="4.8" height="4.8"/><rect x="551.8" y="115.1" width="4.8" height="4.8"/><rect x="521.5" y="134.2" width="4.8" height="4.8"/><rect x="466.9" y="184.8" width="4.8" height="4.8"/><rect x="461.6" y="184.1" width="4.8" height="4.8"/><rect x="632.6" y="61.3" width="4.8" height="4.8"/><rect x="659.1" y="37.3" width="4.8" height="4.8"/><rect x="522.7" y="137.1" width="4.8" height="4.8"/><rect x="598.2" y="82.5" width="4.8" height="4.8"/><rect x="592.0" y="87.8" width="4.8" height="4.8"/><rect x="541.4" y="120.9" width="4.8" height="4.8"/><rect x="538.0" y="123.7" width="4.8" height="4.8"/><rect x="556.1" y="110.6" width="4.8" height="4.8"/><rect x="505.0" y="151.1" width="4.8" height="4.8"/><rect x="603.7" y="79.5" width="4.8" height="4.8"/><rect x="522.6" y="136.7" width="4.8" height="4.8"/><rect x="544.0" y="122.1" width="4.8" height="4.8"/><rect x="464.2" y="184.3" width="4.8" height="4.8"/><rect x="660.6" y="33.5" width="4.8" height="4.8"/><rect x="438.4" y="204.0" width="4.8" height="4.8"/><rect x="596.6" y="83.1" width="4.8" height="4.8"/><rect x="582.7" y="94.1" width="4.8" height="4.8"/><rect x="504.4" y="154.4" width="4.8" height="4.8"/><rect x="660.8" y="38.5" width="4.8" height="4.8"/><rect x="428.2" y="214.9" width="4.8" height="4.8"/><rect x="486.7" y="167.9" width="4.8" height="4.8"/><rect x="502.7" y="151.6" width="4.8" height="4.8"/><rect x="578.0" y="95.1" width="4.8" height="4.8"/><rect x="565.2" y="108.8" width="4.8" height="4.8"/><rect x="595.2" y="83.3" width="4.8" height="4.8"/><rect x="632.1" y="58.2" width="4.8" height="4.8"/><rect x="424.0" y="212.9" width="4.8" height="4.8"/><rect x="557.9" y="107.7" width="4.8" height="4.8"/><rect x="518.4" y="141.7" width="4.8" height="4.8"/><rect x="589.7" y="87.8" width="4.8" height="4.8"/><rect x="549.6" y="114.8" width="4.8" height="4.8"/><rect x="505.4" y="151.5" width="4.8" height="4.8"/><rect x="420.9" y="215.8" width="4.8" height="4.8"/><rect x="496.1" y="157.3" width="4.8" height="4.8"/><rect x="529.5" y="133.8" width="4.8" height="4.8"/><rect x="502.6" y="152.2" width="4.8" height="4.8"/><rect x="513.0" y="146.4" width="4.8" height="4.8"/><rect x="580.3" y="96.4" width="4.8" height="4.8"/><rect x="502.2" y="153.1" width="4.8" height="4.8"/><rect x="629.7" y="63.0" width="4.8" height="4.8"/><rect x="508.6" y="147.8" width="4.8" height="4.8"/><rect x="526.7" y="135.9" width="4.8" height="4.8"/><rect x="526.4" y="137.7" width="4.8" height="4.8"/><rect x="642.7" y="53.5" width="4.8" height="4.8"/><rect x="568.8" y="105.9" width="4.8" height="4.8"/><rect x="657.9" y="39.0" width="4.8" height="4.8"/><rect x="420.3" y="215.3" width="4.8" height="4.8"/><rect x="655.6" y="42.3" width="4.8" height="4.8"/><rect x="467.4" y="185.2" width="4.8" height="4.8"/><rect x="641.2" y="55.3" width="4.8" height="4.8"/><rect x="430.1" y="211.3" width="4.8" height="4.8"/><rect x="631.0" y="59.1" width="4.8" height="4.8"/><rect x="575.7" y="96.2" width="4.8" height="4.8"/><rect x="588.8" y="87.1" width="4.8" height="4.8"/><rect x="516.0" y="143.6" width="4.8" height="4.8"/><rect x="515.2" y="140.2" width="4.8" height="4.8"/><rect x="458.0" y="186.4" width="4.8" height="4.8"/><rect x="454.0" y="191.8" width="4.8" height="4.8"/><rect x="573.6" y="99.3" width="4.8" height="4.8"/><rect x="503.8" y="153.9" width="4.8" height="4.8"/><rect x="426.3" y="212.5" width="4.8" height="4.8"/><rect x="461.1" y="185.0" width="4.8" height="4.8"/><rect x="461.3" y="190.0" width="4.8" height="4.8"/><rect x="467.0" y="183.8" width="4.8" height="4.8"/><rect x="531.6" y="128.0" width="4.8" height="4.8"/><rect x="644.5" y="48.6" width="4.8" height="4.8"/><rect x="563.2" y="103.8" width="4.8" height="4.8"/><rect x="602.3" y="79.6" width="4.8" height="4.8"/><rect x="445.3" y="200.4" width="4.8" height="4.8"/><rect x="590.5" y="87.2" width="4.8" height="4.8"/><rect x="633.2" y="60.7" width="4.8" height="4.8"/><rect x="665.3" y="34.8" width="4.8" height="4.8"/><rect x="595.4" y="85.4" width="4.8" height="4.8"/><rect x="569.4" y="105.2" width="4.8" height="4.8"/><rect x="657.2" y="37.5" width="4.8" height="4.8"/><rect x="451.1" y="196.2" width="4.8" height="4.8"/><rect x="615.4" y="71.0" width="4.8" height="4.8"/><rect x="597.2" y="84.2" width="4.8" height="4.8"/><rect x="598.9" y="82.5" width="4.8" height="4.8"/><rect x="507.0" y="151.0" width="4.8" height="4.8"/><rect x="438.9" y="206.3" width="4.8" height="4.8"/><rect x="454.2" y="196.0" width="4.8" height="4.8"/><rect x="586.7" y="89.8" width="4.8" height="4.8"/><rect x="496.4" y="159.6" width="4.8" height="4.8"/><rect x="654.0" y="41.8" width="4.8" height="4.8"/><rect x="449.3" y="196.9" width="4.8" height="4.8"/><rect x="620.7" y="68.0" width="4.8" height="4.8"/><rect x="537.3" y="122.9" width="4.8" height="4.8"/><rect x="492.0" y="161.0" width="4.8" height="4.8"/><rect x="482.2" y="170.2" width="4.8" height="4.8"/><rect x="506.6" y="151.6" width="4.8" height="4.8"/><rect x="510.2" y="147.5" width="4.8" height="4.8"/><rect x="475.1" y="174.5" width="4.8" height="4.8"/><rect x="473.4" y="174.9" width="4.8" height="4.8"/><rect x="659.5" y="40.5" width="4.8" height="4.8"/><rect x="523.4" y="137.8" width="4.8" height="4.8"/><rect x="573.3" y="99.4" width="4.8" height="4.8"/><rect x="593.0" y="86.8" width="4.8" height="4.8"/><rect x="501.3" y="153.4" width="4.8" height="4.8"/><rect x="650.5" y="48.6" width="4.8" height="4.8"/><rect x="491.9" y="162.2" width="4.8" height="4.8"/><rect x="466.7" y="178.8" width="4.8" height="4.8"/><rect x="430.2" y="212.1" width="4.8" height="4.8"/><rect x="484.3" y="167.9" width="4.8" height="4.8"/><rect x="434.4" y="207.0" width="4.8" height="4.8"/><rect x="574.5" y="101.7" width="4.8" height="4.8"/><rect x="561.6" y="109.7" width="4.8" height="4.8"/><rect x="424.8" y="213.5" width="4.8" height="4.8"/><rect x="654.2" y="40.6" width="4.8" height="4.8"/><rect x="599.5" y="82.3" width="4.8" height="4.8"/><rect x="555.3" y="112.6" width="4.8" height="4.8"/><rect x="653.0" y="44.9" width="4.8" height="4.8"/><rect x="550.3" y="114.6" width="4.8" height="4.8"/><rect x="462.8" y="188.3" width="4.8" height="4.8"/><rect x="612.1" y="72.7" width="4.8" height="4.8"/><rect x="655.5" y="40.9" width="4.8" height="4.8"/><rect x="434.0" y="209.6" width="4.8" height="4.8"/><rect x="543.9" y="119.3" width="4.8" height="4.8"/><rect x="475.2" y="178.0" width="4.8" height="4.8"/><rect x="642.8" y="55.1" width="4.8" height="4.8"/><rect x="442.9" y="202.0" width="4.8" height="4.8"/><rect x="618.8" y="68.3" width="4.8" height="4.8"/><rect x="470.2" y="177.6" width="4.8" height="4.8"/><rect x="577.9" y="93.9" width="4.8" height="4.8"/><rect x="590.4" y="87.5" width="4.8" height="4.8"/><rect x="607.4" y="75.6" width="4.8" height="4.8"/><rect x="432.3" y="209.2" width="4.8" height="4.8"/><rect x="538.7" y="128.3" width="4.8" height="4.8"/><rect x="450.3" y="195.4" width="4.8" height="4.8"/><rect x="450.5" y="195.0" width="4.8" height="4.8"/><rect x="459.2" y="186.9" width="4.8" height="4.8"/><rect x="455.8" y="192.5" width="4.8" height="4.8"/><rect x="650.5" y="46.0" width="4.8" height="4.8"/><rect x="557.8" y="107.3" width="4.8" height="4.8"/><rect x="482.0" y="171.3" width="4.8" height="4.8"/><rect x="539.3" y="125.6" width="4.8" height="4.8"/><rect x="432.8" y="209.0" width="4.8" height="4.8"/><rect x="472.6" y="176.5" width="4.8" height="4.8"/><rect x="574.3" y="98.2" width="4.8" height="4.8"/><rect x="591.0" y="86.9" width="4.8" height="4.8"/><rect x="571.5" y="98.9" width="4.8" height="4.8"/><rect x="662.8" y="32.4" width="4.8" height="4.8"/><rect x="661.6" y="38.4" width="4.8" height="4.8"/><rect x="625.5" y="62.5" width="4.8" height="4.8"/><rect x="534.4" y="127.9" width="4.8" height="4.8"/><rect x="606.5" y="76.4" width="4.8" height="4.8"/><rect x="480.8" y="173.7" width="4.8" height="4.8"/><rect x="633.2" y="57.5" width="4.8" height="4.8"/><rect x="479.5" y="171.7" width="4.8" height="4.8"/><rect x="664.3" y="34.3" width="4.8" height="4.8"/><rect x="422.6" y="216.2" width="4.8" height="4.8"/><rect x="616.2" y="70.6" width="4.8" height="4.8"/><rect x="543.1" y="119.6" width="4.8" height="4.8"/><rect x="621.2" y="67.3" width="4.8" height="4.8"/><rect x="548.1" y="119.8" width="4.8" height="4.8"/><rect x="625.4" y="63.1" width="4.8" height="4.8"/><rect x="594.5" y="84.0" width="4.8" height="4.8"/><rect x="577.3" y="93.5" width="4.8" height="4.8"/><rect x="654.6" y="44.8" width="4.8" height="4.8"/><rect x="448.4" y="196.9" width="4.8" height="4.8"/><rect x="648.3" y="47.5" width="4.8" height="4.8"/><rect x="548.3" y="112.6" width="4.8" height="4.8"/><rect x="594.2" y="85.4" width="4.8" height="4.8"/><rect x="584.5" y="91.3" width="4.8" height="4.8"/><rect x="516.1" y="140.6" width="4.8" height="4.8"/><rect x="549.5" y="116.6" width="4.8" height="4.8"/><rect x="659.9" y="37.2" width="4.8" height="4.8"/><rect x="540.0" y="125.2" width="4.8" height="4.8"/><rect x="646.0" y="48.6" width="4.8" height="4.8"/><rect x="421.3" y="219.4" width="4.8" height="4.8"/><rect x="561.3" y="105.5" width="4.8" height="4.8"/><rect x="589.7" y="89.7" width="4.8" height="4.8"/><rect x="517.0" y="141.0" width="4.8" height="4.8"/><rect x="439.3" y="205.7" width="4.8" height="4.8"/><rect x="615.2" y="71.5" width="4.8" height="4.8"/><rect x="605.5" y="76.8" width="4.8" height="4.8"/><rect x="513.5" y="141.8" width="4.8" height="4.8"/><rect x="443.3" y="200.4" width="4.8" height="4.8"/><rect x="626.9" y="62.1" width="4.8" height="4.8"/><rect x="611.2" y="74.5" width="4.8" height="4.8"/><rect x="625.6" y="63.9" width="4.8" height="4.8"/><rect x="621.8" y="64.9" width="4.8" height="4.8"/><rect x="484.3" y="169.2" width="4.8" height="4.8"/><rect x="573.7" y="99.1" width="4.8" height="4.8"/><rect x="534.4" y="126.1" width="4.8" height="4.8"/><rect x="515.8" y="143.7" width="4.8" height="4.8"/><rect x="520.7" y="140.1" width="4.8" height="4.8"/><rect x="585.8" y="89.8" width="4.8" height="4.8"/><rect x="666.1" y="33.3" width="4.8" height="4.8"/><rect x="536.1" y="128.4" width="4.8" height="4.8"/><rect x="509.9" y="148.7" width="4.8" height="4.8"/><rect x="574.5" y="100.3" width="4.8" height="4.8"/><rect x="574.9" y="98.7" width="4.8" height="4.8"/><rect x="519.9" y="135.7" width="4.8" height="4.8"/><rect x="579.0" y="93.9" width="4.8" height="4.8"/><rect x="581.7" y="95.4" width="4.8" height="4.8"/><rect x="603.9" y="76.8" width="4.8" height="4.8"/><rect x="460.5" y="187.1" width="4.8" height="4.8"/><rect x="580.6" y="92.7" width="4.8" height="4.8"/><rect x="522.6" y="139.3" width="4.8" height="4.8"/><rect x="636.8" y="59.4" width="4.8" height="4.8"/><rect x="572.2" y="99.9" width="4.8" height="4.8"/><rect x="619.8" y="67.5" width="4.8" height="4.8"/><rect x="619.7" y="68.1" width="4.8" height="4.8"/><rect x="471.9" y="181.5" width="4.8" height="4.8"/><rect x="438.4" y="203.7" width="4.8" height="4.8"/><rect x="607.1" y="74.9" width="4.8" height="4.8"/><rect x="432.9" y="206.5" width="4.8" height="4.8"/><rect x="653.8" y="42.8" width="4.8" height="4.8"/><rect x="590.0" y="86.7" width="4.8" height="4.8"/><rect x="523.9" y="138.4" width="4.8" height="4.8"/><rect x="585.0" y="92.2" width="4.8" height="4.8"/><rect x="451.9" y="196.6" width="4.8" height="4.8"/><rect x="577.1" y="96.3" width="4.8" height="4.8"/><rect x="646.8" y="50.2" width="4.8" height="4.8"/><rect x="419.2" y="216.6" width="4.8" height="4.8"/><rect x="651.3" y="46.2" width="4.8" height="4.8"/><rect x="496.1" y="157.9" width="4.8" height="4.8"/><rect x="517.4" y="138.1" width="4.8" height="4.8"/><rect x="651.6" y="46.5" width="4.8" height="4.8"/><rect x="616.3" y="69.5" width="4.8" height="4.8"/><rect x="514.4" y="145.5" width="4.8" height="4.8"/><rect x="661.6" y="32.3" width="4.8" height="4.8"/><rect x="427.3" y="214.6" width="4.8" height="4.8"/><rect x="582.6" y="94.6" width="4.8" height="4.8"/><rect x="545.2" y="119.9" width="4.8" height="4.8"/><rect x="638.8" y="53.8" width="4.8" height="4.8"/><rect x="423.8" y="215.9" width="4.8" height="4.8"/><rect x="498.8" y="155.8" width="4.8" height="4.8"/><rect x="537.5" y="128.4" width="4.8" height="4.8"/><rect x="437.3" y="205.7" width="4.8" height="4.8"/><rect x="578.9" y="95.4" width="4.8" height="4.8"/><rect x="628.9" y="63.3" width="4.8" height="4.8"/><rect x="643.4" y="50.4" width="4.8" height="4.8"/><rect x="454.9" y="192.1" width="4.8" height="4.8"/><rect x="544.5" y="116.7" width="4.8" height="4.8"/><rect x="662.9" y="34.5" width="4.8" height="4.8"/><rect x="436.9" y="205.4" width="4.8" height="4.8"/><rect x="593.6" y="84.0" width="4.8" height="4.8"/><rect x="490.0" y="163.3" width="4.8" height="4.8"/><rect x="644.0" y="47.9" width="4.8" height="4.8"/><rect x="569.7" y="102.7" width="4.8" height="4.8"/><rect x="640.9" y="53.0" width="4.8" height="4.8"/><rect x="431.7" y="207.6" width="4.8" height="4.8"/><rect x="569.0" y="103.8" width="4.8" height="4.8"/><rect x="523.1" y="134.7" width="4.8" height="4.8"/><rect x="445.9" y="199.9" width="4.8" height="4.8"/><rect x="520.4" y="140.0" width="4.8" height="4.8"/><rect x="602.7" y="79.2" width="4.8" height="4.8"/><rect x="563.2" y="106.6" width="4.8" height="4.8"/><rect x="566.1" y="101.9" width="4.8" height="4.8"/><rect x="488.4" y="164.8" width="4.8" height="4.8"/><rect x="545.1" y="115.1" width="4.8" height="4.8"/><rect x="529.6" y="134.1" width="4.8" height="4.8"/><rect x="644.3" y="47.5" width="4.8" height="4.8"/><rect x="636.4" y="55.0" width="4.8" height="4.8"/><rect x="527.4" y="130.8" width="4.8" height="4.8"/><rect x="543.7" y="124.5" width="4.8" height="4.8"/><rect x="491.6" y="162.1" width="4.8" height="4.8"/><rect x="559.5" y="106.0" width="4.8" height="4.8"/><rect x="451.5" y="197.3" width="4.8" height="4.8"/><rect x="658.1" y="37.0" width="4.8" height="4.8"/><rect x="521.7" y="140.6" width="4.8" height="4.8"/><rect x="421.5" y="217.6" width="4.8" height="4.8"/><rect x="492.7" y="160.2" width="4.8" height="4.8"/><rect x="654.0" y="41.5" width="4.8" height="4.8"/><rect x="496.0" y="160.7" width="4.8" height="4.8"/><rect x="514.8" y="144.6" width="4.8" height="4.8"/><rect x="660.4" y="39.8" width="4.8" height="4.8"/><rect x="613.4" y="71.6" width="4.8" height="4.8"/><rect x="508.4" y="149.5" width="4.8" height="4.8"/><rect x="460.0" y="185.6" width="4.8" height="4.8"/><rect x="515.9" y="141.1" width="4.8" height="4.8"/><rect x="511.5" y="146.5" width="4.8" height="4.8"/><rect x="640.5" y="51.5" width="4.8" height="4.8"/><rect x="552.6" y="115.2" width="4.8" height="4.8"/><rect x="648.0" y="45.9" width="4.8" height="4.8"/><rect x="663.2" y="32.3" width="4.8" height="4.8"/><rect x="634.3" y="56.0" width="4.8" height="4.8"/><rect x="519.8" y="141.7" width="4.8" height="4.8"/><rect x="515.8" y="146.0" width="4.8" height="4.8"/><rect x="554.6" y="109.3" width="4.8" height="4.8"/><rect x="587.3" y="88.0" width="4.8" height="4.8"/><rect x="629.2" y="63.2" width="4.8" height="4.8"/><rect x="621.5" y="66.9" width="4.8" height="4.8"/><rect x="496.6" y="158.4" width="4.8" height="4.8"/><rect x="601.3" y="79.6" width="4.8" height="4.8"/><rect x="512.3" y="145.5" width="4.8" height="4.8"/><rect x="611.3" y="74.1" width="4.8" height="4.8"/><rect x="422.5" y="215.9" width="4.8" height="4.8"/><rect x="629.2" y="59.5" width="4.8" height="4.8"/><rect x="591.9" y="87.4" width="4.8" height="4.8"/><rect x="455.5" y="192.9" width="4.8" height="4.8"/><rect x="481.1" y="169.5" width="4.8" height="4.8"/><rect x="496.2" y="158.8" width="4.8" height="4.8"/><rect x="546.2" y="121.0" width="4.8" height="4.8"/><rect x="643.3" y="53.9" width="4.8" height="4.8"/><rect x="659.3" y="36.5" width="4.8" height="4.8"/><rect x="568.3" y="103.0" width="4.8" height="4.8"/><rect x="446.2" y="201.6" width="4.8" height="4.8"/><rect x="661.2" y="36.2" width="4.8" height="4.8"/><rect x="656.8" y="38.6" width="4.8" height="4.8"/><rect x="441.0" y="202.7" width="4.8" height="4.8"/><rect x="583.9" y="93.6" width="4.8" height="4.8"/><rect x="584.1" y="90.4" width="4.8" height="4.8"/><rect x="582.7" y="93.4" width="4.8" height="4.8"/><rect x="598.6" y="83.1" width="4.8" height="4.8"/><rect x="420.5" y="215.9" width="4.8" height="4.8"/><rect x="495.6" y="159.6" width="4.8" height="4.8"/><rect x="502.7" y="153.9" width="4.8" height="4.8"/><rect x="579.8" y="92.8" width="4.8" height="4.8"/><rect x="442.7" y="200.5" width="4.8" height="4.8"/><rect x="487.6" y="168.2" width="4.8" height="4.8"/><rect x="462.6" y="186.6" width="4.8" height="4.8"/><rect x="430.9" y="208.4" width="4.8" height="4.8"/><rect x="536.3" y="126.9" width="4.8" height="4.8"/><rect x="469.7" y="178.6" width="4.8" height="4.8"/><rect x="538.5" y="123.4" width="4.8" height="4.8"/><rect x="470.2" y="180.1" width="4.8" height="4.8"/><rect x="615.1" y="71.5" width="4.8" height="4.8"/><rect x="446.8" y="198.1" width="4.8" height="4.8"/><rect x="610.0" y="74.4" width="4.8" height="4.8"/><rect x="581.9" y="92.1" width="4.8" height="4.8"/><rect x="458.4" y="188.7" width="4.8" height="4.8"/><rect x="512.8" y="145.4" width="4.8" height="4.8"/><rect x="513.8" y="145.4" width="4.8" height="4.8"/><rect x="531.7" y="127.1" width="4.8" height="4.8"/><rect x="586.1" y="89.1" width="4.8" height="4.8"/><rect x="422.9" y="215.6" width="4.8" height="4.8"/><rect x="460.2" y="187.9" width="4.8" height="4.8"/><rect x="592.0" y="87.7" width="4.8" height="4.8"/><rect x="442.2" y="204.3" width="4.8" height="4.8"/><rect x="628.1" y="61.9" width="4.8" height="4.8"/><rect x="510.9" y="145.5" width="4.8" height="4.8"/><rect x="428.2" y="211.6" width="4.8" height="4.8"/><rect x="609.3" y="73.6" width="4.8" height="4.8"/><rect x="479.8" y="174.3" width="4.8" height="4.8"/><rect x="666.2" y="33.6" width="4.8" height="4.8"/><rect x="647.5" y="51.0" width="4.8" height="4.8"/><rect x="638.2" y="57.1" width="4.8" height="4.8"/><rect x="637.9" y="56.8" width="4.8" height="4.8"/><rect x="437.4" y="205.4" width="4.8" height="4.8"/><rect x="425.8" y="212.5" width="4.8" height="4.8"/><rect x="518.4" y="138.9" width="4.8" height="4.8"/><rect x="523.2" y="135.2" width="4.8" height="4.8"/><rect x="520.3" y="141.6" width="4.8" height="4.8"/><rect x="566.8" y="105.7" width="4.8" height="4.8"/><rect x="613.1" y="71.3" width="4.8" height="4.8"/><rect x="614.2" y="72.0" width="4.8" height="4.8"/><rect x="649.3" y="48.0" width="4.8" height="4.8"/><rect x="586.6" y="88.9" width="4.8" height="4.8"/><rect x="636.3" y="57.8" width="4.8" height="4.8"/><rect x="441.8" y="201.0" width="4.8" height="4.8"/><rect x="425.6" y="216.4" width="4.8" height="4.8"/><rect x="530.9" y="132.0" width="4.8" height="4.8"/><rect x="637.6" y="56.7" width="4.8" height="4.8"/><rect x="514.6" y="143.7" width="4.8" height="4.8"/><rect x="446.6" y="197.5" width="4.8" height="4.8"/><rect x="450.4" y="194.8" width="4.8" height="4.8"/><rect x="475.8" y="177.7" width="4.8" height="4.8"/><rect x="632.9" y="56.8" width="4.8" height="4.8"/><rect x="502.4" y="154.2" width="4.8" height="4.8"/><rect x="631.8" y="59.6" width="4.8" height="4.8"/><rect x="652.3" y="45.9" width="4.8" height="4.8"/><rect x="610.8" y="73.7" width="4.8" height="4.8"/><rect x="647.7" y="47.8" width="4.8" height="4.8"/><rect x="482.3" y="169.6" width="4.8" height="4.8"/><rect x="467.3" y="182.2" width="4.8" height="4.8"/><rect x="479.0" y="175.6" width="4.8" height="4.8"/><rect x="423.6" y="216.9" width="4.8" height="4.8"/><rect x="649.5" y="45.8" width="4.8" height="4.8"/><rect x="470.2" y="176.9" width="4.8" height="4.8"/><rect x="575.1" y="99.6" width="4.8" height="4.8"/><rect x="489.6" y="164.3" width="4.8" height="4.8"/><rect x="552.8" y="117.1" width="4.8" height="4.8"/><rect x="527.0" y="134.4" width="4.8" height="4.8"/><rect x="597.6" y="82.2" width="4.8" height="4.8"/><rect x="468.9" y="181.1" width="4.8" height="4.8"/><rect x="490.6" y="164.8" width="4.8" height="4.8"/><rect x="453.5" y="194.2" width="4.8" height="4.8"/><rect x="499.6" y="156.7" width="4.8" height="4.8"/><rect x="625.5" y="64.0" width="4.8" height="4.8"/><rect x="657.6" y="37.9" width="4.8" height="4.8"/><rect x="422.9" y="216.2" width="4.8" height="4.8"/><rect x="628.3" y="59.9" width="4.8" height="4.8"/><rect x="600.8" y="80.3" width="4.8" height="4.8"/><rect x="438.8" y="206.3" width="4.8" height="4.8"/><rect x="458.9" y="190.5" width="4.8" height="4.8"/><rect x="633.3" y="57.8" width="4.8" height="4.8"/><rect x="467.2" y="182.3" width="4.8" height="4.8"/><rect x="643.9" y="53.6" width="4.8" height="4.8"/><rect x="552.8" y="115.8" width="4.8" height="4.8"/><rect x="662.7" y="35.1" width="4.8" height="4.8"/><rect x="544.1" y="123.0" width="4.8" height="4.8"/><rect x="451.6" y="192.4" width="4.8" height="4.8"/><rect x="569.1" y="100.4" width="4.8" height="4.8"/><rect x="529.4" y="131.6" width="4.8" height="4.8"/><rect x="436.7" y="206.0" width="4.8" height="4.8"/><rect x="621.7" y="66.2" width="4.8" height="4.8"/><rect x="641.7" y="55.9" width="4.8" height="4.8"/><rect x="657.7" y="38.7" width="4.8" height="4.8"/><rect x="578.6" y="97.2" width="4.8" height="4.8"/><rect x="563.5" y="106.4" width="4.8" height="4.8"/><rect x="467.4" y="178.4" width="4.8" height="4.8"/><rect x="657.7" y="36.5" width="4.8" height="4.8"/><rect x="601.0" y="81.4" width="4.8" height="4.8"/><rect x="584.6" y="93.0" width="4.8" height="4.8"/><rect x="591.0" y="87.4" width="4.8" height="4.8"/><rect x="627.4" y="63.2" width="4.8" height="4.8"/><rect x="504.1" y="155.2" width="4.8" height="4.8"/><rect x="446.9" y="197.5" width="4.8" height="4.8"/><rect x="664.4" y="34.4" width="4.8" height="4.8"/><rect x="427.0" y="215.2" width="4.8" height="4.8"/><rect x="486.4" y="168.4" width="4.8" height="4.8"/><rect x="540.9" y="120.8" width="4.8" height="4.8"/><rect x="429.1" y="210.0" width="4.8" height="4.8"/><rect x="496.0" y="157.9" width="4.8" height="4.8"/><rect x="634.5" y="59.1" width="4.8" height="4.8"/><rect x="573.9" y="96.0" width="4.8" height="4.8"/><rect x="563.6" y="102.7" width="4.8" height="4.8"/><rect x="423.7" y="216.0" width="4.8" height="4.8"/><rect x="524.9" y="134.1" width="4.8" height="4.8"/><rect x="449.4" y="195.4" width="4.8" height="4.8"/><rect x="515.0" y="141.9" width="4.8" height="4.8"/><rect x="515.4" y="145.5" width="4.8" height="4.8"/><rect x="524.3" y="134.1" width="4.8" height="4.8"/><rect x="497.4" y="156.2" width="4.8" height="4.8"/><rect x="612.5" y="73.5" width="4.8" height="4.8"/><rect x="533.8" y="126.9" width="4.8" height="4.8"/><rect x="643.8" y="49.2" width="4.8" height="4.8"/><rect x="504.3" y="153.2" width="4.8" height="4.8"/><rect x="454.7" y="194.7" width="4.8" height="4.8"/><rect x="507.1" y="150.0" width="4.8" height="4.8"/><rect x="634.8" y="55.7" width="4.8" height="4.8"/><rect x="508.0" y="149.9" width="4.8" height="4.8"/><rect x="622.2" y="65.1" width="4.8" height="4.8"/><rect x="590.7" y="87.9" width="4.8" height="4.8"/><rect x="483.1" y="171.4" width="4.8" height="4.8"/><rect x="466.5" y="185.2" width="4.8" height="4.8"/><rect x="447.1" y="197.1" width="4.8" height="4.8"/><rect x="530.4" y="129.3" width="4.8" height="4.8"/><rect x="591.0" y="85.7" width="4.8" height="4.8"/><rect x="491.9" y="160.7" width="4.8" height="4.8"/><rect x="655.3" y="42.8" width="4.8" height="4.8"/><rect x="422.7" y="213.6" width="4.8" height="4.8"/><rect x="613.5" y="72.9" width="4.8" height="4.8"/><rect x="461.3" y="186.7" width="4.8" height="4.8"/><rect x="666.1" y="28.4" width="4.8" height="4.8"/><rect x="443.5" y="201.7" width="4.8" height="4.8"/><rect x="647.1" y="47.9" width="4.8" height="4.8"/><rect x="518.5" y="138.5" width="4.8" height="4.8"/><rect x="490.1" y="165.6" width="4.8" height="4.8"/><rect x="429.3" y="211.1" width="4.8" height="4.8"/><rect x="473.5" y="174.8" width="4.8" height="4.8"/><rect x="514.0" y="143.1" width="4.8" height="4.8"/><rect x="650.7" y="46.3" width="4.8" height="4.8"/><rect x="658.6" y="37.6" width="4.8" height="4.8"/><rect x="438.9" y="205.1" width="4.8" height="4.8"/><rect x="558.2" y="108.2" width="4.8" height="4.8"/><rect x="427.3" y="211.7" width="4.8" height="4.8"/><rect x="444.9" y="201.8" width="4.8" height="4.8"/><rect x="571.6" y="100.5" width="4.8" height="4.8"/><rect x="549.5" y="120.0" width="4.8" height="4.8"/><rect x="641.9" y="51.7" width="4.8" height="4.8"/><rect x="642.8" y="53.6" width="4.8" height="4.8"/><rect x="458.7" y="188.9" width="4.8" height="4.8"/><rect x="576.0" y="98.5" width="4.8" height="4.8"/><rect x="618.7" y="67.1" width="4.8" height="4.8"/><rect x="610.3" y="74.0" width="4.8" height="4.8"/><rect x="559.5" y="111.0" width="4.8" height="4.8"/><rect x="545.9" y="121.2" width="4.8" height="4.8"/><rect x="560.5" y="107.8" width="4.8" height="4.8"/><rect x="521.4" y="134.7" width="4.8" height="4.8"/><rect x="559.0" y="106.1" width="4.8" height="4.8"/><rect x="639.8" y="51.3" width="4.8" height="4.8"/><rect x="505.3" y="151.5" width="4.8" height="4.8"/><rect x="528.2" y="135.1" width="4.8" height="4.8"/><rect x="527.6" y="133.3" width="4.8" height="4.8"/><rect x="633.6" y="60.1" width="4.8" height="4.8"/><rect x="479.7" y="171.6" width="4.8" height="4.8"/><rect x="527.9" y="130.1" width="4.8" height="4.8"/><rect x="605.1" y="77.1" width="4.8" height="4.8"/><rect x="516.2" y="141.8" width="4.8" height="4.8"/><rect x="630.9" y="62.2" width="4.8" height="4.8"/><rect x="552.2" y="114.5" width="4.8" height="4.8"/><rect x="443.7" y="202.0" width="4.8" height="4.8"/><rect x="509.9" y="145.4" width="4.8" height="4.8"/><rect x="455.4" y="188.7" width="4.8" height="4.8"/><rect x="527.9" y="135.6" width="4.8" height="4.8"/><rect x="509.3" y="149.2" width="4.8" height="4.8"/><rect x="503.2" y="154.4" width="4.8" height="4.8"/><rect x="624.4" y="65.5" width="4.8" height="4.8"/><rect x="641.2" y="54.7" width="4.8" height="4.8"/><rect x="606.2" y="75.7" width="4.8" height="4.8"/><rect x="608.7" y="75.8" width="4.8" height="4.8"/><rect x="640.1" y="53.8" width="4.8" height="4.8"/><rect x="646.2" y="49.0" width="4.8" height="4.8"/><rect x="618.9" y="73.5" width="4.8" height="4.8"/><rect x="651.2" y="54.7" width="4.8" height="4.8"/><rect x="633.8" y="63.3" width="4.8" height="4.8"/><rect x="651.3" y="51.7" width="4.8" height="4.8"/><rect x="648.4" y="54.7" width="4.8" height="4.8"/><rect x="612.0" y="78.0" width="4.8" height="4.8"/><rect x="619.9" y="73.2" width="4.8" height="4.8"/><rect x="619.9" y="73.6" width="4.8" height="4.8"/><rect x="646.4" y="58.9" width="4.8" height="4.8"/><rect x="629.2" y="67.0" width="4.8" height="4.8"/><rect x="663.2" y="40.5" width="4.8" height="4.8"/><rect x="661.5" y="42.1" width="4.8" height="4.8"/><rect x="637.6" y="64.9" width="4.8" height="4.8"/><rect x="654.2" y="50.0" width="4.8" height="4.8"/><rect x="647.8" y="57.4" width="4.8" height="4.8"/><rect x="624.6" y="70.0" width="4.8" height="4.8"/><rect x="620.7" y="72.2" width="4.8" height="4.8"/><rect x="644.4" y="59.7" width="4.8" height="4.8"/><rect x="632.6" y="66.2" width="4.8" height="4.8"/><rect x="652.6" y="53.4" width="4.8" height="4.8"/><rect x="645.0" y="56.2" width="4.8" height="4.8"/><rect x="660.4" y="45.1" width="4.8" height="4.8"/><rect x="616.5" y="75.4" width="4.8" height="4.8"/><rect x="630.2" y="66.8" width="4.8" height="4.8"/><rect x="654.7" y="51.2" width="4.8" height="4.8"/><rect x="625.8" y="70.7" width="4.8" height="4.8"/><rect x="617.2" y="74.7" width="4.8" height="4.8"/><rect x="629.9" y="66.0" width="4.8" height="4.8"/><rect x="669.0" y="8.3" width="4.8" height="4.8"/><rect x="669.3" y="8.6" width="4.8" height="4.8"/><rect x="669.1" y="8.9" width="4.8" height="4.8"/><rect x="669.3" y="9.2" width="4.8" height="4.8"/><rect x="669.2" y="9.5" width="4.8" height="4.8"/><rect x="669.1" y="9.8" width="4.8" height="4.8"/><rect x="669.2" y="10.1" width="4.8" height="4.8"/><rect x="669.2" y="10.4" width="4.8" height="4.8"/><rect x="669.1" y="10.7" width="4.8" height="4.8"/><rect x="669.3" y="11.0" width="4.8" height="4.8"/><rect x="669.2" y="11.3" width="4.8" height="4.8"/><rect x="669.3" y="11.6" width="4.8" height="4.8"/><rect x="669.2" y="11.9" width="4.8" height="4.8"/><rect x="669.1" y="12.2" width="4.8" height="4.8"/><rect x="669.2" y="12.5" width="4.8" height="4.8"/><rect x="669.4" y="12.8" width="4.8" height="4.8"/><rect x="669.1" y="13.1" width="4.8" height="4.8"/><rect x="669.3" y="13.4" width="4.8" height="4.8"/><rect x="669.0" y="13.7" width="4.8" height="4.8"/><rect x="669.3" y="14.0" width="4.8" height="4.8"/><rect x="669.3" y="14.3" width="4.8" height="4.8"/><rect x="669.2" y="14.6" width="4.8" height="4.8"/><rect x="669.1" y="14.9" width="4.8" height="4.8"/><rect x="669.3" y="15.2" width="4.8" height="4.8"/><rect x="669.1" y="15.5" width="4.8" height="4.8"/><rect x="669.1" y="15.8" width="4.8" height="4.8"/><rect x="669.1" y="16.1" width="4.8" height="4.8"/><rect x="669.0" y="16.4" width="4.8" height="4.8"/><rect x="669.2" y="16.7" width="4.8" height="4.8"/><rect x="669.2" y="17.0" width="4.8" height="4.8"/><rect x="669.2" y="17.3" width="4.8" height="4.8"/><rect x="669.4" y="17.6" width="4.8" height="4.8"/><rect x="669.1" y="17.9" width="4.8" height="4.8"/><rect x="669.2" y="18.2" width="4.8" height="4.8"/><rect x="669.2" y="18.5" width="4.8" height="4.8"/><rect x="669.0" y="18.8" width="4.8" height="4.8"/><rect x="669.2" y="19.1" width="4.8" height="4.8"/><rect x="669.0" y="19.4" width="4.8" height="4.8"/><rect x="669.3" y="19.7" width="4.8" height="4.8"/><rect x="669.3" y="20.0" width="4.8" height="4.8"/><rect x="669.3" y="20.3" width="4.8" height="4.8"/><rect x="669.1" y="20.6" width="4.8" height="4.8"/><rect x="669.4" y="20.9" width="4.8" height="4.8"/><rect x="669.0" y="21.2" width="4.8" height="4.8"/><rect x="669.4" y="21.5" width="4.8" height="4.8"/><rect x="669.2" y="21.8" width="4.8" height="4.8"/><rect x="669.3" y="22.1" width="4.8" height="4.8"/><rect x="669.1" y="22.4" width="4.8" height="4.8"/><rect x="669.2" y="22.7" width="4.8" height="4.8"/><rect x="669.1" y="23.0" width="4.8" height="4.8"/><rect x="669.0" y="23.3" width="4.8" height="4.8"/><rect x="669.0" y="23.6" width="4.8" height="4.8"/><rect x="669.1" y="23.9" width="4.8" height="4.8"/><rect x="669.3" y="24.2" width="4.8" height="4.8"/><rect x="669.2" y="24.5" width="4.8" height="4.8"/><rect x="669.1" y="24.8" width="4.8" height="4.8"/><rect x="669.2" y="25.1" width="4.8" height="4.8"/><rect x="669.4" y="25.4" width="4.8" height="4.8"/><rect x="669.0" y="25.7" width="4.8" height="4.8"/><rect x="669.3" y="26.0" width="4.8" height="4.8"/><rect x="669.2" y="26.3" width="4.8" height="4.8"/><rect x="669.3" y="26.6" width="4.8" height="4.8"/><rect x="669.4" y="26.9" width="4.8" height="4.8"/><rect x="669.1" y="27.2" width="4.8" height="4.8"/><rect x="669.2" y="27.5" width="4.8" height="4.8"/><rect x="669.3" y="27.8" width="4.8" height="4.8"/><rect x="669.4" y="28.1" width="4.8" height="4.8"/><rect x="669.3" y="28.4" width="4.8" height="4.8"/><rect x="669.3" y="28.7" width="4.8" height="4.8"/><rect x="669.1" y="29.0" width="4.8" height="4.8"/><rect x="669.0" y="29.3" width="4.8" height="4.8"/><rect x="669.3" y="29.6" width="4.8" height="4.8"/><rect x="669.3" y="29.9" width="4.8" height="4.8"/><rect x="669.3" y="30.2" width="4.8" height="4.8"/><rect x="669.3" y="30.5" width="4.8" height="4.8"/><rect x="669.2" y="30.8" width="4.8" height="4.8"/><rect x="669.2" y="31.1" width="4.8" height="4.8"/><rect x="669.2" y="31.4" width="4.8" height="4.8"/><rect x="669.0" y="31.7" width="4.8" height="4.8"/><rect x="669.4" y="32.0" width="4.8" height="4.8"/><rect x="669.2" y="32.3" width="4.8" height="4.8"/><rect x="669.0" y="32.6" width="4.8" height="4.8"/><rect x="669.1" y="32.9" width="4.8" height="4.8"/><rect x="669.4" y="33.2" width="4.8" height="4.8"/><rect x="669.2" y="33.5" width="4.8" height="4.8"/><rect x="669.2" y="33.8" width="4.8" height="4.8"/><rect x="669.1" y="34.1" width="4.8" height="4.8"/><rect x="669.2" y="34.4" width="4.8" height="4.8"/><rect x="669.3" y="34.7" width="4.8" height="4.8"/><rect x="669.2" y="35.0" width="4.8" height="4.8"/><rect x="669.1" y="35.3" width="4.8" height="4.8"/><rect x="669.2" y="35.6" width="4.8" height="4.8"/><rect x="669.2" y="35.9" width="4.8" height="4.8"/><rect x="669.0" y="36.2" width="4.8" height="4.8"/><rect x="669.3" y="36.5" width="4.8" height="4.8"/><rect x="669.1" y="36.8" width="4.8" height="4.8"/><rect x="669.4" y="37.1" width="4.8" height="4.8"/><rect x="669.1" y="37.4" width="4.8" height="4.8"/><rect x="669.2" y="37.7" width="4.8" height="4.8"/><rect x="669.3" y="38.0" width="4.8" height="4.8"/><rect x="669.4" y="38.3" width="4.8" height="4.8"/><rect x="669.4" y="38.6" width="4.8" height="4.8"/><rect x="669.0" y="38.9" width="4.8" height="4.8"/><rect x="669.4" y="39.2" width="4.8" height="4.8"/><rect x="669.0" y="39.5" width="4.8" height="4.8"/><rect x="669.3" y="39.8" width="4.8" height="4.8"/><rect x="668.1" y="24.1" width="4.8" height="4.8"/><rect x="667.3" y="27.4" width="4.8" height="4.8"/><rect x="664.8" y="30.9" width="4.8" height="4.8"/><rect x="661.3" y="35.1" width="4.8" height="4.8"/><rect x="657.1" y="39.3" width="4.8" height="4.8"/><rect x="658.6" y="38.2" width="4.8" height="4.8"/><rect x="658.6" y="41.4" width="4.8" height="4.8"/><rect x="662.6" y="35.1" width="4.8" height="4.8"/><rect x="662.6" y="38.3" width="4.8" height="4.8"/><rect x="662.6" y="41.5" width="4.8" height="4.8"/><rect x="666.6" y="32.1" width="4.8" height="4.8"/><rect x="666.6" y="35.3" width="4.8" height="4.8"/><rect x="666.6" y="38.5" width="4.8" height="4.8"/><rect x="666.6" y="41.7" width="4.8" height="4.8"/><rect x="669.2" y="44.6" width="4.8" height="4.8"/><rect x="669.2" y="49.6" width="4.8" height="4.8"/><rect x="669.2" y="54.1" width="4.8" height="4.8"/><rect x="669.2" y="58.6" width="4.8" height="4.8"/><rect x="669.2" y="63.1" width="4.8" height="4.8"/><rect x="669.2" y="67.1" width="4.8" height="4.8"/><rect x="661.6" y="48.1" width="4.8" height="4.8"/><rect x="659.1" y="46.6" width="4.8" height="4.8"/><rect x="647.9" y="61.4" width="4.8" height="4.8"/><rect x="643.6" y="64.4" width="4.8" height="4.8"/><rect x="646.1" y="58.6" width="4.8" height="4.8"/><rect x="637.1" y="68.1" width="4.8" height="4.8"/><rect x="633.6" y="66.6" width="4.8" height="4.8"/><rect x="640.1" y="62.1" width="4.8" height="4.8"/><rect x="652.6" y="55.1" width="4.8" height="4.8"/><rect x="655.6" y="51.6" width="4.8" height="4.8"/><rect x="628.6" y="59.6" width="4.8" height="4.8"/><rect x="623.6" y="63.6" width="4.8" height="4.8"/><rect x="632.1" y="61.6" width="4.8" height="4.8"/><rect x="650.6" y="58.6" width="4.8" height="4.8"/><rect x="416.7" y="221.7" width="4.8" height="4.8"/><rect x="416.9" y="221.7" width="4.8" height="4.8"/><rect x="417.8" y="219.5" width="4.8" height="4.8"/><rect x="418.9" y="217.0" width="4.8" height="4.8"/><rect x="420.1" y="214.5" width="4.8" height="4.8"/><rect x="421.0" y="211.1" width="4.8" height="4.8"/><rect x="421.2" y="212.0" width="4.8" height="4.8"/><rect x="418.7" y="220.4" width="4.8" height="4.8"/><rect x="420.2" y="219.4" width="4.8" height="4.8"/><rect x="422.3" y="217.6" width="4.8" height="4.8"/><rect x="424.7" y="216.2" width="4.8" height="4.8"/><rect x="427.8" y="214.9" width="4.8" height="4.8"/><rect x="419.7" y="217.9" width="4.8" height="4.8"/><rect x="421.7" y="215.4" width="4.8" height="4.8"/><rect x="423.8" y="210.6" width="4.8" height="4.8"/><rect x="425.2" y="211.9" width="4.8" height="4.8"/><rect x="423.2" y="213.4" width="4.8" height="4.8"/></g>
<line x1="68.01" y1="222.49" x2="321.40" y2="25.30" stroke="#96bf70" stroke-width="2.4" stroke-linecap="butt"/>
<line x1="418.12" y1="223.07" x2="671.60" y2="30.50" stroke="#96bf70" stroke-width="2.4" stroke-linecap="butt"/>
<rect x="56.00" y="0.50" width="278.00" height="234.80" fill="none" stroke="#cfcfcf" stroke-width="1.5"/>
<line x1="63.50" y1="236.00" x2="63.50" y2="246.60" stroke="#333" stroke-width="1.3"/>
<line x1="55.30" y1="226.00" x2="44.80" y2="226.00" stroke="#333" stroke-width="1.3"/>
<text transform="translate(63.50,263.6) scale(0.925,1)" text-anchor="middle" class="tk">0.0</text>
<text transform="translate(36.20,230.90) scale(0.925,1)" text-anchor="end" class="tk">0.0</text>
<line x1="127.97" y1="236.00" x2="127.97" y2="246.60" stroke="#333" stroke-width="1.3"/>
<line x1="55.30" y1="175.82" x2="44.80" y2="175.82" stroke="#333" stroke-width="1.3"/>
<text transform="translate(127.97,263.6) scale(0.925,1)" text-anchor="middle" class="tk">0.2</text>
<text transform="translate(36.20,180.72) scale(0.925,1)" text-anchor="end" class="tk">0.2</text>
<line x1="192.45" y1="236.00" x2="192.45" y2="246.60" stroke="#333" stroke-width="1.3"/>
<line x1="55.30" y1="125.65" x2="44.80" y2="125.65" stroke="#333" stroke-width="1.3"/>
<text transform="translate(192.45,263.6) scale(0.925,1)" text-anchor="middle" class="tk">0.4</text>
<text transform="translate(36.20,130.55) scale(0.925,1)" text-anchor="end" class="tk">0.4</text>
<line x1="256.92" y1="236.00" x2="256.92" y2="246.60" stroke="#333" stroke-width="1.3"/>
<line x1="55.30" y1="75.48" x2="44.80" y2="75.48" stroke="#333" stroke-width="1.3"/>
<text transform="translate(256.92,263.6) scale(0.925,1)" text-anchor="middle" class="tk">0.6</text>
<text transform="translate(36.20,80.38) scale(0.925,1)" text-anchor="end" class="tk">0.6</text>
<line x1="321.40" y1="236.00" x2="321.40" y2="246.60" stroke="#333" stroke-width="1.3"/>
<line x1="55.30" y1="25.30" x2="44.80" y2="25.30" stroke="#333" stroke-width="1.3"/>
<text transform="translate(321.40,263.6) scale(0.925,1)" text-anchor="middle" class="tk">0.8</text>
<text transform="translate(36.20,30.20) scale(0.925,1)" text-anchor="end" class="tk">0.8</text>
<text transform="translate(194.70,282.5) scale(0.94,1)" text-anchor="middle" class="al" style="font-size:16.35px;stroke:#262626;stroke-width:0.35px">Experimental C(mol/m3)</text>
<text transform="translate(9.70,117.30) rotate(-90) scale(0.985,1)" x="0" y="0" text-anchor="middle" class="al">Predicted C(mol/m3)</text>
<rect x="406.50" y="0.50" width="277.50" height="234.50" fill="none" stroke="#cfcfcf" stroke-width="1.5"/>
<line x1="413.60" y1="235.70" x2="413.60" y2="246.30" stroke="#333" stroke-width="1.3"/>
<line x1="405.80" y1="226.50" x2="395.30" y2="226.50" stroke="#333" stroke-width="1.3"/>
<text transform="translate(413.60,263.6) scale(0.925,1)" text-anchor="middle" class="tk">0.0</text>
<text transform="translate(386.70,231.40) scale(0.925,1)" text-anchor="end" class="tk">0.0</text>
<line x1="478.10" y1="235.70" x2="478.10" y2="246.30" stroke="#333" stroke-width="1.3"/>
<line x1="405.80" y1="177.50" x2="395.30" y2="177.50" stroke="#333" stroke-width="1.3"/>
<text transform="translate(478.10,263.6) scale(0.925,1)" text-anchor="middle" class="tk">0.2</text>
<text transform="translate(386.70,182.40) scale(0.925,1)" text-anchor="end" class="tk">0.2</text>
<line x1="542.60" y1="235.70" x2="542.60" y2="246.30" stroke="#333" stroke-width="1.3"/>
<line x1="405.80" y1="128.50" x2="395.30" y2="128.50" stroke="#333" stroke-width="1.3"/>
<text transform="translate(542.60,263.6) scale(0.925,1)" text-anchor="middle" class="tk">0.4</text>
<text transform="translate(386.70,133.40) scale(0.925,1)" text-anchor="end" class="tk">0.4</text>
<line x1="607.10" y1="235.70" x2="607.10" y2="246.30" stroke="#333" stroke-width="1.3"/>
<line x1="405.80" y1="79.50" x2="395.30" y2="79.50" stroke="#333" stroke-width="1.3"/>
<text transform="translate(607.10,263.6) scale(0.925,1)" text-anchor="middle" class="tk">0.6</text>
<text transform="translate(386.70,84.40) scale(0.925,1)" text-anchor="end" class="tk">0.6</text>
<line x1="671.60" y1="235.70" x2="671.60" y2="246.30" stroke="#333" stroke-width="1.3"/>
<line x1="405.80" y1="30.50" x2="395.30" y2="30.50" stroke="#333" stroke-width="1.3"/>
<text transform="translate(671.60,263.6) scale(0.925,1)" text-anchor="middle" class="tk">0.8</text>
<text transform="translate(386.70,35.40) scale(0.925,1)" text-anchor="end" class="tk">0.8</text>
<text transform="translate(544.95,282.5) scale(0.94,1)" text-anchor="middle" class="al" style="font-size:16.35px;stroke:#262626;stroke-width:0.35px">Experimental C(mol/m3)</text>
<text transform="translate(360.20,117.15) rotate(-90) scale(0.985,1)" x="0" y="0" text-anchor="middle" class="al">Predicted C(mol/m3)</text>
<rect x="74.50" y="12.9" width="5.2" height="5.2" fill="rgb(255,40,0)" fill-opacity="0.65"/>
<line x1="65.40" y1="30.15" x2="88.10" y2="30.15" stroke="#96bf70" stroke-width="2.3" stroke-linecap="round"/>
<text transform="translate(97.20,18.4) scale(0.975,1)" class="lg">Test Data</text>
<text x="97.40" y="33.7" class="lg">Perfect Prediction</text>
<rect x="425.00" y="12.9" width="5.2" height="5.2" fill="rgb(0,0,205)" fill-opacity="0.65"/>
<line x1="415.90" y1="30.15" x2="438.60" y2="30.15" stroke="#96bf70" stroke-width="2.3" stroke-linecap="round"/>
<text transform="translate(447.70,18.4) scale(0.975,1)" class="lg">Train Data</text>
<text x="447.90" y="33.7" class="lg">Perfect Prediction</text>
</svg></body></html>
